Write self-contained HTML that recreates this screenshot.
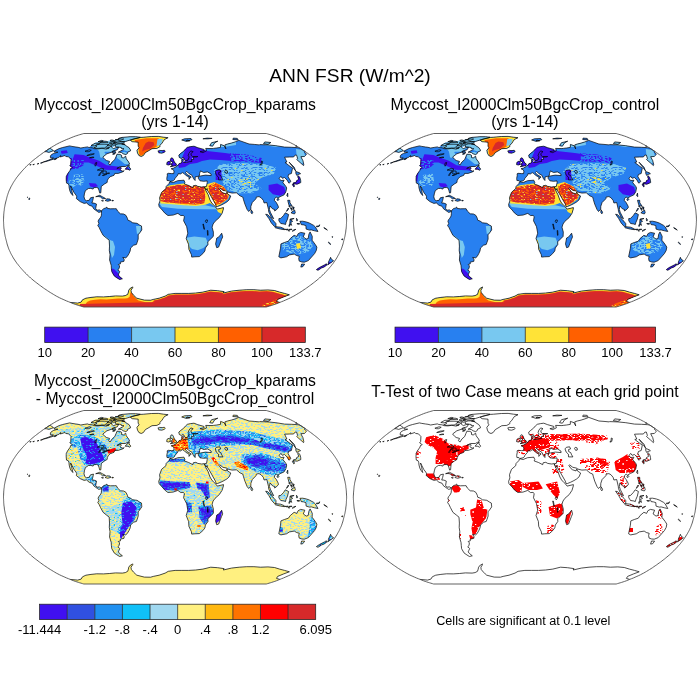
<!DOCTYPE html><html><head><meta charset="utf-8"><style>
html,body{margin:0;padding:0;background:#fff;width:700px;height:700px;overflow:hidden}
svg{position:absolute;left:0;top:0;will-change:transform}
text{font-family:"Liberation Sans",sans-serif;fill:#000}
</style></head><body>
<svg width="700" height="700" viewBox="0 0 700 700">
<defs><pattern id="mixYL" width="30" height="24" patternUnits="userSpaceOnUse">
<rect width="30" height="24" fill="#FFF080"/>
<path d="M0 0h1.25v1h-1.25zM2.5 0h1.25v1h-1.25zM6.25 0h2.5v1h-2.5zM10 0h2.5v1h-2.5zM13.75 0h1.25v1h-1.25zM16.25 0h1.25v1h-1.25zM18.75 0h1.25v1h-1.25zM26.25 0h1.25v1h-1.25zM0 1h2.5v1h-2.5zM3.75 1h1.25v1h-1.25zM10 1h1.25v1h-1.25zM12.5 1h1.25v1h-1.25zM16.25 1h3.75v1h-3.75zM21.25 1h1.25v1h-1.25zM23.75 1h1.25v1h-1.25zM26.25 1h2.5v1h-2.5zM8.75 2h1.25v1h-1.25zM16.25 2h1.25v1h-1.25zM20 2h2.5v1h-2.5zM25 2h1.25v1h-1.25zM27.5 2h2.5v1h-2.5zM0 3h1.25v1h-1.25zM3.75 3h1.25v1h-1.25zM6.25 3h1.25v1h-1.25zM8.75 3h1.25v1h-1.25zM15 3h2.5v1h-2.5zM18.75 3h3.75v1h-3.75zM23.75 3h2.5v1h-2.5zM27.5 3h1.25v1h-1.25zM1.25 4h2.5v1h-2.5zM12.5 4h1.25v1h-1.25zM15 4h2.5v1h-2.5zM21.25 4h2.5v1h-2.5zM25 4h1.25v1h-1.25zM28.75 4h1.25v1h-1.25zM1.25 5h1.25v1h-1.25zM3.75 5h1.25v1h-1.25zM7.5 5h2.5v1h-2.5zM12.5 5h2.5v1h-2.5zM16.25 5h5v1h-5zM22.5 5h2.5v1h-2.5zM26.25 5h1.25v1h-1.25zM0 6h2.5v1h-2.5zM3.75 6h3.75v1h-3.75zM8.75 6h3.75v1h-3.75zM13.75 6h1.25v1h-1.25zM16.25 6h2.5v1h-2.5zM21.25 6h3.75v1h-3.75zM26.25 6h1.25v1h-1.25zM0 7h2.5v1h-2.5zM6.25 7h3.75v1h-3.75zM11.25 7h6.25v1h-6.25zM18.75 7h2.5v1h-2.5zM25 7h1.25v1h-1.25zM28.75 7h1.25v1h-1.25zM5 8h5v1h-5zM11.25 8h1.25v1h-1.25zM13.75 8h1.25v1h-1.25zM22.5 8h1.25v1h-1.25zM25 8h2.5v1h-2.5zM0 9h1.25v1h-1.25zM3.75 9h2.5v1h-2.5zM7.5 9h1.25v1h-1.25zM10 9h2.5v1h-2.5zM15 9h1.25v1h-1.25zM21.25 9h1.25v1h-1.25zM25 9h3.75v1h-3.75zM0 10h2.5v1h-2.5zM3.75 10h6.25v1h-6.25zM12.5 10h1.25v1h-1.25zM15 10h3.75v1h-3.75zM21.25 10h5v1h-5zM28.75 10h1.25v1h-1.25zM0 11h3.75v1h-3.75zM6.25 11h1.25v1h-1.25zM10 11h2.5v1h-2.5zM15 11h1.25v1h-1.25zM17.5 11h2.5v1h-2.5zM22.5 11h3.75v1h-3.75zM28.75 11h1.25v1h-1.25zM2.5 12h3.75v1h-3.75zM15 12h1.25v1h-1.25zM17.5 12h2.5v1h-2.5zM21.25 12h3.75v1h-3.75zM26.25 12h2.5v1h-2.5zM0 13h1.25v1h-1.25zM8.75 13h1.25v1h-1.25zM13.75 13h1.25v1h-1.25zM17.5 13h2.5v1h-2.5zM22.5 13h3.75v1h-3.75zM28.75 13h1.25v1h-1.25zM0 14h6.25v1h-6.25zM8.75 14h1.25v1h-1.25zM11.25 14h1.25v1h-1.25zM21.25 14h2.5v1h-2.5zM27.5 14h1.25v1h-1.25zM0 15h3.75v1h-3.75zM5 15h2.5v1h-2.5zM10 15h1.25v1h-1.25zM12.5 15h1.25v1h-1.25zM16.25 15h10v1h-10zM27.5 15h1.25v1h-1.25zM0 16h1.25v1h-1.25zM2.5 16h1.25v1h-1.25zM11.25 16h1.25v1h-1.25zM15 16h3.75v1h-3.75zM23.75 16h5v1h-5zM2.5 17h1.25v1h-1.25zM5 17h2.5v1h-2.5zM8.75 17h2.5v1h-2.5zM12.5 17h2.5v1h-2.5zM17.5 17h3.75v1h-3.75zM22.5 17h1.25v1h-1.25zM26.25 17h1.25v1h-1.25zM28.75 17h1.25v1h-1.25zM0 18h1.25v1h-1.25zM2.5 18h1.25v1h-1.25zM6.25 18h1.25v1h-1.25zM8.75 18h1.25v1h-1.25zM12.5 18h1.25v1h-1.25zM17.5 18h1.25v1h-1.25zM23.75 18h1.25v1h-1.25zM26.25 18h1.25v1h-1.25zM1.25 19h1.25v1h-1.25zM5 19h1.25v1h-1.25zM8.75 19h1.25v1h-1.25zM11.25 19h2.5v1h-2.5zM18.75 19h5v1h-5zM28.75 19h1.25v1h-1.25zM0 20h2.5v1h-2.5zM3.75 20h1.25v1h-1.25zM6.25 20h1.25v1h-1.25zM8.75 20h3.75v1h-3.75zM15 20h1.25v1h-1.25zM17.5 20h5v1h-5zM25 20h3.75v1h-3.75zM3.75 21h3.75v1h-3.75zM10 21h2.5v1h-2.5zM13.75 21h1.25v1h-1.25zM18.75 21h1.25v1h-1.25zM26.25 21h1.25v1h-1.25zM2.5 22h1.25v1h-1.25zM8.75 22h2.5v1h-2.5zM12.5 22h1.25v1h-1.25zM16.25 22h1.25v1h-1.25zM21.25 22h1.25v1h-1.25zM25 22h5v1h-5zM2.5 23h1.25v1h-1.25zM6.25 23h1.25v1h-1.25zM13.75 23h1.25v1h-1.25zM18.75 23h1.25v1h-1.25zM22.5 23h6.25v1h-6.25z" fill="#A0D8F0"/>
</pattern><pattern id="mixY" width="30" height="24" patternUnits="userSpaceOnUse">
<rect width="30" height="24" fill="#FFF080"/>
<path d="M7.5 0h1.25v1h-1.25zM13.75 0h1.25v1h-1.25zM20 0h2.5v1h-2.5zM26.25 0h1.25v1h-1.25zM28.75 0h1.25v1h-1.25zM1.25 1h2.5v1h-2.5zM5 1h2.5v1h-2.5zM15 1h1.25v1h-1.25zM23.75 1h3.75v1h-3.75zM0 2h1.25v1h-1.25zM11.25 2h1.25v1h-1.25zM13.75 2h1.25v1h-1.25zM17.5 2h1.25v1h-1.25zM22.5 2h3.75v1h-3.75zM27.5 2h1.25v1h-1.25zM7.5 3h1.25v1h-1.25zM12.5 3h1.25v1h-1.25zM15 3h1.25v1h-1.25zM26.25 3h3.75v1h-3.75zM2.5 4h2.5v1h-2.5zM15 4h1.25v1h-1.25zM17.5 4h1.25v1h-1.25zM21.25 4h1.25v1h-1.25zM27.5 4h1.25v1h-1.25zM0 5h1.25v1h-1.25zM16.25 5h1.25v1h-1.25zM25 5h1.25v1h-1.25zM20 6h1.25v1h-1.25zM15 7h1.25v1h-1.25zM23.75 7h1.25v1h-1.25zM5 8h2.5v1h-2.5zM10 8h1.25v1h-1.25zM13.75 8h1.25v1h-1.25zM17.5 8h2.5v1h-2.5zM21.25 8h3.75v1h-3.75zM2.5 9h1.25v1h-1.25zM7.5 9h1.25v1h-1.25zM11.25 9h1.25v1h-1.25zM13.75 9h1.25v1h-1.25zM26.25 9h1.25v1h-1.25zM6.25 10h2.5v1h-2.5zM11.25 10h1.25v1h-1.25zM7.5 11h1.25v1h-1.25zM15 11h1.25v1h-1.25zM23.75 11h1.25v1h-1.25zM3.75 12h1.25v1h-1.25zM17.5 12h1.25v1h-1.25zM25 12h1.25v1h-1.25zM8.75 13h1.25v1h-1.25zM12.5 13h1.25v1h-1.25zM21.25 13h1.25v1h-1.25zM27.5 13h1.25v1h-1.25zM1.25 14h1.25v1h-1.25zM7.5 14h1.25v1h-1.25zM13.75 14h1.25v1h-1.25zM16.25 14h1.25v1h-1.25zM21.25 14h1.25v1h-1.25zM25 14h1.25v1h-1.25zM28.75 14h1.25v1h-1.25zM1.25 15h2.5v1h-2.5zM5 15h2.5v1h-2.5zM11.25 15h1.25v1h-1.25zM20 15h1.25v1h-1.25zM22.5 15h1.25v1h-1.25zM6.25 16h1.25v1h-1.25zM11.25 16h1.25v1h-1.25zM15 16h1.25v1h-1.25zM17.5 16h2.5v1h-2.5zM27.5 16h1.25v1h-1.25zM0 17h2.5v1h-2.5zM6.25 17h1.25v1h-1.25zM11.25 17h1.25v1h-1.25zM21.25 17h1.25v1h-1.25zM5 18h5v1h-5zM13.75 18h1.25v1h-1.25zM21.25 18h3.75v1h-3.75zM28.75 18h1.25v1h-1.25zM2.5 19h1.25v1h-1.25zM7.5 19h1.25v1h-1.25zM17.5 19h1.25v1h-1.25zM23.75 19h3.75v1h-3.75zM28.75 19h1.25v1h-1.25zM10 20h1.25v1h-1.25zM18.75 20h2.5v1h-2.5zM23.75 20h1.25v1h-1.25zM0 21h2.5v1h-2.5zM6.25 21h1.25v1h-1.25zM8.75 21h1.25v1h-1.25zM11.25 21h1.25v1h-1.25zM16.25 21h2.5v1h-2.5zM20 21h1.25v1h-1.25zM25 21h1.25v1h-1.25zM27.5 21h1.25v1h-1.25zM3.75 22h2.5v1h-2.5zM20 22h1.25v1h-1.25zM22.5 22h1.25v1h-1.25zM27.5 22h2.5v1h-2.5zM1.25 23h1.25v1h-1.25zM6.25 23h1.25v1h-1.25zM8.75 23h2.5v1h-2.5zM13.75 23h1.25v1h-1.25z" fill="#A0D8F0"/>
</pattern><pattern id="mixYO" width="30" height="24" patternUnits="userSpaceOnUse">
<rect width="30" height="24" fill="#FFF080"/>
<path d="M3.75 0h2.5v1h-2.5zM12.5 0h1.25v1h-1.25zM20 0h1.25v1h-1.25zM23.75 0h1.25v1h-1.25zM0 1h1.25v1h-1.25zM5 1h2.5v1h-2.5zM8.75 1h1.25v1h-1.25zM12.5 1h1.25v1h-1.25zM25 1h1.25v1h-1.25zM1.25 2h1.25v1h-1.25zM5 2h1.25v1h-1.25zM8.75 2h1.25v1h-1.25zM11.25 2h2.5v1h-2.5zM16.25 2h1.25v1h-1.25zM18.75 2h1.25v1h-1.25zM27.5 2h1.25v1h-1.25zM0 3h1.25v1h-1.25zM6.25 3h1.25v1h-1.25zM21.25 3h1.25v1h-1.25zM23.75 3h1.25v1h-1.25zM27.5 3h2.5v1h-2.5zM0 4h1.25v1h-1.25zM3.75 4h1.25v1h-1.25zM7.5 4h1.25v1h-1.25zM12.5 4h1.25v1h-1.25zM16.25 4h1.25v1h-1.25zM5 5h2.5v1h-2.5zM8.75 5h2.5v1h-2.5zM12.5 5h1.25v1h-1.25zM18.75 5h2.5v1h-2.5zM0 6h1.25v1h-1.25zM2.5 6h1.25v1h-1.25zM6.25 6h1.25v1h-1.25zM8.75 6h2.5v1h-2.5zM17.5 6h1.25v1h-1.25zM20 6h1.25v1h-1.25zM0 7h1.25v1h-1.25zM7.5 7h1.25v1h-1.25zM10 7h1.25v1h-1.25zM13.75 7h1.25v1h-1.25zM16.25 7h1.25v1h-1.25zM18.75 7h1.25v1h-1.25zM23.75 7h2.5v1h-2.5zM0 8h2.5v1h-2.5zM3.75 8h1.25v1h-1.25zM11.25 8h1.25v1h-1.25zM13.75 8h1.25v1h-1.25zM18.75 8h2.5v1h-2.5zM22.5 8h1.25v1h-1.25zM25 8h3.75v1h-3.75zM1.25 9h2.5v1h-2.5zM7.5 9h1.25v1h-1.25zM10 9h1.25v1h-1.25zM15 9h1.25v1h-1.25zM2.5 10h1.25v1h-1.25zM6.25 10h2.5v1h-2.5zM10 10h1.25v1h-1.25zM12.5 10h1.25v1h-1.25zM15 10h1.25v1h-1.25zM18.75 10h1.25v1h-1.25zM22.5 10h1.25v1h-1.25zM27.5 10h1.25v1h-1.25zM0 11h2.5v1h-2.5zM3.75 11h1.25v1h-1.25zM11.25 11h1.25v1h-1.25zM13.75 11h1.25v1h-1.25zM18.75 11h1.25v1h-1.25zM21.25 11h1.25v1h-1.25zM0 12h1.25v1h-1.25zM2.5 12h1.25v1h-1.25zM5 12h1.25v1h-1.25zM7.5 12h1.25v1h-1.25zM13.75 12h6.25v1h-6.25zM21.25 12h1.25v1h-1.25zM23.75 12h2.5v1h-2.5zM27.5 12h1.25v1h-1.25zM6.25 13h2.5v1h-2.5zM10 13h1.25v1h-1.25zM18.75 13h1.25v1h-1.25zM1.25 14h1.25v1h-1.25zM7.5 14h2.5v1h-2.5zM13.75 14h1.25v1h-1.25zM16.25 14h1.25v1h-1.25zM21.25 14h1.25v1h-1.25zM23.75 14h1.25v1h-1.25zM12.5 15h3.75v1h-3.75zM18.75 15h1.25v1h-1.25zM21.25 15h1.25v1h-1.25zM25 15h1.25v1h-1.25zM28.75 15h1.25v1h-1.25zM1.25 16h1.25v1h-1.25zM5 16h2.5v1h-2.5zM12.5 16h1.25v1h-1.25zM23.75 16h2.5v1h-2.5zM27.5 16h1.25v1h-1.25zM1.25 17h2.5v1h-2.5zM7.5 17h1.25v1h-1.25zM12.5 17h1.25v1h-1.25zM17.5 17h1.25v1h-1.25zM21.25 17h1.25v1h-1.25zM23.75 17h1.25v1h-1.25zM0 18h2.5v1h-2.5zM8.75 18h1.25v1h-1.25zM18.75 18h1.25v1h-1.25zM23.75 18h1.25v1h-1.25zM28.75 18h1.25v1h-1.25zM0 19h3.75v1h-3.75zM5 19h2.5v1h-2.5zM11.25 19h1.25v1h-1.25zM15 19h1.25v1h-1.25zM18.75 19h2.5v1h-2.5zM22.5 19h1.25v1h-1.25zM28.75 19h1.25v1h-1.25zM5 20h1.25v1h-1.25zM12.5 20h2.5v1h-2.5zM23.75 20h2.5v1h-2.5zM1.25 21h2.5v1h-2.5zM6.25 21h5v1h-5zM18.75 21h1.25v1h-1.25zM23.75 21h3.75v1h-3.75zM0 22h1.25v1h-1.25zM6.25 22h1.25v1h-1.25zM8.75 22h2.5v1h-2.5zM13.75 22h8.75v1h-8.75zM1.25 23h3.75v1h-3.75zM6.25 23h2.5v1h-2.5zM15 23h1.25v1h-1.25zM22.5 23h1.25v1h-1.25zM28.75 23h1.25v1h-1.25z" fill="#A0D8F0"/>
<path d="M10 0h1.25v1h-1.25zM15 1h1.25v1h-1.25zM26.25 1h1.25v1h-1.25zM25 2h2.5v1h-2.5zM3.75 3h1.25v1h-1.25zM2.5 4h1.25v1h-1.25zM17.5 4h1.25v1h-1.25zM26.25 4h1.25v1h-1.25zM0 5h1.25v1h-1.25zM15 5h1.25v1h-1.25zM1.25 6h1.25v1h-1.25zM2.5 8h1.25v1h-1.25zM0 9h1.25v1h-1.25zM17.5 9h1.25v1h-1.25zM20 9h1.25v1h-1.25zM28.75 9h1.25v1h-1.25zM5 10h1.25v1h-1.25zM13.75 10h1.25v1h-1.25zM3.75 12h1.25v1h-1.25zM0 13h1.25v1h-1.25zM10 14h1.25v1h-1.25zM12.5 14h1.25v1h-1.25zM22.5 14h1.25v1h-1.25zM3.75 15h1.25v1h-1.25zM5 17h1.25v1h-1.25zM10 17h1.25v1h-1.25zM23.75 19h1.25v1h-1.25zM18.75 20h1.25v1h-1.25zM12.5 21h1.25v1h-1.25zM11.25 22h1.25v1h-1.25zM20 23h1.25v1h-1.25zM26.25 23h1.25v1h-1.25z" fill="#10C0F8"/>
<path d="M28.75 0h1.25v1h-1.25zM28.75 1h1.25v1h-1.25zM7.5 2h1.25v1h-1.25zM20 2h1.25v1h-1.25zM23.75 2h1.25v1h-1.25zM18.75 4h1.25v1h-1.25zM21.25 4h1.25v1h-1.25zM28.75 4h1.25v1h-1.25zM10 8h1.25v1h-1.25zM8.75 9h1.25v1h-1.25zM16.25 9h1.25v1h-1.25zM6.25 14h1.25v1h-1.25zM15 14h1.25v1h-1.25zM0 16h1.25v1h-1.25zM11.25 18h1.25v1h-1.25zM3.75 19h1.25v1h-1.25zM17.5 19h1.25v1h-1.25zM26.25 19h1.25v1h-1.25zM16.25 20h1.25v1h-1.25zM27.5 20h1.25v1h-1.25zM11.25 21h1.25v1h-1.25zM22.5 22h1.25v1h-1.25zM28.75 22h1.25v1h-1.25zM8.75 23h1.25v1h-1.25z" fill="#FFB810"/>
</pattern><pattern id="mixL" width="30" height="24" patternUnits="userSpaceOnUse">
<rect width="30" height="24" fill="#A0D8F0"/>
<path d="M1.25 0h1.25v1h-1.25zM3.75 0h1.25v1h-1.25zM7.5 0h1.25v1h-1.25zM10 0h1.25v1h-1.25zM12.5 0h2.5v1h-2.5zM17.5 0h2.5v1h-2.5zM26.25 0h1.25v1h-1.25zM0 1h2.5v1h-2.5zM5 1h1.25v1h-1.25zM11.25 1h3.75v1h-3.75zM25 1h1.25v1h-1.25zM3.75 2h1.25v1h-1.25zM7.5 2h1.25v1h-1.25zM10 2h1.25v1h-1.25zM27.5 2h1.25v1h-1.25zM7.5 3h1.25v1h-1.25zM10 3h3.75v1h-3.75zM15 3h2.5v1h-2.5zM20 3h1.25v1h-1.25zM3.75 4h5v1h-5zM12.5 4h1.25v1h-1.25zM23.75 4h1.25v1h-1.25zM2.5 5h1.25v1h-1.25zM5 5h5v1h-5zM11.25 5h5v1h-5zM17.5 5h1.25v1h-1.25zM21.25 5h1.25v1h-1.25zM26.25 5h1.25v1h-1.25zM2.5 6h2.5v1h-2.5zM8.75 6h2.5v1h-2.5zM13.75 6h1.25v1h-1.25zM16.25 6h1.25v1h-1.25zM25 6h1.25v1h-1.25zM1.25 7h1.25v1h-1.25zM10 7h1.25v1h-1.25zM13.75 7h2.5v1h-2.5zM27.5 7h2.5v1h-2.5zM0 8h2.5v1h-2.5zM10 8h1.25v1h-1.25zM17.5 8h1.25v1h-1.25zM28.75 8h1.25v1h-1.25zM0 9h2.5v1h-2.5zM5 9h1.25v1h-1.25zM12.5 9h2.5v1h-2.5zM23.75 9h1.25v1h-1.25zM27.5 9h1.25v1h-1.25zM2.5 10h1.25v1h-1.25zM16.25 10h1.25v1h-1.25zM18.75 10h2.5v1h-2.5zM22.5 10h1.25v1h-1.25zM2.5 11h1.25v1h-1.25zM5 11h1.25v1h-1.25zM3.75 12h2.5v1h-2.5zM7.5 12h3.75v1h-3.75zM15 12h1.25v1h-1.25zM18.75 12h1.25v1h-1.25zM22.5 12h1.25v1h-1.25zM0 13h1.25v1h-1.25zM5 13h1.25v1h-1.25zM8.75 13h1.25v1h-1.25zM12.5 13h1.25v1h-1.25zM17.5 13h1.25v1h-1.25zM22.5 13h1.25v1h-1.25zM25 13h1.25v1h-1.25zM28.75 13h1.25v1h-1.25zM5 14h1.25v1h-1.25zM10 14h2.5v1h-2.5zM15 14h1.25v1h-1.25zM20 14h1.25v1h-1.25zM22.5 14h1.25v1h-1.25zM1.25 15h1.25v1h-1.25zM3.75 15h6.25v1h-6.25zM16.25 15h1.25v1h-1.25zM18.75 15h1.25v1h-1.25zM21.25 15h1.25v1h-1.25zM25 15h1.25v1h-1.25zM28.75 15h1.25v1h-1.25zM17.5 16h3.75v1h-3.75zM23.75 16h2.5v1h-2.5zM1.25 17h1.25v1h-1.25zM5 17h1.25v1h-1.25zM12.5 17h1.25v1h-1.25zM17.5 17h1.25v1h-1.25zM22.5 17h1.25v1h-1.25zM25 17h1.25v1h-1.25zM27.5 17h1.25v1h-1.25zM0 18h2.5v1h-2.5zM3.75 18h1.25v1h-1.25zM16.25 18h1.25v1h-1.25zM20 18h1.25v1h-1.25zM27.5 18h1.25v1h-1.25zM10 19h3.75v1h-3.75zM15 19h1.25v1h-1.25zM23.75 19h1.25v1h-1.25zM1.25 20h1.25v1h-1.25zM5 20h1.25v1h-1.25zM8.75 20h1.25v1h-1.25zM21.25 20h2.5v1h-2.5zM28.75 20h1.25v1h-1.25zM0 21h1.25v1h-1.25zM11.25 21h1.25v1h-1.25zM13.75 21h1.25v1h-1.25zM17.5 21h1.25v1h-1.25zM25 21h1.25v1h-1.25zM27.5 21h1.25v1h-1.25zM0 22h1.25v1h-1.25zM3.75 22h1.25v1h-1.25zM10 22h1.25v1h-1.25zM13.75 22h2.5v1h-2.5zM20 22h1.25v1h-1.25zM25 22h1.25v1h-1.25zM28.75 22h1.25v1h-1.25zM13.75 23h2.5v1h-2.5zM20 23h1.25v1h-1.25zM23.75 23h1.25v1h-1.25z" fill="#FFF080"/>
<path d="M28.75 0h1.25v1h-1.25zM21.25 1h1.25v1h-1.25zM1.25 2h1.25v1h-1.25zM3.75 3h1.25v1h-1.25zM27.5 3h1.25v1h-1.25zM11.25 4h1.25v1h-1.25zM22.5 5h1.25v1h-1.25zM6.25 6h1.25v1h-1.25zM22.5 6h1.25v1h-1.25zM16.25 7h2.5v1h-2.5zM25 9h2.5v1h-2.5zM0 10h1.25v1h-1.25zM6.25 11h1.25v1h-1.25zM28.75 11h1.25v1h-1.25zM23.75 13h1.25v1h-1.25zM27.5 13h1.25v1h-1.25zM3.75 14h1.25v1h-1.25zM0 15h1.25v1h-1.25zM13.75 15h1.25v1h-1.25zM20 15h1.25v1h-1.25zM22.5 16h1.25v1h-1.25zM0 17h1.25v1h-1.25zM2.5 17h1.25v1h-1.25zM7.5 17h1.25v1h-1.25zM26.25 17h1.25v1h-1.25zM3.75 20h1.25v1h-1.25zM6.25 20h1.25v1h-1.25zM23.75 20h1.25v1h-1.25zM1.25 21h1.25v1h-1.25zM6.25 21h1.25v1h-1.25zM23.75 21h1.25v1h-1.25zM3.75 23h1.25v1h-1.25zM12.5 23h1.25v1h-1.25zM17.5 23h1.25v1h-1.25zM21.25 23h1.25v1h-1.25z" fill="#10C0F8"/>
</pattern><pattern id="mixB" width="30" height="24" patternUnits="userSpaceOnUse">
<rect width="30" height="24" fill="#A0D8F0"/>
<path d="M0 0h1.25v1h-1.25zM2.5 0h1.25v1h-1.25zM5 0h2.5v1h-2.5zM8.75 0h1.25v1h-1.25zM15 0h1.25v1h-1.25zM17.5 0h5v1h-5zM26.25 0h2.5v1h-2.5zM0 1h1.25v1h-1.25zM5 1h1.25v1h-1.25zM12.5 1h2.5v1h-2.5zM17.5 1h1.25v1h-1.25zM23.75 1h1.25v1h-1.25zM27.5 1h1.25v1h-1.25zM0 2h1.25v1h-1.25zM7.5 2h2.5v1h-2.5zM12.5 2h1.25v1h-1.25zM17.5 2h6.25v1h-6.25zM28.75 2h1.25v1h-1.25zM1.25 3h1.25v1h-1.25zM5 3h1.25v1h-1.25zM7.5 3h2.5v1h-2.5zM11.25 3h2.5v1h-2.5zM15 3h1.25v1h-1.25zM21.25 3h5v1h-5zM3.75 4h3.75v1h-3.75zM13.75 4h1.25v1h-1.25zM16.25 4h1.25v1h-1.25zM18.75 4h1.25v1h-1.25zM25 4h1.25v1h-1.25zM28.75 4h1.25v1h-1.25zM3.75 5h2.5v1h-2.5zM8.75 5h1.25v1h-1.25zM17.5 5h2.5v1h-2.5zM21.25 5h1.25v1h-1.25zM26.25 5h1.25v1h-1.25zM0 6h1.25v1h-1.25zM6.25 6h2.5v1h-2.5zM12.5 6h1.25v1h-1.25zM20 6h2.5v1h-2.5zM3.75 7h1.25v1h-1.25zM6.25 7h1.25v1h-1.25zM11.25 7h2.5v1h-2.5zM28.75 7h1.25v1h-1.25zM0 8h1.25v1h-1.25zM2.5 8h1.25v1h-1.25zM5 8h1.25v1h-1.25zM7.5 8h2.5v1h-2.5zM12.5 8h1.25v1h-1.25zM21.25 8h1.25v1h-1.25zM7.5 9h1.25v1h-1.25zM11.25 9h1.25v1h-1.25zM17.5 9h1.25v1h-1.25zM22.5 9h2.5v1h-2.5zM5 10h2.5v1h-2.5zM8.75 10h1.25v1h-1.25zM11.25 10h1.25v1h-1.25zM13.75 10h3.75v1h-3.75zM21.25 10h5v1h-5zM27.5 10h2.5v1h-2.5zM5 11h1.25v1h-1.25zM15 11h2.5v1h-2.5zM18.75 11h1.25v1h-1.25zM21.25 11h1.25v1h-1.25zM10 12h1.25v1h-1.25zM13.75 12h1.25v1h-1.25zM21.25 12h2.5v1h-2.5zM28.75 12h1.25v1h-1.25zM1.25 13h1.25v1h-1.25zM5 13h1.25v1h-1.25zM8.75 13h1.25v1h-1.25zM11.25 13h2.5v1h-2.5zM15 13h1.25v1h-1.25zM21.25 13h1.25v1h-1.25zM23.75 13h1.25v1h-1.25zM3.75 14h2.5v1h-2.5zM7.5 14h1.25v1h-1.25zM13.75 14h2.5v1h-2.5zM18.75 14h3.75v1h-3.75zM26.25 14h1.25v1h-1.25zM3.75 15h1.25v1h-1.25zM6.25 15h1.25v1h-1.25zM13.75 15h1.25v1h-1.25zM26.25 15h2.5v1h-2.5zM0 16h1.25v1h-1.25zM3.75 16h1.25v1h-1.25zM6.25 16h1.25v1h-1.25zM8.75 16h3.75v1h-3.75zM13.75 16h2.5v1h-2.5zM22.5 16h1.25v1h-1.25zM25 16h1.25v1h-1.25zM0 17h1.25v1h-1.25zM2.5 17h1.25v1h-1.25zM12.5 17h2.5v1h-2.5zM18.75 17h1.25v1h-1.25zM22.5 17h1.25v1h-1.25zM25 17h3.75v1h-3.75zM1.25 18h1.25v1h-1.25zM5 18h1.25v1h-1.25zM10 18h1.25v1h-1.25zM13.75 18h1.25v1h-1.25zM22.5 18h1.25v1h-1.25zM25 18h2.5v1h-2.5zM8.75 19h1.25v1h-1.25zM12.5 19h3.75v1h-3.75zM18.75 19h1.25v1h-1.25zM22.5 19h1.25v1h-1.25zM26.25 19h2.5v1h-2.5zM5 20h1.25v1h-1.25zM17.5 20h1.25v1h-1.25zM28.75 20h1.25v1h-1.25zM1.25 21h1.25v1h-1.25zM3.75 21h1.25v1h-1.25zM6.25 21h2.5v1h-2.5zM10 21h1.25v1h-1.25zM12.5 21h1.25v1h-1.25zM6.25 22h2.5v1h-2.5zM20 22h2.5v1h-2.5zM0 23h1.25v1h-1.25zM8.75 23h1.25v1h-1.25zM13.75 23h6.25v1h-6.25zM26.25 23h3.75v1h-3.75z" fill="#2090F0"/>
<path d="M11.25 0h3.75v1h-3.75zM22.5 0h1.25v1h-1.25zM25 0h1.25v1h-1.25zM2.5 1h1.25v1h-1.25zM7.5 1h1.25v1h-1.25zM16.25 1h1.25v1h-1.25zM25 1h1.25v1h-1.25zM6.25 2h1.25v1h-1.25zM10 2h2.5v1h-2.5zM15 2h1.25v1h-1.25zM23.75 2h2.5v1h-2.5zM0 3h1.25v1h-1.25zM13.75 3h1.25v1h-1.25zM16.25 3h3.75v1h-3.75zM26.25 3h2.5v1h-2.5zM0 4h1.25v1h-1.25zM7.5 4h1.25v1h-1.25zM11.25 4h1.25v1h-1.25zM27.5 4h1.25v1h-1.25zM1.25 5h2.5v1h-2.5zM7.5 5h1.25v1h-1.25zM10 5h1.25v1h-1.25zM13.75 5h3.75v1h-3.75zM20 5h1.25v1h-1.25zM27.5 5h2.5v1h-2.5zM3.75 6h1.25v1h-1.25zM8.75 6h1.25v1h-1.25zM22.5 6h1.25v1h-1.25zM25 6h1.25v1h-1.25zM28.75 6h1.25v1h-1.25zM7.5 7h1.25v1h-1.25zM22.5 7h5v1h-5zM3.75 8h1.25v1h-1.25zM11.25 8h1.25v1h-1.25zM15 8h2.5v1h-2.5zM26.25 8h1.25v1h-1.25zM0 9h1.25v1h-1.25zM12.5 9h1.25v1h-1.25zM28.75 9h1.25v1h-1.25zM7.5 10h1.25v1h-1.25zM10 10h1.25v1h-1.25zM17.5 10h2.5v1h-2.5zM8.75 11h1.25v1h-1.25zM17.5 11h1.25v1h-1.25zM26.25 11h1.25v1h-1.25zM5 12h2.5v1h-2.5zM8.75 12h1.25v1h-1.25zM12.5 12h1.25v1h-1.25zM16.25 12h1.25v1h-1.25zM18.75 12h1.25v1h-1.25zM23.75 12h1.25v1h-1.25zM0 13h1.25v1h-1.25zM2.5 13h1.25v1h-1.25zM17.5 13h1.25v1h-1.25zM28.75 13h1.25v1h-1.25zM2.5 14h1.25v1h-1.25zM6.25 14h1.25v1h-1.25zM8.75 14h1.25v1h-1.25zM11.25 14h1.25v1h-1.25zM22.5 14h2.5v1h-2.5zM8.75 15h1.25v1h-1.25zM11.25 15h1.25v1h-1.25zM17.5 15h1.25v1h-1.25zM20 15h5v1h-5zM27.5 16h1.25v1h-1.25zM3.75 17h2.5v1h-2.5zM11.25 17h1.25v1h-1.25zM28.75 17h1.25v1h-1.25zM2.5 18h1.25v1h-1.25zM6.25 18h1.25v1h-1.25zM8.75 18h1.25v1h-1.25zM20 18h1.25v1h-1.25zM27.5 18h1.25v1h-1.25zM7.5 19h1.25v1h-1.25zM23.75 19h1.25v1h-1.25zM2.5 20h1.25v1h-1.25zM6.25 20h1.25v1h-1.25zM10 20h1.25v1h-1.25zM12.5 20h2.5v1h-2.5zM22.5 20h3.75v1h-3.75zM2.5 21h1.25v1h-1.25zM8.75 21h1.25v1h-1.25zM11.25 21h1.25v1h-1.25zM13.75 21h1.25v1h-1.25zM20 21h2.5v1h-2.5zM25 21h1.25v1h-1.25zM28.75 21h1.25v1h-1.25zM0 22h5v1h-5zM10 22h1.25v1h-1.25zM18.75 22h1.25v1h-1.25zM25 22h2.5v1h-2.5zM6.25 23h1.25v1h-1.25zM10 23h1.25v1h-1.25zM20 23h1.25v1h-1.25zM23.75 23h1.25v1h-1.25z" fill="#10C0F8"/>
<path d="M11.25 1h1.25v1h-1.25zM20 1h1.25v1h-1.25zM20 3h1.25v1h-1.25zM8.75 4h1.25v1h-1.25zM23.75 4h1.25v1h-1.25zM6.25 5h1.25v1h-1.25zM23.75 8h1.25v1h-1.25zM3.75 10h1.25v1h-1.25zM0 11h1.25v1h-1.25zM3.75 11h1.25v1h-1.25zM10 11h1.25v1h-1.25zM23.75 11h1.25v1h-1.25zM28.75 11h1.25v1h-1.25zM13.75 13h1.25v1h-1.25zM25 14h1.25v1h-1.25zM2.5 15h1.25v1h-1.25zM15 15h1.25v1h-1.25zM20 16h1.25v1h-1.25zM20 17h1.25v1h-1.25zM17.5 19h1.25v1h-1.25zM21.25 19h1.25v1h-1.25zM28.75 19h1.25v1h-1.25zM11.25 20h1.25v1h-1.25zM26.25 20h1.25v1h-1.25zM15 22h1.25v1h-1.25zM2.5 23h1.25v1h-1.25zM21.25 23h1.25v1h-1.25z" fill="#3050E0"/>
</pattern><pattern id="mixD" width="30" height="24" patternUnits="userSpaceOnUse">
<rect width="30" height="24" fill="#3050E0"/>
<path d="M0 0h2.5v1h-2.5zM6.25 0h1.25v1h-1.25zM13.75 0h1.25v1h-1.25zM16.25 0h1.25v1h-1.25zM22.5 0h1.25v1h-1.25zM27.5 0h1.25v1h-1.25zM5 1h1.25v1h-1.25zM17.5 1h2.5v1h-2.5zM21.25 1h1.25v1h-1.25zM3.75 2h1.25v1h-1.25zM7.5 2h1.25v1h-1.25zM10 2h2.5v1h-2.5zM6.25 3h1.25v1h-1.25zM16.25 3h2.5v1h-2.5zM25 3h1.25v1h-1.25zM27.5 3h1.25v1h-1.25zM8.75 4h1.25v1h-1.25zM13.75 4h1.25v1h-1.25zM17.5 4h2.5v1h-2.5zM21.25 4h1.25v1h-1.25zM8.75 5h1.25v1h-1.25zM12.5 5h1.25v1h-1.25zM22.5 5h1.25v1h-1.25zM26.25 5h1.25v1h-1.25zM3.75 6h1.25v1h-1.25zM7.5 6h1.25v1h-1.25zM17.5 6h1.25v1h-1.25zM20 6h1.25v1h-1.25zM22.5 6h1.25v1h-1.25zM25 6h1.25v1h-1.25zM1.25 7h3.75v1h-3.75zM8.75 7h1.25v1h-1.25zM16.25 7h2.5v1h-2.5zM22.5 7h1.25v1h-1.25zM6.25 8h1.25v1h-1.25zM13.75 8h3.75v1h-3.75zM12.5 9h1.25v1h-1.25zM15 9h3.75v1h-3.75zM22.5 9h1.25v1h-1.25zM25 9h1.25v1h-1.25zM26.25 10h1.25v1h-1.25zM0 11h1.25v1h-1.25zM3.75 11h1.25v1h-1.25zM7.5 11h1.25v1h-1.25zM10 11h1.25v1h-1.25zM13.75 11h1.25v1h-1.25zM22.5 11h1.25v1h-1.25zM0 12h1.25v1h-1.25zM5 12h1.25v1h-1.25zM10 12h1.25v1h-1.25zM15 12h1.25v1h-1.25zM28.75 12h1.25v1h-1.25zM1.25 13h1.25v1h-1.25zM5 13h1.25v1h-1.25zM8.75 13h1.25v1h-1.25zM18.75 13h1.25v1h-1.25zM27.5 13h1.25v1h-1.25zM6.25 14h1.25v1h-1.25zM17.5 14h1.25v1h-1.25zM23.75 14h1.25v1h-1.25zM0 15h1.25v1h-1.25zM3.75 15h2.5v1h-2.5zM13.75 15h1.25v1h-1.25zM20 15h1.25v1h-1.25zM22.5 15h1.25v1h-1.25zM8.75 16h1.25v1h-1.25zM11.25 16h1.25v1h-1.25zM21.25 16h1.25v1h-1.25zM28.75 16h1.25v1h-1.25zM1.25 17h1.25v1h-1.25zM3.75 17h1.25v1h-1.25zM11.25 17h1.25v1h-1.25zM21.25 17h1.25v1h-1.25zM27.5 17h1.25v1h-1.25zM6.25 18h1.25v1h-1.25zM21.25 18h1.25v1h-1.25zM2.5 19h1.25v1h-1.25zM5 19h1.25v1h-1.25zM10 19h1.25v1h-1.25zM16.25 19h1.25v1h-1.25zM20 19h1.25v1h-1.25zM0 20h1.25v1h-1.25zM3.75 20h1.25v1h-1.25zM11.25 20h1.25v1h-1.25zM13.75 20h2.5v1h-2.5zM1.25 21h1.25v1h-1.25zM7.5 21h1.25v1h-1.25zM15 21h1.25v1h-1.25zM17.5 21h1.25v1h-1.25zM25 21h1.25v1h-1.25zM28.75 21h1.25v1h-1.25zM1.25 22h1.25v1h-1.25zM6.25 22h1.25v1h-1.25zM8.75 22h1.25v1h-1.25zM13.75 22h1.25v1h-1.25zM0 23h3.75v1h-3.75zM5 23h1.25v1h-1.25zM12.5 23h1.25v1h-1.25zM26.25 23h2.5v1h-2.5z" fill="#4010F0"/>
<path d="M2.5 0h1.25v1h-1.25zM5 0h1.25v1h-1.25zM8.75 0h1.25v1h-1.25zM12.5 0h1.25v1h-1.25zM18.75 0h3.75v1h-3.75zM0 1h2.5v1h-2.5zM6.25 1h5v1h-5zM12.5 1h1.25v1h-1.25zM16.25 1h1.25v1h-1.25zM20 1h1.25v1h-1.25zM23.75 1h1.25v1h-1.25zM26.25 1h1.25v1h-1.25zM0 2h3.75v1h-3.75zM5 2h2.5v1h-2.5zM13.75 2h1.25v1h-1.25zM16.25 2h1.25v1h-1.25zM20 2h1.25v1h-1.25zM23.75 2h2.5v1h-2.5zM28.75 2h1.25v1h-1.25zM2.5 3h1.25v1h-1.25zM5 3h1.25v1h-1.25zM11.25 3h2.5v1h-2.5zM21.25 3h1.25v1h-1.25zM23.75 3h1.25v1h-1.25zM26.25 3h1.25v1h-1.25zM28.75 3h1.25v1h-1.25zM0 4h1.25v1h-1.25zM2.5 4h1.25v1h-1.25zM5 4h1.25v1h-1.25zM11.25 4h1.25v1h-1.25zM15 4h1.25v1h-1.25zM23.75 4h1.25v1h-1.25zM26.25 4h2.5v1h-2.5zM0 5h1.25v1h-1.25zM5 5h3.75v1h-3.75zM13.75 5h1.25v1h-1.25zM16.25 5h2.5v1h-2.5zM21.25 5h1.25v1h-1.25zM28.75 5h1.25v1h-1.25zM5 6h2.5v1h-2.5zM8.75 6h1.25v1h-1.25zM11.25 6h1.25v1h-1.25zM13.75 6h3.75v1h-3.75zM21.25 6h1.25v1h-1.25zM27.5 6h1.25v1h-1.25zM6.25 7h1.25v1h-1.25zM10 7h1.25v1h-1.25zM13.75 7h1.25v1h-1.25zM20 7h1.25v1h-1.25zM25 7h1.25v1h-1.25zM1.25 8h1.25v1h-1.25zM7.5 8h2.5v1h-2.5zM11.25 8h2.5v1h-2.5zM17.5 8h1.25v1h-1.25zM20 8h1.25v1h-1.25zM22.5 8h1.25v1h-1.25zM0 9h3.75v1h-3.75zM5 9h5v1h-5zM20 9h2.5v1h-2.5zM23.75 9h1.25v1h-1.25zM27.5 9h2.5v1h-2.5zM1.25 10h2.5v1h-2.5zM6.25 10h5v1h-5zM21.25 10h3.75v1h-3.75zM27.5 10h1.25v1h-1.25zM1.25 11h2.5v1h-2.5zM8.75 11h1.25v1h-1.25zM11.25 11h2.5v1h-2.5zM15 11h1.25v1h-1.25zM18.75 11h1.25v1h-1.25zM21.25 11h1.25v1h-1.25zM28.75 11h1.25v1h-1.25zM1.25 12h2.5v1h-2.5zM7.5 12h1.25v1h-1.25zM11.25 12h1.25v1h-1.25zM13.75 12h1.25v1h-1.25zM16.25 12h2.5v1h-2.5zM20 12h5v1h-5zM2.5 13h1.25v1h-1.25zM6.25 13h2.5v1h-2.5zM10 13h1.25v1h-1.25zM15 13h1.25v1h-1.25zM17.5 13h1.25v1h-1.25zM25 13h2.5v1h-2.5zM0 14h2.5v1h-2.5zM3.75 14h1.25v1h-1.25zM8.75 14h2.5v1h-2.5zM13.75 14h3.75v1h-3.75zM20 14h2.5v1h-2.5zM1.25 15h1.25v1h-1.25zM12.5 15h1.25v1h-1.25zM18.75 15h1.25v1h-1.25zM26.25 15h2.5v1h-2.5zM1.25 16h1.25v1h-1.25zM3.75 16h5v1h-5zM13.75 16h3.75v1h-3.75zM18.75 16h1.25v1h-1.25zM27.5 16h1.25v1h-1.25zM2.5 17h1.25v1h-1.25zM5 17h1.25v1h-1.25zM8.75 17h1.25v1h-1.25zM12.5 17h1.25v1h-1.25zM16.25 17h5v1h-5zM22.5 17h1.25v1h-1.25zM25 17h2.5v1h-2.5zM28.75 17h1.25v1h-1.25zM0 18h3.75v1h-3.75zM8.75 18h1.25v1h-1.25zM12.5 18h1.25v1h-1.25zM15 18h3.75v1h-3.75zM25 18h1.25v1h-1.25zM0 19h1.25v1h-1.25zM8.75 19h1.25v1h-1.25zM12.5 19h1.25v1h-1.25zM15 19h1.25v1h-1.25zM17.5 19h1.25v1h-1.25zM22.5 19h1.25v1h-1.25zM27.5 19h2.5v1h-2.5zM1.25 20h1.25v1h-1.25zM6.25 20h1.25v1h-1.25zM12.5 20h1.25v1h-1.25zM21.25 20h6.25v1h-6.25zM28.75 20h1.25v1h-1.25zM2.5 21h1.25v1h-1.25zM5 21h1.25v1h-1.25zM10 21h1.25v1h-1.25zM13.75 21h1.25v1h-1.25zM21.25 21h1.25v1h-1.25zM0 22h1.25v1h-1.25zM5 22h1.25v1h-1.25zM10 22h1.25v1h-1.25zM17.5 22h2.5v1h-2.5zM21.25 22h1.25v1h-1.25zM26.25 22h2.5v1h-2.5zM7.5 23h1.25v1h-1.25zM11.25 23h1.25v1h-1.25zM15 23h1.25v1h-1.25zM20 23h1.25v1h-1.25zM25 23h1.25v1h-1.25z" fill="#2090F0"/>
<path d="M10 0h2.5v1h-2.5zM25 0h1.25v1h-1.25zM25 1h1.25v1h-1.25zM27.5 1h1.25v1h-1.25zM15 2h1.25v1h-1.25zM17.5 2h1.25v1h-1.25zM21.25 2h2.5v1h-2.5zM3.75 3h1.25v1h-1.25zM8.75 3h1.25v1h-1.25zM15 3h1.25v1h-1.25zM20 3h1.25v1h-1.25zM1.25 4h1.25v1h-1.25zM3.75 5h1.25v1h-1.25zM10 5h1.25v1h-1.25zM15 5h1.25v1h-1.25zM18.75 5h1.25v1h-1.25zM10 6h1.25v1h-1.25zM18.75 6h1.25v1h-1.25zM21.25 7h1.25v1h-1.25zM28.75 7h1.25v1h-1.25zM2.5 8h2.5v1h-2.5zM10 8h1.25v1h-1.25zM25 8h1.25v1h-1.25zM5 10h1.25v1h-1.25zM25 10h1.25v1h-1.25zM5 11h2.5v1h-2.5zM20 11h1.25v1h-1.25zM23.75 11h1.25v1h-1.25zM3.75 12h1.25v1h-1.25zM11.25 13h1.25v1h-1.25zM13.75 13h1.25v1h-1.25zM5 14h1.25v1h-1.25zM8.75 15h1.25v1h-1.25zM0 16h1.25v1h-1.25zM17.5 16h1.25v1h-1.25zM22.5 16h1.25v1h-1.25zM13.75 17h1.25v1h-1.25zM11.25 18h1.25v1h-1.25zM22.5 18h1.25v1h-1.25zM1.25 19h1.25v1h-1.25zM27.5 20h1.25v1h-1.25zM0 21h1.25v1h-1.25zM26.25 21h1.25v1h-1.25zM7.5 22h1.25v1h-1.25zM16.25 22h1.25v1h-1.25zM22.5 23h1.25v1h-1.25z" fill="#10C0F8"/>
</pattern><pattern id="mixP" width="30" height="24" patternUnits="userSpaceOnUse">
<rect width="30" height="24" fill="#4010F0"/>
<path d="M3.75 0h1.25v1h-1.25zM8.75 0h1.25v1h-1.25zM12.5 0h1.25v1h-1.25zM16.25 0h1.25v1h-1.25zM21.25 0h1.25v1h-1.25zM27.5 0h1.25v1h-1.25zM3.75 1h3.75v1h-3.75zM16.25 1h1.25v1h-1.25zM20 1h2.5v1h-2.5zM23.75 1h1.25v1h-1.25zM1.25 2h1.25v1h-1.25zM6.25 2h1.25v1h-1.25zM8.75 2h2.5v1h-2.5zM16.25 2h2.5v1h-2.5zM20 2h2.5v1h-2.5zM23.75 2h1.25v1h-1.25zM2.5 3h1.25v1h-1.25zM7.5 3h1.25v1h-1.25zM15 3h1.25v1h-1.25zM21.25 3h1.25v1h-1.25zM1.25 4h1.25v1h-1.25zM6.25 4h2.5v1h-2.5zM10 4h3.75v1h-3.75zM0 5h2.5v1h-2.5zM17.5 5h1.25v1h-1.25zM23.75 5h1.25v1h-1.25zM26.25 5h1.25v1h-1.25zM0 6h1.25v1h-1.25zM2.5 6h5v1h-5zM18.75 6h1.25v1h-1.25zM23.75 6h1.25v1h-1.25zM0 7h1.25v1h-1.25zM2.5 7h3.75v1h-3.75zM10 7h1.25v1h-1.25zM15 7h1.25v1h-1.25zM5 8h1.25v1h-1.25zM8.75 8h1.25v1h-1.25zM15 8h5v1h-5zM22.5 8h1.25v1h-1.25zM26.25 8h1.25v1h-1.25zM2.5 9h2.5v1h-2.5zM13.75 9h1.25v1h-1.25zM16.25 9h1.25v1h-1.25zM22.5 9h2.5v1h-2.5zM28.75 9h1.25v1h-1.25zM7.5 10h1.25v1h-1.25zM15 10h1.25v1h-1.25zM22.5 10h1.25v1h-1.25zM25 10h1.25v1h-1.25zM27.5 10h1.25v1h-1.25zM6.25 11h2.5v1h-2.5zM11.25 11h2.5v1h-2.5zM16.25 11h1.25v1h-1.25zM18.75 11h1.25v1h-1.25zM23.75 11h2.5v1h-2.5zM2.5 12h1.25v1h-1.25zM11.25 12h1.25v1h-1.25zM13.75 12h2.5v1h-2.5zM18.75 12h1.25v1h-1.25zM28.75 12h1.25v1h-1.25zM0 13h1.25v1h-1.25zM3.75 13h1.25v1h-1.25zM10 13h1.25v1h-1.25zM13.75 13h1.25v1h-1.25zM17.5 13h1.25v1h-1.25zM20 13h1.25v1h-1.25zM0 14h3.75v1h-3.75zM5 14h2.5v1h-2.5zM12.5 14h5v1h-5zM20 14h1.25v1h-1.25zM22.5 14h1.25v1h-1.25zM0 15h1.25v1h-1.25zM5 15h1.25v1h-1.25zM11.25 15h3.75v1h-3.75zM16.25 15h2.5v1h-2.5zM20 15h3.75v1h-3.75zM10 16h1.25v1h-1.25zM18.75 16h2.5v1h-2.5zM22.5 16h1.25v1h-1.25zM25 16h1.25v1h-1.25zM5 17h1.25v1h-1.25zM10 17h2.5v1h-2.5zM18.75 17h1.25v1h-1.25zM23.75 17h1.25v1h-1.25zM6.25 18h1.25v1h-1.25zM16.25 18h2.5v1h-2.5zM27.5 18h1.25v1h-1.25zM0 19h2.5v1h-2.5zM17.5 19h1.25v1h-1.25zM22.5 19h5v1h-5zM28.75 19h1.25v1h-1.25zM2.5 20h1.25v1h-1.25zM6.25 20h1.25v1h-1.25zM12.5 20h1.25v1h-1.25zM17.5 20h1.25v1h-1.25zM21.25 20h1.25v1h-1.25zM25 20h1.25v1h-1.25zM27.5 20h2.5v1h-2.5zM5 21h1.25v1h-1.25zM12.5 21h1.25v1h-1.25zM18.75 21h1.25v1h-1.25zM22.5 21h1.25v1h-1.25zM1.25 22h1.25v1h-1.25zM7.5 22h1.25v1h-1.25zM10 22h1.25v1h-1.25zM12.5 22h1.25v1h-1.25zM16.25 22h2.5v1h-2.5zM22.5 22h1.25v1h-1.25zM25 22h3.75v1h-3.75zM5 23h3.75v1h-3.75zM11.25 23h1.25v1h-1.25zM23.75 23h2.5v1h-2.5z" fill="#3050E0"/>
<path d="M11.25 0h1.25v1h-1.25zM20 0h1.25v1h-1.25zM8.75 1h2.5v1h-2.5zM12.5 1h1.25v1h-1.25zM3.75 2h1.25v1h-1.25zM0 3h1.25v1h-1.25zM5 3h2.5v1h-2.5zM11.25 3h1.25v1h-1.25zM1.25 6h1.25v1h-1.25zM20 6h1.25v1h-1.25zM17.5 7h1.25v1h-1.25zM10 8h2.5v1h-2.5zM12.5 9h1.25v1h-1.25zM20 9h1.25v1h-1.25zM2.5 10h2.5v1h-2.5zM6.25 10h1.25v1h-1.25zM18.75 10h1.25v1h-1.25zM3.75 11h2.5v1h-2.5zM8.75 11h1.25v1h-1.25zM15 11h1.25v1h-1.25zM22.5 11h1.25v1h-1.25zM10 12h1.25v1h-1.25zM17.5 12h1.25v1h-1.25zM22.5 12h1.25v1h-1.25zM8.75 13h1.25v1h-1.25zM11.25 13h1.25v1h-1.25zM22.5 13h1.25v1h-1.25zM26.25 13h1.25v1h-1.25zM21.25 14h1.25v1h-1.25zM1.25 15h1.25v1h-1.25zM3.75 15h1.25v1h-1.25zM10 15h1.25v1h-1.25zM11.25 16h1.25v1h-1.25zM16.25 16h1.25v1h-1.25zM2.5 17h1.25v1h-1.25zM7.5 17h1.25v1h-1.25zM21.25 17h1.25v1h-1.25zM0 18h1.25v1h-1.25zM18.75 18h1.25v1h-1.25zM21.25 18h1.25v1h-1.25zM25 18h1.25v1h-1.25zM2.5 19h1.25v1h-1.25zM8.75 19h1.25v1h-1.25zM27.5 19h1.25v1h-1.25zM0 20h1.25v1h-1.25zM5 20h1.25v1h-1.25zM26.25 20h1.25v1h-1.25zM11.25 21h1.25v1h-1.25zM26.25 21h1.25v1h-1.25zM6.25 22h1.25v1h-1.25zM8.75 22h1.25v1h-1.25zM20 22h1.25v1h-1.25zM1.25 23h1.25v1h-1.25zM17.5 23h1.25v1h-1.25zM28.75 23h1.25v1h-1.25z" fill="#2090F0"/>
</pattern><pattern id="ttA" width="30" height="24" patternUnits="userSpaceOnUse">
<path d="M0 0h30v1h-30zM0 1h5v1h-5zM7.5 1h21.25v1h-21.25zM1.25 2h28.75v1h-28.75zM0 3h11.25v1h-11.25zM12.5 3h1.25v1h-1.25zM15 3h1.25v1h-1.25zM17.5 3h12.5v1h-12.5zM0 4h2.5v1h-2.5zM5 4h13.75v1h-13.75zM20 4h6.25v1h-6.25zM27.5 4h2.5v1h-2.5zM0 5h13.75v1h-13.75zM15 5h3.75v1h-3.75zM20 5h10v1h-10zM0 6h17.5v1h-17.5zM18.75 6h11.25v1h-11.25zM0 7h10v1h-10zM11.25 7h11.25v1h-11.25zM23.75 7h6.25v1h-6.25zM0 8h22.5v1h-22.5zM23.75 8h6.25v1h-6.25zM0 9h12.5v1h-12.5zM13.75 9h16.25v1h-16.25zM0 10h10v1h-10zM11.25 10h18.75v1h-18.75zM0 11h30v1h-30zM0 12h2.5v1h-2.5zM3.75 12h3.75v1h-3.75zM8.75 12h20v1h-20zM1.25 13h1.25v1h-1.25zM3.75 13h2.5v1h-2.5zM7.5 13h11.25v1h-11.25zM21.25 13h1.25v1h-1.25zM23.75 13h2.5v1h-2.5zM27.5 13h2.5v1h-2.5zM0 14h11.25v1h-11.25zM12.5 14h12.5v1h-12.5zM26.25 14h3.75v1h-3.75zM0 15h12.5v1h-12.5zM13.75 15h11.25v1h-11.25zM26.25 15h3.75v1h-3.75zM0 16h10v1h-10zM11.25 16h13.75v1h-13.75zM26.25 16h1.25v1h-1.25zM28.75 16h1.25v1h-1.25zM0 17h21.25v1h-21.25zM22.5 17h7.5v1h-7.5zM0 18h13.75v1h-13.75zM15 18h5v1h-5zM21.25 18h8.75v1h-8.75zM0 19h18.75v1h-18.75zM20 19h10v1h-10zM0 20h6.25v1h-6.25zM7.5 20h17.5v1h-17.5zM26.25 20h3.75v1h-3.75zM1.25 21h5v1h-5zM7.5 21h22.5v1h-22.5zM0 22h6.25v1h-6.25zM7.5 22h5v1h-5zM13.75 22h2.5v1h-2.5zM17.5 22h5v1h-5zM23.75 22h6.25v1h-6.25zM1.25 23h6.25v1h-6.25zM8.75 23h11.25v1h-11.25zM21.25 23h6.25v1h-6.25zM28.75 23h1.25v1h-1.25z" fill="#FF0000"/>
</pattern><pattern id="tL" width="30" height="24" patternUnits="userSpaceOnUse">
<rect width="30" height="24" fill="#2880F0"/>
<path d="M0 0h1.25v1h-1.25zM3.75 0h2.5v1h-2.5zM11.25 0h3.75v1h-3.75zM16.25 0h1.25v1h-1.25zM18.75 0h3.75v1h-3.75zM27.5 0h2.5v1h-2.5zM0 1h2.5v1h-2.5zM3.75 1h2.5v1h-2.5zM7.5 1h1.25v1h-1.25zM10 1h1.25v1h-1.25zM12.5 1h5v1h-5zM18.75 1h1.25v1h-1.25zM21.25 1h1.25v1h-1.25zM0 2h2.5v1h-2.5zM3.75 2h1.25v1h-1.25zM7.5 2h5v1h-5zM13.75 2h3.75v1h-3.75zM20 2h2.5v1h-2.5zM25 2h1.25v1h-1.25zM0 3h3.75v1h-3.75zM5 3h1.25v1h-1.25zM7.5 3h3.75v1h-3.75zM13.75 3h1.25v1h-1.25zM20 3h1.25v1h-1.25zM26.25 3h3.75v1h-3.75zM1.25 4h2.5v1h-2.5zM6.25 4h1.25v1h-1.25zM8.75 4h8.75v1h-8.75zM21.25 4h2.5v1h-2.5zM27.5 4h2.5v1h-2.5zM5 5h1.25v1h-1.25zM8.75 5h1.25v1h-1.25zM11.25 5h1.25v1h-1.25zM13.75 5h1.25v1h-1.25zM17.5 5h1.25v1h-1.25zM23.75 5h2.5v1h-2.5zM28.75 5h1.25v1h-1.25zM0 6h6.25v1h-6.25zM8.75 6h1.25v1h-1.25zM11.25 6h7.5v1h-7.5zM21.25 6h1.25v1h-1.25zM27.5 6h2.5v1h-2.5zM0 7h1.25v1h-1.25zM2.5 7h1.25v1h-1.25zM5 7h1.25v1h-1.25zM7.5 7h5v1h-5zM13.75 7h1.25v1h-1.25zM18.75 7h1.25v1h-1.25zM25 7h1.25v1h-1.25zM0 8h1.25v1h-1.25zM3.75 8h2.5v1h-2.5zM7.5 8h3.75v1h-3.75zM13.75 8h1.25v1h-1.25zM16.25 8h1.25v1h-1.25zM18.75 8h1.25v1h-1.25zM21.25 8h7.5v1h-7.5zM2.5 9h5v1h-5zM10 9h3.75v1h-3.75zM25 9h1.25v1h-1.25zM27.5 9h1.25v1h-1.25zM3.75 10h6.25v1h-6.25zM11.25 10h2.5v1h-2.5zM16.25 10h2.5v1h-2.5zM21.25 10h2.5v1h-2.5zM26.25 10h1.25v1h-1.25zM28.75 10h1.25v1h-1.25zM0 11h1.25v1h-1.25zM2.5 11h1.25v1h-1.25zM5 11h1.25v1h-1.25zM7.5 11h2.5v1h-2.5zM11.25 11h2.5v1h-2.5zM15 11h6.25v1h-6.25zM22.5 11h1.25v1h-1.25zM27.5 11h1.25v1h-1.25zM0 12h1.25v1h-1.25zM3.75 12h2.5v1h-2.5zM7.5 12h3.75v1h-3.75zM12.5 12h2.5v1h-2.5zM18.75 12h3.75v1h-3.75zM23.75 12h1.25v1h-1.25zM0 13h1.25v1h-1.25zM2.5 13h1.25v1h-1.25zM7.5 13h2.5v1h-2.5zM13.75 13h1.25v1h-1.25zM16.25 13h5v1h-5zM23.75 13h2.5v1h-2.5zM28.75 13h1.25v1h-1.25zM0 14h5v1h-5zM7.5 14h2.5v1h-2.5zM12.5 14h1.25v1h-1.25zM17.5 14h1.25v1h-1.25zM20 14h3.75v1h-3.75zM26.25 14h1.25v1h-1.25zM28.75 14h1.25v1h-1.25zM0 15h1.25v1h-1.25zM6.25 15h1.25v1h-1.25zM13.75 15h1.25v1h-1.25zM18.75 15h2.5v1h-2.5zM26.25 15h1.25v1h-1.25zM1.25 16h1.25v1h-1.25zM8.75 16h5v1h-5zM16.25 16h5v1h-5zM22.5 16h1.25v1h-1.25zM25 16h2.5v1h-2.5zM2.5 17h3.75v1h-3.75zM11.25 17h6.25v1h-6.25zM18.75 17h2.5v1h-2.5zM28.75 17h1.25v1h-1.25zM0 18h2.5v1h-2.5zM7.5 18h2.5v1h-2.5zM12.5 18h3.75v1h-3.75zM17.5 18h3.75v1h-3.75zM27.5 18h2.5v1h-2.5zM3.75 19h1.25v1h-1.25zM7.5 19h2.5v1h-2.5zM11.25 19h1.25v1h-1.25zM13.75 19h1.25v1h-1.25zM16.25 19h5v1h-5zM22.5 19h1.25v1h-1.25zM25 19h1.25v1h-1.25zM27.5 19h2.5v1h-2.5zM0 20h2.5v1h-2.5zM3.75 20h2.5v1h-2.5zM8.75 20h1.25v1h-1.25zM12.5 20h1.25v1h-1.25zM16.25 20h1.25v1h-1.25zM20 20h2.5v1h-2.5zM25 20h1.25v1h-1.25zM27.5 20h1.25v1h-1.25zM0 21h1.25v1h-1.25zM2.5 21h2.5v1h-2.5zM7.5 21h3.75v1h-3.75zM12.5 21h7.5v1h-7.5zM22.5 21h2.5v1h-2.5zM26.25 21h2.5v1h-2.5zM0 22h1.25v1h-1.25zM3.75 22h2.5v1h-2.5zM7.5 22h2.5v1h-2.5zM15 22h3.75v1h-3.75zM20 22h1.25v1h-1.25zM22.5 22h2.5v1h-2.5zM28.75 22h1.25v1h-1.25zM1.25 23h1.25v1h-1.25zM7.5 23h2.5v1h-2.5zM12.5 23h1.25v1h-1.25zM15 23h5v1h-5zM22.5 23h3.75v1h-3.75zM27.5 23h2.5v1h-2.5z" fill="#78C8F0"/>
</pattern><pattern id="tLL" width="30" height="24" patternUnits="userSpaceOnUse">
<rect width="30" height="24" fill="#78C8F0"/>
<path d="M1.25 0h2.5v1h-2.5zM5 0h2.5v1h-2.5zM11.25 0h1.25v1h-1.25zM21.25 0h1.25v1h-1.25zM26.25 0h1.25v1h-1.25zM7.5 1h1.25v1h-1.25zM15 1h1.25v1h-1.25zM18.75 1h2.5v1h-2.5zM22.5 1h1.25v1h-1.25zM5 2h1.25v1h-1.25zM12.5 2h1.25v1h-1.25zM23.75 2h1.25v1h-1.25zM26.25 2h1.25v1h-1.25zM2.5 3h2.5v1h-2.5zM8.75 3h1.25v1h-1.25zM11.25 3h1.25v1h-1.25zM5 4h1.25v1h-1.25zM10 4h1.25v1h-1.25zM13.75 4h2.5v1h-2.5zM18.75 4h3.75v1h-3.75zM23.75 4h3.75v1h-3.75zM28.75 4h1.25v1h-1.25zM5 5h1.25v1h-1.25zM8.75 5h2.5v1h-2.5zM17.5 5h5v1h-5zM23.75 5h1.25v1h-1.25zM27.5 5h1.25v1h-1.25zM1.25 6h1.25v1h-1.25zM3.75 6h1.25v1h-1.25zM6.25 6h1.25v1h-1.25zM11.25 6h1.25v1h-1.25zM13.75 6h1.25v1h-1.25zM18.75 6h1.25v1h-1.25zM22.5 6h1.25v1h-1.25zM1.25 7h3.75v1h-3.75zM11.25 7h1.25v1h-1.25zM18.75 7h3.75v1h-3.75zM23.75 7h1.25v1h-1.25zM27.5 7h1.25v1h-1.25zM5 8h1.25v1h-1.25zM11.25 8h3.75v1h-3.75zM2.5 9h3.75v1h-3.75zM7.5 9h2.5v1h-2.5zM11.25 9h1.25v1h-1.25zM15 9h1.25v1h-1.25zM27.5 9h1.25v1h-1.25zM1.25 10h3.75v1h-3.75zM6.25 10h2.5v1h-2.5zM11.25 10h1.25v1h-1.25zM16.25 10h1.25v1h-1.25zM25 10h1.25v1h-1.25zM1.25 11h5v1h-5zM8.75 11h1.25v1h-1.25zM13.75 11h1.25v1h-1.25zM18.75 11h1.25v1h-1.25zM26.25 11h1.25v1h-1.25zM2.5 12h1.25v1h-1.25zM6.25 12h1.25v1h-1.25zM12.5 12h1.25v1h-1.25zM21.25 12h1.25v1h-1.25zM23.75 12h1.25v1h-1.25zM26.25 12h1.25v1h-1.25zM1.25 13h1.25v1h-1.25zM5 13h2.5v1h-2.5zM10 13h2.5v1h-2.5zM15 13h1.25v1h-1.25zM18.75 13h2.5v1h-2.5zM23.75 13h2.5v1h-2.5zM27.5 13h1.25v1h-1.25zM3.75 14h2.5v1h-2.5zM7.5 14h3.75v1h-3.75zM20 14h1.25v1h-1.25zM23.75 14h1.25v1h-1.25zM27.5 14h1.25v1h-1.25zM6.25 15h1.25v1h-1.25zM12.5 15h1.25v1h-1.25zM17.5 15h1.25v1h-1.25zM21.25 15h2.5v1h-2.5zM25 15h1.25v1h-1.25zM1.25 16h5v1h-5zM15 16h1.25v1h-1.25zM17.5 16h2.5v1h-2.5zM21.25 16h1.25v1h-1.25zM23.75 16h1.25v1h-1.25zM27.5 16h1.25v1h-1.25zM5 17h2.5v1h-2.5zM11.25 17h1.25v1h-1.25zM13.75 17h2.5v1h-2.5zM18.75 17h1.25v1h-1.25zM21.25 17h1.25v1h-1.25zM28.75 17h1.25v1h-1.25zM0 18h3.75v1h-3.75zM7.5 18h2.5v1h-2.5zM13.75 18h5v1h-5zM21.25 18h2.5v1h-2.5zM26.25 18h1.25v1h-1.25zM0 19h1.25v1h-1.25zM8.75 19h1.25v1h-1.25zM11.25 19h1.25v1h-1.25zM13.75 19h3.75v1h-3.75zM18.75 19h1.25v1h-1.25zM22.5 19h2.5v1h-2.5zM1.25 20h1.25v1h-1.25zM6.25 20h1.25v1h-1.25zM10 20h2.5v1h-2.5zM16.25 20h1.25v1h-1.25zM18.75 20h2.5v1h-2.5zM26.25 20h1.25v1h-1.25zM28.75 20h1.25v1h-1.25zM0 21h1.25v1h-1.25zM3.75 21h2.5v1h-2.5zM18.75 21h1.25v1h-1.25zM21.25 21h1.25v1h-1.25zM28.75 21h1.25v1h-1.25zM27.5 22h1.25v1h-1.25zM3.75 23h1.25v1h-1.25zM6.25 23h1.25v1h-1.25zM12.5 23h5v1h-5zM18.75 23h3.75v1h-3.75zM27.5 23h1.25v1h-1.25z" fill="#2880F0"/>
<path d="M25 0h1.25v1h-1.25zM1.25 2h1.25v1h-1.25zM21.25 9h1.25v1h-1.25zM5 10h1.25v1h-1.25zM17.5 11h1.25v1h-1.25zM28.75 12h1.25v1h-1.25zM10 16h1.25v1h-1.25zM7.5 17h1.25v1h-1.25zM10 18h1.25v1h-1.25zM2.5 20h1.25v1h-1.25z" fill="#FFE337"/>
</pattern><pattern id="tLY" width="30" height="24" patternUnits="userSpaceOnUse">
<rect width="30" height="24" fill="#78C8F0"/>
<path d="M3.75 0h2.5v1h-2.5zM7.5 0h1.25v1h-1.25zM11.25 0h1.25v1h-1.25zM15 0h1.25v1h-1.25zM18.75 0h1.25v1h-1.25zM26.25 0h1.25v1h-1.25zM0 1h1.25v1h-1.25zM2.5 1h1.25v1h-1.25zM7.5 1h1.25v1h-1.25zM10 1h1.25v1h-1.25zM16.25 1h1.25v1h-1.25zM18.75 1h1.25v1h-1.25zM21.25 1h1.25v1h-1.25zM23.75 1h1.25v1h-1.25zM26.25 1h1.25v1h-1.25zM0 2h1.25v1h-1.25zM7.5 2h1.25v1h-1.25zM12.5 2h1.25v1h-1.25zM16.25 2h7.5v1h-7.5zM26.25 2h1.25v1h-1.25zM2.5 3h1.25v1h-1.25zM8.75 3h2.5v1h-2.5zM12.5 3h1.25v1h-1.25zM15 3h1.25v1h-1.25zM20 3h1.25v1h-1.25zM26.25 3h2.5v1h-2.5zM0 4h1.25v1h-1.25zM3.75 4h1.25v1h-1.25zM6.25 4h1.25v1h-1.25zM8.75 4h2.5v1h-2.5zM13.75 4h1.25v1h-1.25zM17.5 4h1.25v1h-1.25zM20 4h1.25v1h-1.25zM25 4h2.5v1h-2.5zM28.75 4h1.25v1h-1.25zM5 5h1.25v1h-1.25zM8.75 5h1.25v1h-1.25zM11.25 5h2.5v1h-2.5zM15 5h1.25v1h-1.25zM17.5 5h1.25v1h-1.25zM21.25 5h1.25v1h-1.25zM0 6h1.25v1h-1.25zM2.5 6h1.25v1h-1.25zM10 6h1.25v1h-1.25zM12.5 6h2.5v1h-2.5zM21.25 6h1.25v1h-1.25zM26.25 6h1.25v1h-1.25zM28.75 6h1.25v1h-1.25zM6.25 7h1.25v1h-1.25zM16.25 7h1.25v1h-1.25zM18.75 7h2.5v1h-2.5zM25 7h1.25v1h-1.25zM27.5 7h1.25v1h-1.25zM2.5 8h6.25v1h-6.25zM10 8h2.5v1h-2.5zM13.75 8h1.25v1h-1.25zM16.25 8h2.5v1h-2.5zM22.5 8h1.25v1h-1.25zM25 8h1.25v1h-1.25zM1.25 9h1.25v1h-1.25zM8.75 9h1.25v1h-1.25zM13.75 9h1.25v1h-1.25zM16.25 9h1.25v1h-1.25zM20 9h1.25v1h-1.25zM26.25 9h3.75v1h-3.75zM0 10h2.5v1h-2.5zM5 10h1.25v1h-1.25zM15 10h1.25v1h-1.25zM20 10h3.75v1h-3.75zM26.25 10h1.25v1h-1.25zM5 11h1.25v1h-1.25zM7.5 11h3.75v1h-3.75zM15 11h2.5v1h-2.5zM22.5 11h2.5v1h-2.5zM3.75 12h1.25v1h-1.25zM6.25 12h1.25v1h-1.25zM10 12h1.25v1h-1.25zM15 12h1.25v1h-1.25zM21.25 12h3.75v1h-3.75zM26.25 12h1.25v1h-1.25zM5 13h1.25v1h-1.25zM11.25 13h1.25v1h-1.25zM13.75 13h1.25v1h-1.25zM16.25 13h1.25v1h-1.25zM20 13h1.25v1h-1.25zM26.25 13h1.25v1h-1.25zM28.75 13h1.25v1h-1.25zM2.5 14h1.25v1h-1.25zM13.75 14h2.5v1h-2.5zM27.5 14h2.5v1h-2.5zM0 15h1.25v1h-1.25zM8.75 15h1.25v1h-1.25zM11.25 15h1.25v1h-1.25zM21.25 15h2.5v1h-2.5zM11.25 16h1.25v1h-1.25zM23.75 16h1.25v1h-1.25zM1.25 17h1.25v1h-1.25zM6.25 17h3.75v1h-3.75zM11.25 17h1.25v1h-1.25zM16.25 17h1.25v1h-1.25zM20 17h1.25v1h-1.25zM23.75 17h2.5v1h-2.5zM1.25 18h1.25v1h-1.25zM5 18h1.25v1h-1.25zM11.25 18h2.5v1h-2.5zM15 18h1.25v1h-1.25zM17.5 18h1.25v1h-1.25zM21.25 18h2.5v1h-2.5zM27.5 18h1.25v1h-1.25zM5 19h1.25v1h-1.25zM13.75 19h7.5v1h-7.5zM22.5 19h2.5v1h-2.5zM26.25 19h3.75v1h-3.75zM2.5 20h3.75v1h-3.75zM8.75 20h2.5v1h-2.5zM27.5 20h1.25v1h-1.25zM0 21h1.25v1h-1.25zM7.5 21h1.25v1h-1.25zM18.75 21h1.25v1h-1.25zM21.25 21h1.25v1h-1.25zM25 21h1.25v1h-1.25zM27.5 21h1.25v1h-1.25zM5 22h1.25v1h-1.25zM8.75 22h3.75v1h-3.75zM16.25 22h1.25v1h-1.25zM21.25 22h5v1h-5zM27.5 22h1.25v1h-1.25zM0 23h1.25v1h-1.25zM2.5 23h3.75v1h-3.75zM22.5 23h1.25v1h-1.25z" fill="#2880F0"/>
<path d="M8.75 0h1.25v1h-1.25zM13.75 0h1.25v1h-1.25zM8.75 1h1.25v1h-1.25zM28.75 1h1.25v1h-1.25zM1.25 2h1.25v1h-1.25zM3.75 2h2.5v1h-2.5zM8.75 2h1.25v1h-1.25zM15 2h1.25v1h-1.25zM27.5 2h1.25v1h-1.25zM17.5 3h2.5v1h-2.5zM1.25 4h1.25v1h-1.25zM11.25 4h1.25v1h-1.25zM18.75 4h1.25v1h-1.25zM21.25 4h1.25v1h-1.25zM23.75 4h1.25v1h-1.25zM10 5h1.25v1h-1.25zM13.75 5h1.25v1h-1.25zM7.5 6h1.25v1h-1.25zM20 6h1.25v1h-1.25zM3.75 7h1.25v1h-1.25zM15 7h1.25v1h-1.25zM8.75 8h1.25v1h-1.25zM15 8h1.25v1h-1.25zM28.75 8h1.25v1h-1.25zM22.5 9h1.25v1h-1.25zM25 9h1.25v1h-1.25zM7.5 10h1.25v1h-1.25zM11.25 10h1.25v1h-1.25zM13.75 10h1.25v1h-1.25zM16.25 10h1.25v1h-1.25zM23.75 10h2.5v1h-2.5zM27.5 10h1.25v1h-1.25zM0 11h1.25v1h-1.25zM3.75 11h1.25v1h-1.25zM6.25 11h1.25v1h-1.25zM20 11h1.25v1h-1.25zM27.5 11h2.5v1h-2.5zM13.75 12h1.25v1h-1.25zM16.25 12h1.25v1h-1.25zM0 13h2.5v1h-2.5zM23.75 13h2.5v1h-2.5zM7.5 14h3.75v1h-3.75zM22.5 14h2.5v1h-2.5zM3.75 15h2.5v1h-2.5zM13.75 15h1.25v1h-1.25zM18.75 15h1.25v1h-1.25zM25 15h1.25v1h-1.25zM2.5 16h1.25v1h-1.25zM10 16h1.25v1h-1.25zM15 16h1.25v1h-1.25zM2.5 17h1.25v1h-1.25zM15 17h1.25v1h-1.25zM17.5 17h1.25v1h-1.25zM21.25 17h1.25v1h-1.25zM27.5 17h1.25v1h-1.25zM3.75 18h1.25v1h-1.25zM25 18h1.25v1h-1.25zM12.5 20h5v1h-5zM21.25 20h1.25v1h-1.25zM26.25 20h1.25v1h-1.25zM2.5 21h1.25v1h-1.25zM8.75 21h1.25v1h-1.25zM12.5 22h1.25v1h-1.25zM17.5 22h1.25v1h-1.25zM26.25 22h1.25v1h-1.25zM17.5 23h1.25v1h-1.25zM20 23h1.25v1h-1.25zM28.75 23h1.25v1h-1.25z" fill="#FFE337"/>
</pattern><pattern id="tS" width="30" height="24" patternUnits="userSpaceOnUse">
<rect width="30" height="24" fill="#D7292A"/>
<path d="M3.75 0h1.25v1h-1.25zM8.75 0h2.5v1h-2.5zM15 0h2.5v1h-2.5zM23.75 0h1.25v1h-1.25zM8.75 1h1.25v1h-1.25zM16.25 1h2.5v1h-2.5zM21.25 1h5v1h-5zM8.75 2h1.25v1h-1.25zM20 2h1.25v1h-1.25zM22.5 2h1.25v1h-1.25zM25 2h1.25v1h-1.25zM10 3h2.5v1h-2.5zM13.75 3h1.25v1h-1.25zM17.5 3h2.5v1h-2.5zM21.25 3h1.25v1h-1.25zM20 4h1.25v1h-1.25zM28.75 4h1.25v1h-1.25zM8.75 5h1.25v1h-1.25zM12.5 5h1.25v1h-1.25zM15 5h1.25v1h-1.25zM17.5 5h1.25v1h-1.25zM21.25 5h1.25v1h-1.25zM2.5 6h1.25v1h-1.25zM27.5 6h2.5v1h-2.5zM3.75 7h1.25v1h-1.25zM6.25 7h1.25v1h-1.25zM17.5 7h1.25v1h-1.25zM22.5 7h1.25v1h-1.25zM25 7h1.25v1h-1.25zM1.25 8h1.25v1h-1.25zM5 8h1.25v1h-1.25zM8.75 8h2.5v1h-2.5zM12.5 8h1.25v1h-1.25zM25 8h2.5v1h-2.5zM28.75 8h1.25v1h-1.25zM17.5 9h1.25v1h-1.25zM22.5 9h1.25v1h-1.25zM28.75 9h1.25v1h-1.25zM1.25 10h1.25v1h-1.25zM13.75 10h1.25v1h-1.25zM28.75 10h1.25v1h-1.25zM3.75 11h2.5v1h-2.5zM13.75 11h1.25v1h-1.25zM16.25 11h1.25v1h-1.25zM21.25 11h2.5v1h-2.5zM25 11h1.25v1h-1.25zM3.75 12h1.25v1h-1.25zM16.25 12h1.25v1h-1.25zM21.25 12h1.25v1h-1.25zM26.25 12h1.25v1h-1.25zM0 13h1.25v1h-1.25zM2.5 13h2.5v1h-2.5zM17.5 13h1.25v1h-1.25zM21.25 13h1.25v1h-1.25zM23.75 13h3.75v1h-3.75zM28.75 13h1.25v1h-1.25zM1.25 14h1.25v1h-1.25zM10 14h1.25v1h-1.25zM20 14h1.25v1h-1.25zM26.25 14h1.25v1h-1.25zM0 15h2.5v1h-2.5zM25 15h1.25v1h-1.25zM28.75 15h1.25v1h-1.25zM3.75 16h1.25v1h-1.25zM10 16h1.25v1h-1.25zM13.75 16h1.25v1h-1.25zM20 16h1.25v1h-1.25zM26.25 16h1.25v1h-1.25zM5 17h1.25v1h-1.25zM15 17h1.25v1h-1.25zM18.75 17h1.25v1h-1.25zM23.75 17h1.25v1h-1.25zM3.75 18h1.25v1h-1.25zM21.25 18h2.5v1h-2.5zM26.25 18h1.25v1h-1.25zM6.25 19h1.25v1h-1.25zM15 19h1.25v1h-1.25zM26.25 19h1.25v1h-1.25zM6.25 20h1.25v1h-1.25zM11.25 20h5v1h-5zM20 20h1.25v1h-1.25zM16.25 21h1.25v1h-1.25zM27.5 21h2.5v1h-2.5zM2.5 22h1.25v1h-1.25zM11.25 22h1.25v1h-1.25zM16.25 22h2.5v1h-2.5zM20 22h1.25v1h-1.25zM25 22h1.25v1h-1.25zM2.5 23h5v1h-5zM8.75 23h1.25v1h-1.25zM11.25 23h1.25v1h-1.25zM13.75 23h1.25v1h-1.25zM17.5 23h1.25v1h-1.25zM23.75 23h1.25v1h-1.25zM28.75 23h1.25v1h-1.25z" fill="#FF6000"/>
<path d="M12.5 0h1.25v1h-1.25zM7.5 2h1.25v1h-1.25zM13.75 2h1.25v1h-1.25zM25 3h1.25v1h-1.25zM11.25 4h1.25v1h-1.25zM26.25 4h1.25v1h-1.25zM2.5 5h1.25v1h-1.25zM25 6h1.25v1h-1.25zM0 7h1.25v1h-1.25zM11.25 7h1.25v1h-1.25zM13.75 7h1.25v1h-1.25zM8.75 10h1.25v1h-1.25zM7.5 12h1.25v1h-1.25zM17.5 15h1.25v1h-1.25zM5 16h1.25v1h-1.25zM12.5 16h1.25v1h-1.25zM28.75 16h1.25v1h-1.25zM8.75 19h1.25v1h-1.25zM13.75 19h1.25v1h-1.25zM18.75 19h1.25v1h-1.25zM23.75 21h1.25v1h-1.25zM8.75 22h1.25v1h-1.25zM27.5 22h2.5v1h-2.5z" fill="#FFE337"/>
<path d="M26.25 1h1.25v1h-1.25zM2.5 2h1.25v1h-1.25zM26.25 6h1.25v1h-1.25zM20 7h1.25v1h-1.25zM12.5 11h1.25v1h-1.25zM8.75 12h1.25v1h-1.25zM11.25 13h1.25v1h-1.25zM5 19h1.25v1h-1.25zM5 21h1.25v1h-1.25zM26.25 23h1.25v1h-1.25z" fill="#78C8F0"/>
</pattern><pattern id="tO" width="30" height="24" patternUnits="userSpaceOnUse">
<rect width="30" height="24" fill="#FF6000"/>
<path d="M2.5 0h1.25v1h-1.25zM5 0h1.25v1h-1.25zM7.5 0h1.25v1h-1.25zM10 0h1.25v1h-1.25zM18.75 0h1.25v1h-1.25zM27.5 0h1.25v1h-1.25zM1.25 1h1.25v1h-1.25zM12.5 1h2.5v1h-2.5zM21.25 1h1.25v1h-1.25zM25 1h1.25v1h-1.25zM27.5 1h2.5v1h-2.5zM3.75 2h1.25v1h-1.25zM10 2h1.25v1h-1.25zM12.5 2h1.25v1h-1.25zM22.5 2h2.5v1h-2.5zM28.75 2h1.25v1h-1.25zM1.25 3h1.25v1h-1.25zM7.5 3h1.25v1h-1.25zM17.5 3h1.25v1h-1.25zM20 3h1.25v1h-1.25zM26.25 3h2.5v1h-2.5zM5 4h1.25v1h-1.25zM12.5 4h1.25v1h-1.25zM15 4h1.25v1h-1.25zM21.25 4h1.25v1h-1.25zM23.75 4h2.5v1h-2.5zM27.5 4h1.25v1h-1.25zM2.5 5h1.25v1h-1.25zM6.25 5h3.75v1h-3.75zM11.25 5h1.25v1h-1.25zM16.25 5h1.25v1h-1.25zM27.5 5h2.5v1h-2.5zM0 6h1.25v1h-1.25zM2.5 6h1.25v1h-1.25zM5 6h1.25v1h-1.25zM7.5 6h1.25v1h-1.25zM13.75 6h5v1h-5zM26.25 6h3.75v1h-3.75zM2.5 7h2.5v1h-2.5zM8.75 7h1.25v1h-1.25zM11.25 7h1.25v1h-1.25zM16.25 7h1.25v1h-1.25zM22.5 7h1.25v1h-1.25zM28.75 7h1.25v1h-1.25zM6.25 8h2.5v1h-2.5zM18.75 8h1.25v1h-1.25zM22.5 8h3.75v1h-3.75zM2.5 9h1.25v1h-1.25zM7.5 9h1.25v1h-1.25zM10 9h1.25v1h-1.25zM13.75 9h1.25v1h-1.25zM16.25 9h1.25v1h-1.25zM27.5 9h1.25v1h-1.25zM0 10h1.25v1h-1.25zM2.5 10h1.25v1h-1.25zM7.5 10h2.5v1h-2.5zM12.5 10h1.25v1h-1.25zM16.25 10h1.25v1h-1.25zM23.75 10h1.25v1h-1.25zM28.75 10h1.25v1h-1.25zM0 11h1.25v1h-1.25zM13.75 11h1.25v1h-1.25zM20 11h2.5v1h-2.5zM25 11h1.25v1h-1.25zM27.5 11h1.25v1h-1.25zM3.75 12h2.5v1h-2.5zM15 12h1.25v1h-1.25zM17.5 12h1.25v1h-1.25zM21.25 12h2.5v1h-2.5zM25 12h1.25v1h-1.25zM27.5 12h2.5v1h-2.5zM0 13h2.5v1h-2.5zM6.25 13h1.25v1h-1.25zM8.75 13h1.25v1h-1.25zM17.5 13h2.5v1h-2.5zM27.5 13h1.25v1h-1.25zM3.75 14h3.75v1h-3.75zM10 14h1.25v1h-1.25zM12.5 14h1.25v1h-1.25zM21.25 14h2.5v1h-2.5zM27.5 14h1.25v1h-1.25zM2.5 15h1.25v1h-1.25zM28.75 15h1.25v1h-1.25zM5 16h1.25v1h-1.25zM10 16h1.25v1h-1.25zM12.5 16h1.25v1h-1.25zM18.75 16h1.25v1h-1.25zM23.75 16h2.5v1h-2.5zM0 17h1.25v1h-1.25zM2.5 17h1.25v1h-1.25zM7.5 17h1.25v1h-1.25zM12.5 17h1.25v1h-1.25zM16.25 17h1.25v1h-1.25zM20 17h2.5v1h-2.5zM26.25 17h3.75v1h-3.75zM0 18h1.25v1h-1.25zM7.5 18h1.25v1h-1.25zM10 18h2.5v1h-2.5zM17.5 18h1.25v1h-1.25zM20 18h1.25v1h-1.25zM22.5 18h5v1h-5zM28.75 18h1.25v1h-1.25zM2.5 19h1.25v1h-1.25zM12.5 19h2.5v1h-2.5zM16.25 19h2.5v1h-2.5zM20 19h1.25v1h-1.25zM25 19h2.5v1h-2.5zM3.75 20h1.25v1h-1.25zM6.25 20h2.5v1h-2.5zM11.25 20h1.25v1h-1.25zM16.25 20h1.25v1h-1.25zM18.75 20h1.25v1h-1.25zM21.25 20h1.25v1h-1.25zM28.75 20h1.25v1h-1.25zM0 21h2.5v1h-2.5zM3.75 21h2.5v1h-2.5zM15 21h5v1h-5zM25 21h1.25v1h-1.25zM0 22h1.25v1h-1.25zM3.75 22h1.25v1h-1.25zM17.5 22h1.25v1h-1.25zM21.25 22h2.5v1h-2.5zM0 23h2.5v1h-2.5zM7.5 23h2.5v1h-2.5zM13.75 23h1.25v1h-1.25zM18.75 23h2.5v1h-2.5zM22.5 23h1.25v1h-1.25zM25 23h1.25v1h-1.25z" fill="#D7292A"/>
<path d="M15 0h1.25v1h-1.25zM23.75 0h2.5v1h-2.5zM2.5 1h2.5v1h-2.5zM6.25 1h1.25v1h-1.25zM10 1h1.25v1h-1.25zM16.25 2h1.25v1h-1.25zM18.75 2h1.25v1h-1.25zM26.25 2h1.25v1h-1.25zM0 3h1.25v1h-1.25zM3.75 3h2.5v1h-2.5zM15 3h2.5v1h-2.5zM18.75 3h1.25v1h-1.25zM21.25 3h1.25v1h-1.25zM1.25 4h1.25v1h-1.25zM6.25 4h1.25v1h-1.25zM8.75 4h1.25v1h-1.25zM11.25 4h1.25v1h-1.25zM22.5 4h1.25v1h-1.25zM21.25 5h1.25v1h-1.25zM26.25 5h1.25v1h-1.25zM8.75 6h1.25v1h-1.25zM22.5 6h1.25v1h-1.25zM5 7h1.25v1h-1.25zM10 7h1.25v1h-1.25zM21.25 7h1.25v1h-1.25zM27.5 7h1.25v1h-1.25zM0 8h1.25v1h-1.25zM2.5 8h2.5v1h-2.5zM12.5 8h1.25v1h-1.25zM17.5 8h1.25v1h-1.25zM5 9h1.25v1h-1.25zM26.25 9h1.25v1h-1.25zM10 10h1.25v1h-1.25zM15 10h1.25v1h-1.25zM18.75 10h1.25v1h-1.25zM15 11h1.25v1h-1.25zM23.75 11h1.25v1h-1.25zM7.5 12h1.25v1h-1.25zM7.5 13h1.25v1h-1.25zM23.75 13h1.25v1h-1.25zM1.25 14h2.5v1h-2.5zM3.75 15h1.25v1h-1.25zM11.25 15h2.5v1h-2.5zM22.5 15h1.25v1h-1.25zM26.25 15h2.5v1h-2.5zM2.5 16h1.25v1h-1.25zM1.25 17h1.25v1h-1.25zM11.25 17h1.25v1h-1.25zM15 17h1.25v1h-1.25zM18.75 17h1.25v1h-1.25zM23.75 17h1.25v1h-1.25zM2.5 18h1.25v1h-1.25zM12.5 18h2.5v1h-2.5zM16.25 18h1.25v1h-1.25zM10 19h2.5v1h-2.5zM23.75 19h1.25v1h-1.25zM27.5 19h1.25v1h-1.25zM2.5 20h1.25v1h-1.25zM26.25 20h1.25v1h-1.25zM7.5 21h2.5v1h-2.5zM11.25 21h1.25v1h-1.25zM27.5 21h1.25v1h-1.25zM2.5 22h1.25v1h-1.25zM7.5 22h1.25v1h-1.25zM11.25 22h1.25v1h-1.25zM15 22h2.5v1h-2.5zM23.75 22h1.25v1h-1.25zM5 23h1.25v1h-1.25zM11.25 23h1.25v1h-1.25zM17.5 23h1.25v1h-1.25zM21.25 23h1.25v1h-1.25z" fill="#FFE337"/>
</pattern><pattern id="tP" width="30" height="24" patternUnits="userSpaceOnUse">
<rect width="30" height="24" fill="#4010F0"/>
<path d="M3.75 0h1.25v1h-1.25zM7.5 0h1.25v1h-1.25zM10 0h1.25v1h-1.25zM15 0h1.25v1h-1.25zM23.75 0h1.25v1h-1.25zM27.5 0h1.25v1h-1.25zM1.25 1h1.25v1h-1.25zM5 1h2.5v1h-2.5zM8.75 1h1.25v1h-1.25zM12.5 1h1.25v1h-1.25zM15 1h2.5v1h-2.5zM18.75 1h1.25v1h-1.25zM27.5 1h1.25v1h-1.25zM0 2h2.5v1h-2.5zM8.75 2h1.25v1h-1.25zM12.5 2h3.75v1h-3.75zM20 2h2.5v1h-2.5zM25 2h1.25v1h-1.25zM10 3h1.25v1h-1.25zM18.75 3h2.5v1h-2.5zM22.5 3h2.5v1h-2.5zM27.5 3h1.25v1h-1.25zM0 4h1.25v1h-1.25zM2.5 4h1.25v1h-1.25zM6.25 4h1.25v1h-1.25zM11.25 4h1.25v1h-1.25zM13.75 4h2.5v1h-2.5zM18.75 4h1.25v1h-1.25zM23.75 4h2.5v1h-2.5zM28.75 4h1.25v1h-1.25zM1.25 5h1.25v1h-1.25zM5 5h1.25v1h-1.25zM7.5 5h1.25v1h-1.25zM10 5h2.5v1h-2.5zM13.75 5h1.25v1h-1.25zM17.5 5h2.5v1h-2.5zM25 5h1.25v1h-1.25zM0 6h1.25v1h-1.25zM6.25 6h5v1h-5zM13.75 6h1.25v1h-1.25zM25 6h1.25v1h-1.25zM28.75 6h1.25v1h-1.25zM2.5 7h1.25v1h-1.25zM7.5 7h1.25v1h-1.25zM10 7h2.5v1h-2.5zM15 7h1.25v1h-1.25zM18.75 7h1.25v1h-1.25zM25 7h1.25v1h-1.25zM2.5 8h1.25v1h-1.25zM5 8h1.25v1h-1.25zM10 8h2.5v1h-2.5zM13.75 8h2.5v1h-2.5zM20 8h1.25v1h-1.25zM23.75 8h2.5v1h-2.5zM27.5 8h1.25v1h-1.25zM0 9h1.25v1h-1.25zM11.25 9h1.25v1h-1.25zM16.25 9h3.75v1h-3.75zM21.25 9h1.25v1h-1.25zM23.75 9h1.25v1h-1.25zM26.25 9h1.25v1h-1.25zM0 10h1.25v1h-1.25zM2.5 10h1.25v1h-1.25zM6.25 10h1.25v1h-1.25zM8.75 10h1.25v1h-1.25zM12.5 10h3.75v1h-3.75zM17.5 10h1.25v1h-1.25zM21.25 10h1.25v1h-1.25zM2.5 11h1.25v1h-1.25zM8.75 11h1.25v1h-1.25zM16.25 11h1.25v1h-1.25zM21.25 11h2.5v1h-2.5zM26.25 11h1.25v1h-1.25zM2.5 12h2.5v1h-2.5zM7.5 12h1.25v1h-1.25zM15 12h2.5v1h-2.5zM20 12h1.25v1h-1.25zM23.75 12h1.25v1h-1.25zM2.5 13h1.25v1h-1.25zM7.5 13h1.25v1h-1.25zM23.75 13h1.25v1h-1.25zM15 14h3.75v1h-3.75zM28.75 14h1.25v1h-1.25zM1.25 15h2.5v1h-2.5zM5 15h1.25v1h-1.25zM11.25 15h1.25v1h-1.25zM21.25 15h3.75v1h-3.75zM7.5 16h1.25v1h-1.25zM10 16h2.5v1h-2.5zM13.75 16h1.25v1h-1.25zM17.5 16h1.25v1h-1.25zM21.25 16h2.5v1h-2.5zM1.25 17h3.75v1h-3.75zM7.5 17h3.75v1h-3.75zM13.75 17h1.25v1h-1.25zM17.5 17h1.25v1h-1.25zM26.25 17h2.5v1h-2.5zM3.75 18h2.5v1h-2.5zM8.75 18h1.25v1h-1.25zM23.75 18h1.25v1h-1.25zM28.75 18h1.25v1h-1.25zM2.5 19h1.25v1h-1.25zM7.5 19h2.5v1h-2.5zM12.5 19h2.5v1h-2.5zM17.5 19h1.25v1h-1.25zM20 19h1.25v1h-1.25zM23.75 19h1.25v1h-1.25zM28.75 19h1.25v1h-1.25zM1.25 20h2.5v1h-2.5zM13.75 20h1.25v1h-1.25zM17.5 20h1.25v1h-1.25zM20 20h1.25v1h-1.25zM22.5 20h1.25v1h-1.25zM26.25 20h1.25v1h-1.25zM5 21h2.5v1h-2.5zM8.75 21h1.25v1h-1.25zM12.5 21h2.5v1h-2.5zM16.25 21h1.25v1h-1.25zM18.75 21h1.25v1h-1.25zM23.75 21h1.25v1h-1.25zM27.5 21h2.5v1h-2.5zM2.5 22h1.25v1h-1.25zM5 22h1.25v1h-1.25zM8.75 22h1.25v1h-1.25zM15 22h2.5v1h-2.5zM23.75 22h2.5v1h-2.5zM28.75 22h1.25v1h-1.25zM1.25 23h2.5v1h-2.5zM5 23h1.25v1h-1.25zM18.75 23h1.25v1h-1.25zM22.5 23h2.5v1h-2.5z" fill="#2880F0"/>
</pattern><pattern id="tBP" width="30" height="24" patternUnits="userSpaceOnUse">
<rect width="30" height="24" fill="#2880F0"/>
<path d="M1.25 0h2.5v1h-2.5zM5 0h1.25v1h-1.25zM8.75 0h1.25v1h-1.25zM21.25 0h1.25v1h-1.25zM23.75 0h2.5v1h-2.5zM2.5 1h1.25v1h-1.25zM5 1h1.25v1h-1.25zM7.5 1h3.75v1h-3.75zM18.75 1h1.25v1h-1.25zM21.25 1h1.25v1h-1.25zM27.5 1h2.5v1h-2.5zM2.5 2h1.25v1h-1.25zM8.75 2h1.25v1h-1.25zM11.25 2h1.25v1h-1.25zM17.5 2h6.25v1h-6.25zM6.25 3h2.5v1h-2.5zM18.75 3h2.5v1h-2.5zM22.5 3h1.25v1h-1.25zM25 3h3.75v1h-3.75zM0 4h2.5v1h-2.5zM5 4h1.25v1h-1.25zM13.75 4h1.25v1h-1.25zM18.75 4h1.25v1h-1.25zM1.25 5h6.25v1h-6.25zM8.75 5h1.25v1h-1.25zM11.25 5h1.25v1h-1.25zM15 5h2.5v1h-2.5zM18.75 5h1.25v1h-1.25zM21.25 5h1.25v1h-1.25zM0 6h1.25v1h-1.25zM2.5 6h1.25v1h-1.25zM5 6h7.5v1h-7.5zM17.5 6h1.25v1h-1.25zM20 6h1.25v1h-1.25zM26.25 6h2.5v1h-2.5zM0 7h2.5v1h-2.5zM6.25 7h3.75v1h-3.75zM12.5 7h1.25v1h-1.25zM17.5 7h2.5v1h-2.5zM21.25 7h3.75v1h-3.75zM1.25 8h1.25v1h-1.25zM8.75 8h1.25v1h-1.25zM13.75 8h1.25v1h-1.25zM17.5 8h2.5v1h-2.5zM25 8h1.25v1h-1.25zM3.75 9h1.25v1h-1.25zM6.25 9h1.25v1h-1.25zM11.25 9h1.25v1h-1.25zM16.25 9h5v1h-5zM23.75 9h3.75v1h-3.75zM28.75 9h1.25v1h-1.25zM1.25 10h1.25v1h-1.25zM8.75 10h1.25v1h-1.25zM16.25 10h1.25v1h-1.25zM18.75 10h1.25v1h-1.25zM22.5 10h1.25v1h-1.25zM7.5 11h1.25v1h-1.25zM12.5 11h1.25v1h-1.25zM0 12h1.25v1h-1.25zM5 12h2.5v1h-2.5zM12.5 12h1.25v1h-1.25zM18.75 12h1.25v1h-1.25zM21.25 12h1.25v1h-1.25zM23.75 12h2.5v1h-2.5zM27.5 12h1.25v1h-1.25zM1.25 13h1.25v1h-1.25zM8.75 13h1.25v1h-1.25zM15 13h1.25v1h-1.25zM21.25 13h1.25v1h-1.25zM25 13h1.25v1h-1.25zM27.5 13h1.25v1h-1.25zM1.25 14h1.25v1h-1.25zM5 14h2.5v1h-2.5zM8.75 14h1.25v1h-1.25zM20 14h1.25v1h-1.25zM25 14h1.25v1h-1.25zM28.75 14h1.25v1h-1.25zM0 15h2.5v1h-2.5zM6.25 15h1.25v1h-1.25zM10 15h2.5v1h-2.5zM16.25 15h1.25v1h-1.25zM18.75 15h1.25v1h-1.25zM21.25 15h2.5v1h-2.5zM1.25 16h2.5v1h-2.5zM8.75 16h2.5v1h-2.5zM12.5 16h1.25v1h-1.25zM20 16h1.25v1h-1.25zM23.75 16h1.25v1h-1.25zM27.5 16h2.5v1h-2.5zM0 17h1.25v1h-1.25zM6.25 17h5v1h-5zM16.25 17h6.25v1h-6.25zM26.25 17h1.25v1h-1.25zM0 18h1.25v1h-1.25zM5 18h1.25v1h-1.25zM11.25 18h1.25v1h-1.25zM13.75 18h1.25v1h-1.25zM18.75 18h1.25v1h-1.25zM22.5 18h2.5v1h-2.5zM27.5 18h1.25v1h-1.25zM1.25 19h1.25v1h-1.25zM7.5 19h2.5v1h-2.5zM16.25 19h1.25v1h-1.25zM18.75 19h1.25v1h-1.25zM21.25 19h1.25v1h-1.25zM25 19h2.5v1h-2.5zM5 20h2.5v1h-2.5zM8.75 20h1.25v1h-1.25zM13.75 20h1.25v1h-1.25zM16.25 20h1.25v1h-1.25zM18.75 20h3.75v1h-3.75zM27.5 20h1.25v1h-1.25zM1.25 21h6.25v1h-6.25zM8.75 21h1.25v1h-1.25zM13.75 21h1.25v1h-1.25zM26.25 21h1.25v1h-1.25zM1.25 22h1.25v1h-1.25zM7.5 22h2.5v1h-2.5zM12.5 22h2.5v1h-2.5zM16.25 22h1.25v1h-1.25zM0 23h2.5v1h-2.5zM5 23h1.25v1h-1.25zM13.75 23h1.25v1h-1.25zM16.25 23h2.5v1h-2.5z" fill="#4010F0"/>
</pattern><pattern id="ttM" width="30" height="24" patternUnits="userSpaceOnUse">
<path d="M1.25 0h1.25v1h-1.25zM3.75 0h1.25v1h-1.25zM6.25 0h1.25v1h-1.25zM8.75 0h1.25v1h-1.25zM12.5 0h2.5v1h-2.5zM16.25 0h3.75v1h-3.75zM23.75 0h1.25v1h-1.25zM26.25 0h3.75v1h-3.75zM0 1h6.25v1h-6.25zM7.5 1h2.5v1h-2.5zM12.5 1h1.25v1h-1.25zM15 1h3.75v1h-3.75zM20 1h1.25v1h-1.25zM22.5 1h2.5v1h-2.5zM26.25 1h3.75v1h-3.75zM0 2h1.25v1h-1.25zM2.5 2h5v1h-5zM8.75 2h3.75v1h-3.75zM13.75 2h1.25v1h-1.25zM16.25 2h3.75v1h-3.75zM22.5 2h5v1h-5zM1.25 3h2.5v1h-2.5zM6.25 3h3.75v1h-3.75zM11.25 3h2.5v1h-2.5zM15 3h2.5v1h-2.5zM18.75 3h11.25v1h-11.25zM0 4h1.25v1h-1.25zM2.5 4h2.5v1h-2.5zM10 4h8.75v1h-8.75zM20 4h1.25v1h-1.25zM22.5 4h5v1h-5zM28.75 4h1.25v1h-1.25zM0 5h2.5v1h-2.5zM5 5h1.25v1h-1.25zM7.5 5h2.5v1h-2.5zM11.25 5h3.75v1h-3.75zM16.25 5h2.5v1h-2.5zM20 5h1.25v1h-1.25zM22.5 5h1.25v1h-1.25zM25 5h2.5v1h-2.5zM28.75 5h1.25v1h-1.25zM0 6h2.5v1h-2.5zM3.75 6h10v1h-10zM16.25 6h1.25v1h-1.25zM20 6h6.25v1h-6.25zM27.5 6h1.25v1h-1.25zM0 7h1.25v1h-1.25zM2.5 7h5v1h-5zM10 7h1.25v1h-1.25zM12.5 7h2.5v1h-2.5zM16.25 7h3.75v1h-3.75zM21.25 7h8.75v1h-8.75zM0 8h2.5v1h-2.5zM5 8h1.25v1h-1.25zM7.5 8h2.5v1h-2.5zM11.25 8h2.5v1h-2.5zM15 8h6.25v1h-6.25zM22.5 8h1.25v1h-1.25zM25 8h2.5v1h-2.5zM28.75 8h1.25v1h-1.25zM1.25 9h2.5v1h-2.5zM5 9h5v1h-5zM11.25 9h6.25v1h-6.25zM18.75 9h2.5v1h-2.5zM23.75 9h1.25v1h-1.25zM26.25 9h3.75v1h-3.75zM1.25 10h5v1h-5zM8.75 10h1.25v1h-1.25zM11.25 10h3.75v1h-3.75zM17.5 10h3.75v1h-3.75zM25 10h2.5v1h-2.5zM28.75 10h1.25v1h-1.25zM0 11h11.25v1h-11.25zM12.5 11h7.5v1h-7.5zM22.5 11h3.75v1h-3.75zM27.5 11h2.5v1h-2.5zM3.75 12h1.25v1h-1.25zM6.25 12h1.25v1h-1.25zM8.75 12h11.25v1h-11.25zM21.25 12h2.5v1h-2.5zM27.5 12h2.5v1h-2.5zM0 13h1.25v1h-1.25zM2.5 13h7.5v1h-7.5zM11.25 13h3.75v1h-3.75zM16.25 13h3.75v1h-3.75zM23.75 13h5v1h-5zM0 14h7.5v1h-7.5zM13.75 14h3.75v1h-3.75zM18.75 14h1.25v1h-1.25zM22.5 14h1.25v1h-1.25zM27.5 14h2.5v1h-2.5zM0 15h1.25v1h-1.25zM2.5 15h2.5v1h-2.5zM6.25 15h5v1h-5zM12.5 15h1.25v1h-1.25zM16.25 15h2.5v1h-2.5zM21.25 15h8.75v1h-8.75zM0 16h6.25v1h-6.25zM10 16h5v1h-5zM16.25 16h2.5v1h-2.5zM20 16h1.25v1h-1.25zM22.5 16h7.5v1h-7.5zM0 17h1.25v1h-1.25zM2.5 17h1.25v1h-1.25zM5 17h3.75v1h-3.75zM10 17h3.75v1h-3.75zM15 17h5v1h-5zM21.25 17h2.5v1h-2.5zM25 17h1.25v1h-1.25zM27.5 17h1.25v1h-1.25zM0 18h1.25v1h-1.25zM3.75 18h3.75v1h-3.75zM8.75 18h2.5v1h-2.5zM13.75 18h1.25v1h-1.25zM17.5 18h6.25v1h-6.25zM25 18h5v1h-5zM0 19h7.5v1h-7.5zM8.75 19h3.75v1h-3.75zM13.75 19h5v1h-5zM20 19h1.25v1h-1.25zM22.5 19h3.75v1h-3.75zM28.75 19h1.25v1h-1.25zM0 20h1.25v1h-1.25zM5 20h3.75v1h-3.75zM13.75 20h1.25v1h-1.25zM16.25 20h1.25v1h-1.25zM18.75 20h2.5v1h-2.5zM23.75 20h1.25v1h-1.25zM26.25 20h3.75v1h-3.75zM2.5 21h1.25v1h-1.25zM5 21h2.5v1h-2.5zM12.5 21h1.25v1h-1.25zM15 21h3.75v1h-3.75zM20 21h1.25v1h-1.25zM22.5 21h3.75v1h-3.75zM27.5 21h1.25v1h-1.25zM0 22h2.5v1h-2.5zM3.75 22h6.25v1h-6.25zM11.25 22h2.5v1h-2.5zM15 22h1.25v1h-1.25zM17.5 22h1.25v1h-1.25zM20 22h1.25v1h-1.25zM22.5 22h6.25v1h-6.25zM0 23h8.75v1h-8.75zM11.25 23h1.25v1h-1.25zM13.75 23h16.25v1h-16.25z" fill="#FF0000"/>
</pattern><pattern id="ttB" width="30" height="24" patternUnits="userSpaceOnUse">
<path d="M0 0h1.25v1h-1.25zM5 0h5v1h-5zM11.25 0h1.25v1h-1.25zM13.75 0h2.5v1h-2.5zM20 0h3.75v1h-3.75zM2.5 1h1.25v1h-1.25zM10 1h1.25v1h-1.25zM12.5 1h2.5v1h-2.5zM22.5 1h1.25v1h-1.25zM26.25 1h2.5v1h-2.5zM0 2h1.25v1h-1.25zM3.75 2h2.5v1h-2.5zM7.5 2h6.25v1h-6.25zM16.25 2h1.25v1h-1.25zM20 2h2.5v1h-2.5zM26.25 2h1.25v1h-1.25zM2.5 3h1.25v1h-1.25zM5 3h1.25v1h-1.25zM7.5 3h1.25v1h-1.25zM12.5 3h1.25v1h-1.25zM17.5 3h1.25v1h-1.25zM20 3h3.75v1h-3.75zM25 3h3.75v1h-3.75zM2.5 4h1.25v1h-1.25zM5 4h3.75v1h-3.75zM10 4h3.75v1h-3.75zM15 4h1.25v1h-1.25zM17.5 4h1.25v1h-1.25zM20 4h2.5v1h-2.5zM28.75 4h1.25v1h-1.25zM0 5h1.25v1h-1.25zM5 5h1.25v1h-1.25zM8.75 5h1.25v1h-1.25zM11.25 5h10v1h-10zM23.75 5h1.25v1h-1.25zM26.25 5h1.25v1h-1.25zM0 6h2.5v1h-2.5zM3.75 6h1.25v1h-1.25zM6.25 6h1.25v1h-1.25zM8.75 6h7.5v1h-7.5zM20 6h1.25v1h-1.25zM22.5 6h1.25v1h-1.25zM25 6h1.25v1h-1.25zM28.75 6h1.25v1h-1.25zM0 7h2.5v1h-2.5zM3.75 7h1.25v1h-1.25zM6.25 7h2.5v1h-2.5zM10 7h1.25v1h-1.25zM23.75 7h2.5v1h-2.5zM0 8h1.25v1h-1.25zM2.5 8h5v1h-5zM8.75 8h1.25v1h-1.25zM20 8h1.25v1h-1.25zM22.5 8h2.5v1h-2.5zM27.5 8h1.25v1h-1.25zM1.25 9h5v1h-5zM7.5 9h1.25v1h-1.25zM16.25 9h1.25v1h-1.25zM21.25 9h2.5v1h-2.5zM25 9h1.25v1h-1.25zM27.5 9h1.25v1h-1.25zM0 10h2.5v1h-2.5zM3.75 10h1.25v1h-1.25zM10 10h1.25v1h-1.25zM16.25 10h1.25v1h-1.25zM18.75 10h1.25v1h-1.25zM21.25 10h2.5v1h-2.5zM26.25 10h1.25v1h-1.25zM0 11h1.25v1h-1.25zM2.5 11h1.25v1h-1.25zM6.25 11h3.75v1h-3.75zM15 11h1.25v1h-1.25zM26.25 11h2.5v1h-2.5zM1.25 12h1.25v1h-1.25zM8.75 12h1.25v1h-1.25zM18.75 12h1.25v1h-1.25zM23.75 12h2.5v1h-2.5zM7.5 13h6.25v1h-6.25zM15 13h1.25v1h-1.25zM17.5 13h2.5v1h-2.5zM21.25 13h8.75v1h-8.75zM0 14h1.25v1h-1.25zM2.5 14h2.5v1h-2.5zM13.75 14h2.5v1h-2.5zM21.25 14h1.25v1h-1.25zM26.25 14h2.5v1h-2.5zM2.5 15h1.25v1h-1.25zM5 15h1.25v1h-1.25zM7.5 15h1.25v1h-1.25zM11.25 15h1.25v1h-1.25zM13.75 15h3.75v1h-3.75zM18.75 15h1.25v1h-1.25zM25 15h5v1h-5zM1.25 16h2.5v1h-2.5zM8.75 16h2.5v1h-2.5zM12.5 16h2.5v1h-2.5zM16.25 16h2.5v1h-2.5zM21.25 16h1.25v1h-1.25zM6.25 17h2.5v1h-2.5zM10 17h1.25v1h-1.25zM12.5 17h1.25v1h-1.25zM1.25 18h2.5v1h-2.5zM7.5 18h2.5v1h-2.5zM13.75 18h1.25v1h-1.25zM18.75 18h1.25v1h-1.25zM26.25 18h1.25v1h-1.25zM5 19h1.25v1h-1.25zM7.5 19h1.25v1h-1.25zM16.25 19h1.25v1h-1.25zM20 19h2.5v1h-2.5zM27.5 19h1.25v1h-1.25zM0 20h1.25v1h-1.25zM5 20h1.25v1h-1.25zM8.75 20h1.25v1h-1.25zM11.25 20h1.25v1h-1.25zM18.75 20h1.25v1h-1.25zM21.25 20h1.25v1h-1.25zM23.75 20h1.25v1h-1.25zM26.25 20h1.25v1h-1.25zM28.75 20h1.25v1h-1.25zM0 21h1.25v1h-1.25zM7.5 21h1.25v1h-1.25zM11.25 21h3.75v1h-3.75zM20 21h1.25v1h-1.25zM23.75 21h1.25v1h-1.25zM26.25 21h2.5v1h-2.5zM1.25 22h1.25v1h-1.25zM3.75 22h1.25v1h-1.25zM7.5 22h1.25v1h-1.25zM11.25 22h2.5v1h-2.5zM17.5 22h1.25v1h-1.25zM22.5 22h1.25v1h-1.25zM26.25 22h2.5v1h-2.5zM1.25 23h1.25v1h-1.25zM3.75 23h2.5v1h-2.5zM10 23h1.25v1h-1.25zM20 23h1.25v1h-1.25zM22.5 23h1.25v1h-1.25z" fill="#FF0000"/>
</pattern><pattern id="mixP2" width="30" height="24" patternUnits="userSpaceOnUse">
<rect width="30" height="24" fill="#4010F0"/>
<path d="M2.5 1h1.25v1h-1.25zM18.75 1h1.25v1h-1.25zM1.25 2h1.25v1h-1.25zM8.75 2h1.25v1h-1.25zM18.75 2h1.25v1h-1.25zM25 2h1.25v1h-1.25zM15 6h1.25v1h-1.25zM20 6h1.25v1h-1.25zM28.75 6h1.25v1h-1.25zM15 8h1.25v1h-1.25zM10 9h1.25v1h-1.25zM2.5 11h1.25v1h-1.25zM12.5 12h1.25v1h-1.25zM0 13h1.25v1h-1.25zM2.5 13h1.25v1h-1.25zM12.5 13h1.25v1h-1.25zM0 14h1.25v1h-1.25zM10 19h1.25v1h-1.25zM0 20h1.25v1h-1.25zM23.75 21h2.5v1h-2.5zM6.25 23h1.25v1h-1.25z" fill="#10C0F8"/>
<path d="M3.75 2h1.25v1h-1.25zM0 3h1.25v1h-1.25zM17.5 3h1.25v1h-1.25zM27.5 3h1.25v1h-1.25zM7.5 6h1.25v1h-1.25zM6.25 7h1.25v1h-1.25zM18.75 7h1.25v1h-1.25zM2.5 8h1.25v1h-1.25zM26.25 8h1.25v1h-1.25zM13.75 9h1.25v1h-1.25zM0 11h1.25v1h-1.25zM22.5 11h1.25v1h-1.25zM26.25 13h1.25v1h-1.25zM28.75 13h1.25v1h-1.25zM12.5 15h1.25v1h-1.25zM26.25 15h1.25v1h-1.25zM5 16h1.25v1h-1.25zM21.25 16h1.25v1h-1.25zM1.25 17h1.25v1h-1.25zM7.5 18h1.25v1h-1.25zM20 18h1.25v1h-1.25zM28.75 18h1.25v1h-1.25zM2.5 19h1.25v1h-1.25zM12.5 19h1.25v1h-1.25zM23.75 19h1.25v1h-1.25zM26.25 19h1.25v1h-1.25zM28.75 19h1.25v1h-1.25zM3.75 20h1.25v1h-1.25zM8.75 20h1.25v1h-1.25zM1.25 21h1.25v1h-1.25zM15 21h1.25v1h-1.25zM21.25 21h2.5v1h-2.5z" fill="#2090F0"/>
</pattern><pattern id="mixRO" width="30" height="24" patternUnits="userSpaceOnUse">
<rect width="30" height="24" fill="#FF7300"/>
<path d="M0 0h1.25v1h-1.25zM3.75 0h2.5v1h-2.5zM8.75 0h1.25v1h-1.25zM13.75 0h1.25v1h-1.25zM27.5 0h1.25v1h-1.25zM3.75 1h2.5v1h-2.5zM7.5 1h1.25v1h-1.25zM10 1h1.25v1h-1.25zM12.5 1h1.25v1h-1.25zM20 1h1.25v1h-1.25zM26.25 1h1.25v1h-1.25zM28.75 1h1.25v1h-1.25zM6.25 2h1.25v1h-1.25zM8.75 2h1.25v1h-1.25zM16.25 2h1.25v1h-1.25zM28.75 2h1.25v1h-1.25zM6.25 3h1.25v1h-1.25zM12.5 3h1.25v1h-1.25zM16.25 3h1.25v1h-1.25zM26.25 3h1.25v1h-1.25zM5 4h2.5v1h-2.5zM8.75 4h1.25v1h-1.25zM27.5 4h1.25v1h-1.25zM25 5h1.25v1h-1.25zM28.75 5h1.25v1h-1.25zM2.5 6h1.25v1h-1.25zM20 6h1.25v1h-1.25zM22.5 6h1.25v1h-1.25zM26.25 6h1.25v1h-1.25zM5 7h1.25v1h-1.25zM10 7h1.25v1h-1.25zM16.25 7h1.25v1h-1.25zM26.25 7h1.25v1h-1.25zM0 8h1.25v1h-1.25zM7.5 8h1.25v1h-1.25zM11.25 8h1.25v1h-1.25zM17.5 8h1.25v1h-1.25zM25 8h1.25v1h-1.25zM27.5 8h1.25v1h-1.25zM1.25 9h1.25v1h-1.25zM6.25 9h1.25v1h-1.25zM8.75 9h1.25v1h-1.25zM11.25 9h1.25v1h-1.25zM20 9h1.25v1h-1.25zM23.75 9h1.25v1h-1.25zM26.25 9h2.5v1h-2.5zM1.25 10h1.25v1h-1.25zM10 10h1.25v1h-1.25zM15 10h1.25v1h-1.25zM23.75 10h1.25v1h-1.25zM2.5 11h1.25v1h-1.25zM6.25 11h1.25v1h-1.25zM11.25 11h1.25v1h-1.25zM13.75 11h1.25v1h-1.25zM17.5 11h1.25v1h-1.25zM26.25 11h1.25v1h-1.25zM0 12h1.25v1h-1.25zM6.25 12h1.25v1h-1.25zM20 12h1.25v1h-1.25zM22.5 12h1.25v1h-1.25zM26.25 12h1.25v1h-1.25zM28.75 12h1.25v1h-1.25zM2.5 13h1.25v1h-1.25zM10 13h1.25v1h-1.25zM15 13h1.25v1h-1.25zM21.25 13h1.25v1h-1.25zM26.25 13h1.25v1h-1.25zM1.25 14h1.25v1h-1.25zM5 14h2.5v1h-2.5zM13.75 14h1.25v1h-1.25zM17.5 14h2.5v1h-2.5zM23.75 14h2.5v1h-2.5zM28.75 14h1.25v1h-1.25zM2.5 15h2.5v1h-2.5zM8.75 15h1.25v1h-1.25zM11.25 15h1.25v1h-1.25zM15 15h2.5v1h-2.5zM28.75 15h1.25v1h-1.25zM0 16h1.25v1h-1.25zM6.25 16h1.25v1h-1.25zM10 16h6.25v1h-6.25zM21.25 16h1.25v1h-1.25zM1.25 17h2.5v1h-2.5zM16.25 17h1.25v1h-1.25zM20 17h1.25v1h-1.25zM0 18h1.25v1h-1.25zM2.5 18h1.25v1h-1.25zM11.25 18h1.25v1h-1.25zM25 18h1.25v1h-1.25zM27.5 18h2.5v1h-2.5zM0 19h2.5v1h-2.5zM8.75 19h1.25v1h-1.25zM11.25 19h1.25v1h-1.25zM15 19h1.25v1h-1.25zM23.75 19h1.25v1h-1.25zM26.25 19h1.25v1h-1.25zM6.25 20h1.25v1h-1.25zM13.75 20h1.25v1h-1.25zM17.5 20h2.5v1h-2.5zM21.25 20h1.25v1h-1.25zM28.75 20h1.25v1h-1.25zM2.5 21h2.5v1h-2.5zM16.25 21h1.25v1h-1.25zM20 21h1.25v1h-1.25zM26.25 21h1.25v1h-1.25zM11.25 22h1.25v1h-1.25zM13.75 22h1.25v1h-1.25zM18.75 22h2.5v1h-2.5zM22.5 22h1.25v1h-1.25zM7.5 23h1.25v1h-1.25zM17.5 23h2.5v1h-2.5zM22.5 23h1.25v1h-1.25zM26.25 23h1.25v1h-1.25z" fill="#FFB810"/>
<path d="M1.25 0h1.25v1h-1.25zM6.25 0h1.25v1h-1.25zM10 0h1.25v1h-1.25zM23.75 0h1.25v1h-1.25zM8.75 1h1.25v1h-1.25zM11.25 2h1.25v1h-1.25zM27.5 2h1.25v1h-1.25zM3.75 3h1.25v1h-1.25zM18.75 3h1.25v1h-1.25zM1.25 4h1.25v1h-1.25zM3.75 4h1.25v1h-1.25zM10 4h1.25v1h-1.25zM26.25 4h1.25v1h-1.25zM7.5 5h1.25v1h-1.25zM15 5h1.25v1h-1.25zM17.5 5h1.25v1h-1.25zM0 6h1.25v1h-1.25zM8.75 6h1.25v1h-1.25zM18.75 6h1.25v1h-1.25zM13.75 7h2.5v1h-2.5zM17.5 7h2.5v1h-2.5zM21.25 7h1.25v1h-1.25zM28.75 7h1.25v1h-1.25zM6.25 8h1.25v1h-1.25zM12.5 8h1.25v1h-1.25zM7.5 9h1.25v1h-1.25zM25 9h1.25v1h-1.25zM8.75 10h1.25v1h-1.25zM22.5 10h1.25v1h-1.25zM25 10h1.25v1h-1.25zM15 11h1.25v1h-1.25zM27.5 11h1.25v1h-1.25zM1.25 12h1.25v1h-1.25zM12.5 12h1.25v1h-1.25zM0 13h1.25v1h-1.25zM0 14h1.25v1h-1.25zM3.75 14h1.25v1h-1.25zM15 14h1.25v1h-1.25zM20 14h1.25v1h-1.25zM27.5 14h1.25v1h-1.25zM18.75 15h1.25v1h-1.25zM1.25 16h1.25v1h-1.25zM18.75 16h2.5v1h-2.5zM23.75 16h1.25v1h-1.25zM10 18h1.25v1h-1.25zM12.5 18h1.25v1h-1.25zM2.5 19h1.25v1h-1.25zM22.5 19h1.25v1h-1.25zM25 19h1.25v1h-1.25zM22.5 20h2.5v1h-2.5zM1.25 21h1.25v1h-1.25zM6.25 21h1.25v1h-1.25zM12.5 21h1.25v1h-1.25zM25 21h1.25v1h-1.25zM28.75 21h1.25v1h-1.25zM1.25 22h1.25v1h-1.25zM5 22h1.25v1h-1.25zM15 22h1.25v1h-1.25zM21.25 22h1.25v1h-1.25zM26.25 22h1.25v1h-1.25z" fill="#FFF080"/>
<path d="M7.5 0h1.25v1h-1.25zM12.5 0h1.25v1h-1.25zM15 0h1.25v1h-1.25zM18.75 0h1.25v1h-1.25zM25 0h2.5v1h-2.5zM28.75 0h1.25v1h-1.25zM0 1h3.75v1h-3.75zM13.75 1h1.25v1h-1.25zM21.25 1h3.75v1h-3.75zM2.5 2h2.5v1h-2.5zM10 2h1.25v1h-1.25zM13.75 2h2.5v1h-2.5zM20 2h5v1h-5zM26.25 2h1.25v1h-1.25zM0 3h1.25v1h-1.25zM2.5 3h1.25v1h-1.25zM5 3h1.25v1h-1.25zM7.5 3h2.5v1h-2.5zM15 3h1.25v1h-1.25zM20 3h1.25v1h-1.25zM22.5 3h2.5v1h-2.5zM27.5 3h2.5v1h-2.5zM0 4h1.25v1h-1.25zM2.5 4h1.25v1h-1.25zM12.5 4h2.5v1h-2.5zM17.5 4h2.5v1h-2.5zM22.5 4h1.25v1h-1.25zM28.75 4h1.25v1h-1.25zM0 5h1.25v1h-1.25zM2.5 5h1.25v1h-1.25zM5 5h1.25v1h-1.25zM8.75 5h2.5v1h-2.5zM12.5 5h2.5v1h-2.5zM18.75 5h1.25v1h-1.25zM21.25 5h3.75v1h-3.75zM26.25 5h2.5v1h-2.5zM1.25 6h1.25v1h-1.25zM10 6h3.75v1h-3.75zM17.5 6h1.25v1h-1.25zM25 6h1.25v1h-1.25zM20 7h1.25v1h-1.25zM2.5 8h1.25v1h-1.25zM5 8h1.25v1h-1.25zM8.75 8h1.25v1h-1.25zM15 8h2.5v1h-2.5zM20 8h2.5v1h-2.5zM0 9h1.25v1h-1.25zM10 9h1.25v1h-1.25zM17.5 9h2.5v1h-2.5zM21.25 9h2.5v1h-2.5zM2.5 10h2.5v1h-2.5zM6.25 10h1.25v1h-1.25zM12.5 10h2.5v1h-2.5zM16.25 10h1.25v1h-1.25zM18.75 10h3.75v1h-3.75zM1.25 11h1.25v1h-1.25zM3.75 11h2.5v1h-2.5zM8.75 11h2.5v1h-2.5zM21.25 11h1.25v1h-1.25zM25 11h1.25v1h-1.25zM8.75 12h1.25v1h-1.25zM15 12h1.25v1h-1.25zM27.5 12h1.25v1h-1.25zM3.75 13h1.25v1h-1.25zM6.25 13h1.25v1h-1.25zM8.75 13h1.25v1h-1.25zM12.5 13h2.5v1h-2.5zM23.75 13h2.5v1h-2.5zM27.5 13h1.25v1h-1.25zM10 14h1.25v1h-1.25zM16.25 14h1.25v1h-1.25zM21.25 14h1.25v1h-1.25zM1.25 15h1.25v1h-1.25zM7.5 15h1.25v1h-1.25zM10 15h1.25v1h-1.25zM17.5 15h1.25v1h-1.25zM21.25 15h1.25v1h-1.25zM23.75 15h3.75v1h-3.75zM2.5 16h1.25v1h-1.25zM5 16h1.25v1h-1.25zM7.5 16h2.5v1h-2.5zM16.25 16h2.5v1h-2.5zM26.25 16h1.25v1h-1.25zM5 17h1.25v1h-1.25zM8.75 17h2.5v1h-2.5zM12.5 17h2.5v1h-2.5zM18.75 17h1.25v1h-1.25zM22.5 17h2.5v1h-2.5zM28.75 17h1.25v1h-1.25zM5 18h5v1h-5zM13.75 18h3.75v1h-3.75zM21.25 18h2.5v1h-2.5zM3.75 19h1.25v1h-1.25zM7.5 19h1.25v1h-1.25zM12.5 19h2.5v1h-2.5zM16.25 19h1.25v1h-1.25zM0 20h1.25v1h-1.25zM16.25 20h1.25v1h-1.25zM20 20h1.25v1h-1.25zM25 20h1.25v1h-1.25zM11.25 21h1.25v1h-1.25zM15 21h1.25v1h-1.25zM17.5 21h2.5v1h-2.5zM21.25 21h2.5v1h-2.5zM3.75 22h1.25v1h-1.25zM7.5 22h1.25v1h-1.25zM10 22h1.25v1h-1.25zM12.5 22h1.25v1h-1.25zM16.25 22h1.25v1h-1.25zM23.75 22h1.25v1h-1.25zM27.5 22h1.25v1h-1.25zM0 23h6.25v1h-6.25zM11.25 23h1.25v1h-1.25zM15 23h1.25v1h-1.25zM21.25 23h1.25v1h-1.25z" fill="#FF0000"/>
</pattern></defs>
<text x="350.00" y="82.00" font-size="19.2" text-anchor="middle">ANN FSR (W/m^2)</text>
<text x="175.00" y="110.00" font-size="15.75" text-anchor="middle">Myccost_I2000Clm50BgcCrop_kparams</text>
<text x="175.00" y="126.60" font-size="15.75" text-anchor="middle">(yrs 1-14)</text>
<text x="524.90" y="110.00" font-size="15.75" text-anchor="middle">Myccost_I2000Clm50BgcCrop_control</text>
<text x="524.90" y="126.60" font-size="15.75" text-anchor="middle">(yrs 1-14)</text>
<text x="175.00" y="386.30" font-size="15.75" text-anchor="middle">Myccost_I2000Clm50BgcCrop_kparams</text>
<text x="175.00" y="403.80" font-size="15.75" text-anchor="middle">- Myccost_I2000Clm50BgcCrop_control</text>
<text x="524.90" y="396.90" font-size="15.75" text-anchor="middle">T-Test of two Case means at each grid point</text>
<text x="523.30" y="624.70" font-size="12.65" text-anchor="middle">Cells are significant at 0.1 level</text>
<clipPath id="land0"><path d="M54.2,151.1 59.1,148.6 62.7,147.5 69.6,145.9 72.0,146.4 75.9,147.0 78.1,147.3 80.8,148.0 84.2,147.4 87.6,146.9 88.9,147.5 92.1,147.8 94.6,148.7 97.9,148.9 102.0,148.3 106.2,149.1 108.1,148.4 111.7,145.5 111.4,147.1 112.7,148.0 113.6,148.6 116.5,147.5 118.7,147.3 117.3,149.8 114.2,150.8 111.7,152.2 106.9,153.8 102.8,157.0 103.4,157.8 104.8,159.3 106.4,160.5 109.6,161.4 108.7,163.7 110.0,165.1 112.1,162.0 114.8,159.5 116.1,156.5 117.0,154.2 119.9,154.4 121.6,155.3 121.7,157.5 123.3,158.0 125.7,156.2 126.2,158.5 127.1,160.0 128.7,162.0 129.6,164.1 128.0,165.2 125.5,166.5 120.5,166.5 116.9,168.4 121.0,167.5 121.4,168.1 120.3,169.6 120.8,170.5 123.1,171.3 124.2,170.7 122.5,171.9 118.2,173.4 114.8,173.4 114.0,175.3 112.2,176.0 110.2,176.7 108.2,178.8 107.3,180.7 107.2,182.4 104.6,183.9 101.3,186.4 101.0,190.1 100.8,192.8 99.8,193.1 98.9,190.1 98.2,188.0 96.5,187.5 93.7,187.7 93.1,189.1 90.8,188.4 88.5,188.5 85.4,190.6 84.4,193.9 84.0,196.8 84.8,199.6 86.3,200.7 89.2,200.3 90.5,197.8 93.5,197.1 92.8,200.3 91.9,203.0 94.0,203.1 96.5,204.1 95.7,208.4 96.9,210.2 99.6,209.9 101.5,211.0 100.5,211.9 98.8,212.4 97.4,211.5 95.3,210.0 93.7,208.8 92.3,206.3 89.1,205.2 86.5,202.9 84.1,203.4 80.1,201.6 76.3,198.5 76.8,196.8 76.0,195.1 74.0,192.5 72.1,188.7 70.6,186.0 71.3,188.5 71.8,190.7 72.6,194.2 73.1,195.5 71.1,193.7 69.9,191.0 69.2,188.0 68.9,185.2 68.2,183.7 66.5,183.1 66.2,179.9 66.2,177.5 66.2,176.7 67.5,174.0 70.1,170.3 70.8,168.3 72.4,167.8 71.3,166.7 69.8,165.8 70.7,164.6 70.9,162.0 71.0,159.5 69.9,158.2 68.6,156.8 65.8,156.5 65.0,155.5 60.3,157.0 60.8,155.5 58.9,157.3 55.7,158.5 50.9,160.0 46.1,161.5 43.4,162.0 48.2,160.3 53.5,158.0 51.8,157.8 50.4,157.7 50.4,156.0 51.5,154.6 53.7,153.4 57.9,152.2 56.2,152.1 54.1,152.0 54.2,151.1ZM130.4,140.3 132.3,139.5 134.9,138.6 137.8,138.1 140.7,137.4 143.7,137.2 151.5,136.5 158.3,136.4 163.6,137.2 168.1,137.7 164.5,139.5 163.1,141.5 162.1,143.1 160.0,145.3 160.1,146.6 156.9,148.4 152.0,148.7 148.1,151.1 145.4,152.6 143.4,155.5 141.2,156.5 138.9,155.5 137.5,153.1 136.9,150.3 139.1,147.8 138.2,146.2 138.1,144.4 138.2,142.2 132.2,141.7 130.4,140.3ZM157.8,151.2 159.4,150.4 162.2,150.6 164.4,150.3 165.3,151.4 164.1,152.4 161.8,153.2 158.6,152.8 159.0,152.2 157.8,151.2ZM122.8,143.8 125.1,145.0 127.1,146.5 128.9,147.5 130.4,149.8 130.6,150.8 127.7,152.2 127.4,153.6 125.8,154.6 123.2,153.8 121.6,152.6 119.7,152.3 118.3,152.2 122.5,150.0 124.0,148.7 121.3,148.6 121.3,147.5 119.2,147.2 116.3,146.9 115.2,146.2 116.0,144.4 118.8,143.9 122.8,143.8ZM97.4,144.3 104.1,144.2 108.4,144.4 106.6,146.6 104.4,148.0 101.5,148.1 96.3,148.4 93.8,147.8 96.8,146.6 95.7,145.7 97.4,144.3ZM91.0,145.5 95.0,143.3 99.6,143.3 99.4,144.0 94.2,145.9 91.0,145.5ZM125.5,141.5 121.6,141.7 119.5,140.7 117.9,139.5 118.7,138.4 122.4,137.4 130.1,136.7 135.6,136.7 140.3,137.2 136.9,138.4 131.7,139.5 125.5,141.5ZM123.4,143.1 116.9,143.1 115.9,142.2 121.2,141.4 124.6,141.7 123.4,143.1ZM108.2,142.3 99.7,142.7 102.9,141.1 106.3,141.3 108.2,142.3ZM114.3,143.1 109.4,142.9 110.6,141.9 115.3,141.1 114.3,143.1ZM114.6,145.3 112.0,144.9 113.2,143.6 115.8,143.6 114.6,145.3ZM110.2,145.7 107.4,145.5 108.9,144.0 111.9,143.6 110.2,145.7ZM115.9,153.1 112.1,152.6 112.4,151.2 114.9,150.8 115.9,153.1ZM125.2,169.2 126.9,167.2 129.3,165.0 129.0,167.1 130.3,168.2 130.7,169.3 129.8,170.2 127.9,169.3 125.2,169.2ZM29.2,197.9 30.0,198.7 29.2,199.8 28.8,199.3ZM27.3,197.0 27.9,197.3 27.4,197.4ZM40.5,163.1 41.9,162.5 43.4,162.2 41.1,163.3ZM37.2,163.9 39.0,163.4 37.8,164.1ZM32.8,164.6 34.4,164.3 33.5,164.7ZM29.7,164.8 31.2,164.6 30.3,165.0ZM54.5,159.2 56.8,158.5 55.8,159.2 54.4,159.7ZM284.3,229.1 285.2,229.2 284.7,229.7 283.9,229.5ZM285.3,229.2 285.9,229.2 285.7,229.8ZM286.2,229.3 288.1,229.1 288.1,229.7 286.1,229.9ZM288.8,229.4 291.9,229.1 291.9,229.5 289.0,229.8ZM288.0,230.5 289.7,230.9 288.4,230.9ZM292.2,231.2 293.7,229.9 295.9,229.3 293.7,230.7ZM297.0,223.5 299.6,223.5 299.3,224.3 297.1,224.0ZM296.5,218.3 297.5,219.7 297.0,221.1 296.5,219.7ZM292.6,206.8 294.2,207.3 294.0,208.4 293.0,208.1ZM290.6,207.6 291.6,207.9 291.2,209.0 290.6,208.6ZM291.5,208.5 292.2,209.0 291.8,210.5 291.3,209.6ZM292.8,207.9 293.5,208.2 293.8,209.4 293.1,209.3ZM288.8,205.7 290.0,206.2 289.8,207.1 289.1,206.8ZM286.4,211.2 288.3,208.0 288.6,209.0 286.7,211.4ZM323.9,227.5 326.1,228.9 327.4,230.1 324.3,228.3ZM316.3,226.2 318.3,226.0 319.8,224.8 319.2,226.3 316.8,226.9ZM341.7,239.1 342.9,238.9 342.5,239.8 341.7,239.6ZM328.5,242.0 330.8,244.2 330.2,244.5 328.5,242.6ZM332.1,236.4 332.8,236.9 332.4,237.5ZM120.8,140.0 118.0,139.9 118.7,138.4 122.3,137.8 123.7,139.1ZM112.2,141.1 110.0,140.4 111.9,139.9 114.6,140.7ZM115.0,139.9 117.5,139.3 117.8,140.0ZM102.9,141.5 98.0,141.7 101.4,140.4 103.2,140.8ZM115.2,142.9 113.4,142.8 114.8,142.1 116.2,142.2ZM124.8,144.6 121.8,144.3 122.8,143.7 124.7,143.9ZM108.8,148.4 106.3,148.2 107.4,147.3 109.1,147.3ZM115.0,153.9 112.8,154.4 112.8,153.8 114.6,153.3ZM202.9,138.8 207.1,138.1 212.1,138.4 207.7,138.9ZM187.3,140.1 189.9,140.8 188.7,141.1 186.2,140.7ZM95.7,196.7 99.7,195.3 102.7,196.9 105.6,198.5 102.5,198.8 100.4,196.9 98.1,196.5 95.7,196.7ZM105.1,200.5 106.9,198.8 110.0,199.1 111.0,200.3 107.8,201.3 105.1,200.5ZM101.5,200.6 103.5,200.8 102.7,201.1 101.5,200.6ZM112.0,200.3 113.5,200.5 113.2,200.9 111.9,200.9ZM101.4,211.0 103.5,208.7 105.9,207.9 106.9,207.0 107.3,208.4 110.6,208.8 114.4,208.7 116.3,208.7 117.6,211.1 120.4,213.8 123.7,214.0 126.0,215.4 127.4,218.3 127.9,220.2 130.3,221.1 132.7,222.8 137.0,223.3 139.8,225.2 141.5,226.0 141.8,229.9 139.5,233.2 138.2,234.8 138.2,239.1 137.2,242.3 136.4,244.5 133.6,245.2 130.6,248.0 130.2,250.9 129.0,253.6 127.2,256.6 125.6,257.9 122.8,257.4 124.2,259.5 124.0,261.3 120.3,262.2 120.5,263.8 118.3,264.5 119.6,265.9 119.1,268.6 117.8,269.8 119.8,271.5 119.0,273.3 118.4,274.9 119.4,276.4 122.4,278.8 119.6,279.5 116.2,277.4 114.2,275.9 111.8,271.7 111.4,268.6 111.2,265.4 109.6,260.0 110.0,254.7 109.3,250.4 109.5,246.1 109.2,240.2 106.8,238.3 103.1,235.3 100.5,230.5 99.2,227.6 97.8,225.6 98.9,223.5 98.1,221.3 98.8,219.4 100.0,218.3 101.3,215.9 101.5,213.3 101.4,211.0ZM167.0,180.5 166.8,178.3 167.4,175.1 167.1,173.9 168.2,173.3 171.6,173.6 173.8,173.6 174.0,171.1 173.2,169.6 171.1,168.8 173.8,168.0 176.3,166.7 177.1,165.6 178.3,165.1 179.1,163.6 181.5,163.0 181.9,161.0 181.5,159.7 183.2,158.8 183.3,160.5 182.9,161.7 183.9,162.5 186.3,162.5 189.4,161.7 191.8,161.5 191.5,159.5 193.8,159.3 193.1,157.2 196.5,157.0 197.9,156.5 192.6,156.5 191.3,155.5 190.9,153.6 193.2,151.7 190.8,150.9 189.0,153.1 188.2,155.5 189.2,157.0 188.0,160.0 185.4,161.0 184.9,160.0 183.5,157.7 182.7,157.5 181.3,158.5 179.3,157.5 178.8,155.1 180.9,153.3 183.7,151.2 185.6,148.9 187.4,147.3 190.7,146.6 194.0,146.2 196.3,147.1 197.8,147.7 203.9,149.4 204.1,150.8 200.0,151.7 202.9,152.6 206.6,150.8 205.7,148.4 212.1,148.6 213.4,148.4 216.6,148.0 220.5,147.4 220.6,144.4 224.1,145.7 225.9,148.9 224.8,144.9 227.5,144.0 231.3,143.1 235.1,141.9 238.9,140.4 249.1,144.0 254.2,144.4 259.4,144.9 259.7,144.6 268.0,144.9 275.9,145.7 284.6,147.1 291.8,147.3 298.0,147.7 299.9,148.1 305.4,151.7 304.6,152.2 306.5,154.1 305.5,155.5 304.4,156.5 300.9,156.7 302.0,159.0 302.9,160.5 303.8,164.6 303.6,165.6 300.7,163.1 296.7,159.5 297.6,158.5 296.6,155.1 295.1,155.1 293.6,157.0 289.8,157.0 284.6,157.2 286.9,162.0 285.0,162.5 292.5,168.2 291.4,173.5 288.5,174.5 288.1,176.7 290.9,181.5 289.3,183.0 288.8,183.1 287.0,179.9 284.5,177.5 282.3,178.3 280.9,176.4 279.2,178.3 279.2,178.8 281.1,180.5 284.1,180.2 282.9,182.6 285.9,186.4 286.7,188.0 285.9,191.7 283.9,195.0 280.9,196.3 278.3,197.7 278.0,198.4 276.3,197.0 274.7,198.7 274.3,200.3 276.3,202.5 278.3,206.3 278.3,207.9 276.1,210.0 274.6,211.0 274.7,209.5 272.7,209.0 270.1,205.9 269.4,209.5 270.6,212.7 273.7,218.7 271.3,217.6 268.6,211.6 268.5,209.5 266.8,202.5 264.1,203.0 263.3,200.3 261.0,197.7 259.0,196.6 256.3,197.1 256.0,198.7 252.3,202.5 250.9,206.3 250.8,209.2 248.7,211.5 247.1,209.5 244.9,204.1 243.5,199.8 242.8,197.1 240.3,196.0 238.8,195.0 236.6,192.8 232.1,193.1 227.7,192.0 227.0,191.2 222.9,190.3 219.7,187.8 219.0,188.5 221.3,191.7 222.8,192.8 226.1,193.9 227.1,192.0 227.5,193.9 230.8,196.0 229.2,199.8 226.8,202.0 224.1,203.6 220.9,205.2 217.6,206.5 216.2,206.6 215.4,204.1 211.5,197.1 209.4,193.4 207.3,190.1 207.1,188.5 206.5,190.1 204.9,188.1 204.5,186.7 206.5,186.4 207.2,182.6 207.2,180.9 203.7,181.3 200.0,180.8 198.3,178.3 198.3,176.7 200.4,176.0 205.5,175.1 211.2,175.6 211.1,174.0 207.5,171.9 203.7,172.5 200.5,170.9 199.6,173.5 199.5,175.6 197.8,176.4 195.2,176.9 195.1,180.5 193.6,178.8 192.0,175.3 188.8,173.5 186.7,171.3 185.6,172.5 187.0,174.6 189.0,175.6 191.3,177.1 189.6,178.3 189.0,179.4 189.1,177.2 187.3,176.2 185.5,175.1 184.1,173.5 182.3,172.6 180.7,173.9 178.1,173.7 177.8,175.1 175.1,178.3 174.4,179.8 173.3,180.8 170.0,181.5 169.3,180.7 167.0,180.5ZM50.2,148.1 51.7,149.4 53.5,150.6 51.6,151.4 48.9,152.4 46.2,151.7 44.7,151.7ZM169.8,181.7 173.3,182.5 177.7,180.7 184.0,180.2 184.9,182.6 184.3,183.9 188.7,185.5 192.9,187.7 193.2,185.8 195.9,185.3 197.8,186.4 201.5,187.0 204.2,186.7 204.9,188.1 205.9,190.7 208.1,194.6 210.0,200.0 211.8,203.0 214.3,205.7 216.1,207.4 217.3,209.1 223.5,207.6 223.4,209.0 222.1,213.3 219.3,217.6 215.1,221.3 213.1,224.0 212.1,227.2 213.4,232.1 213.3,236.4 207.8,241.8 208.0,244.5 205.4,248.0 204.9,250.9 202.9,253.6 199.4,256.6 194.9,256.8 191.7,257.1 191.4,254.7 188.9,249.3 188.6,244.5 186.2,238.5 187.8,233.2 186.7,226.7 183.6,220.8 184.4,216.5 183.1,215.4 180.8,215.6 177.9,213.4 173.1,215.1 167.9,215.5 164.6,212.9 162.2,210.0 159.2,206.8 158.7,204.4 160.0,200.9 159.6,197.7 161.6,192.3 165.9,188.7 166.2,186.4 168.9,183.7 169.8,181.7ZM221.7,233.2 222.7,236.9 221.5,239.6 218.6,247.1 216.7,247.7 215.6,243.9 216.8,238.0 218.9,236.9 221.7,233.2ZM170.3,166.7 172.6,165.2 170.8,164.8 171.2,163.8 172.6,163.2 172.7,162.0 170.7,161.1 170.4,159.5 171.2,157.9 172.4,157.9 173.5,159.5 173.9,161.0 175.1,163.1 176.4,163.9 176.3,165.6 170.3,166.7ZM170.2,164.4 168.5,165.0 166.7,164.6 167.0,162.3 169.1,161.2 170.4,161.5 170.2,162.5 170.2,164.4ZM181.7,140.0 184.5,138.8 191.0,138.5 192.0,139.7 186.3,141.4 181.7,140.0ZM209.7,145.7 211.6,142.7 217.8,141.2 214.8,142.7 212.6,146.2 209.7,145.7ZM232.8,139.5 233.3,138.1 237.3,138.4 238.2,139.9 232.8,139.5ZM263.5,143.6 264.8,141.9 270.9,142.5 268.0,144.4 263.5,143.6ZM295.5,146.0 296.1,145.7 297.0,146.3ZM280.9,243.9 284.4,242.5 288.4,241.2 290.3,238.5 294.1,235.3 296.8,236.4 298.1,233.7 300.6,232.4 304.8,233.2 303.3,236.9 306.2,239.1 308.2,238.5 308.9,234.2 310.1,231.9 312.3,236.4 312.1,240.2 315.3,244.5 316.9,247.1 316.3,250.4 314.6,253.6 308.4,260.6 304.4,262.2 301.8,262.0 299.2,261.1 298.7,258.5 299.3,256.3 296.5,255.5 294.3,254.1 289.5,254.9 286.5,256.8 280.9,257.9 278.8,256.8 280.5,248.2 280.9,243.9ZM301.6,264.0 304.7,264.2 302.8,266.7 300.8,267.1 301.6,264.0ZM330.6,257.3 331.2,259.0 333.6,260.8 330.9,262.7 327.6,264.9 328.8,262.7 328.3,262.4 330.6,257.3ZM326.4,263.8 326.8,265.1 324.1,267.0 321.5,268.0 318.0,270.3 316.4,269.6 319.4,267.5 324.5,264.9 326.4,263.8ZM293.1,183.7 293.0,183.1 296.5,182.0 296.7,180.5 298.8,179.4 297.7,176.7 298.3,175.7 300.0,177.8 300.7,180.5 300.8,182.6 297.1,184.2 293.1,183.7ZM297.1,175.6 296.0,174.0 295.7,171.4 299.5,172.8 300.6,173.7 297.7,174.6 297.1,175.6ZM292.3,184.4 293.9,184.2 294.4,186.5 293.7,186.8 292.3,184.4ZM295.6,170.9 291.7,165.6 289.1,162.2 294.2,167.2 295.6,170.9ZM286.8,195.5 287.7,193.1 287.9,196.6 287.6,196.6 286.8,195.5ZM276.8,199.6 278.5,198.6 279.0,199.3 277.9,200.7 276.8,199.6ZM287.7,200.3 289.8,200.3 290.0,202.8 292.3,206.3 289.4,205.6 288.8,204.7 287.7,200.3ZM291.0,212.7 294.6,210.0 295.3,212.7 294.4,214.0 291.0,212.8ZM265.7,214.2 267.8,214.7 270.8,218.1 274.1,221.3 276.0,223.7 275.9,226.5 274.5,226.6 271.3,222.9 268.9,218.6 265.7,214.2ZM275.1,227.6 275.9,226.7 280.6,227.2 283.9,228.5 283.8,229.6 280.5,229.1 275.4,227.8 275.1,227.6ZM278.9,218.6 280.8,218.4 283.6,215.4 285.3,212.8 288.6,214.5 287.5,219.2 286.0,222.4 285.5,224.6 284.1,224.0 280.8,223.5 279.8,222.2 278.9,220.8 278.9,218.6ZM288.8,226.2 289.8,223.3 290.1,219.0 294.1,218.5 290.4,219.7 292.7,221.3 290.8,222.4 291.6,225.4 290.3,224.0 289.7,226.2 288.8,226.2ZM299.9,221.3 302.7,221.2 306.5,222.0 309.3,223.0 313.7,225.4 315.3,226.9 318.0,231.5 314.5,230.8 311.3,229.9 309.4,230.1 306.1,229.1 305.9,225.6 303.6,224.9 301.2,224.6 300.8,223.3 299.9,221.3ZM250.9,212.7 251.1,209.7 252.8,212.2 252.1,213.8 250.9,212.7ZM83.8,307.0 70.2,302.4 77.7,303.1 81.1,302.1 82.5,299.8 85.9,298.2 91.0,297.4 96.7,296.8 103.5,296.9 109.5,296.5 115.5,295.9 122.3,296.1 125.3,295.6 127.7,294.3 128.4,292.1 128.7,290.2 130.5,288.0 132.6,287.1 133.2,287.5 131.9,288.6 131.0,290.5 131.4,292.5 133.6,295.2 135.4,296.9 136.8,298.2 144.3,300.1 150.6,300.2 153.3,299.4 159.1,298.2 165.2,296.1 168.3,294.3 175.1,293.4 181.9,293.4 188.7,293.4 195.7,293.0 202.9,292.1 210.7,290.2 217.6,290.7 224.1,291.6 223.3,293.0 231.4,291.1 239.2,290.2 246.7,289.7 253.9,289.7 260.6,290.2 268.0,289.9 274.5,290.5 279.6,292.1 284.6,293.4 289.4,294.8 283.7,296.9 277.7,299.4 276.5,301.4 279.9,302.4 266.3,307.0ZM89.4,147.1 95.5,142.7 101.7,141.5 107.9,141.1 113.8,140.3 119.3,138.4 126.8,137.0 139.8,137.0 132.9,139.5 126.5,141.1 123.4,143.1 118.7,144.0 115.2,145.7 111.0,147.5 105.0,148.9 96.5,148.9 89.4,147.1ZM183.1,162.5 185.0,161.0 188.0,160.0 189.2,157.0 188.2,155.5 190.5,150.9 193.4,150.9 197.9,156.5 193.1,157.2 191.5,159.5 191.8,161.5 186.2,162.0 183.1,162.5ZM215.2,171.9 216.5,170.3 219.8,169.8 220.7,171.9 218.7,172.5 218.8,174.6 220.8,175.6 221.7,177.8 223.0,179.9 218.6,179.9 218.5,177.2 216.3,175.1 215.2,171.9ZM200.7,150.3 203.9,149.4 206.6,150.8 202.9,152.6 200.0,151.7Z"/></clipPath>
<path d="M54.2,151.1 59.1,148.6 62.7,147.5 69.6,145.9 72.0,146.4 75.9,147.0 78.1,147.3 80.8,148.0 84.2,147.4 87.6,146.9 88.9,147.5 92.1,147.8 94.6,148.7 97.9,148.9 102.0,148.3 106.2,149.1 108.1,148.4 111.7,145.5 111.4,147.1 112.7,148.0 113.6,148.6 116.5,147.5 118.7,147.3 117.3,149.8 114.2,150.8 111.7,152.2 106.9,153.8 102.8,157.0 103.4,157.8 104.8,159.3 106.4,160.5 109.6,161.4 108.7,163.7 110.0,165.1 112.1,162.0 114.8,159.5 116.1,156.5 117.0,154.2 119.9,154.4 121.6,155.3 121.7,157.5 123.3,158.0 125.7,156.2 126.2,158.5 127.1,160.0 128.7,162.0 129.6,164.1 128.0,165.2 125.5,166.5 120.5,166.5 116.9,168.4 121.0,167.5 121.4,168.1 120.3,169.6 120.8,170.5 123.1,171.3 124.2,170.7 122.5,171.9 118.2,173.4 114.8,173.4 114.0,175.3 112.2,176.0 110.2,176.7 108.2,178.8 107.3,180.7 107.2,182.4 104.6,183.9 101.3,186.4 101.0,190.1 100.8,192.8 99.8,193.1 98.9,190.1 98.2,188.0 96.5,187.5 93.7,187.7 93.1,189.1 90.8,188.4 88.5,188.5 85.4,190.6 84.4,193.9 84.0,196.8 84.8,199.6 86.3,200.7 89.2,200.3 90.5,197.8 93.5,197.1 92.8,200.3 91.9,203.0 94.0,203.1 96.5,204.1 95.7,208.4 96.9,210.2 99.6,209.9 101.5,211.0 100.5,211.9 98.8,212.4 97.4,211.5 95.3,210.0 93.7,208.8 92.3,206.3 89.1,205.2 86.5,202.9 84.1,203.4 80.1,201.6 76.3,198.5 76.8,196.8 76.0,195.1 74.0,192.5 72.1,188.7 70.6,186.0 71.3,188.5 71.8,190.7 72.6,194.2 73.1,195.5 71.1,193.7 69.9,191.0 69.2,188.0 68.9,185.2 68.2,183.7 66.5,183.1 66.2,179.9 66.2,177.5 66.2,176.7 67.5,174.0 70.1,170.3 70.8,168.3 72.4,167.8 71.3,166.7 69.8,165.8 70.7,164.6 70.9,162.0 71.0,159.5 69.9,158.2 68.6,156.8 65.8,156.5 65.0,155.5 60.3,157.0 60.8,155.5 58.9,157.3 55.7,158.5 50.9,160.0 46.1,161.5 43.4,162.0 48.2,160.3 53.5,158.0 51.8,157.8 50.4,157.7 50.4,156.0 51.5,154.6 53.7,153.4 57.9,152.2 56.2,152.1 54.1,152.0 54.2,151.1ZM130.4,140.3 132.3,139.5 134.9,138.6 137.8,138.1 140.7,137.4 143.7,137.2 151.5,136.5 158.3,136.4 163.6,137.2 168.1,137.7 164.5,139.5 163.1,141.5 162.1,143.1 160.0,145.3 160.1,146.6 156.9,148.4 152.0,148.7 148.1,151.1 145.4,152.6 143.4,155.5 141.2,156.5 138.9,155.5 137.5,153.1 136.9,150.3 139.1,147.8 138.2,146.2 138.1,144.4 138.2,142.2 132.2,141.7 130.4,140.3ZM157.8,151.2 159.4,150.4 162.2,150.6 164.4,150.3 165.3,151.4 164.1,152.4 161.8,153.2 158.6,152.8 159.0,152.2 157.8,151.2ZM122.8,143.8 125.1,145.0 127.1,146.5 128.9,147.5 130.4,149.8 130.6,150.8 127.7,152.2 127.4,153.6 125.8,154.6 123.2,153.8 121.6,152.6 119.7,152.3 118.3,152.2 122.5,150.0 124.0,148.7 121.3,148.6 121.3,147.5 119.2,147.2 116.3,146.9 115.2,146.2 116.0,144.4 118.8,143.9 122.8,143.8ZM97.4,144.3 104.1,144.2 108.4,144.4 106.6,146.6 104.4,148.0 101.5,148.1 96.3,148.4 93.8,147.8 96.8,146.6 95.7,145.7 97.4,144.3ZM91.0,145.5 95.0,143.3 99.6,143.3 99.4,144.0 94.2,145.9 91.0,145.5ZM125.5,141.5 121.6,141.7 119.5,140.7 117.9,139.5 118.7,138.4 122.4,137.4 130.1,136.7 135.6,136.7 140.3,137.2 136.9,138.4 131.7,139.5 125.5,141.5ZM123.4,143.1 116.9,143.1 115.9,142.2 121.2,141.4 124.6,141.7 123.4,143.1ZM108.2,142.3 99.7,142.7 102.9,141.1 106.3,141.3 108.2,142.3ZM114.3,143.1 109.4,142.9 110.6,141.9 115.3,141.1 114.3,143.1ZM114.6,145.3 112.0,144.9 113.2,143.6 115.8,143.6 114.6,145.3ZM110.2,145.7 107.4,145.5 108.9,144.0 111.9,143.6 110.2,145.7ZM115.9,153.1 112.1,152.6 112.4,151.2 114.9,150.8 115.9,153.1ZM125.2,169.2 126.9,167.2 129.3,165.0 129.0,167.1 130.3,168.2 130.7,169.3 129.8,170.2 127.9,169.3 125.2,169.2ZM29.2,197.9 30.0,198.7 29.2,199.8 28.8,199.3ZM27.3,197.0 27.9,197.3 27.4,197.4ZM40.5,163.1 41.9,162.5 43.4,162.2 41.1,163.3ZM37.2,163.9 39.0,163.4 37.8,164.1ZM32.8,164.6 34.4,164.3 33.5,164.7ZM29.7,164.8 31.2,164.6 30.3,165.0ZM54.5,159.2 56.8,158.5 55.8,159.2 54.4,159.7ZM284.3,229.1 285.2,229.2 284.7,229.7 283.9,229.5ZM285.3,229.2 285.9,229.2 285.7,229.8ZM286.2,229.3 288.1,229.1 288.1,229.7 286.1,229.9ZM288.8,229.4 291.9,229.1 291.9,229.5 289.0,229.8ZM288.0,230.5 289.7,230.9 288.4,230.9ZM292.2,231.2 293.7,229.9 295.9,229.3 293.7,230.7ZM297.0,223.5 299.6,223.5 299.3,224.3 297.1,224.0ZM296.5,218.3 297.5,219.7 297.0,221.1 296.5,219.7ZM292.6,206.8 294.2,207.3 294.0,208.4 293.0,208.1ZM290.6,207.6 291.6,207.9 291.2,209.0 290.6,208.6ZM291.5,208.5 292.2,209.0 291.8,210.5 291.3,209.6ZM292.8,207.9 293.5,208.2 293.8,209.4 293.1,209.3ZM288.8,205.7 290.0,206.2 289.8,207.1 289.1,206.8ZM286.4,211.2 288.3,208.0 288.6,209.0 286.7,211.4ZM323.9,227.5 326.1,228.9 327.4,230.1 324.3,228.3ZM316.3,226.2 318.3,226.0 319.8,224.8 319.2,226.3 316.8,226.9ZM341.7,239.1 342.9,238.9 342.5,239.8 341.7,239.6ZM328.5,242.0 330.8,244.2 330.2,244.5 328.5,242.6ZM332.1,236.4 332.8,236.9 332.4,237.5ZM120.8,140.0 118.0,139.9 118.7,138.4 122.3,137.8 123.7,139.1ZM112.2,141.1 110.0,140.4 111.9,139.9 114.6,140.7ZM115.0,139.9 117.5,139.3 117.8,140.0ZM102.9,141.5 98.0,141.7 101.4,140.4 103.2,140.8ZM115.2,142.9 113.4,142.8 114.8,142.1 116.2,142.2ZM124.8,144.6 121.8,144.3 122.8,143.7 124.7,143.9ZM108.8,148.4 106.3,148.2 107.4,147.3 109.1,147.3ZM115.0,153.9 112.8,154.4 112.8,153.8 114.6,153.3ZM202.9,138.8 207.1,138.1 212.1,138.4 207.7,138.9ZM187.3,140.1 189.9,140.8 188.7,141.1 186.2,140.7ZM95.7,196.7 99.7,195.3 102.7,196.9 105.6,198.5 102.5,198.8 100.4,196.9 98.1,196.5 95.7,196.7ZM105.1,200.5 106.9,198.8 110.0,199.1 111.0,200.3 107.8,201.3 105.1,200.5ZM101.5,200.6 103.5,200.8 102.7,201.1 101.5,200.6ZM112.0,200.3 113.5,200.5 113.2,200.9 111.9,200.9ZM101.4,211.0 103.5,208.7 105.9,207.9 106.9,207.0 107.3,208.4 110.6,208.8 114.4,208.7 116.3,208.7 117.6,211.1 120.4,213.8 123.7,214.0 126.0,215.4 127.4,218.3 127.9,220.2 130.3,221.1 132.7,222.8 137.0,223.3 139.8,225.2 141.5,226.0 141.8,229.9 139.5,233.2 138.2,234.8 138.2,239.1 137.2,242.3 136.4,244.5 133.6,245.2 130.6,248.0 130.2,250.9 129.0,253.6 127.2,256.6 125.6,257.9 122.8,257.4 124.2,259.5 124.0,261.3 120.3,262.2 120.5,263.8 118.3,264.5 119.6,265.9 119.1,268.6 117.8,269.8 119.8,271.5 119.0,273.3 118.4,274.9 119.4,276.4 122.4,278.8 119.6,279.5 116.2,277.4 114.2,275.9 111.8,271.7 111.4,268.6 111.2,265.4 109.6,260.0 110.0,254.7 109.3,250.4 109.5,246.1 109.2,240.2 106.8,238.3 103.1,235.3 100.5,230.5 99.2,227.6 97.8,225.6 98.9,223.5 98.1,221.3 98.8,219.4 100.0,218.3 101.3,215.9 101.5,213.3 101.4,211.0ZM167.0,180.5 166.8,178.3 167.4,175.1 167.1,173.9 168.2,173.3 171.6,173.6 173.8,173.6 174.0,171.1 173.2,169.6 171.1,168.8 173.8,168.0 176.3,166.7 177.1,165.6 178.3,165.1 179.1,163.6 181.5,163.0 181.9,161.0 181.5,159.7 183.2,158.8 183.3,160.5 182.9,161.7 183.9,162.5 186.3,162.5 189.4,161.7 191.8,161.5 191.5,159.5 193.8,159.3 193.1,157.2 196.5,157.0 197.9,156.5 192.6,156.5 191.3,155.5 190.9,153.6 193.2,151.7 190.8,150.9 189.0,153.1 188.2,155.5 189.2,157.0 188.0,160.0 185.4,161.0 184.9,160.0 183.5,157.7 182.7,157.5 181.3,158.5 179.3,157.5 178.8,155.1 180.9,153.3 183.7,151.2 185.6,148.9 187.4,147.3 190.7,146.6 194.0,146.2 196.3,147.1 197.8,147.7 203.9,149.4 204.1,150.8 200.0,151.7 202.9,152.6 206.6,150.8 205.7,148.4 212.1,148.6 213.4,148.4 216.6,148.0 220.5,147.4 220.6,144.4 224.1,145.7 225.9,148.9 224.8,144.9 227.5,144.0 231.3,143.1 235.1,141.9 238.9,140.4 249.1,144.0 254.2,144.4 259.4,144.9 259.7,144.6 268.0,144.9 275.9,145.7 284.6,147.1 291.8,147.3 298.0,147.7 299.9,148.1 305.4,151.7 304.6,152.2 306.5,154.1 305.5,155.5 304.4,156.5 300.9,156.7 302.0,159.0 302.9,160.5 303.8,164.6 303.6,165.6 300.7,163.1 296.7,159.5 297.6,158.5 296.6,155.1 295.1,155.1 293.6,157.0 289.8,157.0 284.6,157.2 286.9,162.0 285.0,162.5 292.5,168.2 291.4,173.5 288.5,174.5 288.1,176.7 290.9,181.5 289.3,183.0 288.8,183.1 287.0,179.9 284.5,177.5 282.3,178.3 280.9,176.4 279.2,178.3 279.2,178.8 281.1,180.5 284.1,180.2 282.9,182.6 285.9,186.4 286.7,188.0 285.9,191.7 283.9,195.0 280.9,196.3 278.3,197.7 278.0,198.4 276.3,197.0 274.7,198.7 274.3,200.3 276.3,202.5 278.3,206.3 278.3,207.9 276.1,210.0 274.6,211.0 274.7,209.5 272.7,209.0 270.1,205.9 269.4,209.5 270.6,212.7 273.7,218.7 271.3,217.6 268.6,211.6 268.5,209.5 266.8,202.5 264.1,203.0 263.3,200.3 261.0,197.7 259.0,196.6 256.3,197.1 256.0,198.7 252.3,202.5 250.9,206.3 250.8,209.2 248.7,211.5 247.1,209.5 244.9,204.1 243.5,199.8 242.8,197.1 240.3,196.0 238.8,195.0 236.6,192.8 232.1,193.1 227.7,192.0 227.0,191.2 222.9,190.3 219.7,187.8 219.0,188.5 221.3,191.7 222.8,192.8 226.1,193.9 227.1,192.0 227.5,193.9 230.8,196.0 229.2,199.8 226.8,202.0 224.1,203.6 220.9,205.2 217.6,206.5 216.2,206.6 215.4,204.1 211.5,197.1 209.4,193.4 207.3,190.1 207.1,188.5 206.5,190.1 204.9,188.1 204.5,186.7 206.5,186.4 207.2,182.6 207.2,180.9 203.7,181.3 200.0,180.8 198.3,178.3 198.3,176.7 200.4,176.0 205.5,175.1 211.2,175.6 211.1,174.0 207.5,171.9 203.7,172.5 200.5,170.9 199.6,173.5 199.5,175.6 197.8,176.4 195.2,176.9 195.1,180.5 193.6,178.8 192.0,175.3 188.8,173.5 186.7,171.3 185.6,172.5 187.0,174.6 189.0,175.6 191.3,177.1 189.6,178.3 189.0,179.4 189.1,177.2 187.3,176.2 185.5,175.1 184.1,173.5 182.3,172.6 180.7,173.9 178.1,173.7 177.8,175.1 175.1,178.3 174.4,179.8 173.3,180.8 170.0,181.5 169.3,180.7 167.0,180.5ZM50.2,148.1 51.7,149.4 53.5,150.6 51.6,151.4 48.9,152.4 46.2,151.7 44.7,151.7ZM169.8,181.7 173.3,182.5 177.7,180.7 184.0,180.2 184.9,182.6 184.3,183.9 188.7,185.5 192.9,187.7 193.2,185.8 195.9,185.3 197.8,186.4 201.5,187.0 204.2,186.7 204.9,188.1 205.9,190.7 208.1,194.6 210.0,200.0 211.8,203.0 214.3,205.7 216.1,207.4 217.3,209.1 223.5,207.6 223.4,209.0 222.1,213.3 219.3,217.6 215.1,221.3 213.1,224.0 212.1,227.2 213.4,232.1 213.3,236.4 207.8,241.8 208.0,244.5 205.4,248.0 204.9,250.9 202.9,253.6 199.4,256.6 194.9,256.8 191.7,257.1 191.4,254.7 188.9,249.3 188.6,244.5 186.2,238.5 187.8,233.2 186.7,226.7 183.6,220.8 184.4,216.5 183.1,215.4 180.8,215.6 177.9,213.4 173.1,215.1 167.9,215.5 164.6,212.9 162.2,210.0 159.2,206.8 158.7,204.4 160.0,200.9 159.6,197.7 161.6,192.3 165.9,188.7 166.2,186.4 168.9,183.7 169.8,181.7ZM221.7,233.2 222.7,236.9 221.5,239.6 218.6,247.1 216.7,247.7 215.6,243.9 216.8,238.0 218.9,236.9 221.7,233.2ZM170.3,166.7 172.6,165.2 170.8,164.8 171.2,163.8 172.6,163.2 172.7,162.0 170.7,161.1 170.4,159.5 171.2,157.9 172.4,157.9 173.5,159.5 173.9,161.0 175.1,163.1 176.4,163.9 176.3,165.6 170.3,166.7ZM170.2,164.4 168.5,165.0 166.7,164.6 167.0,162.3 169.1,161.2 170.4,161.5 170.2,162.5 170.2,164.4ZM181.7,140.0 184.5,138.8 191.0,138.5 192.0,139.7 186.3,141.4 181.7,140.0ZM209.7,145.7 211.6,142.7 217.8,141.2 214.8,142.7 212.6,146.2 209.7,145.7ZM232.8,139.5 233.3,138.1 237.3,138.4 238.2,139.9 232.8,139.5ZM263.5,143.6 264.8,141.9 270.9,142.5 268.0,144.4 263.5,143.6ZM295.5,146.0 296.1,145.7 297.0,146.3ZM280.9,243.9 284.4,242.5 288.4,241.2 290.3,238.5 294.1,235.3 296.8,236.4 298.1,233.7 300.6,232.4 304.8,233.2 303.3,236.9 306.2,239.1 308.2,238.5 308.9,234.2 310.1,231.9 312.3,236.4 312.1,240.2 315.3,244.5 316.9,247.1 316.3,250.4 314.6,253.6 308.4,260.6 304.4,262.2 301.8,262.0 299.2,261.1 298.7,258.5 299.3,256.3 296.5,255.5 294.3,254.1 289.5,254.9 286.5,256.8 280.9,257.9 278.8,256.8 280.5,248.2 280.9,243.9ZM301.6,264.0 304.7,264.2 302.8,266.7 300.8,267.1 301.6,264.0ZM330.6,257.3 331.2,259.0 333.6,260.8 330.9,262.7 327.6,264.9 328.8,262.7 328.3,262.4 330.6,257.3ZM326.4,263.8 326.8,265.1 324.1,267.0 321.5,268.0 318.0,270.3 316.4,269.6 319.4,267.5 324.5,264.9 326.4,263.8ZM293.1,183.7 293.0,183.1 296.5,182.0 296.7,180.5 298.8,179.4 297.7,176.7 298.3,175.7 300.0,177.8 300.7,180.5 300.8,182.6 297.1,184.2 293.1,183.7ZM297.1,175.6 296.0,174.0 295.7,171.4 299.5,172.8 300.6,173.7 297.7,174.6 297.1,175.6ZM292.3,184.4 293.9,184.2 294.4,186.5 293.7,186.8 292.3,184.4ZM295.6,170.9 291.7,165.6 289.1,162.2 294.2,167.2 295.6,170.9ZM286.8,195.5 287.7,193.1 287.9,196.6 287.6,196.6 286.8,195.5ZM276.8,199.6 278.5,198.6 279.0,199.3 277.9,200.7 276.8,199.6ZM287.7,200.3 289.8,200.3 290.0,202.8 292.3,206.3 289.4,205.6 288.8,204.7 287.7,200.3ZM291.0,212.7 294.6,210.0 295.3,212.7 294.4,214.0 291.0,212.8ZM265.7,214.2 267.8,214.7 270.8,218.1 274.1,221.3 276.0,223.7 275.9,226.5 274.5,226.6 271.3,222.9 268.9,218.6 265.7,214.2ZM275.1,227.6 275.9,226.7 280.6,227.2 283.9,228.5 283.8,229.6 280.5,229.1 275.4,227.8 275.1,227.6ZM278.9,218.6 280.8,218.4 283.6,215.4 285.3,212.8 288.6,214.5 287.5,219.2 286.0,222.4 285.5,224.6 284.1,224.0 280.8,223.5 279.8,222.2 278.9,220.8 278.9,218.6ZM288.8,226.2 289.8,223.3 290.1,219.0 294.1,218.5 290.4,219.7 292.7,221.3 290.8,222.4 291.6,225.4 290.3,224.0 289.7,226.2 288.8,226.2ZM299.9,221.3 302.7,221.2 306.5,222.0 309.3,223.0 313.7,225.4 315.3,226.9 318.0,231.5 314.5,230.8 311.3,229.9 309.4,230.1 306.1,229.1 305.9,225.6 303.6,224.9 301.2,224.6 300.8,223.3 299.9,221.3ZM250.9,212.7 251.1,209.7 252.8,212.2 252.1,213.8 250.9,212.7ZM83.8,307.0 70.2,302.4 77.7,303.1 81.1,302.1 82.5,299.8 85.9,298.2 91.0,297.4 96.7,296.8 103.5,296.9 109.5,296.5 115.5,295.9 122.3,296.1 125.3,295.6 127.7,294.3 128.4,292.1 128.7,290.2 130.5,288.0 132.6,287.1 133.2,287.5 131.9,288.6 131.0,290.5 131.4,292.5 133.6,295.2 135.4,296.9 136.8,298.2 144.3,300.1 150.6,300.2 153.3,299.4 159.1,298.2 165.2,296.1 168.3,294.3 175.1,293.4 181.9,293.4 188.7,293.4 195.7,293.0 202.9,292.1 210.7,290.2 217.6,290.7 224.1,291.6 223.3,293.0 231.4,291.1 239.2,290.2 246.7,289.7 253.9,289.7 260.6,290.2 268.0,289.9 274.5,290.5 279.6,292.1 284.6,293.4 289.4,294.8 283.7,296.9 277.7,299.4 276.5,301.4 279.9,302.4 266.3,307.0ZM89.4,147.1 95.5,142.7 101.7,141.5 107.9,141.1 113.8,140.3 119.3,138.4 126.8,137.0 139.8,137.0 132.9,139.5 126.5,141.1 123.4,143.1 118.7,144.0 115.2,145.7 111.0,147.5 105.0,148.9 96.5,148.9 89.4,147.1ZM183.1,162.5 185.0,161.0 188.0,160.0 189.2,157.0 188.2,155.5 190.5,150.9 193.4,150.9 197.9,156.5 193.1,157.2 191.5,159.5 191.8,161.5 186.2,162.0 183.1,162.5ZM215.2,171.9 216.5,170.3 219.8,169.8 220.7,171.9 218.7,172.5 218.8,174.6 220.8,175.6 221.7,177.8 223.0,179.9 218.6,179.9 218.5,177.2 216.3,175.1 215.2,171.9ZM200.7,150.3 203.9,149.4 206.6,150.8 202.9,152.6 200.0,151.7Z" fill="#2880F0"/>
<g clip-path="url(#land0)">
<path d="M91.3,142.7 102.8,139.5 117.0,138.9 127.3,138.2 133.7,140.1 133.7,149.1 128.5,151.7 124.7,150.4 117.0,147.9 111.8,151.7 105.4,151.7 100.3,153.0 97.7,149.8 92.6,147.2Z" fill="#78C8F0"/>
<path d="M112.0,134.0 140.0,134.0 140.0,141.0 126.0,145.0 112.0,143.0Z" fill="#78C8F0"/>
<path d="M117.0,153.6 124.7,151.7 129.8,154.3 130.5,164.6 124.7,163.9 120.8,160.7 117.0,158.1Z" fill="#78C8F0"/>
<path d="M99.0,150.4 104.1,151.7 106.7,155.6 103.5,158.1 100.3,157.5Z" fill="#78C8F0"/>
<path d="M46.9,149.1 52.7,148.5 54.0,151.0 50.1,152.4 47.6,151.7Z" fill="#78C8F0"/>
<path d="M72.9,174.9 83.1,173.7 84.3,180.6 82.0,186.3 77.4,184.0 72.9,187.4 69.4,186.3 69.4,180.6 74.0,179.4Z" fill="url(#tL)"/>
<path d="M213.1,171.4 220.4,164.1 242.3,162.9 264.1,164.1 276.3,167.8 273.8,173.9 261.7,177.5 254.4,183.6 261.7,188.4 252.0,193.3 237.4,193.3 227.7,188.4 222.9,181.1Z" fill="url(#tLL)"/>
<path d="M210.0,142.0 222.0,140.0 236.0,141.0 236.0,145.0 224.0,147.0 212.0,147.0Z" fill="#78C8F0"/>
<path d="M296.0,149.0 303.0,150.0 306.0,158.0 302.0,164.0 297.0,160.0Z" fill="#78C8F0"/>
<path d="M262.0,141.0 275.0,142.0 285.0,145.0 276.0,147.0 264.0,145.0Z" fill="#78C8F0"/>
<path d="M159.0,203.0 177.9,204.1 205.3,205.3 215.6,207.6 216.7,209.3 203.0,209.3 177.9,208.7 161.9,207.0Z" fill="#78C8F0"/>
<path d="M186.3,237.7 194.3,236.6 205.7,237.7 208.0,243.4 203.4,248.0 197.7,250.3 192.0,249.1 188.6,245.7Z" fill="#78C8F0"/>
<path d="M281.0,240.0 290.0,236.0 300.0,236.0 310.0,240.0 313.0,246.0 308.0,252.0 300.0,254.0 290.0,253.0 283.0,250.0Z" fill="url(#tL)"/>
<path d="M109.0,240.0 113.0,241.0 115.0,247.0 114.0,255.0 112.0,258.0 110.0,250.0Z" fill="#78C8F0"/>
<path d="M222.0,180.0 232.0,179.0 240.0,186.0 236.0,192.0 228.0,190.0 224.0,186.0Z" fill="url(#tLL)"/>
<path d="M74.6,154.3 83.6,154.9 90.0,157.5 99.0,160.7 106.7,165.2 117.0,166.5 127.3,167.1 129.8,169.7 129.8,172.3 117.0,170.3 105.4,169.7 96.4,165.8 88.7,162.6 81.0,162.6 74.6,162.0 72.6,159.4Z" fill="#4010F0"/>
<path d="M68.8,158.1 72.0,158.1 71.3,169.7 69.0,170.0 67.5,182.0 65.5,180.0 66.5,167.0 68.8,169.7Z" fill="#4010F0"/>
<path d="M61.0,151.0 66.9,150.4 67.5,153.0 61.7,153.6Z" fill="#4010F0"/>
<path d="M68.0,160.0 84.0,160.0 84.0,165.0 78.0,168.5 70.0,169.5 67.0,166.0Z" fill="url(#tP)"/>
<path d="M61.0,151.0 66.9,150.4 67.5,153.0 61.7,153.6Z" fill="#4010F0"/>
<path d="M88.9,182.9 95.7,183.4 98.0,186.3 93.4,187.4 90.0,186.3Z" fill="#4010F0"/>
<path d="M180.0,153.0 188.0,146.0 195.0,146.5 202.0,149.0 207.0,151.0 216.0,152.0 225.0,153.0 232.0,154.0 232.0,161.0 220.0,160.0 210.0,159.5 202.0,161.0 197.0,163.0 190.0,164.0 185.0,167.0 179.0,168.0 178.0,165.0 183.0,161.0 180.0,158.0Z" fill="#4010F0"/>
<path d="M179.0,153.0 183.0,149.0 186.0,147.0 184.0,153.0 181.0,160.0 179.0,158.0Z" fill="#2880F0"/>
<path d="M230.1,153.2 247.1,154.4 261.7,158.1 261.7,162.9 247.1,161.7 230.1,161.2Z" fill="url(#tP)"/>
<path d="M166.0,158.0 172.0,156.0 177.0,160.0 176.0,167.0 168.0,167.0Z" fill="#4010F0"/>
<path d="M230.9,156.4 241.2,154.7 251.5,155.6 260.0,157.3 258.3,160.7 248.0,160.7 237.7,159.9 230.9,159.0Z" fill="url(#tBP)"/>
<path d="M268.6,185.0 277.1,183.6 284.3,187.1 285.7,192.9 280.0,195.7 272.9,194.3 268.6,190.0Z" fill="#4010F0"/>
<path d="M292.0,176.0 300.0,176.0 300.0,187.0 292.0,187.0Z" fill="#4010F0"/>
<path d="M215.7,170.0 221.4,170.0 221.4,180.0 215.7,180.0Z" fill="#4010F0"/>
<path d="M110.0,268.0 114.0,269.0 120.0,275.0 123.0,279.5 119.0,280.0 113.0,275.0Z" fill="#4010F0"/>
<path d="M101.0,234.0 105.0,236.0 110.0,240.0 112.0,242.0 110.0,243.0 106.0,240.0 102.0,237.0Z" fill="#78C8F0"/>
<path d="M136.0,226.0 141.0,226.0 140.0,233.0 137.0,234.0Z" fill="#78C8F0"/>
<path d="M316.0,262.0 340.0,262.0 340.0,272.0 316.0,272.0Z" fill="#4010F0"/>
<path d="M130.4,140.3 132.2,141.7 138.2,142.2 138.1,144.4 138.2,146.2 139.1,147.8 136.9,150.3 137.5,153.1 138.9,155.5 141.2,156.5 143.4,155.5 145.4,152.6 148.1,151.1 152.0,148.7 156.9,148.4 160.1,146.6 160.0,145.3 162.1,143.1 163.1,141.5 164.5,139.5 168.1,137.7 163.6,137.2 158.3,136.4 151.5,136.5 143.7,137.2 140.7,137.4 137.8,138.1 134.9,138.6 132.3,139.5 130.4,140.3Z" fill="#FFE337"/>
<path d="M134.0,146.0 137.5,146.0 138.5,156.0 136.0,157.0Z" fill="#78C8F0"/>
<path d="M134.5,140.0 146.4,138.3 158.5,138.3 160.0,141.0 157.0,146.5 152.0,149.0 146.0,152.5 142.0,155.5 139.5,155.5 138.5,149.0 136.5,144.0Z" fill="#FF6000"/>
<path d="M157.5,139.0 163.0,139.0 161.0,145.0 156.5,146.0Z" fill="#78C8F0"/>
<path d="M157.8,151.2 159.4,150.4 162.2,150.6 164.4,150.3 165.3,151.4 164.1,152.4 161.8,153.2 158.6,152.8 159.0,152.2 157.8,151.2Z" fill="url(#tP)"/>
<path d="M145.7,143.0 148.6,141.6 153.6,142.3 154.3,145.1 150.0,148.7 145.0,150.1 142.1,151.6 142.9,148.0Z" fill="#D7292A"/>
<path d="M159.6,193.3 161.9,188.7 169.9,185.3 183.6,183.6 192.7,185.3 203.0,185.9 207.6,184.1 214.4,181.9 223.6,186.4 229.3,194.4 228.1,199.0 220.1,204.7 215.6,207.0 209.9,203.0 205.3,204.7 196.1,205.9 183.6,205.3 168.7,204.1 160.7,203.6 159.0,199.0Z" fill="#FFE337"/>
<path d="M160.7,194.4 165.3,187.6 177.9,184.7 189.3,185.3 204.1,187.6 205.3,197.9 204.1,203.6 195.0,204.7 183.6,204.1 167.6,202.4 160.7,201.3Z" fill="url(#tO)"/>
<path d="M208.5,186.0 215.0,182.5 223.6,186.8 229.0,194.5 227.5,199.0 220.0,204.0 216.0,205.5 212.0,199.0 209.0,192.0Z" fill="url(#tO)"/>
<path d="M240.0,175.7 251.4,176.5 252.0,185.7 241.0,185.0Z" fill="url(#tLY)"/>
<path d="M160.5,195.0 164.0,189.5 172.0,187.0 180.1,185.8 188.1,185.6 196.1,186.6 204.0,187.0 205.3,195.6 204.1,202.4 193.9,203.4 184.7,203.0 175.0,202.6 165.3,202.2 160.7,200.5Z" fill="url(#tS)"/>
<path d="M211.0,189.0 217.0,186.0 223.0,189.0 227.5,196.0 223.6,201.3 219.0,203.6 215.6,200.1 212.0,194.0Z" fill="url(#tS)"/>
<path d="M216.0,208.0 224.0,207.0 222.0,214.0 218.0,212.0Z" fill="#FFE337"/>
<path d="M296.0,244.0 300.0,243.0 301.0,248.0 297.0,249.0Z" fill="#FFE337"/>
<path d="M185.0,240.0 188.0,240.0 190.0,250.0 187.0,250.0Z" fill="#FFE337"/>
<path d="M83.8,307.0 70.2,302.4 77.7,303.1 81.1,302.1 82.5,299.8 85.9,298.2 91.0,297.4 96.7,296.8 103.5,296.9 109.5,296.5 115.5,295.9 122.3,296.1 125.3,295.6 127.7,294.3 128.4,292.1 128.7,290.2 130.5,288.0 132.6,287.1 133.2,287.5 131.9,288.6 131.0,290.5 131.4,292.5 133.6,295.2 135.4,296.9 136.8,298.2 144.3,300.1 150.6,300.2 153.3,299.4 159.1,298.2 165.2,296.1 168.3,294.3 175.1,293.4 181.9,293.4 188.7,293.4 195.7,293.0 202.9,292.1 210.7,290.2 217.6,290.7 224.1,291.6 223.3,293.0 231.4,291.1 239.2,290.2 246.7,289.7 253.9,289.7 260.6,290.2 268.0,289.9 274.5,290.5 279.6,292.1 284.6,293.4 289.4,294.8 283.7,296.9 277.7,299.4 276.5,301.4 279.9,302.4 266.3,307.0Z" fill="#FFE337"/>
<path d="M83.8,307.0 75.3,304.4 82.3,304.9 85.7,304.1 87.0,302.1 90.1,300.6 94.8,299.8 100.2,299.3 106.6,299.4 112.3,299.0 118.0,298.4 124.5,298.6 127.3,298.2 129.5,296.9 130.0,294.8 130.3,293.0 131.9,290.9 133.9,289.9 134.5,290.3 133.3,291.4 132.5,293.2 133.0,295.2 135.3,297.8 137.1,299.4 138.6,300.6 145.8,302.3 151.8,302.4 153.7,300.5 159.4,299.3 165.3,297.2 168.4,295.5 175.1,294.6 181.8,294.6 188.5,294.6 195.4,294.1 202.5,293.2 210.2,291.4 217.0,291.9 223.4,292.8 222.5,294.1 230.6,292.3 238.3,291.4 245.7,291.0 252.8,291.0 259.3,291.4 266.7,291.1 273.1,291.7 278.0,293.2 282.9,294.6 287.5,295.9 281.7,298.0 275.5,300.5 274.4,302.3 277.6,303.3 266.3,307.0Z" fill="#FF6000"/>
<path d="M154.3,301.7 153.8,300.7 159.5,299.5 165.4,297.4 168.4,295.7 175.1,294.8 181.8,294.8 188.5,294.8 195.3,294.4 202.4,293.5 210.1,291.7 216.8,292.2 223.2,293.1 222.4,294.4 230.4,292.6 238.1,291.7 245.5,291.2 252.5,291.2 259.1,291.7 266.4,291.4 272.7,292.0 277.7,293.5 282.5,294.8 287.0,296.2 281.3,298.3 275.0,300.7 273.9,302.5 277.1,303.5 266.3,307.0 157.3,307.0Z" fill="#D7292A"/>
<path d="M80.0,304.0 120.0,303.0 160.0,302.0 160.0,310.0 80.0,310.0Z" fill="#D7292A"/>
<path d="M262.0,305.0 272.0,301.0 290.0,294.5 292.0,296.0 278.0,306.0 262.0,307.0Z" fill="url(#tO)"/>
</g>
<path d="M54.2,151.1 59.1,148.6 62.7,147.5 69.6,145.9 72.0,146.4 75.9,147.0 78.1,147.3 80.8,148.0 84.2,147.4 87.6,146.9 88.9,147.5 92.1,147.8 94.6,148.7 97.9,148.9 102.0,148.3 106.2,149.1 108.1,148.4 111.7,145.5 111.4,147.1 112.7,148.0 113.6,148.6 116.5,147.5 118.7,147.3 117.3,149.8 114.2,150.8 111.7,152.2 106.9,153.8 102.8,157.0 103.4,157.8 104.8,159.3 106.4,160.5 109.6,161.4 108.7,163.7 110.0,165.1 112.1,162.0 114.8,159.5 116.1,156.5 117.0,154.2 119.9,154.4 121.6,155.3 121.7,157.5 123.3,158.0 125.7,156.2 126.2,158.5 127.1,160.0 128.7,162.0 129.6,164.1 128.0,165.2 125.5,166.5 120.5,166.5 116.9,168.4 121.0,167.5 121.4,168.1 120.3,169.6 120.8,170.5 123.1,171.3 124.2,170.7 122.5,171.9 118.2,173.4 114.8,173.4 114.0,175.3 112.2,176.0 110.2,176.7 108.2,178.8 107.3,180.7 107.2,182.4 104.6,183.9 101.3,186.4 101.0,190.1 100.8,192.8 99.8,193.1 98.9,190.1 98.2,188.0 96.5,187.5 93.7,187.7 93.1,189.1 90.8,188.4 88.5,188.5 85.4,190.6 84.4,193.9 84.0,196.8 84.8,199.6 86.3,200.7 89.2,200.3 90.5,197.8 93.5,197.1 92.8,200.3 91.9,203.0 94.0,203.1 96.5,204.1 95.7,208.4 96.9,210.2 99.6,209.9 101.5,211.0 100.5,211.9 98.8,212.4 97.4,211.5 95.3,210.0 93.7,208.8 92.3,206.3 89.1,205.2 86.5,202.9 84.1,203.4 80.1,201.6 76.3,198.5 76.8,196.8 76.0,195.1 74.0,192.5 72.1,188.7 70.6,186.0 71.3,188.5 71.8,190.7 72.6,194.2 73.1,195.5 71.1,193.7 69.9,191.0 69.2,188.0 68.9,185.2 68.2,183.7 66.5,183.1 66.2,179.9 66.2,177.5 66.2,176.7 67.5,174.0 70.1,170.3 70.8,168.3 72.4,167.8 71.3,166.7 69.8,165.8 70.7,164.6 70.9,162.0 71.0,159.5 69.9,158.2 68.6,156.8 65.8,156.5 65.0,155.5 60.3,157.0 60.8,155.5 58.9,157.3 55.7,158.5 50.9,160.0 46.1,161.5 43.4,162.0 48.2,160.3 53.5,158.0 51.8,157.8 50.4,157.7 50.4,156.0 51.5,154.6 53.7,153.4 57.9,152.2 56.2,152.1 54.1,152.0 54.2,151.1ZM130.4,140.3 132.2,141.7 138.2,142.2 138.1,144.4 138.2,146.2 139.1,147.8 136.9,150.3 137.5,153.1 138.9,155.5 141.2,156.5 143.4,155.5 145.4,152.6 148.1,151.1 152.0,148.7 156.9,148.4 160.1,146.6 160.0,145.3 162.1,143.1 163.1,141.5 164.5,139.5 168.1,137.7 163.6,137.2 158.3,136.4 151.5,136.5 143.7,137.2 140.7,137.4 137.8,138.1 134.9,138.6 132.3,139.5 130.4,140.3ZM157.8,151.2 159.4,150.4 162.2,150.6 164.4,150.3 165.3,151.4 164.1,152.4 161.8,153.2 158.6,152.8 159.0,152.2 157.8,151.2ZM122.8,143.8 125.1,145.0 127.1,146.5 128.9,147.5 130.4,149.8 130.6,150.8 127.7,152.2 127.4,153.6 125.8,154.6 123.2,153.8 121.6,152.6 119.7,152.3 118.3,152.2 122.5,150.0 124.0,148.7 121.3,148.6 121.3,147.5 119.2,147.2 116.3,146.9 115.2,146.2 116.0,144.4 118.8,143.9 122.8,143.8ZM97.4,144.3 104.1,144.2 108.4,144.4 106.6,146.6 104.4,148.0 101.5,148.1 96.3,148.4 93.8,147.8 96.8,146.6 95.7,145.7 97.4,144.3ZM91.0,145.5 95.0,143.3 99.6,143.3 99.4,144.0 94.2,145.9 91.0,145.5ZM125.5,141.5 131.7,139.5 136.9,138.4 140.3,137.2 135.6,136.7 130.1,136.7 122.4,137.4 118.7,138.4 117.9,139.5 119.5,140.7 121.6,141.7 125.5,141.5ZM123.4,143.1 116.9,143.1 115.9,142.2 121.2,141.4 124.6,141.7 123.4,143.1ZM108.2,142.3 99.7,142.7 102.9,141.1 106.3,141.3 108.2,142.3ZM114.3,143.1 109.4,142.9 110.6,141.9 115.3,141.1 114.3,143.1ZM114.6,145.3 112.0,144.9 113.2,143.6 115.8,143.6 114.6,145.3ZM110.2,145.7 107.4,145.5 108.9,144.0 111.9,143.6 110.2,145.7ZM115.9,153.1 112.1,152.6 112.4,151.2 114.9,150.8 115.9,153.1ZM125.2,169.2 126.9,167.2 129.3,165.0 129.0,167.1 130.3,168.2 130.7,169.3 129.8,170.2 127.9,169.3 125.2,169.2ZM29.2,197.9 30.0,198.7 29.2,199.8 28.8,199.3ZM27.3,197.0 27.9,197.3 27.4,197.4ZM40.5,163.1 41.9,162.5 43.4,162.2 41.1,163.3ZM37.2,163.9 39.0,163.4 37.8,164.1ZM32.8,164.6 34.4,164.3 33.5,164.7ZM29.7,164.8 31.2,164.6 30.3,165.0ZM54.5,159.2 56.8,158.5 55.8,159.2 54.4,159.7ZM284.3,229.1 285.2,229.2 284.7,229.7 283.9,229.5ZM285.3,229.2 285.9,229.2 285.7,229.8ZM286.2,229.3 288.1,229.1 288.1,229.7 286.1,229.9ZM288.8,229.4 291.9,229.1 291.9,229.5 289.0,229.8ZM288.0,230.5 289.7,230.9 288.4,230.9ZM292.2,231.2 293.7,229.9 295.9,229.3 293.7,230.7ZM297.0,223.5 299.6,223.5 299.3,224.3 297.1,224.0ZM296.5,218.3 297.5,219.7 297.0,221.1 296.5,219.7ZM292.6,206.8 294.2,207.3 294.0,208.4 293.0,208.1ZM290.6,207.6 291.6,207.9 291.2,209.0 290.6,208.6ZM291.5,208.5 292.2,209.0 291.8,210.5 291.3,209.6ZM292.8,207.9 293.5,208.2 293.8,209.4 293.1,209.3ZM288.8,205.7 290.0,206.2 289.8,207.1 289.1,206.8ZM286.4,211.2 288.3,208.0 288.6,209.0 286.7,211.4ZM323.9,227.5 326.1,228.9 327.4,230.1 324.3,228.3ZM316.3,226.2 318.3,226.0 319.8,224.8 319.2,226.3 316.8,226.9ZM341.7,239.1 342.9,238.9 342.5,239.8 341.7,239.6ZM328.5,242.0 330.8,244.2 330.2,244.5 328.5,242.6ZM332.1,236.4 332.8,236.9 332.4,237.5ZM123.7,139.1 122.3,137.8 118.7,138.4 118.0,139.9 120.8,140.0ZM114.6,140.7 111.9,139.9 110.0,140.4 112.2,141.1ZM115.0,139.9 117.5,139.3 117.8,140.0ZM102.9,141.5 98.0,141.7 101.4,140.4 103.2,140.8ZM115.2,142.9 113.4,142.8 114.8,142.1 116.2,142.2ZM124.8,144.6 121.8,144.3 122.8,143.7 124.7,143.9ZM108.8,148.4 106.3,148.2 107.4,147.3 109.1,147.3ZM115.0,153.9 112.8,154.4 112.8,153.8 114.6,153.3ZM202.9,138.8 207.1,138.1 212.1,138.4 207.7,138.9ZM187.3,140.1 189.9,140.8 188.7,141.1 186.2,140.7ZM95.7,196.7 99.7,195.3 102.7,196.9 105.6,198.5 102.5,198.8 100.4,196.9 98.1,196.5 95.7,196.7ZM105.1,200.5 106.9,198.8 110.0,199.1 111.0,200.3 107.8,201.3 105.1,200.5ZM101.5,200.6 103.5,200.8 102.7,201.1 101.5,200.6ZM112.0,200.3 113.5,200.5 113.2,200.9 111.9,200.9ZM101.4,211.0 103.5,208.7 105.9,207.9 106.9,207.0 107.3,208.4 110.6,208.8 114.4,208.7 116.3,208.7 117.6,211.1 120.4,213.8 123.7,214.0 126.0,215.4 127.4,218.3 127.9,220.2 130.3,221.1 132.7,222.8 137.0,223.3 139.8,225.2 141.5,226.0 141.8,229.9 139.5,233.2 138.2,234.8 138.2,239.1 137.2,242.3 136.4,244.5 133.6,245.2 130.6,248.0 130.2,250.9 129.0,253.6 127.2,256.6 125.6,257.9 122.8,257.4 124.2,259.5 124.0,261.3 120.3,262.2 120.5,263.8 118.3,264.5 119.6,265.9 119.1,268.6 117.8,269.8 119.8,271.5 119.0,273.3 118.4,274.9 119.4,276.4 122.4,278.8 119.6,279.5 116.2,277.4 114.2,275.9 111.8,271.7 111.4,268.6 111.2,265.4 109.6,260.0 110.0,254.7 109.3,250.4 109.5,246.1 109.2,240.2 106.8,238.3 103.1,235.3 100.5,230.5 99.2,227.6 97.8,225.6 98.9,223.5 98.1,221.3 98.8,219.4 100.0,218.3 101.3,215.9 101.5,213.3 101.4,211.0ZM167.0,180.5 166.8,178.3 167.4,175.1 167.1,173.9 168.2,173.3 171.6,173.6 173.8,173.6 174.0,171.1 173.2,169.6 171.1,168.8 173.8,168.0 176.3,166.7 177.1,165.6 178.3,165.1 179.1,163.6 181.5,163.0 181.9,161.0 181.5,159.7 183.2,158.8 183.3,160.5 182.9,161.7 183.9,162.5 186.3,162.5 189.4,161.7 191.8,161.5 191.5,159.5 193.8,159.3 193.1,157.2 196.5,157.0 197.9,156.5 192.6,156.5 191.3,155.5 190.9,153.6 193.2,151.7 190.8,150.9 189.0,153.1 188.2,155.5 189.2,157.0 188.0,160.0 185.4,161.0 184.9,160.0 183.5,157.7 182.7,157.5 181.3,158.5 179.3,157.5 178.8,155.1 180.9,153.3 183.7,151.2 185.6,148.9 187.4,147.3 190.7,146.6 194.0,146.2 196.3,147.1 197.8,147.7 203.9,149.4 204.1,150.8 200.0,151.7 202.9,152.6 206.6,150.8 205.7,148.4 212.1,148.6 213.4,148.4 216.6,148.0 220.5,147.4 220.6,144.4 224.1,145.7 225.9,148.9 224.8,144.9 227.5,144.0 231.3,143.1 235.1,141.9 238.9,140.4 249.1,144.0 254.2,144.4 259.4,144.9 259.7,144.6 268.0,144.9 275.9,145.7 284.6,147.1 291.8,147.3 298.0,147.7 299.9,148.1 305.4,151.7 304.6,152.2 306.5,154.1 305.5,155.5 304.4,156.5 300.9,156.7 302.0,159.0 302.9,160.5 303.8,164.6 303.6,165.6 300.7,163.1 296.7,159.5 297.6,158.5 296.6,155.1 295.1,155.1 293.6,157.0 289.8,157.0 284.6,157.2 286.9,162.0 285.0,162.5 292.5,168.2 291.4,173.5 288.5,174.5 288.1,176.7 290.9,181.5 289.3,183.0 288.8,183.1 287.0,179.9 284.5,177.5 282.3,178.3 280.9,176.4 279.2,178.3 279.2,178.8 281.1,180.5 284.1,180.2 282.9,182.6 285.9,186.4 286.7,188.0 285.9,191.7 283.9,195.0 280.9,196.3 278.3,197.7 278.0,198.4 276.3,197.0 274.7,198.7 274.3,200.3 276.3,202.5 278.3,206.3 278.3,207.9 276.1,210.0 274.6,211.0 274.7,209.5 272.7,209.0 270.1,205.9 269.4,209.5 270.6,212.7 273.7,218.7 271.3,217.6 268.6,211.6 268.5,209.5 266.8,202.5 264.1,203.0 263.3,200.3 261.0,197.7 259.0,196.6 256.3,197.1 256.0,198.7 252.3,202.5 250.9,206.3 250.8,209.2 248.7,211.5 247.1,209.5 244.9,204.1 243.5,199.8 242.8,197.1 240.3,196.0 238.8,195.0 236.6,192.8 232.1,193.1 227.7,192.0 227.0,191.2 222.9,190.3 219.7,187.8 219.0,188.5 221.3,191.7 222.8,192.8 226.1,193.9 227.1,192.0 227.5,193.9 230.8,196.0 229.2,199.8 226.8,202.0 224.1,203.6 220.9,205.2 217.6,206.5 216.2,206.6 215.4,204.1 211.5,197.1 209.4,193.4 207.3,190.1 207.1,188.5 206.5,190.1 204.9,188.1 204.5,186.7 206.5,186.4 207.2,182.6 207.2,180.9 203.7,181.3 200.0,180.8 198.3,178.3 198.3,176.7 200.4,176.0 205.5,175.1 211.2,175.6 211.1,174.0 207.5,171.9 203.7,172.5 200.5,170.9 199.6,173.5 199.5,175.6 197.8,176.4 195.2,176.9 195.1,180.5 193.6,178.8 192.0,175.3 188.8,173.5 186.7,171.3 185.6,172.5 187.0,174.6 189.0,175.6 191.3,177.1 189.6,178.3 189.0,179.4 189.1,177.2 187.3,176.2 185.5,175.1 184.1,173.5 182.3,172.6 180.7,173.9 178.1,173.7 177.8,175.1 175.1,178.3 174.4,179.8 173.3,180.8 170.0,181.5 169.3,180.7 167.0,180.5ZM50.2,148.1 51.7,149.4 53.5,150.6 51.6,151.4 48.9,152.4 46.2,151.7 44.7,151.7ZM169.8,181.7 173.3,182.5 177.7,180.7 184.0,180.2 184.9,182.6 184.3,183.9 188.7,185.5 192.9,187.7 193.2,185.8 195.9,185.3 197.8,186.4 201.5,187.0 204.2,186.7 204.9,188.1 205.9,190.7 208.1,194.6 210.0,200.0 211.8,203.0 214.3,205.7 216.1,207.4 217.3,209.1 223.5,207.6 223.4,209.0 222.1,213.3 219.3,217.6 215.1,221.3 213.1,224.0 212.1,227.2 213.4,232.1 213.3,236.4 207.8,241.8 208.0,244.5 205.4,248.0 204.9,250.9 202.9,253.6 199.4,256.6 194.9,256.8 191.7,257.1 191.4,254.7 188.9,249.3 188.6,244.5 186.2,238.5 187.8,233.2 186.7,226.7 183.6,220.8 184.4,216.5 183.1,215.4 180.8,215.6 177.9,213.4 173.1,215.1 167.9,215.5 164.6,212.9 162.2,210.0 159.2,206.8 158.7,204.4 160.0,200.9 159.6,197.7 161.6,192.3 165.9,188.7 166.2,186.4 168.9,183.7 169.8,181.7ZM221.7,233.2 222.7,236.9 221.5,239.6 218.6,247.1 216.7,247.7 215.6,243.9 216.8,238.0 218.9,236.9 221.7,233.2ZM170.3,166.7 176.3,165.6 176.4,163.9 175.1,163.1 173.9,161.0 173.5,159.5 172.4,157.9 171.2,157.9 170.4,159.5 170.7,161.1 172.7,162.0 172.6,163.2 171.2,163.8 170.8,164.8 172.6,165.2 170.3,166.7ZM170.2,164.4 170.2,162.5 170.4,161.5 169.1,161.2 167.0,162.3 166.7,164.6 168.5,165.0 170.2,164.4ZM181.7,140.0 184.5,138.8 191.0,138.5 192.0,139.7 186.3,141.4 181.7,140.0ZM209.7,145.7 211.6,142.7 217.8,141.2 214.8,142.7 212.6,146.2 209.7,145.7ZM232.8,139.5 233.3,138.1 237.3,138.4 238.2,139.9 232.8,139.5ZM263.5,143.6 264.8,141.9 270.9,142.5 268.0,144.4 263.5,143.6ZM295.5,146.0 296.1,145.7 297.0,146.3ZM280.9,243.9 280.5,248.2 278.8,256.8 280.9,257.9 286.5,256.8 289.5,254.9 294.3,254.1 296.5,255.5 299.3,256.3 298.7,258.5 299.2,261.1 301.8,262.0 304.4,262.2 308.4,260.6 314.6,253.6 316.3,250.4 316.9,247.1 315.3,244.5 312.1,240.2 312.3,236.4 310.1,231.9 308.9,234.2 308.2,238.5 306.2,239.1 303.3,236.9 304.8,233.2 300.6,232.4 298.1,233.7 296.8,236.4 294.1,235.3 290.3,238.5 288.4,241.2 284.4,242.5 280.9,243.9ZM301.6,264.0 304.7,264.2 302.8,266.7 300.8,267.1 301.6,264.0ZM330.6,257.3 331.2,259.0 333.6,260.8 330.9,262.7 327.6,264.9 328.8,262.7 328.3,262.4 330.6,257.3ZM326.4,263.8 326.8,265.1 324.1,267.0 321.5,268.0 318.0,270.3 316.4,269.6 319.4,267.5 324.5,264.9 326.4,263.8ZM293.1,183.7 297.1,184.2 300.8,182.6 300.7,180.5 300.0,177.8 298.3,175.7 297.7,176.7 298.8,179.4 296.7,180.5 296.5,182.0 293.0,183.1 293.1,183.7ZM297.1,175.6 297.7,174.6 300.6,173.7 299.5,172.8 295.7,171.4 296.0,174.0 297.1,175.6ZM292.3,184.4 293.9,184.2 294.4,186.5 293.7,186.8 292.3,184.4ZM295.6,170.9 294.2,167.2 289.1,162.2 291.7,165.6 295.6,170.9ZM286.8,195.5 287.7,193.1 287.9,196.6 287.6,196.6 286.8,195.5ZM276.8,199.6 278.5,198.6 279.0,199.3 277.9,200.7 276.8,199.6ZM287.7,200.3 289.8,200.3 290.0,202.8 292.3,206.3 289.4,205.6 288.8,204.7 287.7,200.3ZM291.0,212.7 294.6,210.0 295.3,212.7 294.4,214.0 291.0,212.8ZM265.7,214.2 267.8,214.7 270.8,218.1 274.1,221.3 276.0,223.7 275.9,226.5 274.5,226.6 271.3,222.9 268.9,218.6 265.7,214.2ZM275.1,227.6 275.9,226.7 280.6,227.2 283.9,228.5 283.8,229.6 280.5,229.1 275.4,227.8 275.1,227.6ZM278.9,218.6 280.8,218.4 283.6,215.4 285.3,212.8 288.6,214.5 287.5,219.2 286.0,222.4 285.5,224.6 284.1,224.0 280.8,223.5 279.8,222.2 278.9,220.8 278.9,218.6ZM288.8,226.2 289.8,223.3 290.1,219.0 294.1,218.5 290.4,219.7 292.7,221.3 290.8,222.4 291.6,225.4 290.3,224.0 289.7,226.2 288.8,226.2ZM299.9,221.3 302.7,221.2 306.5,222.0 309.3,223.0 313.7,225.4 315.3,226.9 318.0,231.5 314.5,230.8 311.3,229.9 309.4,230.1 306.1,229.1 305.9,225.6 303.6,224.9 301.2,224.6 300.8,223.3 299.9,221.3ZM250.9,212.7 251.1,209.7 252.8,212.2 252.1,213.8 250.9,212.7ZM70.2,302.4 77.7,303.1 81.1,302.1 82.5,299.8 85.9,298.2 91.0,297.4 96.7,296.8 103.5,296.9 109.5,296.5 115.5,295.9 122.3,296.1 125.3,295.6 127.7,294.3 128.4,292.1 128.7,290.2 130.5,288.0 132.6,287.1 133.2,287.5 131.9,288.6 131.0,290.5 131.4,292.5 133.6,295.2 135.4,296.9 136.8,298.2 144.3,300.1 150.6,300.2 153.3,299.4 159.1,298.2 165.2,296.1 168.3,294.3 175.1,293.4 181.9,293.4 188.7,293.4 195.7,293.0 202.9,292.1 210.7,290.2 217.6,290.7 224.1,291.6 223.3,293.0 231.4,291.1 239.2,290.2 246.7,289.7 253.9,289.7 260.6,290.2 268.0,289.9 274.5,290.5 279.6,292.1 284.6,293.4 289.4,294.8 283.7,296.9 277.7,299.4 276.5,301.4 279.9,302.4M215.2,171.9 216.5,170.3 219.8,169.8 220.7,171.9 218.7,172.5 218.8,174.6 220.8,175.6 221.7,177.8 223.0,179.9 218.6,179.9 218.5,177.2 216.3,175.1 215.2,171.9ZM224.7,171.4 225.4,170.3 227.3,170.9 227.5,173.0 225.9,173.4 224.7,171.4ZM97.3,170.1 101.4,168.4 103.8,168.8 103.5,170.3 100.6,170.3 97.3,170.1ZM98.6,175.4 100.1,173.0 102.0,171.0 102.7,171.4 100.3,174.0 99.8,175.4 98.6,175.4ZM102.7,173.5 103.3,170.9 106.2,171.1 106.5,172.5 104.2,174.0 102.7,173.5ZM102.4,175.4 105.4,174.3 106.7,174.3 103.1,175.7 102.4,175.4ZM106.2,173.7 109.4,173.5 109.4,172.8 107.1,173.2 106.2,173.7ZM259.9,164.8 261.1,164.1 261.4,161.0 262.6,161.5 261.9,164.6 260.1,165.1ZM205.3,221.3 206.0,219.9 207.5,220.0 207.4,221.3 206.5,222.9 205.3,221.3ZM202.9,224.0 204.0,229.4 204.5,229.2 203.4,224.0 202.9,224.0ZM207.3,230.5 207.6,235.3 208.1,235.3 207.9,230.5 207.3,230.5ZM95.5,162.8 96.8,162.5 96.4,164.6 95.3,166.2 95.0,165.6 95.1,164.1ZM86.8,155.5 90.4,154.1 94.3,153.8 92.2,154.6 89.3,155.3ZM85.0,151.2 89.3,149.8 91.3,150.3 88.9,151.7 86.7,151.7ZM89.5,157.8 92.5,157.0 94.1,157.3 91.9,157.7Z" fill="none" stroke="#000" stroke-width="0.7"/>
<path d="M266.3,133.5 267.7,133.9 269.0,134.3 270.4,134.7 271.7,135.1 273.2,135.6 274.8,136.1 276.4,136.7 278.2,137.4 279.9,138.1 281.6,138.8 283.4,139.5 285.2,140.3 287.0,141.1 288.8,141.9 290.5,142.7 292.2,143.6 293.8,144.4 295.3,145.3 296.8,146.2 298.3,147.1 299.8,148.0 301.2,148.9 302.6,149.8 304.0,150.8 305.4,151.7 306.7,152.6 308.1,153.6 309.4,154.6 310.7,155.5 312.0,156.5 313.3,157.5 314.6,158.5 315.9,159.5 317.1,160.5 318.3,161.5 319.5,162.5 320.6,163.6 321.8,164.6 322.9,165.6 323.9,166.7 325.0,167.7 326.0,168.8 326.9,169.8 327.9,170.9 328.8,171.9 329.7,173.0 330.6,174.0 331.5,175.1 332.3,176.2 333.2,177.2 333.9,178.3 334.7,179.4 335.4,180.5 336.1,181.5 336.8,182.6 337.4,183.7 338.0,184.8 338.6,185.8 339.2,186.9 339.7,188.0 340.2,189.1 340.7,190.1 341.2,191.2 341.6,192.3 342.0,193.4 342.3,194.4 342.7,195.5 343.0,196.6 343.3,197.7 343.5,198.7 343.8,199.8 344.1,200.9 344.4,202.0 344.6,203.0 344.9,204.1 345.1,205.2 345.3,206.3 345.5,207.3 345.7,208.4 345.8,209.5 345.9,210.6 346.1,211.6 346.2,212.7 346.3,213.8 346.4,214.9 346.4,215.9 346.5,217.0 346.5,218.1 346.6,219.2 346.6,220.2 346.6,221.3 346.5,222.4 346.5,223.5 346.4,224.6 346.4,225.6 346.3,226.7 346.2,227.8 346.1,228.9 345.9,229.9 345.8,231.0 345.7,232.1 345.5,233.2 345.3,234.2 345.1,235.3 344.9,236.4 344.6,237.5 344.4,238.5 344.1,239.6 343.8,240.7 343.5,241.8 343.3,242.8 343.0,243.9 342.7,245.0 342.3,246.1 342.0,247.1 341.6,248.2 341.2,249.3 340.7,250.4 340.2,251.4 339.7,252.5 339.2,253.6 338.6,254.7 338.0,255.7 337.4,256.8 336.8,257.9 336.1,259.0 335.4,260.0 334.7,261.1 333.9,262.2 333.2,263.3 332.3,264.3 331.5,265.4 330.6,266.5 329.7,267.5 328.8,268.6 327.9,269.6 326.9,270.7 326.0,271.7 325.0,272.8 323.9,273.8 322.9,274.9 321.8,275.9 320.6,276.9 319.5,278.0 318.3,279.0 317.1,280.0 315.9,281.0 314.6,282.0 313.3,283.0 312.0,284.0 310.7,285.0 309.4,285.9 308.1,286.9 306.7,287.9 305.4,288.8 304.0,289.7 302.6,290.7 301.2,291.6 299.8,292.5 298.3,293.4 296.8,294.3 295.3,295.2 293.8,296.1 292.2,296.9 290.5,297.8 288.8,298.6 287.0,299.4 285.2,300.2 283.4,301.0 281.6,301.7 279.9,302.4 278.2,303.1 276.4,303.8 274.8,304.4 273.2,304.9 271.7,305.4 270.4,305.8 269.0,306.2 267.7,306.6 266.3,307.0 83.8,307.0 82.4,306.6 81.1,306.2 79.7,305.8 78.4,305.4 76.9,304.9 75.3,304.4 73.7,303.8 71.9,303.1 70.2,302.4 68.5,301.7 66.7,301.0 64.9,300.2 63.1,299.4 61.3,298.6 59.6,297.8 57.9,296.9 56.3,296.1 54.8,295.2 53.3,294.3 51.8,293.4 50.3,292.5 48.9,291.6 47.5,290.7 46.1,289.7 44.7,288.8 43.4,287.9 42.0,286.9 40.7,285.9 39.4,285.0 38.1,284.0 36.8,283.0 35.5,282.0 34.2,281.0 33.0,280.0 31.8,279.0 30.6,278.0 29.5,276.9 28.3,275.9 27.2,274.9 26.2,273.8 25.1,272.8 24.1,271.7 23.2,270.7 22.2,269.6 21.3,268.6 20.4,267.5 19.5,266.5 18.6,265.4 17.8,264.3 16.9,263.3 16.2,262.2 15.4,261.1 14.7,260.0 14.0,259.0 13.3,257.9 12.7,256.8 12.1,255.7 11.5,254.7 10.9,253.6 10.4,252.5 9.9,251.4 9.4,250.4 8.9,249.3 8.5,248.2 8.1,247.1 7.8,246.1 7.4,245.0 7.1,243.9 6.8,242.8 6.6,241.8 6.3,240.7 6.0,239.6 5.7,238.5 5.5,237.5 5.2,236.4 5.0,235.3 4.8,234.2 4.6,233.2 4.4,232.1 4.3,231.0 4.2,229.9 4.0,228.9 3.9,227.8 3.8,226.7 3.7,225.6 3.7,224.6 3.6,223.5 3.6,222.4 3.5,221.3 3.5,220.2 3.5,219.2 3.6,218.1 3.6,217.0 3.7,215.9 3.7,214.9 3.8,213.8 3.9,212.7 4.0,211.6 4.2,210.6 4.3,209.5 4.4,208.4 4.6,207.3 4.8,206.3 5.0,205.2 5.2,204.1 5.5,203.0 5.7,202.0 6.0,200.9 6.3,199.8 6.6,198.7 6.8,197.7 7.1,196.6 7.4,195.5 7.8,194.4 8.1,193.4 8.5,192.3 8.9,191.2 9.4,190.1 9.9,189.1 10.4,188.0 10.9,186.9 11.5,185.8 12.1,184.8 12.7,183.7 13.3,182.6 14.0,181.5 14.7,180.5 15.4,179.4 16.2,178.3 16.9,177.2 17.8,176.2 18.6,175.1 19.5,174.0 20.4,173.0 21.3,171.9 22.2,170.9 23.2,169.8 24.1,168.8 25.1,167.7 26.2,166.7 27.2,165.6 28.3,164.6 29.5,163.6 30.6,162.5 31.8,161.5 33.0,160.5 34.2,159.5 35.5,158.5 36.8,157.5 38.1,156.5 39.4,155.5 40.7,154.6 42.0,153.6 43.4,152.6 44.7,151.7 46.1,150.8 47.5,149.8 48.9,148.9 50.3,148.0 51.8,147.1 53.3,146.2 54.8,145.3 56.3,144.4 57.9,143.6 59.6,142.7 61.3,141.9 63.1,141.1 64.9,140.3 66.7,139.5 68.5,138.8 70.2,138.1 71.9,137.4 73.7,136.7 75.3,136.1 76.9,135.6 78.4,135.1 79.7,134.7 81.1,134.3 82.4,133.9 83.8,133.5Z" fill="none" stroke="#444" stroke-width="0.85"/>
<clipPath id="land1"><path d="M404.0,151.1 408.9,148.6 412.6,147.5 419.4,145.9 421.8,146.4 425.7,147.0 428.0,147.3 430.7,148.0 434.1,147.4 437.4,146.9 438.8,147.5 441.9,147.8 444.5,148.7 447.8,148.9 451.8,148.3 456.1,149.1 458.0,148.4 461.6,145.5 461.2,147.1 462.5,148.0 463.4,148.6 466.3,147.5 468.5,147.3 467.1,149.8 464.0,150.8 461.6,152.2 456.8,153.8 452.6,157.0 453.3,157.8 454.6,159.3 456.2,160.5 459.5,161.4 458.5,163.7 459.9,165.1 461.9,162.0 464.7,159.5 465.9,156.5 466.9,154.2 469.8,154.4 471.5,155.3 471.5,157.5 473.2,158.0 475.6,156.2 476.1,158.5 477.0,160.0 478.6,162.0 479.4,164.1 477.8,165.2 475.3,166.5 470.4,166.5 466.7,168.4 470.8,167.5 471.2,168.1 470.1,169.6 470.7,170.5 473.0,171.3 474.0,170.7 472.4,171.9 468.1,173.4 464.6,173.4 463.8,175.3 462.1,176.0 460.1,176.7 458.1,178.8 457.1,180.7 457.0,182.4 454.5,183.9 451.2,186.4 450.8,190.1 450.6,192.8 449.6,193.1 448.8,190.1 448.0,188.0 446.3,187.5 443.5,187.7 442.9,189.1 440.6,188.4 438.3,188.5 435.3,190.6 434.3,193.9 433.8,196.8 434.6,199.6 436.2,200.7 439.0,200.3 440.3,197.8 443.4,197.1 442.7,200.3 441.7,203.0 443.9,203.1 446.3,204.1 445.6,208.4 446.8,210.2 449.5,209.9 451.4,211.0 450.3,211.9 448.7,212.4 447.3,211.5 445.2,210.0 443.5,208.8 442.1,206.3 438.9,205.2 436.3,202.9 433.9,203.4 429.9,201.6 426.2,198.5 426.6,196.8 425.8,195.1 423.8,192.5 421.9,188.7 420.5,186.0 421.2,188.5 421.7,190.7 422.4,194.2 422.9,195.5 421.0,193.7 419.8,191.0 419.0,188.0 418.7,185.2 418.0,183.7 416.3,183.1 416.0,179.9 416.1,177.5 416.0,176.7 417.3,174.0 419.9,170.3 420.6,168.3 422.2,167.8 421.2,166.7 419.6,165.8 420.6,164.6 420.8,162.0 420.9,159.5 419.7,158.2 418.4,156.8 415.7,156.5 414.8,155.5 410.2,157.0 410.7,155.5 408.7,157.3 405.5,158.5 400.8,160.0 396.0,161.5 393.3,162.0 398.1,160.3 403.3,158.0 401.6,157.8 400.2,157.7 400.3,156.0 401.3,154.6 403.6,153.4 407.7,152.2 406.0,152.1 404.0,152.0 404.0,151.1ZM480.2,140.3 482.2,139.5 484.8,138.6 487.6,138.1 490.5,137.4 493.6,137.2 501.4,136.5 508.1,136.4 513.5,137.2 518.0,137.7 514.4,139.5 513.0,141.5 512.0,143.1 509.9,145.3 509.9,146.6 506.8,148.4 501.8,148.7 497.9,151.1 495.3,152.6 493.2,155.5 491.0,156.5 488.7,155.5 487.4,153.1 486.8,150.3 488.9,147.8 488.0,146.2 488.0,144.4 488.0,142.2 482.1,141.7 480.2,140.3ZM507.6,151.2 509.2,150.4 512.0,150.6 514.2,150.3 515.2,151.4 514.0,152.4 511.6,153.2 508.4,152.8 508.9,152.2 507.6,151.2ZM472.6,143.8 475.0,145.0 477.0,146.5 478.7,147.5 480.3,149.8 480.5,150.8 477.6,152.2 477.2,153.6 475.6,154.6 473.1,153.8 471.5,152.6 469.5,152.3 468.1,152.2 472.3,150.0 473.8,148.7 471.1,148.6 471.2,147.5 469.0,147.2 466.1,146.9 465.0,146.2 465.9,144.4 468.6,143.9 472.6,143.8ZM447.3,144.3 454.0,144.2 458.3,144.4 456.5,146.6 454.2,148.0 451.4,148.1 446.1,148.4 443.7,147.8 446.6,146.6 445.6,145.7 447.3,144.3ZM440.8,145.5 444.9,143.3 449.4,143.3 449.2,144.0 444.0,145.9 440.8,145.5ZM475.4,141.5 471.4,141.7 469.4,140.7 467.7,139.5 468.5,138.4 472.2,137.4 479.9,136.7 485.5,136.7 490.1,137.2 486.7,138.4 481.6,139.5 475.4,141.5ZM473.3,143.1 466.7,143.1 465.8,142.2 471.1,141.4 474.5,141.7 473.3,143.1ZM458.0,142.3 449.5,142.7 452.7,141.1 456.1,141.3 458.0,142.3ZM464.2,143.1 459.3,142.9 460.4,141.9 465.2,141.1 464.2,143.1ZM464.4,145.3 461.8,144.9 463.1,143.6 465.7,143.6 464.4,145.3ZM460.0,145.7 457.2,145.5 458.7,144.0 461.8,143.6 460.0,145.7ZM465.7,153.1 462.0,152.6 462.2,151.2 464.7,150.8 465.7,153.1ZM475.1,169.2 476.8,167.2 479.1,165.0 478.9,167.1 480.2,168.2 480.6,169.3 479.6,170.2 477.8,169.3 475.1,169.2ZM379.1,197.9 379.8,198.7 379.1,199.8 378.7,199.3ZM377.1,197.0 377.7,197.3 377.2,197.4ZM390.4,163.1 391.7,162.5 393.2,162.2 391.0,163.3ZM387.1,163.9 388.8,163.4 387.7,164.1ZM382.7,164.6 384.2,164.3 383.4,164.7ZM379.6,164.8 381.0,164.6 380.2,165.0ZM404.4,159.2 406.7,158.5 405.7,159.2 404.2,159.7ZM634.1,229.1 635.1,229.2 634.6,229.7 633.7,229.5ZM635.2,229.2 635.8,229.2 635.5,229.8ZM636.0,229.3 637.9,229.1 637.9,229.7 636.0,229.9ZM638.7,229.4 641.7,229.1 641.7,229.5 638.8,229.8ZM637.8,230.5 639.5,230.9 638.3,230.9ZM642.0,231.2 643.6,229.9 645.7,229.3 643.5,230.7ZM646.8,223.5 649.5,223.5 649.2,224.3 647.0,224.0ZM646.4,218.3 647.4,219.7 646.9,221.1 646.4,219.7ZM642.4,206.8 644.0,207.3 643.9,208.4 642.9,208.1ZM640.4,207.6 641.4,207.9 641.1,209.0 640.5,208.6ZM641.3,208.5 642.0,209.0 641.7,210.5 641.1,209.6ZM642.7,207.9 643.4,208.2 643.7,209.4 643.0,209.3ZM638.6,205.7 639.8,206.2 639.6,207.1 638.9,206.8ZM636.2,211.2 638.1,208.0 638.4,209.0 636.5,211.4ZM673.7,227.5 676.0,228.9 677.3,230.1 674.1,228.3ZM666.2,226.2 668.1,226.0 669.6,224.8 669.0,226.3 666.6,226.9ZM691.6,239.1 692.7,238.9 692.3,239.8 691.5,239.6ZM678.4,242.0 680.6,244.2 680.1,244.5 678.4,242.6ZM682.0,236.4 682.6,236.9 682.2,237.5ZM470.7,140.0 467.8,139.9 468.5,138.4 472.2,137.8 473.6,139.1ZM462.1,141.1 459.8,140.4 461.8,139.9 464.4,140.7ZM464.8,139.9 467.4,139.3 467.7,140.0ZM452.8,141.5 447.8,141.7 451.2,140.4 453.1,140.8ZM465.1,142.9 463.2,142.8 464.7,142.1 466.1,142.2ZM474.6,144.6 471.6,144.3 472.7,143.7 474.5,143.9ZM458.7,148.4 456.1,148.2 457.3,147.3 459.0,147.3ZM464.8,153.9 462.7,154.4 462.7,153.8 464.5,153.3ZM552.7,138.8 556.9,138.1 561.9,138.4 557.6,138.9ZM537.1,140.1 539.8,140.8 538.6,141.1 536.0,140.7ZM445.6,196.7 449.5,195.3 452.6,196.9 455.5,198.5 452.3,198.8 450.2,196.9 448.0,196.5 445.6,196.7ZM455.0,200.5 456.7,198.8 459.8,199.1 460.8,200.3 457.7,201.3 455.0,200.5ZM451.4,200.6 453.3,200.8 452.6,201.1 451.4,200.6ZM461.8,200.3 463.3,200.5 463.1,200.9 461.8,200.9ZM451.3,211.0 453.3,208.7 455.7,207.9 456.7,207.0 457.1,208.4 460.4,208.8 464.2,208.7 466.1,208.7 467.4,211.1 470.2,213.8 473.5,214.0 475.9,215.4 477.3,218.3 477.7,220.2 480.1,221.1 482.5,222.8 486.8,223.3 489.7,225.2 491.3,226.0 491.7,229.9 489.4,233.2 488.0,234.8 488.1,239.1 487.0,242.3 486.2,244.5 483.5,245.2 480.5,248.0 480.0,250.9 478.8,253.6 477.1,256.6 475.5,257.9 472.7,257.4 474.0,259.5 473.9,261.3 470.2,262.2 470.3,263.8 468.2,264.5 469.4,265.9 469.0,268.6 467.7,269.8 469.7,271.5 468.9,273.3 468.2,274.9 469.3,276.4 472.3,278.8 469.4,279.5 466.1,277.4 464.0,275.9 461.6,271.7 461.3,268.6 461.0,265.4 459.4,260.0 459.8,254.7 459.2,250.4 459.4,246.1 459.0,240.2 456.7,238.3 452.9,235.3 450.4,230.5 449.0,227.6 447.6,225.6 448.7,223.5 447.9,221.3 448.7,219.4 449.8,218.3 451.1,215.9 451.4,213.3 451.3,211.0ZM516.9,180.5 516.7,178.3 517.3,175.1 517.0,173.9 518.0,173.3 521.5,173.6 523.6,173.6 523.9,171.1 523.0,169.6 521.0,168.8 523.6,168.0 526.1,166.7 527.0,165.6 528.2,165.1 528.9,163.6 531.3,163.0 531.7,161.0 531.3,159.7 533.1,158.8 533.2,160.5 532.7,161.7 533.7,162.5 536.1,162.5 539.2,161.7 541.6,161.5 541.3,159.5 543.6,159.3 542.9,157.2 546.3,157.0 547.7,156.5 542.4,156.5 541.1,155.5 540.8,153.6 543.0,151.7 540.7,150.9 538.9,153.1 538.1,155.5 539.0,157.0 537.9,160.0 535.2,161.0 534.7,160.0 533.4,157.7 532.6,157.5 531.1,158.5 529.1,157.5 528.7,155.1 530.8,153.3 533.5,151.2 535.4,148.9 537.3,147.3 540.6,146.6 543.8,146.2 546.1,147.1 547.7,147.7 553.8,149.4 553.9,150.8 549.9,151.7 552.7,152.6 556.4,150.8 555.6,148.4 561.9,148.6 563.2,148.4 566.5,148.0 570.3,147.4 570.4,144.4 574.0,145.7 575.7,148.9 574.7,144.9 577.3,144.0 581.1,143.1 584.9,141.9 588.8,140.4 598.9,144.0 604.0,144.4 609.2,144.9 609.5,144.6 617.8,144.9 625.8,145.7 634.5,147.1 641.6,147.3 647.8,147.7 649.8,148.1 655.2,151.7 654.5,152.2 656.4,154.1 655.3,155.5 654.3,156.5 650.7,156.7 651.8,159.0 652.7,160.5 653.7,164.6 653.4,165.6 650.6,163.1 646.5,159.5 647.4,158.5 646.4,155.1 644.9,155.1 643.4,157.0 639.6,157.0 634.5,157.2 636.8,162.0 634.8,162.5 642.3,168.2 641.2,173.5 638.4,174.5 637.9,176.7 640.8,181.5 639.2,183.0 638.6,183.1 636.9,179.9 634.4,177.5 632.1,178.3 630.7,176.4 629.1,178.3 629.0,178.8 630.9,180.5 633.9,180.2 632.7,182.6 635.8,186.4 636.5,188.0 635.8,191.7 633.7,195.0 630.7,196.3 628.2,197.7 627.8,198.4 626.2,197.0 624.6,198.7 624.2,200.3 626.1,202.5 628.2,206.3 628.2,207.9 626.0,210.0 624.4,211.0 624.5,209.5 622.6,209.0 619.9,205.9 619.3,209.5 620.4,212.7 623.5,218.7 621.1,217.6 618.5,211.6 618.3,209.5 616.7,202.5 613.9,203.0 613.1,200.3 610.9,197.7 608.9,196.6 606.1,197.1 605.9,198.7 602.1,202.5 600.8,206.3 600.7,209.2 598.5,211.5 597.0,209.5 594.7,204.1 593.4,199.8 592.7,197.1 590.1,196.0 588.6,195.0 586.5,192.8 581.9,193.1 577.6,192.0 576.9,191.2 572.8,190.3 569.5,187.8 568.9,188.5 571.1,191.7 572.6,192.8 576.0,193.9 576.9,192.0 577.4,193.9 580.6,196.0 579.1,199.8 576.6,202.0 573.9,203.6 570.7,205.2 567.5,206.5 566.1,206.6 565.3,204.1 561.3,197.1 559.2,193.4 557.1,190.1 557.0,188.5 556.4,190.1 554.7,188.1 554.3,186.7 556.3,186.4 557.1,182.6 557.0,180.9 553.5,181.3 549.9,180.8 548.1,178.3 548.1,176.7 550.2,176.0 555.3,175.1 561.1,175.6 560.9,174.0 557.4,171.9 553.6,172.5 550.4,170.9 549.5,173.5 549.3,175.6 547.6,176.4 545.1,176.9 544.9,180.5 543.5,178.8 541.9,175.3 538.7,173.5 536.6,171.3 535.4,172.5 536.9,174.6 538.8,175.6 541.1,177.1 539.5,178.3 538.8,179.4 539.0,177.2 537.1,176.2 535.3,175.1 533.9,173.5 532.2,172.6 530.5,173.9 527.9,173.7 527.7,175.1 524.9,178.3 524.3,179.8 523.1,180.8 519.9,181.5 519.1,180.7 516.9,180.5ZM400.0,148.1 401.6,149.4 403.4,150.6 401.5,151.4 398.7,152.4 396.0,151.7 394.6,151.7ZM519.6,181.7 523.1,182.5 527.6,180.7 533.8,180.2 534.8,182.6 534.1,183.9 538.5,185.5 542.7,187.7 543.1,185.8 545.8,185.3 547.7,186.4 551.4,187.0 554.1,186.7 554.7,188.1 555.8,190.7 557.9,194.6 559.9,200.0 561.6,203.0 564.1,205.7 565.9,207.4 567.1,209.1 573.4,207.6 573.3,209.0 572.0,213.3 569.2,217.6 564.9,221.3 563.0,224.0 562.0,227.2 563.3,232.1 563.1,236.4 557.7,241.8 557.8,244.5 555.3,248.0 554.8,250.9 552.7,253.6 549.3,256.6 544.7,256.8 541.6,257.1 541.3,254.7 538.7,249.3 538.4,244.5 536.0,238.5 537.7,233.2 536.5,226.7 533.5,220.8 534.2,216.5 533.0,215.4 530.6,215.6 527.8,213.4 523.0,215.1 517.8,215.5 514.4,212.9 512.1,210.0 509.0,206.8 508.6,204.4 509.9,200.9 509.5,197.7 511.5,192.3 515.7,188.7 516.1,186.4 518.8,183.7 519.6,181.7ZM571.6,233.2 572.5,236.9 571.4,239.6 568.5,247.1 566.6,247.7 565.5,243.9 566.6,238.0 568.7,236.9 571.6,233.2ZM520.2,166.7 522.4,165.2 520.7,164.8 521.1,163.8 522.5,163.2 522.5,162.0 520.5,161.1 520.2,159.5 521.0,157.9 522.2,157.9 523.3,159.5 523.7,161.0 524.9,163.1 526.3,163.9 526.1,165.6 520.2,166.7ZM520.0,164.4 518.4,165.0 516.5,164.6 516.9,162.3 518.9,161.2 520.3,161.5 520.1,162.5 520.0,164.4ZM531.6,140.0 534.4,138.8 540.8,138.5 541.8,139.7 536.2,141.4 531.6,140.0ZM559.5,145.7 561.5,142.7 567.7,141.2 564.7,142.7 562.4,146.2 559.5,145.7ZM582.7,139.5 583.1,138.1 587.2,138.4 588.0,139.9 582.7,139.5ZM613.4,143.6 614.7,141.9 620.7,142.5 617.9,144.4 613.4,143.6ZM645.4,146.0 645.9,145.7 646.8,146.3ZM630.8,243.9 634.3,242.5 638.3,241.2 640.1,238.5 643.9,235.3 646.6,236.4 647.9,233.7 650.4,232.4 654.6,233.2 653.1,236.9 656.0,239.1 658.0,238.5 658.7,234.2 660.0,231.9 662.2,236.4 661.9,240.2 665.2,244.5 666.8,247.1 666.2,250.4 664.4,253.6 658.2,260.6 654.2,262.2 651.7,262.0 649.1,261.1 648.6,258.5 649.2,256.3 646.3,255.5 644.2,254.1 639.3,254.9 636.3,256.8 630.7,257.9 628.6,256.8 630.4,248.2 630.8,243.9ZM651.5,264.0 654.6,264.2 652.7,266.7 650.6,267.1 651.5,264.0ZM680.4,257.3 681.0,259.0 683.4,260.8 680.8,262.7 677.4,264.9 678.6,262.7 678.2,262.4 680.4,257.3ZM676.2,263.8 676.6,265.1 674.0,267.0 671.4,268.0 667.8,270.3 666.3,269.6 669.2,267.5 674.4,264.9 676.2,263.8ZM643.0,183.7 642.8,183.1 646.3,182.0 646.5,180.5 648.6,179.4 647.6,176.7 648.2,175.7 649.8,177.8 650.5,180.5 650.7,182.6 646.9,184.2 643.0,183.7ZM646.9,175.6 645.9,174.0 645.6,171.4 649.3,172.8 650.4,173.7 647.5,174.6 646.9,175.6ZM642.1,184.4 643.7,184.2 644.2,186.5 643.6,186.8 642.1,184.4ZM645.5,170.9 641.5,165.6 639.0,162.2 644.0,167.2 645.5,170.9ZM636.6,195.5 637.5,193.1 637.8,196.6 637.5,196.6 636.6,195.5ZM626.7,199.6 628.3,198.6 628.9,199.3 627.7,200.7 626.7,199.6ZM637.5,200.3 639.7,200.3 639.8,202.8 642.2,206.3 639.3,205.6 638.7,204.7 637.5,200.3ZM640.9,212.7 644.5,210.0 645.2,212.7 644.3,214.0 640.9,212.8ZM615.6,214.2 617.7,214.7 620.6,218.1 624.0,221.3 625.8,223.7 625.7,226.5 624.3,226.6 621.1,222.9 618.7,218.6 615.6,214.2ZM624.9,227.6 625.7,226.7 630.5,227.2 633.7,228.5 633.6,229.6 630.3,229.1 625.2,227.8 624.9,227.6ZM628.7,218.6 630.6,218.4 633.4,215.4 635.2,212.8 638.4,214.5 637.3,219.2 635.9,222.4 635.3,224.6 633.9,224.0 630.6,223.5 629.7,222.2 628.8,220.8 628.7,218.6ZM638.6,226.2 639.7,223.3 640.0,219.0 644.0,218.5 640.2,219.7 642.6,221.3 640.6,222.4 641.5,225.4 640.1,224.0 639.6,226.2 638.6,226.2ZM649.7,221.3 652.6,221.2 656.4,222.0 659.2,223.0 663.6,225.4 665.2,226.9 667.8,231.5 664.4,230.8 661.1,229.9 659.2,230.1 656.0,229.1 655.8,225.6 653.4,224.9 651.1,224.6 650.6,223.3 649.7,221.3ZM600.8,212.7 601.0,209.7 602.6,212.2 602.0,213.8 600.8,212.7ZM433.6,307.0 420.1,302.4 427.5,303.1 430.9,302.1 432.3,299.8 435.7,298.2 440.9,297.4 446.6,296.8 453.3,296.9 459.4,296.5 465.4,295.9 472.1,296.1 475.1,295.6 477.5,294.3 478.2,292.1 478.6,290.2 480.4,288.0 482.5,287.1 483.0,287.5 481.7,288.6 480.9,290.5 481.2,292.5 483.5,295.2 485.2,296.9 486.7,298.2 494.2,300.1 500.4,300.2 503.1,299.4 509.0,298.2 515.0,296.1 518.1,294.3 524.9,293.4 531.7,293.4 538.6,293.4 545.6,293.0 552.8,292.1 560.5,290.2 567.4,290.7 574.0,291.6 573.1,293.0 581.3,291.1 589.0,290.2 596.5,289.7 603.7,289.7 610.4,290.2 617.8,289.9 624.3,290.5 629.4,292.1 634.5,293.4 639.2,294.8 633.6,296.9 627.6,299.4 626.4,301.4 629.7,302.4 616.2,307.0ZM439.3,147.1 445.3,142.7 451.5,141.5 457.7,141.1 463.7,140.3 469.1,138.4 476.6,137.0 489.7,137.0 482.8,139.5 476.4,141.1 473.2,143.1 468.6,144.0 465.1,145.7 460.8,147.5 454.8,148.9 446.4,148.9 439.3,147.1ZM532.9,162.5 534.8,161.0 537.9,160.0 539.0,157.0 538.1,155.5 540.3,150.9 543.2,150.9 547.7,156.5 542.9,157.2 541.3,159.5 541.6,161.5 536.1,162.0 532.9,162.5ZM565.0,171.9 566.4,170.3 569.6,169.8 570.6,171.9 568.6,172.5 568.7,174.6 570.7,175.6 571.6,177.8 572.9,179.9 568.5,179.9 568.4,177.2 566.2,175.1 565.0,171.9ZM550.6,150.3 553.8,149.4 556.4,150.8 552.7,152.6 549.9,151.7Z"/></clipPath>
<path d="M404.0,151.1 408.9,148.6 412.6,147.5 419.4,145.9 421.8,146.4 425.7,147.0 428.0,147.3 430.7,148.0 434.1,147.4 437.4,146.9 438.8,147.5 441.9,147.8 444.5,148.7 447.8,148.9 451.8,148.3 456.1,149.1 458.0,148.4 461.6,145.5 461.2,147.1 462.5,148.0 463.4,148.6 466.3,147.5 468.5,147.3 467.1,149.8 464.0,150.8 461.6,152.2 456.8,153.8 452.6,157.0 453.3,157.8 454.6,159.3 456.2,160.5 459.5,161.4 458.5,163.7 459.9,165.1 461.9,162.0 464.7,159.5 465.9,156.5 466.9,154.2 469.8,154.4 471.5,155.3 471.5,157.5 473.2,158.0 475.6,156.2 476.1,158.5 477.0,160.0 478.6,162.0 479.4,164.1 477.8,165.2 475.3,166.5 470.4,166.5 466.7,168.4 470.8,167.5 471.2,168.1 470.1,169.6 470.7,170.5 473.0,171.3 474.0,170.7 472.4,171.9 468.1,173.4 464.6,173.4 463.8,175.3 462.1,176.0 460.1,176.7 458.1,178.8 457.1,180.7 457.0,182.4 454.5,183.9 451.2,186.4 450.8,190.1 450.6,192.8 449.6,193.1 448.8,190.1 448.0,188.0 446.3,187.5 443.5,187.7 442.9,189.1 440.6,188.4 438.3,188.5 435.3,190.6 434.3,193.9 433.8,196.8 434.6,199.6 436.2,200.7 439.0,200.3 440.3,197.8 443.4,197.1 442.7,200.3 441.7,203.0 443.9,203.1 446.3,204.1 445.6,208.4 446.8,210.2 449.5,209.9 451.4,211.0 450.3,211.9 448.7,212.4 447.3,211.5 445.2,210.0 443.5,208.8 442.1,206.3 438.9,205.2 436.3,202.9 433.9,203.4 429.9,201.6 426.2,198.5 426.6,196.8 425.8,195.1 423.8,192.5 421.9,188.7 420.5,186.0 421.2,188.5 421.7,190.7 422.4,194.2 422.9,195.5 421.0,193.7 419.8,191.0 419.0,188.0 418.7,185.2 418.0,183.7 416.3,183.1 416.0,179.9 416.1,177.5 416.0,176.7 417.3,174.0 419.9,170.3 420.6,168.3 422.2,167.8 421.2,166.7 419.6,165.8 420.6,164.6 420.8,162.0 420.9,159.5 419.7,158.2 418.4,156.8 415.7,156.5 414.8,155.5 410.2,157.0 410.7,155.5 408.7,157.3 405.5,158.5 400.8,160.0 396.0,161.5 393.3,162.0 398.1,160.3 403.3,158.0 401.6,157.8 400.2,157.7 400.3,156.0 401.3,154.6 403.6,153.4 407.7,152.2 406.0,152.1 404.0,152.0 404.0,151.1ZM480.2,140.3 482.2,139.5 484.8,138.6 487.6,138.1 490.5,137.4 493.6,137.2 501.4,136.5 508.1,136.4 513.5,137.2 518.0,137.7 514.4,139.5 513.0,141.5 512.0,143.1 509.9,145.3 509.9,146.6 506.8,148.4 501.8,148.7 497.9,151.1 495.3,152.6 493.2,155.5 491.0,156.5 488.7,155.5 487.4,153.1 486.8,150.3 488.9,147.8 488.0,146.2 488.0,144.4 488.0,142.2 482.1,141.7 480.2,140.3ZM507.6,151.2 509.2,150.4 512.0,150.6 514.2,150.3 515.2,151.4 514.0,152.4 511.6,153.2 508.4,152.8 508.9,152.2 507.6,151.2ZM472.6,143.8 475.0,145.0 477.0,146.5 478.7,147.5 480.3,149.8 480.5,150.8 477.6,152.2 477.2,153.6 475.6,154.6 473.1,153.8 471.5,152.6 469.5,152.3 468.1,152.2 472.3,150.0 473.8,148.7 471.1,148.6 471.2,147.5 469.0,147.2 466.1,146.9 465.0,146.2 465.9,144.4 468.6,143.9 472.6,143.8ZM447.3,144.3 454.0,144.2 458.3,144.4 456.5,146.6 454.2,148.0 451.4,148.1 446.1,148.4 443.7,147.8 446.6,146.6 445.6,145.7 447.3,144.3ZM440.8,145.5 444.9,143.3 449.4,143.3 449.2,144.0 444.0,145.9 440.8,145.5ZM475.4,141.5 471.4,141.7 469.4,140.7 467.7,139.5 468.5,138.4 472.2,137.4 479.9,136.7 485.5,136.7 490.1,137.2 486.7,138.4 481.6,139.5 475.4,141.5ZM473.3,143.1 466.7,143.1 465.8,142.2 471.1,141.4 474.5,141.7 473.3,143.1ZM458.0,142.3 449.5,142.7 452.7,141.1 456.1,141.3 458.0,142.3ZM464.2,143.1 459.3,142.9 460.4,141.9 465.2,141.1 464.2,143.1ZM464.4,145.3 461.8,144.9 463.1,143.6 465.7,143.6 464.4,145.3ZM460.0,145.7 457.2,145.5 458.7,144.0 461.8,143.6 460.0,145.7ZM465.7,153.1 462.0,152.6 462.2,151.2 464.7,150.8 465.7,153.1ZM475.1,169.2 476.8,167.2 479.1,165.0 478.9,167.1 480.2,168.2 480.6,169.3 479.6,170.2 477.8,169.3 475.1,169.2ZM379.1,197.9 379.8,198.7 379.1,199.8 378.7,199.3ZM377.1,197.0 377.7,197.3 377.2,197.4ZM390.4,163.1 391.7,162.5 393.2,162.2 391.0,163.3ZM387.1,163.9 388.8,163.4 387.7,164.1ZM382.7,164.6 384.2,164.3 383.4,164.7ZM379.6,164.8 381.0,164.6 380.2,165.0ZM404.4,159.2 406.7,158.5 405.7,159.2 404.2,159.7ZM634.1,229.1 635.1,229.2 634.6,229.7 633.7,229.5ZM635.2,229.2 635.8,229.2 635.5,229.8ZM636.0,229.3 637.9,229.1 637.9,229.7 636.0,229.9ZM638.7,229.4 641.7,229.1 641.7,229.5 638.8,229.8ZM637.8,230.5 639.5,230.9 638.3,230.9ZM642.0,231.2 643.6,229.9 645.7,229.3 643.5,230.7ZM646.8,223.5 649.5,223.5 649.2,224.3 647.0,224.0ZM646.4,218.3 647.4,219.7 646.9,221.1 646.4,219.7ZM642.4,206.8 644.0,207.3 643.9,208.4 642.9,208.1ZM640.4,207.6 641.4,207.9 641.1,209.0 640.5,208.6ZM641.3,208.5 642.0,209.0 641.7,210.5 641.1,209.6ZM642.7,207.9 643.4,208.2 643.7,209.4 643.0,209.3ZM638.6,205.7 639.8,206.2 639.6,207.1 638.9,206.8ZM636.2,211.2 638.1,208.0 638.4,209.0 636.5,211.4ZM673.7,227.5 676.0,228.9 677.3,230.1 674.1,228.3ZM666.2,226.2 668.1,226.0 669.6,224.8 669.0,226.3 666.6,226.9ZM691.6,239.1 692.7,238.9 692.3,239.8 691.5,239.6ZM678.4,242.0 680.6,244.2 680.1,244.5 678.4,242.6ZM682.0,236.4 682.6,236.9 682.2,237.5ZM470.7,140.0 467.8,139.9 468.5,138.4 472.2,137.8 473.6,139.1ZM462.1,141.1 459.8,140.4 461.8,139.9 464.4,140.7ZM464.8,139.9 467.4,139.3 467.7,140.0ZM452.8,141.5 447.8,141.7 451.2,140.4 453.1,140.8ZM465.1,142.9 463.2,142.8 464.7,142.1 466.1,142.2ZM474.6,144.6 471.6,144.3 472.7,143.7 474.5,143.9ZM458.7,148.4 456.1,148.2 457.3,147.3 459.0,147.3ZM464.8,153.9 462.7,154.4 462.7,153.8 464.5,153.3ZM552.7,138.8 556.9,138.1 561.9,138.4 557.6,138.9ZM537.1,140.1 539.8,140.8 538.6,141.1 536.0,140.7ZM445.6,196.7 449.5,195.3 452.6,196.9 455.5,198.5 452.3,198.8 450.2,196.9 448.0,196.5 445.6,196.7ZM455.0,200.5 456.7,198.8 459.8,199.1 460.8,200.3 457.7,201.3 455.0,200.5ZM451.4,200.6 453.3,200.8 452.6,201.1 451.4,200.6ZM461.8,200.3 463.3,200.5 463.1,200.9 461.8,200.9ZM451.3,211.0 453.3,208.7 455.7,207.9 456.7,207.0 457.1,208.4 460.4,208.8 464.2,208.7 466.1,208.7 467.4,211.1 470.2,213.8 473.5,214.0 475.9,215.4 477.3,218.3 477.7,220.2 480.1,221.1 482.5,222.8 486.8,223.3 489.7,225.2 491.3,226.0 491.7,229.9 489.4,233.2 488.0,234.8 488.1,239.1 487.0,242.3 486.2,244.5 483.5,245.2 480.5,248.0 480.0,250.9 478.8,253.6 477.1,256.6 475.5,257.9 472.7,257.4 474.0,259.5 473.9,261.3 470.2,262.2 470.3,263.8 468.2,264.5 469.4,265.9 469.0,268.6 467.7,269.8 469.7,271.5 468.9,273.3 468.2,274.9 469.3,276.4 472.3,278.8 469.4,279.5 466.1,277.4 464.0,275.9 461.6,271.7 461.3,268.6 461.0,265.4 459.4,260.0 459.8,254.7 459.2,250.4 459.4,246.1 459.0,240.2 456.7,238.3 452.9,235.3 450.4,230.5 449.0,227.6 447.6,225.6 448.7,223.5 447.9,221.3 448.7,219.4 449.8,218.3 451.1,215.9 451.4,213.3 451.3,211.0ZM516.9,180.5 516.7,178.3 517.3,175.1 517.0,173.9 518.0,173.3 521.5,173.6 523.6,173.6 523.9,171.1 523.0,169.6 521.0,168.8 523.6,168.0 526.1,166.7 527.0,165.6 528.2,165.1 528.9,163.6 531.3,163.0 531.7,161.0 531.3,159.7 533.1,158.8 533.2,160.5 532.7,161.7 533.7,162.5 536.1,162.5 539.2,161.7 541.6,161.5 541.3,159.5 543.6,159.3 542.9,157.2 546.3,157.0 547.7,156.5 542.4,156.5 541.1,155.5 540.8,153.6 543.0,151.7 540.7,150.9 538.9,153.1 538.1,155.5 539.0,157.0 537.9,160.0 535.2,161.0 534.7,160.0 533.4,157.7 532.6,157.5 531.1,158.5 529.1,157.5 528.7,155.1 530.8,153.3 533.5,151.2 535.4,148.9 537.3,147.3 540.6,146.6 543.8,146.2 546.1,147.1 547.7,147.7 553.8,149.4 553.9,150.8 549.9,151.7 552.7,152.6 556.4,150.8 555.6,148.4 561.9,148.6 563.2,148.4 566.5,148.0 570.3,147.4 570.4,144.4 574.0,145.7 575.7,148.9 574.7,144.9 577.3,144.0 581.1,143.1 584.9,141.9 588.8,140.4 598.9,144.0 604.0,144.4 609.2,144.9 609.5,144.6 617.8,144.9 625.8,145.7 634.5,147.1 641.6,147.3 647.8,147.7 649.8,148.1 655.2,151.7 654.5,152.2 656.4,154.1 655.3,155.5 654.3,156.5 650.7,156.7 651.8,159.0 652.7,160.5 653.7,164.6 653.4,165.6 650.6,163.1 646.5,159.5 647.4,158.5 646.4,155.1 644.9,155.1 643.4,157.0 639.6,157.0 634.5,157.2 636.8,162.0 634.8,162.5 642.3,168.2 641.2,173.5 638.4,174.5 637.9,176.7 640.8,181.5 639.2,183.0 638.6,183.1 636.9,179.9 634.4,177.5 632.1,178.3 630.7,176.4 629.1,178.3 629.0,178.8 630.9,180.5 633.9,180.2 632.7,182.6 635.8,186.4 636.5,188.0 635.8,191.7 633.7,195.0 630.7,196.3 628.2,197.7 627.8,198.4 626.2,197.0 624.6,198.7 624.2,200.3 626.1,202.5 628.2,206.3 628.2,207.9 626.0,210.0 624.4,211.0 624.5,209.5 622.6,209.0 619.9,205.9 619.3,209.5 620.4,212.7 623.5,218.7 621.1,217.6 618.5,211.6 618.3,209.5 616.7,202.5 613.9,203.0 613.1,200.3 610.9,197.7 608.9,196.6 606.1,197.1 605.9,198.7 602.1,202.5 600.8,206.3 600.7,209.2 598.5,211.5 597.0,209.5 594.7,204.1 593.4,199.8 592.7,197.1 590.1,196.0 588.6,195.0 586.5,192.8 581.9,193.1 577.6,192.0 576.9,191.2 572.8,190.3 569.5,187.8 568.9,188.5 571.1,191.7 572.6,192.8 576.0,193.9 576.9,192.0 577.4,193.9 580.6,196.0 579.1,199.8 576.6,202.0 573.9,203.6 570.7,205.2 567.5,206.5 566.1,206.6 565.3,204.1 561.3,197.1 559.2,193.4 557.1,190.1 557.0,188.5 556.4,190.1 554.7,188.1 554.3,186.7 556.3,186.4 557.1,182.6 557.0,180.9 553.5,181.3 549.9,180.8 548.1,178.3 548.1,176.7 550.2,176.0 555.3,175.1 561.1,175.6 560.9,174.0 557.4,171.9 553.6,172.5 550.4,170.9 549.5,173.5 549.3,175.6 547.6,176.4 545.1,176.9 544.9,180.5 543.5,178.8 541.9,175.3 538.7,173.5 536.6,171.3 535.4,172.5 536.9,174.6 538.8,175.6 541.1,177.1 539.5,178.3 538.8,179.4 539.0,177.2 537.1,176.2 535.3,175.1 533.9,173.5 532.2,172.6 530.5,173.9 527.9,173.7 527.7,175.1 524.9,178.3 524.3,179.8 523.1,180.8 519.9,181.5 519.1,180.7 516.9,180.5ZM400.0,148.1 401.6,149.4 403.4,150.6 401.5,151.4 398.7,152.4 396.0,151.7 394.6,151.7ZM519.6,181.7 523.1,182.5 527.6,180.7 533.8,180.2 534.8,182.6 534.1,183.9 538.5,185.5 542.7,187.7 543.1,185.8 545.8,185.3 547.7,186.4 551.4,187.0 554.1,186.7 554.7,188.1 555.8,190.7 557.9,194.6 559.9,200.0 561.6,203.0 564.1,205.7 565.9,207.4 567.1,209.1 573.4,207.6 573.3,209.0 572.0,213.3 569.2,217.6 564.9,221.3 563.0,224.0 562.0,227.2 563.3,232.1 563.1,236.4 557.7,241.8 557.8,244.5 555.3,248.0 554.8,250.9 552.7,253.6 549.3,256.6 544.7,256.8 541.6,257.1 541.3,254.7 538.7,249.3 538.4,244.5 536.0,238.5 537.7,233.2 536.5,226.7 533.5,220.8 534.2,216.5 533.0,215.4 530.6,215.6 527.8,213.4 523.0,215.1 517.8,215.5 514.4,212.9 512.1,210.0 509.0,206.8 508.6,204.4 509.9,200.9 509.5,197.7 511.5,192.3 515.7,188.7 516.1,186.4 518.8,183.7 519.6,181.7ZM571.6,233.2 572.5,236.9 571.4,239.6 568.5,247.1 566.6,247.7 565.5,243.9 566.6,238.0 568.7,236.9 571.6,233.2ZM520.2,166.7 522.4,165.2 520.7,164.8 521.1,163.8 522.5,163.2 522.5,162.0 520.5,161.1 520.2,159.5 521.0,157.9 522.2,157.9 523.3,159.5 523.7,161.0 524.9,163.1 526.3,163.9 526.1,165.6 520.2,166.7ZM520.0,164.4 518.4,165.0 516.5,164.6 516.9,162.3 518.9,161.2 520.3,161.5 520.1,162.5 520.0,164.4ZM531.6,140.0 534.4,138.8 540.8,138.5 541.8,139.7 536.2,141.4 531.6,140.0ZM559.5,145.7 561.5,142.7 567.7,141.2 564.7,142.7 562.4,146.2 559.5,145.7ZM582.7,139.5 583.1,138.1 587.2,138.4 588.0,139.9 582.7,139.5ZM613.4,143.6 614.7,141.9 620.7,142.5 617.9,144.4 613.4,143.6ZM645.4,146.0 645.9,145.7 646.8,146.3ZM630.8,243.9 634.3,242.5 638.3,241.2 640.1,238.5 643.9,235.3 646.6,236.4 647.9,233.7 650.4,232.4 654.6,233.2 653.1,236.9 656.0,239.1 658.0,238.5 658.7,234.2 660.0,231.9 662.2,236.4 661.9,240.2 665.2,244.5 666.8,247.1 666.2,250.4 664.4,253.6 658.2,260.6 654.2,262.2 651.7,262.0 649.1,261.1 648.6,258.5 649.2,256.3 646.3,255.5 644.2,254.1 639.3,254.9 636.3,256.8 630.7,257.9 628.6,256.8 630.4,248.2 630.8,243.9ZM651.5,264.0 654.6,264.2 652.7,266.7 650.6,267.1 651.5,264.0ZM680.4,257.3 681.0,259.0 683.4,260.8 680.8,262.7 677.4,264.9 678.6,262.7 678.2,262.4 680.4,257.3ZM676.2,263.8 676.6,265.1 674.0,267.0 671.4,268.0 667.8,270.3 666.3,269.6 669.2,267.5 674.4,264.9 676.2,263.8ZM643.0,183.7 642.8,183.1 646.3,182.0 646.5,180.5 648.6,179.4 647.6,176.7 648.2,175.7 649.8,177.8 650.5,180.5 650.7,182.6 646.9,184.2 643.0,183.7ZM646.9,175.6 645.9,174.0 645.6,171.4 649.3,172.8 650.4,173.7 647.5,174.6 646.9,175.6ZM642.1,184.4 643.7,184.2 644.2,186.5 643.6,186.8 642.1,184.4ZM645.5,170.9 641.5,165.6 639.0,162.2 644.0,167.2 645.5,170.9ZM636.6,195.5 637.5,193.1 637.8,196.6 637.5,196.6 636.6,195.5ZM626.7,199.6 628.3,198.6 628.9,199.3 627.7,200.7 626.7,199.6ZM637.5,200.3 639.7,200.3 639.8,202.8 642.2,206.3 639.3,205.6 638.7,204.7 637.5,200.3ZM640.9,212.7 644.5,210.0 645.2,212.7 644.3,214.0 640.9,212.8ZM615.6,214.2 617.7,214.7 620.6,218.1 624.0,221.3 625.8,223.7 625.7,226.5 624.3,226.6 621.1,222.9 618.7,218.6 615.6,214.2ZM624.9,227.6 625.7,226.7 630.5,227.2 633.7,228.5 633.6,229.6 630.3,229.1 625.2,227.8 624.9,227.6ZM628.7,218.6 630.6,218.4 633.4,215.4 635.2,212.8 638.4,214.5 637.3,219.2 635.9,222.4 635.3,224.6 633.9,224.0 630.6,223.5 629.7,222.2 628.8,220.8 628.7,218.6ZM638.6,226.2 639.7,223.3 640.0,219.0 644.0,218.5 640.2,219.7 642.6,221.3 640.6,222.4 641.5,225.4 640.1,224.0 639.6,226.2 638.6,226.2ZM649.7,221.3 652.6,221.2 656.4,222.0 659.2,223.0 663.6,225.4 665.2,226.9 667.8,231.5 664.4,230.8 661.1,229.9 659.2,230.1 656.0,229.1 655.8,225.6 653.4,224.9 651.1,224.6 650.6,223.3 649.7,221.3ZM600.8,212.7 601.0,209.7 602.6,212.2 602.0,213.8 600.8,212.7ZM433.6,307.0 420.1,302.4 427.5,303.1 430.9,302.1 432.3,299.8 435.7,298.2 440.9,297.4 446.6,296.8 453.3,296.9 459.4,296.5 465.4,295.9 472.1,296.1 475.1,295.6 477.5,294.3 478.2,292.1 478.6,290.2 480.4,288.0 482.5,287.1 483.0,287.5 481.7,288.6 480.9,290.5 481.2,292.5 483.5,295.2 485.2,296.9 486.7,298.2 494.2,300.1 500.4,300.2 503.1,299.4 509.0,298.2 515.0,296.1 518.1,294.3 524.9,293.4 531.7,293.4 538.6,293.4 545.6,293.0 552.8,292.1 560.5,290.2 567.4,290.7 574.0,291.6 573.1,293.0 581.3,291.1 589.0,290.2 596.5,289.7 603.7,289.7 610.4,290.2 617.8,289.9 624.3,290.5 629.4,292.1 634.5,293.4 639.2,294.8 633.6,296.9 627.6,299.4 626.4,301.4 629.7,302.4 616.2,307.0ZM439.3,147.1 445.3,142.7 451.5,141.5 457.7,141.1 463.7,140.3 469.1,138.4 476.6,137.0 489.7,137.0 482.8,139.5 476.4,141.1 473.2,143.1 468.6,144.0 465.1,145.7 460.8,147.5 454.8,148.9 446.4,148.9 439.3,147.1ZM532.9,162.5 534.8,161.0 537.9,160.0 539.0,157.0 538.1,155.5 540.3,150.9 543.2,150.9 547.7,156.5 542.9,157.2 541.3,159.5 541.6,161.5 536.1,162.0 532.9,162.5ZM565.0,171.9 566.4,170.3 569.6,169.8 570.6,171.9 568.6,172.5 568.7,174.6 570.7,175.6 571.6,177.8 572.9,179.9 568.5,179.9 568.4,177.2 566.2,175.1 565.0,171.9ZM550.6,150.3 553.8,149.4 556.4,150.8 552.7,152.6 549.9,151.7Z" fill="#2880F0"/>
<g clip-path="url(#land1)">
<path d="M441.1,142.7 452.6,139.5 466.8,138.9 477.1,138.2 483.5,140.1 483.5,149.1 478.3,151.7 474.6,150.4 466.8,147.9 461.6,151.7 455.2,151.7 450.1,153.0 447.6,149.8 442.4,147.2Z" fill="#78C8F0"/>
<path d="M461.8,134.0 489.8,134.0 489.8,141.0 475.8,145.0 461.8,143.0Z" fill="#78C8F0"/>
<path d="M466.8,153.6 474.6,151.7 479.7,154.3 480.3,164.6 474.6,163.9 470.6,160.7 466.8,158.1Z" fill="#78C8F0"/>
<path d="M448.8,150.4 453.9,151.7 456.6,155.6 453.3,158.1 450.1,157.5Z" fill="#78C8F0"/>
<path d="M396.7,149.1 402.6,148.5 403.8,151.0 399.9,152.4 397.4,151.7Z" fill="#78C8F0"/>
<path d="M422.7,174.9 432.9,173.7 434.1,180.6 431.8,186.3 427.2,184.0 422.7,187.4 419.2,186.3 419.2,180.6 423.8,179.4Z" fill="url(#tL)"/>
<path d="M563.0,171.4 570.2,164.1 592.2,162.9 614.0,164.1 626.2,167.8 623.7,173.9 611.5,177.5 604.2,183.6 611.5,188.4 601.8,193.3 587.2,193.3 577.5,188.4 572.8,181.1Z" fill="url(#tLL)"/>
<path d="M559.8,142.0 571.8,140.0 585.8,141.0 585.8,145.0 573.8,147.0 561.8,147.0Z" fill="#78C8F0"/>
<path d="M645.8,149.0 652.8,150.0 655.8,158.0 651.8,164.0 646.8,160.0Z" fill="#78C8F0"/>
<path d="M611.8,141.0 624.8,142.0 634.8,145.0 625.8,147.0 613.8,145.0Z" fill="#78C8F0"/>
<path d="M508.8,203.0 527.8,204.1 555.2,205.3 565.5,207.6 566.5,209.3 552.8,209.3 527.8,208.7 511.7,207.0Z" fill="#78C8F0"/>
<path d="M536.2,237.7 544.2,236.6 555.5,237.7 557.8,243.4 553.2,248.0 547.5,250.3 541.8,249.1 538.5,245.7Z" fill="#78C8F0"/>
<path d="M630.8,240.0 639.8,236.0 649.8,236.0 659.8,240.0 662.8,246.0 657.8,252.0 649.8,254.0 639.8,253.0 632.8,250.0Z" fill="url(#tL)"/>
<path d="M458.8,240.0 462.8,241.0 464.8,247.0 463.8,255.0 461.8,258.0 459.8,250.0Z" fill="#78C8F0"/>
<path d="M571.8,180.0 581.8,179.0 589.8,186.0 585.8,192.0 577.8,190.0 573.8,186.0Z" fill="url(#tLL)"/>
<path d="M424.4,154.3 433.4,154.9 439.8,157.5 448.8,160.7 456.6,165.2 466.8,166.5 477.1,167.1 479.7,169.7 479.7,172.3 466.8,170.3 455.2,169.7 446.2,165.8 438.6,162.6 430.8,162.6 424.4,162.0 422.4,159.4Z" fill="#4010F0"/>
<path d="M418.6,158.1 421.8,158.1 421.1,169.7 418.8,170.0 417.3,182.0 415.3,180.0 416.3,167.0 418.6,169.7Z" fill="#4010F0"/>
<path d="M410.8,151.0 416.7,150.4 417.3,153.0 411.6,153.6Z" fill="#4010F0"/>
<path d="M417.8,160.0 433.8,160.0 433.8,165.0 427.8,168.5 419.8,169.5 416.8,166.0Z" fill="url(#tP)"/>
<path d="M410.8,151.0 416.7,150.4 417.3,153.0 411.6,153.6Z" fill="#4010F0"/>
<path d="M438.7,182.9 445.6,183.4 447.8,186.3 443.2,187.4 439.8,186.3Z" fill="#4010F0"/>
<path d="M529.8,153.0 537.8,146.0 544.8,146.5 551.8,149.0 556.8,151.0 565.8,152.0 574.8,153.0 581.8,154.0 581.8,161.0 569.8,160.0 559.8,159.5 551.8,161.0 546.8,163.0 539.8,164.0 534.8,167.0 528.8,168.0 527.8,165.0 532.8,161.0 529.8,158.0Z" fill="#4010F0"/>
<path d="M528.8,153.0 532.8,149.0 535.8,147.0 533.8,153.0 530.8,160.0 528.8,158.0Z" fill="#2880F0"/>
<path d="M580.0,153.2 597.0,154.4 611.5,158.1 611.5,162.9 597.0,161.7 580.0,161.2Z" fill="url(#tP)"/>
<path d="M515.8,158.0 521.8,156.0 526.8,160.0 525.8,167.0 517.8,167.0Z" fill="#4010F0"/>
<path d="M580.8,156.4 591.0,154.7 601.3,155.6 609.8,157.3 608.2,160.7 597.8,160.7 587.5,159.9 580.8,159.0Z" fill="url(#tBP)"/>
<path d="M618.5,185.0 627.0,183.6 634.2,187.1 635.5,192.9 629.8,195.7 622.8,194.3 618.5,190.0Z" fill="#4010F0"/>
<path d="M641.8,176.0 649.8,176.0 649.8,187.0 641.8,187.0Z" fill="#4010F0"/>
<path d="M565.5,170.0 571.2,170.0 571.2,180.0 565.5,180.0Z" fill="#4010F0"/>
<path d="M459.8,268.0 463.8,269.0 469.8,275.0 472.8,279.5 468.8,280.0 462.8,275.0Z" fill="#4010F0"/>
<path d="M450.8,234.0 454.8,236.0 459.8,240.0 461.8,242.0 459.8,243.0 455.8,240.0 451.8,237.0Z" fill="#78C8F0"/>
<path d="M485.8,226.0 490.8,226.0 489.8,233.0 486.8,234.0Z" fill="#78C8F0"/>
<path d="M665.8,262.0 689.8,262.0 689.8,272.0 665.8,272.0Z" fill="#4010F0"/>
<path d="M480.2,140.3 482.1,141.7 488.0,142.2 488.0,144.4 488.0,146.2 488.9,147.8 486.8,150.3 487.4,153.1 488.7,155.5 491.0,156.5 493.2,155.5 495.3,152.6 497.9,151.1 501.8,148.7 506.8,148.4 509.9,146.6 509.9,145.3 512.0,143.1 513.0,141.5 514.4,139.5 518.0,137.7 513.5,137.2 508.1,136.4 501.4,136.5 493.6,137.2 490.5,137.4 487.6,138.1 484.8,138.6 482.2,139.5 480.2,140.3Z" fill="#FFE337"/>
<path d="M483.8,146.0 487.3,146.0 488.3,156.0 485.8,157.0Z" fill="#78C8F0"/>
<path d="M484.3,140.0 496.2,138.3 508.3,138.3 509.8,141.0 506.8,146.5 501.8,149.0 495.8,152.5 491.8,155.5 489.3,155.5 488.3,149.0 486.3,144.0Z" fill="#FF6000"/>
<path d="M507.3,139.0 512.8,139.0 510.8,145.0 506.3,146.0Z" fill="#78C8F0"/>
<path d="M507.6,151.2 509.2,150.4 512.0,150.6 514.2,150.3 515.2,151.4 514.0,152.4 511.6,153.2 508.4,152.8 508.9,152.2 507.6,151.2Z" fill="url(#tP)"/>
<path d="M495.5,143.0 498.4,141.6 503.4,142.3 504.2,145.1 499.8,148.7 494.8,150.1 491.9,151.6 492.7,148.0Z" fill="#D7292A"/>
<path d="M509.4,193.3 511.7,188.7 519.8,185.3 533.5,183.6 542.5,185.3 552.8,185.9 557.5,184.1 564.2,181.9 573.5,186.4 579.2,194.4 578.0,199.0 570.0,204.7 565.5,207.0 559.8,203.0 555.2,204.7 546.0,205.9 533.5,205.3 518.5,204.1 510.5,203.6 508.8,199.0Z" fill="#FFE337"/>
<path d="M510.5,194.4 515.2,187.6 527.8,184.7 539.2,185.3 554.0,187.6 555.2,197.9 554.0,203.6 544.8,204.7 533.5,204.1 517.5,202.4 510.5,201.3Z" fill="url(#tO)"/>
<path d="M558.3,186.0 564.8,182.5 573.5,186.8 578.8,194.5 577.3,199.0 569.8,204.0 565.8,205.5 561.8,199.0 558.8,192.0Z" fill="url(#tO)"/>
<path d="M589.8,175.7 601.2,176.5 601.8,185.7 590.8,185.0Z" fill="url(#tLY)"/>
<path d="M510.3,195.0 513.8,189.5 521.8,187.0 530.0,185.8 538.0,185.6 546.0,186.6 553.8,187.0 555.2,195.6 554.0,202.4 543.8,203.4 534.5,203.0 524.8,202.6 515.2,202.2 510.5,200.5Z" fill="url(#tS)"/>
<path d="M560.8,189.0 566.8,186.0 572.8,189.0 577.3,196.0 573.5,201.3 568.8,203.6 565.5,200.1 561.8,194.0Z" fill="url(#tS)"/>
<path d="M565.8,208.0 573.8,207.0 571.8,214.0 567.8,212.0Z" fill="#FFE337"/>
<path d="M645.8,244.0 649.8,243.0 650.8,248.0 646.8,249.0Z" fill="#FFE337"/>
<path d="M534.8,240.0 537.8,240.0 539.8,250.0 536.8,250.0Z" fill="#FFE337"/>
<path d="M433.6,307.0 420.1,302.4 427.5,303.1 430.9,302.1 432.3,299.8 435.7,298.2 440.9,297.4 446.6,296.8 453.3,296.9 459.4,296.5 465.4,295.9 472.1,296.1 475.1,295.6 477.5,294.3 478.2,292.1 478.6,290.2 480.4,288.0 482.5,287.1 483.0,287.5 481.7,288.6 480.9,290.5 481.2,292.5 483.5,295.2 485.2,296.9 486.7,298.2 494.2,300.1 500.4,300.2 503.1,299.4 509.0,298.2 515.0,296.1 518.1,294.3 524.9,293.4 531.7,293.4 538.6,293.4 545.6,293.0 552.8,292.1 560.5,290.2 567.4,290.7 574.0,291.6 573.1,293.0 581.3,291.1 589.0,290.2 596.5,289.7 603.7,289.7 610.4,290.2 617.8,289.9 624.3,290.5 629.4,292.1 634.5,293.4 639.2,294.8 633.6,296.9 627.6,299.4 626.4,301.4 629.7,302.4 616.2,307.0Z" fill="#FFE337"/>
<path d="M433.6,307.0 425.2,304.4 432.2,304.9 435.5,304.1 436.8,302.1 439.9,300.6 444.7,299.8 450.0,299.3 456.5,299.4 462.2,299.0 467.8,298.4 474.3,298.6 477.1,298.2 479.4,296.9 479.9,294.8 480.1,293.0 481.8,290.9 483.8,289.9 484.3,290.3 483.1,291.4 482.3,293.2 482.8,295.2 485.1,297.8 487.0,299.4 488.5,300.6 495.7,302.3 501.6,302.4 503.6,300.5 509.3,299.3 515.2,297.2 518.2,295.5 524.9,294.6 531.6,294.6 538.4,294.6 545.2,294.1 552.4,293.2 560.0,291.4 566.8,291.9 573.2,292.8 572.4,294.1 580.5,292.3 588.1,291.4 595.5,291.0 602.6,291.0 609.2,291.4 616.5,291.1 622.9,291.7 627.9,293.2 632.8,294.6 637.3,295.9 631.6,298.0 625.4,300.5 624.2,302.3 627.5,303.3 616.2,307.0Z" fill="#FF6000"/>
<path d="M504.2,301.7 503.7,300.7 509.4,299.5 515.2,297.4 518.3,295.7 524.9,294.8 531.6,294.8 538.3,294.8 545.2,294.4 552.3,293.5 559.9,291.7 566.7,292.2 573.1,293.1 572.2,294.4 580.3,292.6 587.9,291.7 595.3,291.2 602.3,291.2 608.9,291.7 616.2,291.4 622.6,292.0 627.5,293.5 632.3,294.8 636.9,296.2 631.1,298.3 624.9,300.7 623.8,302.5 627.0,303.5 616.2,307.0 507.1,307.0Z" fill="#D7292A"/>
<path d="M429.8,304.0 469.8,303.0 509.8,302.0 509.8,310.0 429.8,310.0Z" fill="#D7292A"/>
<path d="M611.8,305.0 621.8,301.0 639.8,294.5 641.8,296.0 627.8,306.0 611.8,307.0Z" fill="url(#tO)"/>
</g>
<path d="M404.0,151.1 408.9,148.6 412.6,147.5 419.4,145.9 421.8,146.4 425.7,147.0 428.0,147.3 430.7,148.0 434.1,147.4 437.4,146.9 438.8,147.5 441.9,147.8 444.5,148.7 447.8,148.9 451.8,148.3 456.1,149.1 458.0,148.4 461.6,145.5 461.2,147.1 462.5,148.0 463.4,148.6 466.3,147.5 468.5,147.3 467.1,149.8 464.0,150.8 461.6,152.2 456.8,153.8 452.6,157.0 453.3,157.8 454.6,159.3 456.2,160.5 459.5,161.4 458.5,163.7 459.9,165.1 461.9,162.0 464.7,159.5 465.9,156.5 466.9,154.2 469.8,154.4 471.5,155.3 471.5,157.5 473.2,158.0 475.6,156.2 476.1,158.5 477.0,160.0 478.6,162.0 479.4,164.1 477.8,165.2 475.3,166.5 470.4,166.5 466.7,168.4 470.8,167.5 471.2,168.1 470.1,169.6 470.7,170.5 473.0,171.3 474.0,170.7 472.4,171.9 468.1,173.4 464.6,173.4 463.8,175.3 462.1,176.0 460.1,176.7 458.1,178.8 457.1,180.7 457.0,182.4 454.5,183.9 451.2,186.4 450.8,190.1 450.6,192.8 449.6,193.1 448.8,190.1 448.0,188.0 446.3,187.5 443.5,187.7 442.9,189.1 440.6,188.4 438.3,188.5 435.3,190.6 434.3,193.9 433.8,196.8 434.6,199.6 436.2,200.7 439.0,200.3 440.3,197.8 443.4,197.1 442.7,200.3 441.7,203.0 443.9,203.1 446.3,204.1 445.6,208.4 446.8,210.2 449.5,209.9 451.4,211.0 450.3,211.9 448.7,212.4 447.3,211.5 445.2,210.0 443.5,208.8 442.1,206.3 438.9,205.2 436.3,202.9 433.9,203.4 429.9,201.6 426.2,198.5 426.6,196.8 425.8,195.1 423.8,192.5 421.9,188.7 420.5,186.0 421.2,188.5 421.7,190.7 422.4,194.2 422.9,195.5 421.0,193.7 419.8,191.0 419.0,188.0 418.7,185.2 418.0,183.7 416.3,183.1 416.0,179.9 416.1,177.5 416.0,176.7 417.3,174.0 419.9,170.3 420.6,168.3 422.2,167.8 421.2,166.7 419.6,165.8 420.6,164.6 420.8,162.0 420.9,159.5 419.7,158.2 418.4,156.8 415.7,156.5 414.8,155.5 410.2,157.0 410.7,155.5 408.7,157.3 405.5,158.5 400.8,160.0 396.0,161.5 393.3,162.0 398.1,160.3 403.3,158.0 401.6,157.8 400.2,157.7 400.3,156.0 401.3,154.6 403.6,153.4 407.7,152.2 406.0,152.1 404.0,152.0 404.0,151.1ZM480.2,140.3 482.1,141.7 488.0,142.2 488.0,144.4 488.0,146.2 488.9,147.8 486.8,150.3 487.4,153.1 488.7,155.5 491.0,156.5 493.2,155.5 495.3,152.6 497.9,151.1 501.8,148.7 506.8,148.4 509.9,146.6 509.9,145.3 512.0,143.1 513.0,141.5 514.4,139.5 518.0,137.7 513.5,137.2 508.1,136.4 501.4,136.5 493.6,137.2 490.5,137.4 487.6,138.1 484.8,138.6 482.2,139.5 480.2,140.3ZM507.6,151.2 509.2,150.4 512.0,150.6 514.2,150.3 515.2,151.4 514.0,152.4 511.6,153.2 508.4,152.8 508.9,152.2 507.6,151.2ZM472.6,143.8 475.0,145.0 477.0,146.5 478.7,147.5 480.3,149.8 480.5,150.8 477.6,152.2 477.2,153.6 475.6,154.6 473.1,153.8 471.5,152.6 469.5,152.3 468.1,152.2 472.3,150.0 473.8,148.7 471.1,148.6 471.2,147.5 469.0,147.2 466.1,146.9 465.0,146.2 465.9,144.4 468.6,143.9 472.6,143.8ZM447.3,144.3 454.0,144.2 458.3,144.4 456.5,146.6 454.2,148.0 451.4,148.1 446.1,148.4 443.7,147.8 446.6,146.6 445.6,145.7 447.3,144.3ZM440.8,145.5 444.9,143.3 449.4,143.3 449.2,144.0 444.0,145.9 440.8,145.5ZM475.4,141.5 481.6,139.5 486.7,138.4 490.1,137.2 485.5,136.7 479.9,136.7 472.2,137.4 468.5,138.4 467.7,139.5 469.4,140.7 471.4,141.7 475.4,141.5ZM473.3,143.1 466.7,143.1 465.8,142.2 471.1,141.4 474.5,141.7 473.3,143.1ZM458.0,142.3 449.5,142.7 452.7,141.1 456.1,141.3 458.0,142.3ZM464.2,143.1 459.3,142.9 460.4,141.9 465.2,141.1 464.2,143.1ZM464.4,145.3 461.8,144.9 463.1,143.6 465.7,143.6 464.4,145.3ZM460.0,145.7 457.2,145.5 458.7,144.0 461.8,143.6 460.0,145.7ZM465.7,153.1 462.0,152.6 462.2,151.2 464.7,150.8 465.7,153.1ZM475.1,169.2 476.8,167.2 479.1,165.0 478.9,167.1 480.2,168.2 480.6,169.3 479.6,170.2 477.8,169.3 475.1,169.2ZM379.1,197.9 379.8,198.7 379.1,199.8 378.7,199.3ZM377.1,197.0 377.7,197.3 377.2,197.4ZM390.4,163.1 391.7,162.5 393.2,162.2 391.0,163.3ZM387.1,163.9 388.8,163.4 387.7,164.1ZM382.7,164.6 384.2,164.3 383.4,164.7ZM379.6,164.8 381.0,164.6 380.2,165.0ZM404.4,159.2 406.7,158.5 405.7,159.2 404.2,159.7ZM634.1,229.1 635.1,229.2 634.6,229.7 633.7,229.5ZM635.2,229.2 635.8,229.2 635.5,229.8ZM636.0,229.3 637.9,229.1 637.9,229.7 636.0,229.9ZM638.7,229.4 641.7,229.1 641.7,229.5 638.8,229.8ZM637.8,230.5 639.5,230.9 638.3,230.9ZM642.0,231.2 643.6,229.9 645.7,229.3 643.5,230.7ZM646.8,223.5 649.5,223.5 649.2,224.3 647.0,224.0ZM646.4,218.3 647.4,219.7 646.9,221.1 646.4,219.7ZM642.4,206.8 644.0,207.3 643.9,208.4 642.9,208.1ZM640.4,207.6 641.4,207.9 641.1,209.0 640.5,208.6ZM641.3,208.5 642.0,209.0 641.7,210.5 641.1,209.6ZM642.7,207.9 643.4,208.2 643.7,209.4 643.0,209.3ZM638.6,205.7 639.8,206.2 639.6,207.1 638.9,206.8ZM636.2,211.2 638.1,208.0 638.4,209.0 636.5,211.4ZM673.7,227.5 676.0,228.9 677.3,230.1 674.1,228.3ZM666.2,226.2 668.1,226.0 669.6,224.8 669.0,226.3 666.6,226.9ZM691.6,239.1 692.7,238.9 692.3,239.8 691.5,239.6ZM678.4,242.0 680.6,244.2 680.1,244.5 678.4,242.6ZM682.0,236.4 682.6,236.9 682.2,237.5ZM473.6,139.1 472.2,137.8 468.5,138.4 467.8,139.9 470.7,140.0ZM464.4,140.7 461.8,139.9 459.8,140.4 462.1,141.1ZM464.8,139.9 467.4,139.3 467.7,140.0ZM452.8,141.5 447.8,141.7 451.2,140.4 453.1,140.8ZM465.1,142.9 463.2,142.8 464.7,142.1 466.1,142.2ZM474.6,144.6 471.6,144.3 472.7,143.7 474.5,143.9ZM458.7,148.4 456.1,148.2 457.3,147.3 459.0,147.3ZM464.8,153.9 462.7,154.4 462.7,153.8 464.5,153.3ZM552.7,138.8 556.9,138.1 561.9,138.4 557.6,138.9ZM537.1,140.1 539.8,140.8 538.6,141.1 536.0,140.7ZM445.6,196.7 449.5,195.3 452.6,196.9 455.5,198.5 452.3,198.8 450.2,196.9 448.0,196.5 445.6,196.7ZM455.0,200.5 456.7,198.8 459.8,199.1 460.8,200.3 457.7,201.3 455.0,200.5ZM451.4,200.6 453.3,200.8 452.6,201.1 451.4,200.6ZM461.8,200.3 463.3,200.5 463.1,200.9 461.8,200.9ZM451.3,211.0 453.3,208.7 455.7,207.9 456.7,207.0 457.1,208.4 460.4,208.8 464.2,208.7 466.1,208.7 467.4,211.1 470.2,213.8 473.5,214.0 475.9,215.4 477.3,218.3 477.7,220.2 480.1,221.1 482.5,222.8 486.8,223.3 489.7,225.2 491.3,226.0 491.7,229.9 489.4,233.2 488.0,234.8 488.1,239.1 487.0,242.3 486.2,244.5 483.5,245.2 480.5,248.0 480.0,250.9 478.8,253.6 477.1,256.6 475.5,257.9 472.7,257.4 474.0,259.5 473.9,261.3 470.2,262.2 470.3,263.8 468.2,264.5 469.4,265.9 469.0,268.6 467.7,269.8 469.7,271.5 468.9,273.3 468.2,274.9 469.3,276.4 472.3,278.8 469.4,279.5 466.1,277.4 464.0,275.9 461.6,271.7 461.3,268.6 461.0,265.4 459.4,260.0 459.8,254.7 459.2,250.4 459.4,246.1 459.0,240.2 456.7,238.3 452.9,235.3 450.4,230.5 449.0,227.6 447.6,225.6 448.7,223.5 447.9,221.3 448.7,219.4 449.8,218.3 451.1,215.9 451.4,213.3 451.3,211.0ZM516.9,180.5 516.7,178.3 517.3,175.1 517.0,173.9 518.0,173.3 521.5,173.6 523.6,173.6 523.9,171.1 523.0,169.6 521.0,168.8 523.6,168.0 526.1,166.7 527.0,165.6 528.2,165.1 528.9,163.6 531.3,163.0 531.7,161.0 531.3,159.7 533.1,158.8 533.2,160.5 532.7,161.7 533.7,162.5 536.1,162.5 539.2,161.7 541.6,161.5 541.3,159.5 543.6,159.3 542.9,157.2 546.3,157.0 547.7,156.5 542.4,156.5 541.1,155.5 540.8,153.6 543.0,151.7 540.7,150.9 538.9,153.1 538.1,155.5 539.0,157.0 537.9,160.0 535.2,161.0 534.7,160.0 533.4,157.7 532.6,157.5 531.1,158.5 529.1,157.5 528.7,155.1 530.8,153.3 533.5,151.2 535.4,148.9 537.3,147.3 540.6,146.6 543.8,146.2 546.1,147.1 547.7,147.7 553.8,149.4 553.9,150.8 549.9,151.7 552.7,152.6 556.4,150.8 555.6,148.4 561.9,148.6 563.2,148.4 566.5,148.0 570.3,147.4 570.4,144.4 574.0,145.7 575.7,148.9 574.7,144.9 577.3,144.0 581.1,143.1 584.9,141.9 588.8,140.4 598.9,144.0 604.0,144.4 609.2,144.9 609.5,144.6 617.8,144.9 625.8,145.7 634.5,147.1 641.6,147.3 647.8,147.7 649.8,148.1 655.2,151.7 654.5,152.2 656.4,154.1 655.3,155.5 654.3,156.5 650.7,156.7 651.8,159.0 652.7,160.5 653.7,164.6 653.4,165.6 650.6,163.1 646.5,159.5 647.4,158.5 646.4,155.1 644.9,155.1 643.4,157.0 639.6,157.0 634.5,157.2 636.8,162.0 634.8,162.5 642.3,168.2 641.2,173.5 638.4,174.5 637.9,176.7 640.8,181.5 639.2,183.0 638.6,183.1 636.9,179.9 634.4,177.5 632.1,178.3 630.7,176.4 629.1,178.3 629.0,178.8 630.9,180.5 633.9,180.2 632.7,182.6 635.8,186.4 636.5,188.0 635.8,191.7 633.7,195.0 630.7,196.3 628.2,197.7 627.8,198.4 626.2,197.0 624.6,198.7 624.2,200.3 626.1,202.5 628.2,206.3 628.2,207.9 626.0,210.0 624.4,211.0 624.5,209.5 622.6,209.0 619.9,205.9 619.3,209.5 620.4,212.7 623.5,218.7 621.1,217.6 618.5,211.6 618.3,209.5 616.7,202.5 613.9,203.0 613.1,200.3 610.9,197.7 608.9,196.6 606.1,197.1 605.9,198.7 602.1,202.5 600.8,206.3 600.7,209.2 598.5,211.5 597.0,209.5 594.7,204.1 593.4,199.8 592.7,197.1 590.1,196.0 588.6,195.0 586.5,192.8 581.9,193.1 577.6,192.0 576.9,191.2 572.8,190.3 569.5,187.8 568.9,188.5 571.1,191.7 572.6,192.8 576.0,193.9 576.9,192.0 577.4,193.9 580.6,196.0 579.1,199.8 576.6,202.0 573.9,203.6 570.7,205.2 567.5,206.5 566.1,206.6 565.3,204.1 561.3,197.1 559.2,193.4 557.1,190.1 557.0,188.5 556.4,190.1 554.7,188.1 554.3,186.7 556.3,186.4 557.1,182.6 557.0,180.9 553.5,181.3 549.9,180.8 548.1,178.3 548.1,176.7 550.2,176.0 555.3,175.1 561.1,175.6 560.9,174.0 557.4,171.9 553.6,172.5 550.4,170.9 549.5,173.5 549.3,175.6 547.6,176.4 545.1,176.9 544.9,180.5 543.5,178.8 541.9,175.3 538.7,173.5 536.6,171.3 535.4,172.5 536.9,174.6 538.8,175.6 541.1,177.1 539.5,178.3 538.8,179.4 539.0,177.2 537.1,176.2 535.3,175.1 533.9,173.5 532.2,172.6 530.5,173.9 527.9,173.7 527.7,175.1 524.9,178.3 524.3,179.8 523.1,180.8 519.9,181.5 519.1,180.7 516.9,180.5ZM400.0,148.1 401.6,149.4 403.4,150.6 401.5,151.4 398.7,152.4 396.0,151.7 394.6,151.7ZM519.6,181.7 523.1,182.5 527.6,180.7 533.8,180.2 534.8,182.6 534.1,183.9 538.5,185.5 542.7,187.7 543.1,185.8 545.8,185.3 547.7,186.4 551.4,187.0 554.1,186.7 554.7,188.1 555.8,190.7 557.9,194.6 559.9,200.0 561.6,203.0 564.1,205.7 565.9,207.4 567.1,209.1 573.4,207.6 573.3,209.0 572.0,213.3 569.2,217.6 564.9,221.3 563.0,224.0 562.0,227.2 563.3,232.1 563.1,236.4 557.7,241.8 557.8,244.5 555.3,248.0 554.8,250.9 552.7,253.6 549.3,256.6 544.7,256.8 541.6,257.1 541.3,254.7 538.7,249.3 538.4,244.5 536.0,238.5 537.7,233.2 536.5,226.7 533.5,220.8 534.2,216.5 533.0,215.4 530.6,215.6 527.8,213.4 523.0,215.1 517.8,215.5 514.4,212.9 512.1,210.0 509.0,206.8 508.6,204.4 509.9,200.9 509.5,197.7 511.5,192.3 515.7,188.7 516.1,186.4 518.8,183.7 519.6,181.7ZM571.6,233.2 572.5,236.9 571.4,239.6 568.5,247.1 566.6,247.7 565.5,243.9 566.6,238.0 568.7,236.9 571.6,233.2ZM520.2,166.7 526.1,165.6 526.3,163.9 524.9,163.1 523.7,161.0 523.3,159.5 522.2,157.9 521.0,157.9 520.2,159.5 520.5,161.1 522.5,162.0 522.5,163.2 521.1,163.8 520.7,164.8 522.4,165.2 520.2,166.7ZM520.0,164.4 520.1,162.5 520.3,161.5 518.9,161.2 516.9,162.3 516.5,164.6 518.4,165.0 520.0,164.4ZM531.6,140.0 534.4,138.8 540.8,138.5 541.8,139.7 536.2,141.4 531.6,140.0ZM559.5,145.7 561.5,142.7 567.7,141.2 564.7,142.7 562.4,146.2 559.5,145.7ZM582.7,139.5 583.1,138.1 587.2,138.4 588.0,139.9 582.7,139.5ZM613.4,143.6 614.7,141.9 620.7,142.5 617.9,144.4 613.4,143.6ZM645.4,146.0 645.9,145.7 646.8,146.3ZM630.8,243.9 630.4,248.2 628.6,256.8 630.7,257.9 636.3,256.8 639.3,254.9 644.2,254.1 646.3,255.5 649.2,256.3 648.6,258.5 649.1,261.1 651.7,262.0 654.2,262.2 658.2,260.6 664.4,253.6 666.2,250.4 666.8,247.1 665.2,244.5 661.9,240.2 662.2,236.4 660.0,231.9 658.7,234.2 658.0,238.5 656.0,239.1 653.1,236.9 654.6,233.2 650.4,232.4 647.9,233.7 646.6,236.4 643.9,235.3 640.1,238.5 638.3,241.2 634.3,242.5 630.8,243.9ZM651.5,264.0 654.6,264.2 652.7,266.7 650.6,267.1 651.5,264.0ZM680.4,257.3 681.0,259.0 683.4,260.8 680.8,262.7 677.4,264.9 678.6,262.7 678.2,262.4 680.4,257.3ZM676.2,263.8 676.6,265.1 674.0,267.0 671.4,268.0 667.8,270.3 666.3,269.6 669.2,267.5 674.4,264.9 676.2,263.8ZM643.0,183.7 646.9,184.2 650.7,182.6 650.5,180.5 649.8,177.8 648.2,175.7 647.6,176.7 648.6,179.4 646.5,180.5 646.3,182.0 642.8,183.1 643.0,183.7ZM646.9,175.6 647.5,174.6 650.4,173.7 649.3,172.8 645.6,171.4 645.9,174.0 646.9,175.6ZM642.1,184.4 643.7,184.2 644.2,186.5 643.6,186.8 642.1,184.4ZM645.5,170.9 644.0,167.2 639.0,162.2 641.5,165.6 645.5,170.9ZM636.6,195.5 637.5,193.1 637.8,196.6 637.5,196.6 636.6,195.5ZM626.7,199.6 628.3,198.6 628.9,199.3 627.7,200.7 626.7,199.6ZM637.5,200.3 639.7,200.3 639.8,202.8 642.2,206.3 639.3,205.6 638.7,204.7 637.5,200.3ZM640.9,212.7 644.5,210.0 645.2,212.7 644.3,214.0 640.9,212.8ZM615.6,214.2 617.7,214.7 620.6,218.1 624.0,221.3 625.8,223.7 625.7,226.5 624.3,226.6 621.1,222.9 618.7,218.6 615.6,214.2ZM624.9,227.6 625.7,226.7 630.5,227.2 633.7,228.5 633.6,229.6 630.3,229.1 625.2,227.8 624.9,227.6ZM628.7,218.6 630.6,218.4 633.4,215.4 635.2,212.8 638.4,214.5 637.3,219.2 635.9,222.4 635.3,224.6 633.9,224.0 630.6,223.5 629.7,222.2 628.8,220.8 628.7,218.6ZM638.6,226.2 639.7,223.3 640.0,219.0 644.0,218.5 640.2,219.7 642.6,221.3 640.6,222.4 641.5,225.4 640.1,224.0 639.6,226.2 638.6,226.2ZM649.7,221.3 652.6,221.2 656.4,222.0 659.2,223.0 663.6,225.4 665.2,226.9 667.8,231.5 664.4,230.8 661.1,229.9 659.2,230.1 656.0,229.1 655.8,225.6 653.4,224.9 651.1,224.6 650.6,223.3 649.7,221.3ZM600.8,212.7 601.0,209.7 602.6,212.2 602.0,213.8 600.8,212.7ZM420.1,302.4 427.5,303.1 430.9,302.1 432.3,299.8 435.7,298.2 440.9,297.4 446.6,296.8 453.3,296.9 459.4,296.5 465.4,295.9 472.1,296.1 475.1,295.6 477.5,294.3 478.2,292.1 478.6,290.2 480.4,288.0 482.5,287.1 483.0,287.5 481.7,288.6 480.9,290.5 481.2,292.5 483.5,295.2 485.2,296.9 486.7,298.2 494.2,300.1 500.4,300.2 503.1,299.4 509.0,298.2 515.0,296.1 518.1,294.3 524.9,293.4 531.7,293.4 538.6,293.4 545.6,293.0 552.8,292.1 560.5,290.2 567.4,290.7 574.0,291.6 573.1,293.0 581.3,291.1 589.0,290.2 596.5,289.7 603.7,289.7 610.4,290.2 617.8,289.9 624.3,290.5 629.4,292.1 634.5,293.4 639.2,294.8 633.6,296.9 627.6,299.4 626.4,301.4 629.7,302.4M565.0,171.9 566.4,170.3 569.6,169.8 570.6,171.9 568.6,172.5 568.7,174.6 570.7,175.6 571.6,177.8 572.9,179.9 568.5,179.9 568.4,177.2 566.2,175.1 565.0,171.9ZM574.5,171.4 575.3,170.3 577.1,170.9 577.3,173.0 575.7,173.4 574.5,171.4ZM447.1,170.1 451.3,168.4 453.6,168.8 453.4,170.3 450.4,170.3 447.1,170.1ZM448.5,175.4 450.0,173.0 451.8,171.0 452.5,171.4 450.1,174.0 449.6,175.4 448.5,175.4ZM452.5,173.5 453.2,170.9 456.0,171.1 456.4,172.5 454.0,174.0 452.5,173.5ZM452.2,175.4 455.3,174.3 456.5,174.3 453.0,175.7 452.2,175.4ZM456.1,173.7 459.2,173.5 459.2,172.8 456.9,173.2 456.1,173.7ZM609.8,164.8 611.0,164.1 611.3,161.0 612.4,161.5 611.7,164.6 610.0,165.1ZM555.2,221.3 555.9,219.9 557.3,220.0 557.3,221.3 556.3,222.9 555.2,221.3ZM552.7,224.0 553.9,229.4 554.3,229.2 553.3,224.0 552.7,224.0ZM557.2,230.5 557.5,235.3 558.0,235.3 557.7,230.5 557.2,230.5ZM445.3,162.8 446.7,162.5 446.2,164.6 445.1,166.2 444.8,165.6 444.9,164.1ZM436.7,155.5 440.2,154.1 444.2,153.8 442.0,154.6 439.1,155.3ZM434.9,151.2 439.1,149.8 441.2,150.3 438.7,151.7 436.6,151.7ZM439.4,157.8 442.3,157.0 444.0,157.3 441.8,157.7Z" fill="none" stroke="#000" stroke-width="0.7"/>
<path d="M616.2,133.5 617.5,133.9 618.9,134.3 620.2,134.7 621.6,135.1 623.1,135.6 624.6,136.1 626.3,136.7 628.0,137.4 629.7,138.1 631.5,138.8 633.3,139.5 635.1,140.3 636.9,141.1 638.7,141.9 640.4,142.7 642.0,143.6 643.6,144.4 645.2,145.3 646.7,146.2 648.2,147.1 649.6,148.0 651.1,148.9 652.5,149.8 653.9,150.8 655.2,151.7 656.6,152.6 657.9,153.6 659.3,154.6 660.6,155.5 661.9,156.5 663.2,157.5 664.5,158.5 665.7,159.5 666.9,160.5 668.1,161.5 669.3,162.5 670.5,163.6 671.6,164.6 672.7,165.6 673.8,166.7 674.8,167.7 675.8,168.8 676.8,169.8 677.7,170.9 678.6,171.9 679.6,173.0 680.5,174.0 681.3,175.1 682.2,176.2 683.0,177.2 683.8,178.3 684.5,179.4 685.3,180.5 685.9,181.5 686.6,182.6 687.3,183.7 687.9,184.8 688.5,185.8 689.1,186.9 689.6,188.0 690.1,189.1 690.6,190.1 691.0,191.2 691.4,192.3 691.8,193.4 692.2,194.4 692.5,195.5 692.8,196.6 693.1,197.7 693.4,198.7 693.7,199.8 694.0,200.9 694.2,202.0 694.5,203.0 694.7,204.1 695.0,205.2 695.2,206.3 695.3,207.3 695.5,208.4 695.7,209.5 695.8,210.6 695.9,211.6 696.0,212.7 696.1,213.8 696.2,214.9 696.3,215.9 696.3,217.0 696.4,218.1 696.4,219.2 696.5,220.2 696.4,221.3 696.4,222.4 696.3,223.5 696.3,224.6 696.2,225.6 696.1,226.7 696.0,227.8 695.9,228.9 695.8,229.9 695.7,231.0 695.5,232.1 695.3,233.2 695.2,234.2 695.0,235.3 694.7,236.4 694.5,237.5 694.2,238.5 694.0,239.6 693.7,240.7 693.4,241.8 693.1,242.8 692.8,243.9 692.5,245.0 692.2,246.1 691.8,247.1 691.4,248.2 691.0,249.3 690.6,250.4 690.1,251.4 689.6,252.5 689.1,253.6 688.5,254.7 687.9,255.7 687.3,256.8 686.6,257.9 685.9,259.0 685.3,260.0 684.5,261.1 683.8,262.2 683.0,263.3 682.2,264.3 681.3,265.4 680.5,266.5 679.6,267.5 678.6,268.6 677.7,269.6 676.8,270.7 675.8,271.7 674.8,272.8 673.8,273.8 672.7,274.9 671.6,275.9 670.5,276.9 669.3,278.0 668.1,279.0 666.9,280.0 665.7,281.0 664.5,282.0 663.2,283.0 661.9,284.0 660.6,285.0 659.3,285.9 657.9,286.9 656.6,287.9 655.2,288.8 653.9,289.7 652.5,290.7 651.1,291.6 649.6,292.5 648.2,293.4 646.7,294.3 645.2,295.2 643.6,296.1 642.0,296.9 640.4,297.8 638.7,298.6 636.9,299.4 635.1,300.2 633.3,301.0 631.5,301.7 629.7,302.4 628.0,303.1 626.3,303.8 624.6,304.4 623.1,304.9 621.6,305.4 620.2,305.8 618.9,306.2 617.5,306.6 616.2,307.0 433.6,307.0 432.3,306.6 430.9,306.2 429.6,305.8 428.2,305.4 426.7,304.9 425.2,304.4 423.5,303.8 421.8,303.1 420.1,302.4 418.3,301.7 416.5,301.0 414.7,300.2 412.9,299.4 411.1,298.6 409.4,297.8 407.8,296.9 406.2,296.1 404.6,295.2 403.1,294.3 401.6,293.4 400.2,292.5 398.7,291.6 397.3,290.7 395.9,289.7 394.6,288.8 393.2,287.9 391.9,286.9 390.5,285.9 389.2,285.0 387.9,284.0 386.6,283.0 385.3,282.0 384.1,281.0 382.9,280.0 381.7,279.0 380.5,278.0 379.3,276.9 378.2,275.9 377.1,274.9 376.0,273.8 375.0,272.8 374.0,271.7 373.0,270.7 372.1,269.6 371.2,268.6 370.2,267.5 369.3,266.5 368.5,265.4 367.6,264.3 366.8,263.3 366.0,262.2 365.3,261.1 364.5,260.0 363.9,259.0 363.2,257.9 362.5,256.8 361.9,255.7 361.3,254.7 360.7,253.6 360.2,252.5 359.7,251.4 359.2,250.4 358.8,249.3 358.4,248.2 358.0,247.1 357.6,246.1 357.3,245.0 357.0,243.9 356.7,242.8 356.4,241.8 356.1,240.7 355.8,239.6 355.6,238.5 355.3,237.5 355.1,236.4 354.8,235.3 354.6,234.2 354.5,233.2 354.3,232.1 354.1,231.0 354.0,229.9 353.9,228.9 353.8,227.8 353.7,226.7 353.6,225.6 353.5,224.6 353.5,223.5 353.4,222.4 353.4,221.3 353.3,220.2 353.4,219.2 353.4,218.1 353.5,217.0 353.5,215.9 353.6,214.9 353.7,213.8 353.8,212.7 353.9,211.6 354.0,210.6 354.1,209.5 354.3,208.4 354.5,207.3 354.6,206.3 354.8,205.2 355.1,204.1 355.3,203.0 355.6,202.0 355.8,200.9 356.1,199.8 356.4,198.7 356.7,197.7 357.0,196.6 357.3,195.5 357.6,194.4 358.0,193.4 358.4,192.3 358.8,191.2 359.2,190.1 359.7,189.1 360.2,188.0 360.7,186.9 361.3,185.8 361.9,184.8 362.5,183.7 363.2,182.6 363.9,181.5 364.5,180.5 365.3,179.4 366.0,178.3 366.8,177.2 367.6,176.2 368.5,175.1 369.3,174.0 370.2,173.0 371.2,171.9 372.1,170.9 373.0,169.8 374.0,168.8 375.0,167.7 376.0,166.7 377.1,165.6 378.2,164.6 379.3,163.6 380.5,162.5 381.7,161.5 382.9,160.5 384.1,159.5 385.3,158.5 386.6,157.5 387.9,156.5 389.2,155.5 390.5,154.6 391.9,153.6 393.2,152.6 394.6,151.7 395.9,150.8 397.3,149.8 398.7,148.9 400.2,148.0 401.6,147.1 403.1,146.2 404.6,145.3 406.2,144.4 407.8,143.6 409.4,142.7 411.1,141.9 412.9,141.1 414.7,140.3 416.5,139.5 418.3,138.8 420.1,138.1 421.8,137.4 423.5,136.7 425.2,136.1 426.7,135.6 428.2,135.1 429.6,134.7 430.9,134.3 432.3,133.9 433.6,133.5Z" fill="none" stroke="#444" stroke-width="0.85"/>
<clipPath id="land2"><path d="M54.2,428.1 59.1,425.6 62.7,424.5 69.6,422.9 72.0,423.4 75.9,424.0 78.1,424.3 80.8,425.0 84.2,424.4 87.6,423.9 88.9,424.5 92.1,424.8 94.6,425.7 97.9,425.9 102.0,425.3 106.2,426.1 108.1,425.4 111.7,422.5 111.4,424.1 112.7,425.0 113.6,425.6 116.5,424.5 118.7,424.3 117.3,426.8 114.2,427.8 111.7,429.2 106.9,430.8 102.8,434.0 103.4,434.8 104.8,436.3 106.4,437.5 109.6,438.4 108.7,440.7 110.0,442.1 112.1,439.0 114.8,436.5 116.1,433.5 117.0,431.2 119.9,431.4 121.6,432.3 121.7,434.5 123.3,435.0 125.7,433.2 126.2,435.5 127.1,437.0 128.7,439.0 129.6,441.1 128.0,442.2 125.5,443.5 120.5,443.5 116.9,445.4 121.0,444.5 121.4,445.1 120.3,446.6 120.8,447.5 123.1,448.3 124.2,447.7 122.5,448.9 118.2,450.4 114.8,450.4 114.0,452.3 112.2,453.0 110.2,453.7 108.2,455.8 107.3,457.7 107.2,459.4 104.6,460.9 101.3,463.4 101.0,467.1 100.8,469.8 99.8,470.1 98.9,467.1 98.2,465.0 96.5,464.5 93.7,464.7 93.1,466.1 90.8,465.4 88.5,465.5 85.4,467.6 84.4,470.9 84.0,473.8 84.8,476.6 86.3,477.7 89.2,477.3 90.5,474.8 93.5,474.1 92.8,477.3 91.9,480.0 94.0,480.1 96.5,481.1 95.7,485.4 96.9,487.2 99.6,486.9 101.5,488.0 100.5,488.9 98.8,489.4 97.4,488.5 95.3,487.0 93.7,485.8 92.3,483.3 89.1,482.2 86.5,479.9 84.1,480.4 80.1,478.6 76.3,475.5 76.8,473.8 76.0,472.1 74.0,469.5 72.1,465.7 70.6,463.0 71.3,465.5 71.8,467.7 72.6,471.2 73.1,472.5 71.1,470.7 69.9,468.0 69.2,465.0 68.9,462.2 68.2,460.7 66.5,460.1 66.2,456.9 66.2,454.5 66.2,453.7 67.5,451.0 70.1,447.3 70.8,445.3 72.4,444.8 71.3,443.7 69.8,442.8 70.7,441.6 70.9,439.0 71.0,436.5 69.9,435.2 68.6,433.8 65.8,433.5 65.0,432.5 60.3,434.0 60.8,432.5 58.9,434.3 55.7,435.5 50.9,437.0 46.1,438.5 43.4,439.0 48.2,437.3 53.5,435.0 51.8,434.8 50.4,434.7 50.4,433.0 51.5,431.6 53.7,430.4 57.9,429.2 56.2,429.1 54.1,429.0 54.2,428.1ZM130.4,417.3 132.3,416.5 134.9,415.6 137.8,415.1 140.7,414.4 143.7,414.2 151.5,413.5 158.3,413.4 163.6,414.2 168.1,414.7 164.5,416.5 163.1,418.5 162.1,420.1 160.0,422.3 160.1,423.6 156.9,425.4 152.0,425.7 148.1,428.1 145.4,429.6 143.4,432.5 141.2,433.5 138.9,432.5 137.5,430.1 136.9,427.3 139.1,424.8 138.2,423.2 138.1,421.4 138.2,419.2 132.2,418.7 130.4,417.3ZM157.8,428.2 159.4,427.4 162.2,427.6 164.4,427.3 165.3,428.4 164.1,429.4 161.8,430.2 158.6,429.8 159.0,429.2 157.8,428.2ZM122.8,420.8 125.1,422.0 127.1,423.5 128.9,424.5 130.4,426.8 130.6,427.8 127.7,429.2 127.4,430.6 125.8,431.6 123.2,430.8 121.6,429.6 119.7,429.3 118.3,429.2 122.5,427.0 124.0,425.7 121.3,425.6 121.3,424.5 119.2,424.2 116.3,423.9 115.2,423.2 116.0,421.4 118.8,420.9 122.8,420.8ZM97.4,421.3 104.1,421.2 108.4,421.4 106.6,423.6 104.4,425.0 101.5,425.1 96.3,425.4 93.8,424.8 96.8,423.6 95.7,422.7 97.4,421.3ZM91.0,422.5 95.0,420.3 99.6,420.3 99.4,421.0 94.2,422.9 91.0,422.5ZM125.5,418.5 121.6,418.7 119.5,417.7 117.9,416.5 118.7,415.4 122.4,414.4 130.1,413.7 135.6,413.7 140.3,414.2 136.9,415.4 131.7,416.5 125.5,418.5ZM123.4,420.1 116.9,420.1 115.9,419.2 121.2,418.4 124.6,418.7 123.4,420.1ZM108.2,419.3 99.7,419.7 102.9,418.1 106.3,418.3 108.2,419.3ZM114.3,420.1 109.4,419.9 110.6,418.9 115.3,418.1 114.3,420.1ZM114.6,422.3 112.0,421.9 113.2,420.6 115.8,420.6 114.6,422.3ZM110.2,422.7 107.4,422.5 108.9,421.0 111.9,420.6 110.2,422.7ZM115.9,430.1 112.1,429.6 112.4,428.2 114.9,427.8 115.9,430.1ZM125.2,446.2 126.9,444.2 129.3,442.0 129.0,444.1 130.3,445.2 130.7,446.3 129.8,447.2 127.9,446.3 125.2,446.2ZM29.2,474.9 30.0,475.7 29.2,476.8 28.8,476.3ZM27.3,474.0 27.9,474.3 27.4,474.4ZM40.5,440.1 41.9,439.5 43.4,439.2 41.1,440.3ZM37.2,440.9 39.0,440.4 37.8,441.1ZM32.8,441.6 34.4,441.3 33.5,441.7ZM29.7,441.8 31.2,441.6 30.3,442.0ZM54.5,436.2 56.8,435.5 55.8,436.2 54.4,436.7ZM284.3,506.1 285.2,506.2 284.7,506.7 283.9,506.5ZM285.3,506.2 285.9,506.2 285.7,506.8ZM286.2,506.3 288.1,506.1 288.1,506.7 286.1,506.9ZM288.8,506.4 291.9,506.1 291.9,506.5 289.0,506.8ZM288.0,507.5 289.7,507.9 288.4,507.9ZM292.2,508.2 293.7,506.9 295.9,506.3 293.7,507.7ZM297.0,500.5 299.6,500.5 299.3,501.3 297.1,501.0ZM296.5,495.3 297.5,496.7 297.0,498.1 296.5,496.7ZM292.6,483.8 294.2,484.3 294.0,485.4 293.0,485.1ZM290.6,484.6 291.6,484.9 291.2,486.0 290.6,485.6ZM291.5,485.5 292.2,486.0 291.8,487.5 291.3,486.6ZM292.8,484.9 293.5,485.2 293.8,486.4 293.1,486.3ZM288.8,482.7 290.0,483.2 289.8,484.1 289.1,483.8ZM286.4,488.2 288.3,485.0 288.6,486.0 286.7,488.4ZM323.9,504.5 326.1,505.9 327.4,507.1 324.3,505.3ZM316.3,503.2 318.3,503.0 319.8,501.8 319.2,503.3 316.8,503.9ZM341.7,516.1 342.9,515.9 342.5,516.8 341.7,516.6ZM328.5,519.0 330.8,521.2 330.2,521.5 328.5,519.6ZM332.1,513.4 332.8,513.9 332.4,514.5ZM120.8,417.0 118.0,416.9 118.7,415.4 122.3,414.8 123.7,416.1ZM112.2,418.1 110.0,417.4 111.9,416.9 114.6,417.7ZM115.0,416.9 117.5,416.3 117.8,417.0ZM102.9,418.5 98.0,418.7 101.4,417.4 103.2,417.8ZM115.2,419.9 113.4,419.8 114.8,419.1 116.2,419.2ZM124.8,421.6 121.8,421.3 122.8,420.7 124.7,420.9ZM108.8,425.4 106.3,425.2 107.4,424.3 109.1,424.3ZM115.0,430.9 112.8,431.4 112.8,430.8 114.6,430.3ZM202.9,415.8 207.1,415.1 212.1,415.4 207.7,415.9ZM187.3,417.1 189.9,417.8 188.7,418.1 186.2,417.7ZM95.7,473.7 99.7,472.3 102.7,473.9 105.6,475.5 102.5,475.8 100.4,473.9 98.1,473.5 95.7,473.7ZM105.1,477.5 106.9,475.8 110.0,476.1 111.0,477.3 107.8,478.3 105.1,477.5ZM101.5,477.6 103.5,477.8 102.7,478.1 101.5,477.6ZM112.0,477.3 113.5,477.5 113.2,477.9 111.9,477.9ZM101.4,488.0 103.5,485.7 105.9,484.9 106.9,484.0 107.3,485.4 110.6,485.8 114.4,485.7 116.3,485.7 117.6,488.1 120.4,490.8 123.7,491.0 126.0,492.4 127.4,495.3 127.9,497.2 130.3,498.1 132.7,499.8 137.0,500.3 139.8,502.2 141.5,503.0 141.8,506.9 139.5,510.2 138.2,511.8 138.2,516.1 137.2,519.3 136.4,521.5 133.6,522.2 130.6,525.0 130.2,527.9 129.0,530.6 127.2,533.6 125.6,534.9 122.8,534.4 124.2,536.5 124.0,538.3 120.3,539.2 120.5,540.8 118.3,541.5 119.6,542.9 119.1,545.6 117.8,546.8 119.8,548.5 119.0,550.3 118.4,551.9 119.4,553.4 122.4,555.8 119.6,556.5 116.2,554.4 114.2,552.9 111.8,548.7 111.4,545.6 111.2,542.4 109.6,537.0 110.0,531.7 109.3,527.4 109.5,523.1 109.2,517.2 106.8,515.3 103.1,512.3 100.5,507.5 99.2,504.6 97.8,502.6 98.9,500.5 98.1,498.3 98.8,496.4 100.0,495.3 101.3,492.9 101.5,490.3 101.4,488.0ZM167.0,457.5 166.8,455.3 167.4,452.1 167.1,450.9 168.2,450.3 171.6,450.6 173.8,450.6 174.0,448.1 173.2,446.6 171.1,445.8 173.8,445.0 176.3,443.7 177.1,442.6 178.3,442.1 179.1,440.6 181.5,440.0 181.9,438.0 181.5,436.7 183.2,435.8 183.3,437.5 182.9,438.7 183.9,439.5 186.3,439.5 189.4,438.7 191.8,438.5 191.5,436.5 193.8,436.3 193.1,434.2 196.5,434.0 197.9,433.5 192.6,433.5 191.3,432.5 190.9,430.6 193.2,428.7 190.8,427.9 189.0,430.1 188.2,432.5 189.2,434.0 188.0,437.0 185.4,438.0 184.9,437.0 183.5,434.7 182.7,434.5 181.3,435.5 179.3,434.5 178.8,432.1 180.9,430.3 183.7,428.2 185.6,425.9 187.4,424.3 190.7,423.6 194.0,423.2 196.3,424.1 197.8,424.7 203.9,426.4 204.1,427.8 200.0,428.7 202.9,429.6 206.6,427.8 205.7,425.4 212.1,425.6 213.4,425.4 216.6,425.0 220.5,424.4 220.6,421.4 224.1,422.7 225.9,425.9 224.8,421.9 227.5,421.0 231.3,420.1 235.1,418.9 238.9,417.4 249.1,421.0 254.2,421.4 259.4,421.9 259.7,421.6 268.0,421.9 275.9,422.7 284.6,424.1 291.8,424.3 298.0,424.7 299.9,425.1 305.4,428.7 304.6,429.2 306.5,431.1 305.5,432.5 304.4,433.5 300.9,433.7 302.0,436.0 302.9,437.5 303.8,441.6 303.6,442.6 300.7,440.1 296.7,436.5 297.6,435.5 296.6,432.1 295.1,432.1 293.6,434.0 289.8,434.0 284.6,434.2 286.9,439.0 285.0,439.5 292.5,445.2 291.4,450.5 288.5,451.5 288.1,453.7 290.9,458.5 289.3,460.0 288.8,460.1 287.0,456.9 284.5,454.5 282.3,455.3 280.9,453.4 279.2,455.3 279.2,455.8 281.1,457.5 284.1,457.2 282.9,459.6 285.9,463.4 286.7,465.0 285.9,468.7 283.9,472.0 280.9,473.3 278.3,474.7 278.0,475.4 276.3,474.0 274.7,475.7 274.3,477.3 276.3,479.5 278.3,483.3 278.3,484.9 276.1,487.0 274.6,488.0 274.7,486.5 272.7,486.0 270.1,482.9 269.4,486.5 270.6,489.7 273.7,495.7 271.3,494.6 268.6,488.6 268.5,486.5 266.8,479.5 264.1,480.0 263.3,477.3 261.0,474.7 259.0,473.6 256.3,474.1 256.0,475.7 252.3,479.5 250.9,483.3 250.8,486.2 248.7,488.5 247.1,486.5 244.9,481.1 243.5,476.8 242.8,474.1 240.3,473.0 238.8,472.0 236.6,469.8 232.1,470.1 227.7,469.0 227.0,468.2 222.9,467.3 219.7,464.8 219.0,465.5 221.3,468.7 222.8,469.8 226.1,470.9 227.1,469.0 227.5,470.9 230.8,473.0 229.2,476.8 226.8,479.0 224.1,480.6 220.9,482.2 217.6,483.5 216.2,483.6 215.4,481.1 211.5,474.1 209.4,470.4 207.3,467.1 207.1,465.5 206.5,467.1 204.9,465.1 204.5,463.7 206.5,463.4 207.2,459.6 207.2,457.9 203.7,458.3 200.0,457.8 198.3,455.3 198.3,453.7 200.4,453.0 205.5,452.1 211.2,452.6 211.1,451.0 207.5,448.9 203.7,449.5 200.5,447.9 199.6,450.5 199.5,452.6 197.8,453.4 195.2,453.9 195.1,457.5 193.6,455.8 192.0,452.3 188.8,450.5 186.7,448.3 185.6,449.5 187.0,451.6 189.0,452.6 191.3,454.1 189.6,455.3 189.0,456.4 189.1,454.2 187.3,453.2 185.5,452.1 184.1,450.5 182.3,449.6 180.7,450.9 178.1,450.7 177.8,452.1 175.1,455.3 174.4,456.8 173.3,457.8 170.0,458.5 169.3,457.7 167.0,457.5ZM50.2,425.1 51.7,426.4 53.5,427.6 51.6,428.4 48.9,429.4 46.2,428.7 44.7,428.7ZM169.8,458.7 173.3,459.5 177.7,457.7 184.0,457.2 184.9,459.6 184.3,460.9 188.7,462.5 192.9,464.7 193.2,462.8 195.9,462.3 197.8,463.4 201.5,464.0 204.2,463.7 204.9,465.1 205.9,467.7 208.1,471.6 210.0,477.0 211.8,480.0 214.3,482.7 216.1,484.4 217.3,486.1 223.5,484.6 223.4,486.0 222.1,490.3 219.3,494.6 215.1,498.3 213.1,501.0 212.1,504.2 213.4,509.1 213.3,513.4 207.8,518.8 208.0,521.5 205.4,525.0 204.9,527.9 202.9,530.6 199.4,533.6 194.9,533.8 191.7,534.1 191.4,531.7 188.9,526.3 188.6,521.5 186.2,515.5 187.8,510.2 186.7,503.7 183.6,497.8 184.4,493.5 183.1,492.4 180.8,492.6 177.9,490.4 173.1,492.1 167.9,492.5 164.6,489.9 162.2,487.0 159.2,483.8 158.7,481.4 160.0,477.9 159.6,474.7 161.6,469.3 165.9,465.7 166.2,463.4 168.9,460.7 169.8,458.7ZM221.7,510.2 222.7,513.9 221.5,516.6 218.6,524.1 216.7,524.7 215.6,520.9 216.8,515.0 218.9,513.9 221.7,510.2ZM170.3,443.7 172.6,442.2 170.8,441.8 171.2,440.8 172.6,440.2 172.7,439.0 170.7,438.1 170.4,436.5 171.2,434.9 172.4,434.9 173.5,436.5 173.9,438.0 175.1,440.1 176.4,440.9 176.3,442.6 170.3,443.7ZM170.2,441.4 168.5,442.0 166.7,441.6 167.0,439.3 169.1,438.2 170.4,438.5 170.2,439.5 170.2,441.4ZM181.7,417.0 184.5,415.8 191.0,415.5 192.0,416.7 186.3,418.4 181.7,417.0ZM209.7,422.7 211.6,419.7 217.8,418.2 214.8,419.7 212.6,423.2 209.7,422.7ZM232.8,416.5 233.3,415.1 237.3,415.4 238.2,416.9 232.8,416.5ZM263.5,420.6 264.8,418.9 270.9,419.5 268.0,421.4 263.5,420.6ZM295.5,423.0 296.1,422.7 297.0,423.3ZM280.9,520.9 284.4,519.5 288.4,518.2 290.3,515.5 294.1,512.3 296.8,513.4 298.1,510.7 300.6,509.4 304.8,510.2 303.3,513.9 306.2,516.1 308.2,515.5 308.9,511.2 310.1,508.9 312.3,513.4 312.1,517.2 315.3,521.5 316.9,524.1 316.3,527.4 314.6,530.6 308.4,537.6 304.4,539.2 301.8,539.0 299.2,538.1 298.7,535.5 299.3,533.3 296.5,532.5 294.3,531.1 289.5,531.9 286.5,533.8 280.9,534.9 278.8,533.8 280.5,525.2 280.9,520.9ZM301.6,541.0 304.7,541.2 302.8,543.7 300.8,544.1 301.6,541.0ZM330.6,534.3 331.2,536.0 333.6,537.8 330.9,539.7 327.6,541.9 328.8,539.7 328.3,539.4 330.6,534.3ZM326.4,540.8 326.8,542.1 324.1,544.0 321.5,545.0 318.0,547.3 316.4,546.6 319.4,544.5 324.5,541.9 326.4,540.8ZM293.1,460.7 293.0,460.1 296.5,459.0 296.7,457.5 298.8,456.4 297.7,453.7 298.3,452.7 300.0,454.8 300.7,457.5 300.8,459.6 297.1,461.2 293.1,460.7ZM297.1,452.6 296.0,451.0 295.7,448.4 299.5,449.8 300.6,450.7 297.7,451.6 297.1,452.6ZM292.3,461.4 293.9,461.2 294.4,463.5 293.7,463.8 292.3,461.4ZM295.6,447.9 291.7,442.6 289.1,439.2 294.2,444.2 295.6,447.9ZM286.8,472.5 287.7,470.1 287.9,473.6 287.6,473.6 286.8,472.5ZM276.8,476.6 278.5,475.6 279.0,476.3 277.9,477.7 276.8,476.6ZM287.7,477.3 289.8,477.3 290.0,479.8 292.3,483.3 289.4,482.6 288.8,481.7 287.7,477.3ZM291.0,489.7 294.6,487.0 295.3,489.7 294.4,491.0 291.0,489.8ZM265.7,491.2 267.8,491.7 270.8,495.1 274.1,498.3 276.0,500.7 275.9,503.5 274.5,503.6 271.3,499.9 268.9,495.6 265.7,491.2ZM275.1,504.6 275.9,503.7 280.6,504.2 283.9,505.5 283.8,506.6 280.5,506.1 275.4,504.8 275.1,504.6ZM278.9,495.6 280.8,495.4 283.6,492.4 285.3,489.8 288.6,491.5 287.5,496.2 286.0,499.4 285.5,501.6 284.1,501.0 280.8,500.5 279.8,499.2 278.9,497.8 278.9,495.6ZM288.8,503.2 289.8,500.3 290.1,496.0 294.1,495.5 290.4,496.7 292.7,498.3 290.8,499.4 291.6,502.4 290.3,501.0 289.7,503.2 288.8,503.2ZM299.9,498.3 302.7,498.2 306.5,499.0 309.3,500.0 313.7,502.4 315.3,503.9 318.0,508.5 314.5,507.8 311.3,506.9 309.4,507.1 306.1,506.1 305.9,502.6 303.6,501.9 301.2,501.6 300.8,500.3 299.9,498.3ZM250.9,489.7 251.1,486.7 252.8,489.2 252.1,490.8 250.9,489.7ZM83.8,584.0 70.2,579.4 77.7,580.1 81.1,579.1 82.5,576.8 85.9,575.2 91.0,574.4 96.7,573.8 103.5,573.9 109.5,573.5 115.5,572.9 122.3,573.1 125.3,572.6 127.7,571.3 128.4,569.1 128.7,567.2 130.5,565.0 132.6,564.1 133.2,564.5 131.9,565.6 131.0,567.5 131.4,569.5 133.6,572.2 135.4,573.9 136.8,575.2 144.3,577.1 150.6,577.2 153.3,576.4 159.1,575.2 165.2,573.1 168.3,571.3 175.1,570.4 181.9,570.4 188.7,570.4 195.7,570.0 202.9,569.1 210.7,567.2 217.6,567.7 224.1,568.6 223.3,570.0 231.4,568.1 239.2,567.2 246.7,566.7 253.9,566.7 260.6,567.2 268.0,566.9 274.5,567.5 279.6,569.1 284.6,570.4 289.4,571.8 283.7,573.9 277.7,576.4 276.5,578.4 279.9,579.4 266.3,584.0ZM89.4,424.1 95.5,419.7 101.7,418.5 107.9,418.1 113.8,417.3 119.3,415.4 126.8,414.0 139.8,414.0 132.9,416.5 126.5,418.1 123.4,420.1 118.7,421.0 115.2,422.7 111.0,424.5 105.0,425.9 96.5,425.9 89.4,424.1ZM183.1,439.5 185.0,438.0 188.0,437.0 189.2,434.0 188.2,432.5 190.5,427.9 193.4,427.9 197.9,433.5 193.1,434.2 191.5,436.5 191.8,438.5 186.2,439.0 183.1,439.5ZM215.2,448.9 216.5,447.3 219.8,446.8 220.7,448.9 218.7,449.5 218.8,451.6 220.8,452.6 221.7,454.8 223.0,456.9 218.6,456.9 218.5,454.2 216.3,452.1 215.2,448.9ZM200.7,427.3 203.9,426.4 206.6,427.8 202.9,429.6 200.0,428.7Z"/></clipPath>
<path d="M54.2,428.1 59.1,425.6 62.7,424.5 69.6,422.9 72.0,423.4 75.9,424.0 78.1,424.3 80.8,425.0 84.2,424.4 87.6,423.9 88.9,424.5 92.1,424.8 94.6,425.7 97.9,425.9 102.0,425.3 106.2,426.1 108.1,425.4 111.7,422.5 111.4,424.1 112.7,425.0 113.6,425.6 116.5,424.5 118.7,424.3 117.3,426.8 114.2,427.8 111.7,429.2 106.9,430.8 102.8,434.0 103.4,434.8 104.8,436.3 106.4,437.5 109.6,438.4 108.7,440.7 110.0,442.1 112.1,439.0 114.8,436.5 116.1,433.5 117.0,431.2 119.9,431.4 121.6,432.3 121.7,434.5 123.3,435.0 125.7,433.2 126.2,435.5 127.1,437.0 128.7,439.0 129.6,441.1 128.0,442.2 125.5,443.5 120.5,443.5 116.9,445.4 121.0,444.5 121.4,445.1 120.3,446.6 120.8,447.5 123.1,448.3 124.2,447.7 122.5,448.9 118.2,450.4 114.8,450.4 114.0,452.3 112.2,453.0 110.2,453.7 108.2,455.8 107.3,457.7 107.2,459.4 104.6,460.9 101.3,463.4 101.0,467.1 100.8,469.8 99.8,470.1 98.9,467.1 98.2,465.0 96.5,464.5 93.7,464.7 93.1,466.1 90.8,465.4 88.5,465.5 85.4,467.6 84.4,470.9 84.0,473.8 84.8,476.6 86.3,477.7 89.2,477.3 90.5,474.8 93.5,474.1 92.8,477.3 91.9,480.0 94.0,480.1 96.5,481.1 95.7,485.4 96.9,487.2 99.6,486.9 101.5,488.0 100.5,488.9 98.8,489.4 97.4,488.5 95.3,487.0 93.7,485.8 92.3,483.3 89.1,482.2 86.5,479.9 84.1,480.4 80.1,478.6 76.3,475.5 76.8,473.8 76.0,472.1 74.0,469.5 72.1,465.7 70.6,463.0 71.3,465.5 71.8,467.7 72.6,471.2 73.1,472.5 71.1,470.7 69.9,468.0 69.2,465.0 68.9,462.2 68.2,460.7 66.5,460.1 66.2,456.9 66.2,454.5 66.2,453.7 67.5,451.0 70.1,447.3 70.8,445.3 72.4,444.8 71.3,443.7 69.8,442.8 70.7,441.6 70.9,439.0 71.0,436.5 69.9,435.2 68.6,433.8 65.8,433.5 65.0,432.5 60.3,434.0 60.8,432.5 58.9,434.3 55.7,435.5 50.9,437.0 46.1,438.5 43.4,439.0 48.2,437.3 53.5,435.0 51.8,434.8 50.4,434.7 50.4,433.0 51.5,431.6 53.7,430.4 57.9,429.2 56.2,429.1 54.1,429.0 54.2,428.1ZM130.4,417.3 132.3,416.5 134.9,415.6 137.8,415.1 140.7,414.4 143.7,414.2 151.5,413.5 158.3,413.4 163.6,414.2 168.1,414.7 164.5,416.5 163.1,418.5 162.1,420.1 160.0,422.3 160.1,423.6 156.9,425.4 152.0,425.7 148.1,428.1 145.4,429.6 143.4,432.5 141.2,433.5 138.9,432.5 137.5,430.1 136.9,427.3 139.1,424.8 138.2,423.2 138.1,421.4 138.2,419.2 132.2,418.7 130.4,417.3ZM157.8,428.2 159.4,427.4 162.2,427.6 164.4,427.3 165.3,428.4 164.1,429.4 161.8,430.2 158.6,429.8 159.0,429.2 157.8,428.2ZM122.8,420.8 125.1,422.0 127.1,423.5 128.9,424.5 130.4,426.8 130.6,427.8 127.7,429.2 127.4,430.6 125.8,431.6 123.2,430.8 121.6,429.6 119.7,429.3 118.3,429.2 122.5,427.0 124.0,425.7 121.3,425.6 121.3,424.5 119.2,424.2 116.3,423.9 115.2,423.2 116.0,421.4 118.8,420.9 122.8,420.8ZM97.4,421.3 104.1,421.2 108.4,421.4 106.6,423.6 104.4,425.0 101.5,425.1 96.3,425.4 93.8,424.8 96.8,423.6 95.7,422.7 97.4,421.3ZM91.0,422.5 95.0,420.3 99.6,420.3 99.4,421.0 94.2,422.9 91.0,422.5ZM125.5,418.5 121.6,418.7 119.5,417.7 117.9,416.5 118.7,415.4 122.4,414.4 130.1,413.7 135.6,413.7 140.3,414.2 136.9,415.4 131.7,416.5 125.5,418.5ZM123.4,420.1 116.9,420.1 115.9,419.2 121.2,418.4 124.6,418.7 123.4,420.1ZM108.2,419.3 99.7,419.7 102.9,418.1 106.3,418.3 108.2,419.3ZM114.3,420.1 109.4,419.9 110.6,418.9 115.3,418.1 114.3,420.1ZM114.6,422.3 112.0,421.9 113.2,420.6 115.8,420.6 114.6,422.3ZM110.2,422.7 107.4,422.5 108.9,421.0 111.9,420.6 110.2,422.7ZM115.9,430.1 112.1,429.6 112.4,428.2 114.9,427.8 115.9,430.1ZM125.2,446.2 126.9,444.2 129.3,442.0 129.0,444.1 130.3,445.2 130.7,446.3 129.8,447.2 127.9,446.3 125.2,446.2ZM29.2,474.9 30.0,475.7 29.2,476.8 28.8,476.3ZM27.3,474.0 27.9,474.3 27.4,474.4ZM40.5,440.1 41.9,439.5 43.4,439.2 41.1,440.3ZM37.2,440.9 39.0,440.4 37.8,441.1ZM32.8,441.6 34.4,441.3 33.5,441.7ZM29.7,441.8 31.2,441.6 30.3,442.0ZM54.5,436.2 56.8,435.5 55.8,436.2 54.4,436.7ZM284.3,506.1 285.2,506.2 284.7,506.7 283.9,506.5ZM285.3,506.2 285.9,506.2 285.7,506.8ZM286.2,506.3 288.1,506.1 288.1,506.7 286.1,506.9ZM288.8,506.4 291.9,506.1 291.9,506.5 289.0,506.8ZM288.0,507.5 289.7,507.9 288.4,507.9ZM292.2,508.2 293.7,506.9 295.9,506.3 293.7,507.7ZM297.0,500.5 299.6,500.5 299.3,501.3 297.1,501.0ZM296.5,495.3 297.5,496.7 297.0,498.1 296.5,496.7ZM292.6,483.8 294.2,484.3 294.0,485.4 293.0,485.1ZM290.6,484.6 291.6,484.9 291.2,486.0 290.6,485.6ZM291.5,485.5 292.2,486.0 291.8,487.5 291.3,486.6ZM292.8,484.9 293.5,485.2 293.8,486.4 293.1,486.3ZM288.8,482.7 290.0,483.2 289.8,484.1 289.1,483.8ZM286.4,488.2 288.3,485.0 288.6,486.0 286.7,488.4ZM323.9,504.5 326.1,505.9 327.4,507.1 324.3,505.3ZM316.3,503.2 318.3,503.0 319.8,501.8 319.2,503.3 316.8,503.9ZM341.7,516.1 342.9,515.9 342.5,516.8 341.7,516.6ZM328.5,519.0 330.8,521.2 330.2,521.5 328.5,519.6ZM332.1,513.4 332.8,513.9 332.4,514.5ZM120.8,417.0 118.0,416.9 118.7,415.4 122.3,414.8 123.7,416.1ZM112.2,418.1 110.0,417.4 111.9,416.9 114.6,417.7ZM115.0,416.9 117.5,416.3 117.8,417.0ZM102.9,418.5 98.0,418.7 101.4,417.4 103.2,417.8ZM115.2,419.9 113.4,419.8 114.8,419.1 116.2,419.2ZM124.8,421.6 121.8,421.3 122.8,420.7 124.7,420.9ZM108.8,425.4 106.3,425.2 107.4,424.3 109.1,424.3ZM115.0,430.9 112.8,431.4 112.8,430.8 114.6,430.3ZM202.9,415.8 207.1,415.1 212.1,415.4 207.7,415.9ZM187.3,417.1 189.9,417.8 188.7,418.1 186.2,417.7ZM95.7,473.7 99.7,472.3 102.7,473.9 105.6,475.5 102.5,475.8 100.4,473.9 98.1,473.5 95.7,473.7ZM105.1,477.5 106.9,475.8 110.0,476.1 111.0,477.3 107.8,478.3 105.1,477.5ZM101.5,477.6 103.5,477.8 102.7,478.1 101.5,477.6ZM112.0,477.3 113.5,477.5 113.2,477.9 111.9,477.9ZM101.4,488.0 103.5,485.7 105.9,484.9 106.9,484.0 107.3,485.4 110.6,485.8 114.4,485.7 116.3,485.7 117.6,488.1 120.4,490.8 123.7,491.0 126.0,492.4 127.4,495.3 127.9,497.2 130.3,498.1 132.7,499.8 137.0,500.3 139.8,502.2 141.5,503.0 141.8,506.9 139.5,510.2 138.2,511.8 138.2,516.1 137.2,519.3 136.4,521.5 133.6,522.2 130.6,525.0 130.2,527.9 129.0,530.6 127.2,533.6 125.6,534.9 122.8,534.4 124.2,536.5 124.0,538.3 120.3,539.2 120.5,540.8 118.3,541.5 119.6,542.9 119.1,545.6 117.8,546.8 119.8,548.5 119.0,550.3 118.4,551.9 119.4,553.4 122.4,555.8 119.6,556.5 116.2,554.4 114.2,552.9 111.8,548.7 111.4,545.6 111.2,542.4 109.6,537.0 110.0,531.7 109.3,527.4 109.5,523.1 109.2,517.2 106.8,515.3 103.1,512.3 100.5,507.5 99.2,504.6 97.8,502.6 98.9,500.5 98.1,498.3 98.8,496.4 100.0,495.3 101.3,492.9 101.5,490.3 101.4,488.0ZM167.0,457.5 166.8,455.3 167.4,452.1 167.1,450.9 168.2,450.3 171.6,450.6 173.8,450.6 174.0,448.1 173.2,446.6 171.1,445.8 173.8,445.0 176.3,443.7 177.1,442.6 178.3,442.1 179.1,440.6 181.5,440.0 181.9,438.0 181.5,436.7 183.2,435.8 183.3,437.5 182.9,438.7 183.9,439.5 186.3,439.5 189.4,438.7 191.8,438.5 191.5,436.5 193.8,436.3 193.1,434.2 196.5,434.0 197.9,433.5 192.6,433.5 191.3,432.5 190.9,430.6 193.2,428.7 190.8,427.9 189.0,430.1 188.2,432.5 189.2,434.0 188.0,437.0 185.4,438.0 184.9,437.0 183.5,434.7 182.7,434.5 181.3,435.5 179.3,434.5 178.8,432.1 180.9,430.3 183.7,428.2 185.6,425.9 187.4,424.3 190.7,423.6 194.0,423.2 196.3,424.1 197.8,424.7 203.9,426.4 204.1,427.8 200.0,428.7 202.9,429.6 206.6,427.8 205.7,425.4 212.1,425.6 213.4,425.4 216.6,425.0 220.5,424.4 220.6,421.4 224.1,422.7 225.9,425.9 224.8,421.9 227.5,421.0 231.3,420.1 235.1,418.9 238.9,417.4 249.1,421.0 254.2,421.4 259.4,421.9 259.7,421.6 268.0,421.9 275.9,422.7 284.6,424.1 291.8,424.3 298.0,424.7 299.9,425.1 305.4,428.7 304.6,429.2 306.5,431.1 305.5,432.5 304.4,433.5 300.9,433.7 302.0,436.0 302.9,437.5 303.8,441.6 303.6,442.6 300.7,440.1 296.7,436.5 297.6,435.5 296.6,432.1 295.1,432.1 293.6,434.0 289.8,434.0 284.6,434.2 286.9,439.0 285.0,439.5 292.5,445.2 291.4,450.5 288.5,451.5 288.1,453.7 290.9,458.5 289.3,460.0 288.8,460.1 287.0,456.9 284.5,454.5 282.3,455.3 280.9,453.4 279.2,455.3 279.2,455.8 281.1,457.5 284.1,457.2 282.9,459.6 285.9,463.4 286.7,465.0 285.9,468.7 283.9,472.0 280.9,473.3 278.3,474.7 278.0,475.4 276.3,474.0 274.7,475.7 274.3,477.3 276.3,479.5 278.3,483.3 278.3,484.9 276.1,487.0 274.6,488.0 274.7,486.5 272.7,486.0 270.1,482.9 269.4,486.5 270.6,489.7 273.7,495.7 271.3,494.6 268.6,488.6 268.5,486.5 266.8,479.5 264.1,480.0 263.3,477.3 261.0,474.7 259.0,473.6 256.3,474.1 256.0,475.7 252.3,479.5 250.9,483.3 250.8,486.2 248.7,488.5 247.1,486.5 244.9,481.1 243.5,476.8 242.8,474.1 240.3,473.0 238.8,472.0 236.6,469.8 232.1,470.1 227.7,469.0 227.0,468.2 222.9,467.3 219.7,464.8 219.0,465.5 221.3,468.7 222.8,469.8 226.1,470.9 227.1,469.0 227.5,470.9 230.8,473.0 229.2,476.8 226.8,479.0 224.1,480.6 220.9,482.2 217.6,483.5 216.2,483.6 215.4,481.1 211.5,474.1 209.4,470.4 207.3,467.1 207.1,465.5 206.5,467.1 204.9,465.1 204.5,463.7 206.5,463.4 207.2,459.6 207.2,457.9 203.7,458.3 200.0,457.8 198.3,455.3 198.3,453.7 200.4,453.0 205.5,452.1 211.2,452.6 211.1,451.0 207.5,448.9 203.7,449.5 200.5,447.9 199.6,450.5 199.5,452.6 197.8,453.4 195.2,453.9 195.1,457.5 193.6,455.8 192.0,452.3 188.8,450.5 186.7,448.3 185.6,449.5 187.0,451.6 189.0,452.6 191.3,454.1 189.6,455.3 189.0,456.4 189.1,454.2 187.3,453.2 185.5,452.1 184.1,450.5 182.3,449.6 180.7,450.9 178.1,450.7 177.8,452.1 175.1,455.3 174.4,456.8 173.3,457.8 170.0,458.5 169.3,457.7 167.0,457.5ZM50.2,425.1 51.7,426.4 53.5,427.6 51.6,428.4 48.9,429.4 46.2,428.7 44.7,428.7ZM169.8,458.7 173.3,459.5 177.7,457.7 184.0,457.2 184.9,459.6 184.3,460.9 188.7,462.5 192.9,464.7 193.2,462.8 195.9,462.3 197.8,463.4 201.5,464.0 204.2,463.7 204.9,465.1 205.9,467.7 208.1,471.6 210.0,477.0 211.8,480.0 214.3,482.7 216.1,484.4 217.3,486.1 223.5,484.6 223.4,486.0 222.1,490.3 219.3,494.6 215.1,498.3 213.1,501.0 212.1,504.2 213.4,509.1 213.3,513.4 207.8,518.8 208.0,521.5 205.4,525.0 204.9,527.9 202.9,530.6 199.4,533.6 194.9,533.8 191.7,534.1 191.4,531.7 188.9,526.3 188.6,521.5 186.2,515.5 187.8,510.2 186.7,503.7 183.6,497.8 184.4,493.5 183.1,492.4 180.8,492.6 177.9,490.4 173.1,492.1 167.9,492.5 164.6,489.9 162.2,487.0 159.2,483.8 158.7,481.4 160.0,477.9 159.6,474.7 161.6,469.3 165.9,465.7 166.2,463.4 168.9,460.7 169.8,458.7ZM221.7,510.2 222.7,513.9 221.5,516.6 218.6,524.1 216.7,524.7 215.6,520.9 216.8,515.0 218.9,513.9 221.7,510.2ZM170.3,443.7 172.6,442.2 170.8,441.8 171.2,440.8 172.6,440.2 172.7,439.0 170.7,438.1 170.4,436.5 171.2,434.9 172.4,434.9 173.5,436.5 173.9,438.0 175.1,440.1 176.4,440.9 176.3,442.6 170.3,443.7ZM170.2,441.4 168.5,442.0 166.7,441.6 167.0,439.3 169.1,438.2 170.4,438.5 170.2,439.5 170.2,441.4ZM181.7,417.0 184.5,415.8 191.0,415.5 192.0,416.7 186.3,418.4 181.7,417.0ZM209.7,422.7 211.6,419.7 217.8,418.2 214.8,419.7 212.6,423.2 209.7,422.7ZM232.8,416.5 233.3,415.1 237.3,415.4 238.2,416.9 232.8,416.5ZM263.5,420.6 264.8,418.9 270.9,419.5 268.0,421.4 263.5,420.6ZM295.5,423.0 296.1,422.7 297.0,423.3ZM280.9,520.9 284.4,519.5 288.4,518.2 290.3,515.5 294.1,512.3 296.8,513.4 298.1,510.7 300.6,509.4 304.8,510.2 303.3,513.9 306.2,516.1 308.2,515.5 308.9,511.2 310.1,508.9 312.3,513.4 312.1,517.2 315.3,521.5 316.9,524.1 316.3,527.4 314.6,530.6 308.4,537.6 304.4,539.2 301.8,539.0 299.2,538.1 298.7,535.5 299.3,533.3 296.5,532.5 294.3,531.1 289.5,531.9 286.5,533.8 280.9,534.9 278.8,533.8 280.5,525.2 280.9,520.9ZM301.6,541.0 304.7,541.2 302.8,543.7 300.8,544.1 301.6,541.0ZM330.6,534.3 331.2,536.0 333.6,537.8 330.9,539.7 327.6,541.9 328.8,539.7 328.3,539.4 330.6,534.3ZM326.4,540.8 326.8,542.1 324.1,544.0 321.5,545.0 318.0,547.3 316.4,546.6 319.4,544.5 324.5,541.9 326.4,540.8ZM293.1,460.7 293.0,460.1 296.5,459.0 296.7,457.5 298.8,456.4 297.7,453.7 298.3,452.7 300.0,454.8 300.7,457.5 300.8,459.6 297.1,461.2 293.1,460.7ZM297.1,452.6 296.0,451.0 295.7,448.4 299.5,449.8 300.6,450.7 297.7,451.6 297.1,452.6ZM292.3,461.4 293.9,461.2 294.4,463.5 293.7,463.8 292.3,461.4ZM295.6,447.9 291.7,442.6 289.1,439.2 294.2,444.2 295.6,447.9ZM286.8,472.5 287.7,470.1 287.9,473.6 287.6,473.6 286.8,472.5ZM276.8,476.6 278.5,475.6 279.0,476.3 277.9,477.7 276.8,476.6ZM287.7,477.3 289.8,477.3 290.0,479.8 292.3,483.3 289.4,482.6 288.8,481.7 287.7,477.3ZM291.0,489.7 294.6,487.0 295.3,489.7 294.4,491.0 291.0,489.8ZM265.7,491.2 267.8,491.7 270.8,495.1 274.1,498.3 276.0,500.7 275.9,503.5 274.5,503.6 271.3,499.9 268.9,495.6 265.7,491.2ZM275.1,504.6 275.9,503.7 280.6,504.2 283.9,505.5 283.8,506.6 280.5,506.1 275.4,504.8 275.1,504.6ZM278.9,495.6 280.8,495.4 283.6,492.4 285.3,489.8 288.6,491.5 287.5,496.2 286.0,499.4 285.5,501.6 284.1,501.0 280.8,500.5 279.8,499.2 278.9,497.8 278.9,495.6ZM288.8,503.2 289.8,500.3 290.1,496.0 294.1,495.5 290.4,496.7 292.7,498.3 290.8,499.4 291.6,502.4 290.3,501.0 289.7,503.2 288.8,503.2ZM299.9,498.3 302.7,498.2 306.5,499.0 309.3,500.0 313.7,502.4 315.3,503.9 318.0,508.5 314.5,507.8 311.3,506.9 309.4,507.1 306.1,506.1 305.9,502.6 303.6,501.9 301.2,501.6 300.8,500.3 299.9,498.3ZM250.9,489.7 251.1,486.7 252.8,489.2 252.1,490.8 250.9,489.7ZM83.8,584.0 70.2,579.4 77.7,580.1 81.1,579.1 82.5,576.8 85.9,575.2 91.0,574.4 96.7,573.8 103.5,573.9 109.5,573.5 115.5,572.9 122.3,573.1 125.3,572.6 127.7,571.3 128.4,569.1 128.7,567.2 130.5,565.0 132.6,564.1 133.2,564.5 131.9,565.6 131.0,567.5 131.4,569.5 133.6,572.2 135.4,573.9 136.8,575.2 144.3,577.1 150.6,577.2 153.3,576.4 159.1,575.2 165.2,573.1 168.3,571.3 175.1,570.4 181.9,570.4 188.7,570.4 195.7,570.0 202.9,569.1 210.7,567.2 217.6,567.7 224.1,568.6 223.3,570.0 231.4,568.1 239.2,567.2 246.7,566.7 253.9,566.7 260.6,567.2 268.0,566.9 274.5,567.5 279.6,569.1 284.6,570.4 289.4,571.8 283.7,573.9 277.7,576.4 276.5,578.4 279.9,579.4 266.3,584.0ZM89.4,424.1 95.5,419.7 101.7,418.5 107.9,418.1 113.8,417.3 119.3,415.4 126.8,414.0 139.8,414.0 132.9,416.5 126.5,418.1 123.4,420.1 118.7,421.0 115.2,422.7 111.0,424.5 105.0,425.9 96.5,425.9 89.4,424.1ZM183.1,439.5 185.0,438.0 188.0,437.0 189.2,434.0 188.2,432.5 190.5,427.9 193.4,427.9 197.9,433.5 193.1,434.2 191.5,436.5 191.8,438.5 186.2,439.0 183.1,439.5ZM215.2,448.9 216.5,447.3 219.8,446.8 220.7,448.9 218.7,449.5 218.8,451.6 220.8,452.6 221.7,454.8 223.0,456.9 218.6,456.9 218.5,454.2 216.3,452.1 215.2,448.9ZM200.7,427.3 203.9,426.4 206.6,427.8 202.9,429.6 200.0,428.7Z" fill="url(#mixYL)"/>
<g clip-path="url(#land2)">
<path d="M130.4,417.3 132.2,418.7 138.2,419.2 138.1,421.4 138.2,423.2 139.1,424.8 136.9,427.3 137.5,430.1 138.9,432.5 141.2,433.5 143.4,432.5 145.4,429.6 148.1,428.1 152.0,425.7 156.9,425.4 160.1,423.6 160.0,422.3 162.1,420.1 163.1,418.5 164.5,416.5 168.1,414.7 163.6,414.2 158.3,413.4 151.5,413.5 143.7,414.2 140.7,414.4 137.8,415.1 134.9,415.6 132.3,416.5 130.4,417.3Z" fill="#FFF080"/>
<path d="M83.8,584.0 70.2,579.4 77.7,580.1 81.1,579.1 82.5,576.8 85.9,575.2 91.0,574.4 96.7,573.8 103.5,573.9 109.5,573.5 115.5,572.9 122.3,573.1 125.3,572.6 127.7,571.3 128.4,569.1 128.7,567.2 130.5,565.0 132.6,564.1 133.2,564.5 131.9,565.6 131.0,567.5 131.4,569.5 133.6,572.2 135.4,573.9 136.8,575.2 144.3,577.1 150.6,577.2 153.3,576.4 159.1,575.2 165.2,573.1 168.3,571.3 175.1,570.4 181.9,570.4 188.7,570.4 195.7,570.0 202.9,569.1 210.7,567.2 217.6,567.7 224.1,568.6 223.3,570.0 231.4,568.1 239.2,567.2 246.7,566.7 253.9,566.7 260.6,567.2 268.0,566.9 274.5,567.5 279.6,569.1 284.6,570.4 289.4,571.8 283.7,573.9 277.7,576.4 276.5,578.4 279.9,579.4 266.3,584.0Z" fill="#FFF080"/>
<path d="M48.6,427.1 74.3,423.7 96.6,418.6 129.1,416.9 136.0,423.7 120.0,428.0 104.0,431.0 96.0,438.0 82.9,434.0 65.7,434.0 50.3,432.3Z" fill="url(#mixY)"/>
<path d="M60.0,430.0 80.0,428.0 105.0,425.0 122.0,432.0 130.0,440.0 130.0,447.5 112.5,455.0 95.0,450.0 75.0,452.0 62.0,445.0Z" fill="url(#mixL)"/>
<path d="M69.7,439.4 79.1,434.7 92.5,435.5 100.4,440.2 109.0,447.3 107.4,453.6 104.3,463.0 98.0,466.1 85.4,466.1 80.7,459.8 76.8,450.4 71.3,445.7Z" fill="url(#mixB)"/>
<path d="M79.9,437.9 85.4,437.1 91.7,438.6 95.6,441.0 98.0,445.7 100.4,450.4 102.7,455.1 104.3,459.8 98.8,463.0 94.1,463.8 88.6,464.6 85.4,463.0 87.0,455.9 83.9,450.4 81.5,444.1Z" fill="url(#mixP2)"/>
<path d="M106.9,450.3 115.4,447.7 116.3,451.1 108.6,453.7Z" fill="#FF0000"/>
<path d="M67.4,447.7 77.0,447.0 80.9,461.4 74.3,468.3 67.4,463.1Z" fill="url(#mixYO)"/>
<path d="M85.0,470.0 95.0,478.0 102.0,486.0 98.0,488.0 88.0,480.0Z" fill="url(#mixB)"/>
<path d="M100.0,488.6 124.3,485.7 134.3,497.1 131.4,514.3 121.4,525.7 114.3,540.0 110.0,537.1 108.6,520.0 102.9,510.0 98.6,500.0Z" fill="url(#mixL)"/>
<path d="M102.9,492.9 117.1,490.0 124.3,495.7 121.4,502.9 114.3,507.1 105.7,505.7 101.4,500.0Z" fill="url(#mixY)"/>
<path d="M127.1,497.1 141.4,501.4 140.0,510.0 134.3,520.0 127.1,528.6 120.0,538.6 117.1,531.4 122.9,517.1 121.4,505.7Z" fill="url(#mixB)"/>
<path d="M122.9,504.3 131.4,502.9 137.1,508.6 134.3,520.0 128.6,527.1 122.9,535.7 120.0,531.4 122.9,521.4 121.4,511.4Z" fill="url(#mixD)"/>
<path d="M122.9,502.9 131.4,501.4 136.4,507.1 134.3,517.1 130.0,524.3 125.7,531.4 121.4,538.6 118.6,535.7 122.9,525.7 121.4,514.3Z" fill="url(#mixP2)"/>
<path d="M101.4,484.3 108.6,485.7 108.6,491.4 102.9,491.4Z" fill="url(#mixD)"/>
<path d="M108.6,528.6 120.0,534.3 120.0,548.6 114.3,554.3 110.0,545.7Z" fill="url(#mixY)"/>
<path d="M207.9,421.1 254.3,419.3 291.4,428.6 298.8,434.1 272.9,436.0 235.7,430.4 207.9,430.4Z" fill="url(#mixY)"/>
<path d="M176.0,418.0 196.0,418.0 198.0,432.0 186.0,436.0 178.0,434.0Z" fill="url(#mixY)"/>
<path d="M187.4,432.3 217.1,429.5 250.6,431.4 267.3,436.0 287.7,440.6 295.1,447.1 293.3,453.6 284.0,452.7 267.3,448.1 250.6,444.4 235.7,445.3 217.1,446.2 198.6,449.9 187.4,449.0Z" fill="url(#mixB)"/>
<path d="M191.1,437.9 202.3,436.0 217.1,435.1 235.7,436.0 250.6,437.9 261.7,442.5 276.6,444.4 287.7,446.2 291.4,450.9 284.0,451.8 269.1,449.0 254.3,445.3 239.4,443.4 220.9,442.5 204.1,445.3 193.0,445.3Z" fill="url(#mixD)"/>
<path d="M194.9,439.7 217.1,436.9 241.3,437.9 250.6,439.7 246.9,442.5 226.4,440.6 207.9,442.5 196.7,443.4Z" fill="url(#mixP)"/>
<path d="M261.7,443.4 278.4,445.3 289.6,448.1 285.8,450.9 272.9,448.1 263.6,446.2Z" fill="url(#mixP)"/>
<path d="M241.3,454.6 261.7,452.7 276.6,457.4 289.6,462.0 291.4,473.1 276.6,476.9 254.3,471.3 241.3,463.9Z" fill="url(#mixB)"/>
<path d="M245.0,456.4 259.9,454.6 274.7,460.1 285.8,463.9 284.0,471.3 267.3,471.3 250.6,465.7 243.1,462.0Z" fill="url(#mixD)"/>
<path d="M248.7,458.3 259.9,457.4 269.1,461.1 265.4,465.7 254.3,464.8 246.9,462.0Z" fill="url(#mixP)"/>
<path d="M191.1,447.1 207.9,449.0 207.9,458.3 194.9,458.3Z" fill="url(#mixB)"/>
<path d="M165.0,449.0 177.0,448.0 178.0,457.0 166.0,458.0Z" fill="url(#mixB)"/>
<path d="M211.0,458.0 214.0,457.1 221.4,467.9 219.0,469.3Z" fill="url(#mixRO)"/>
<path d="M166.0,459.0 198.6,458.4 198.6,461.5 166.0,462.0Z" fill="url(#mixD)"/>
<path d="M234.0,462.5 238.5,461.5 248.5,467.0 247.5,470.5 236.0,466.5Z" fill="url(#mixRO)"/>
<path d="M173.0,438.0 187.4,436.9 188.4,449.0 176.0,451.0 172.0,446.0Z" fill="url(#mixRO)"/>
<path d="M286.8,456.4 290.5,456.4 290.5,460.1 286.8,460.1Z" fill="#FF7300"/>
<path d="M159.6,466.0 228.1,466.0 223.6,480.3 206.4,481.4 189.3,481.4 172.1,480.3 159.6,480.3Z" fill="url(#mixY)"/>
<path d="M159.6,480.3 172.1,481.4 189.3,482.0 191.6,487.1 183.6,489.4 172.1,490.6 161.9,489.4 159.6,484.9Z" fill="url(#mixD)"/>
<path d="M161.9,482.6 171.0,482.6 187.0,483.1 188.1,486.0 177.9,487.1 168.7,488.3 163.0,487.1Z" fill="url(#mixP)"/>
<path d="M196.1,482.6 208.7,483.7 209.9,497.4 205.3,500.9 200.7,492.9 197.3,488.3Z" fill="url(#mixD)"/>
<path d="M198.4,484.9 206.4,485.4 207.6,495.1 204.1,496.3 200.7,489.4Z" fill="url(#mixP)"/>
<path d="M183.6,489.4 200.7,489.4 208.7,502.0 204.1,507.7 189.3,507.7 184.7,498.6Z" fill="url(#mixL)"/>
<path d="M198.4,506.6 211.0,505.4 214.4,513.4 208.7,520.3 204.1,524.9 199.6,518.0Z" fill="url(#mixD)"/>
<path d="M200.7,508.9 209.9,508.9 211.0,514.6 206.4,519.1 201.9,515.7Z" fill="url(#mixP)"/>
<path d="M185.9,502.0 191.6,503.1 192.1,512.3 187.6,512.3Z" fill="url(#mixD)"/>
<path d="M215.6,510.0 222.4,510.0 220.1,520.3 215.6,523.7Z" fill="#4010F0"/>
<path d="M197.3,524.9 200.7,524.9 200.7,527.1 197.3,527.1Z" fill="#FF7300"/>
<path d="M174.4,488.3 176.7,488.3 176.7,490.6 174.4,490.6Z" fill="#FF0000"/>
<path d="M206.0,481.5 208.5,481.5 208.5,483.5 206.0,483.5Z" fill="#FF0000"/>
<path d="M264.6,490.0 317.1,496.9 319.4,506.0 294.3,507.1 271.4,502.6Z" fill="url(#mixL)"/>
<path d="M282.9,519.7 294.3,512.9 305.7,514.0 309.1,522.0 308.0,530.0 300.0,532.3 288.6,530.0 281.7,527.7Z" fill="url(#mixY)"/>
<path d="M310.0,516.3 315.0,519.7 316.5,527.7 312.0,535.7 307.5,537.5 309.5,527.7Z" fill="url(#mixB)"/>
<path d="M279.4,526.6 282.9,527.7 282.9,532.3 280.0,532.3Z" fill="url(#mixD)"/>
<path d="M314.9,533.4 340.0,530.0 340.0,547.1 314.9,547.1Z" fill="url(#mixB)"/>
</g>
<path d="M54.2,428.1 59.1,425.6 62.7,424.5 69.6,422.9 72.0,423.4 75.9,424.0 78.1,424.3 80.8,425.0 84.2,424.4 87.6,423.9 88.9,424.5 92.1,424.8 94.6,425.7 97.9,425.9 102.0,425.3 106.2,426.1 108.1,425.4 111.7,422.5 111.4,424.1 112.7,425.0 113.6,425.6 116.5,424.5 118.7,424.3 117.3,426.8 114.2,427.8 111.7,429.2 106.9,430.8 102.8,434.0 103.4,434.8 104.8,436.3 106.4,437.5 109.6,438.4 108.7,440.7 110.0,442.1 112.1,439.0 114.8,436.5 116.1,433.5 117.0,431.2 119.9,431.4 121.6,432.3 121.7,434.5 123.3,435.0 125.7,433.2 126.2,435.5 127.1,437.0 128.7,439.0 129.6,441.1 128.0,442.2 125.5,443.5 120.5,443.5 116.9,445.4 121.0,444.5 121.4,445.1 120.3,446.6 120.8,447.5 123.1,448.3 124.2,447.7 122.5,448.9 118.2,450.4 114.8,450.4 114.0,452.3 112.2,453.0 110.2,453.7 108.2,455.8 107.3,457.7 107.2,459.4 104.6,460.9 101.3,463.4 101.0,467.1 100.8,469.8 99.8,470.1 98.9,467.1 98.2,465.0 96.5,464.5 93.7,464.7 93.1,466.1 90.8,465.4 88.5,465.5 85.4,467.6 84.4,470.9 84.0,473.8 84.8,476.6 86.3,477.7 89.2,477.3 90.5,474.8 93.5,474.1 92.8,477.3 91.9,480.0 94.0,480.1 96.5,481.1 95.7,485.4 96.9,487.2 99.6,486.9 101.5,488.0 100.5,488.9 98.8,489.4 97.4,488.5 95.3,487.0 93.7,485.8 92.3,483.3 89.1,482.2 86.5,479.9 84.1,480.4 80.1,478.6 76.3,475.5 76.8,473.8 76.0,472.1 74.0,469.5 72.1,465.7 70.6,463.0 71.3,465.5 71.8,467.7 72.6,471.2 73.1,472.5 71.1,470.7 69.9,468.0 69.2,465.0 68.9,462.2 68.2,460.7 66.5,460.1 66.2,456.9 66.2,454.5 66.2,453.7 67.5,451.0 70.1,447.3 70.8,445.3 72.4,444.8 71.3,443.7 69.8,442.8 70.7,441.6 70.9,439.0 71.0,436.5 69.9,435.2 68.6,433.8 65.8,433.5 65.0,432.5 60.3,434.0 60.8,432.5 58.9,434.3 55.7,435.5 50.9,437.0 46.1,438.5 43.4,439.0 48.2,437.3 53.5,435.0 51.8,434.8 50.4,434.7 50.4,433.0 51.5,431.6 53.7,430.4 57.9,429.2 56.2,429.1 54.1,429.0 54.2,428.1ZM130.4,417.3 132.2,418.7 138.2,419.2 138.1,421.4 138.2,423.2 139.1,424.8 136.9,427.3 137.5,430.1 138.9,432.5 141.2,433.5 143.4,432.5 145.4,429.6 148.1,428.1 152.0,425.7 156.9,425.4 160.1,423.6 160.0,422.3 162.1,420.1 163.1,418.5 164.5,416.5 168.1,414.7 163.6,414.2 158.3,413.4 151.5,413.5 143.7,414.2 140.7,414.4 137.8,415.1 134.9,415.6 132.3,416.5 130.4,417.3ZM157.8,428.2 159.4,427.4 162.2,427.6 164.4,427.3 165.3,428.4 164.1,429.4 161.8,430.2 158.6,429.8 159.0,429.2 157.8,428.2ZM122.8,420.8 125.1,422.0 127.1,423.5 128.9,424.5 130.4,426.8 130.6,427.8 127.7,429.2 127.4,430.6 125.8,431.6 123.2,430.8 121.6,429.6 119.7,429.3 118.3,429.2 122.5,427.0 124.0,425.7 121.3,425.6 121.3,424.5 119.2,424.2 116.3,423.9 115.2,423.2 116.0,421.4 118.8,420.9 122.8,420.8ZM97.4,421.3 104.1,421.2 108.4,421.4 106.6,423.6 104.4,425.0 101.5,425.1 96.3,425.4 93.8,424.8 96.8,423.6 95.7,422.7 97.4,421.3ZM91.0,422.5 95.0,420.3 99.6,420.3 99.4,421.0 94.2,422.9 91.0,422.5ZM125.5,418.5 131.7,416.5 136.9,415.4 140.3,414.2 135.6,413.7 130.1,413.7 122.4,414.4 118.7,415.4 117.9,416.5 119.5,417.7 121.6,418.7 125.5,418.5ZM123.4,420.1 116.9,420.1 115.9,419.2 121.2,418.4 124.6,418.7 123.4,420.1ZM108.2,419.3 99.7,419.7 102.9,418.1 106.3,418.3 108.2,419.3ZM114.3,420.1 109.4,419.9 110.6,418.9 115.3,418.1 114.3,420.1ZM114.6,422.3 112.0,421.9 113.2,420.6 115.8,420.6 114.6,422.3ZM110.2,422.7 107.4,422.5 108.9,421.0 111.9,420.6 110.2,422.7ZM115.9,430.1 112.1,429.6 112.4,428.2 114.9,427.8 115.9,430.1ZM125.2,446.2 126.9,444.2 129.3,442.0 129.0,444.1 130.3,445.2 130.7,446.3 129.8,447.2 127.9,446.3 125.2,446.2ZM29.2,474.9 30.0,475.7 29.2,476.8 28.8,476.3ZM27.3,474.0 27.9,474.3 27.4,474.4ZM40.5,440.1 41.9,439.5 43.4,439.2 41.1,440.3ZM37.2,440.9 39.0,440.4 37.8,441.1ZM32.8,441.6 34.4,441.3 33.5,441.7ZM29.7,441.8 31.2,441.6 30.3,442.0ZM54.5,436.2 56.8,435.5 55.8,436.2 54.4,436.7ZM284.3,506.1 285.2,506.2 284.7,506.7 283.9,506.5ZM285.3,506.2 285.9,506.2 285.7,506.8ZM286.2,506.3 288.1,506.1 288.1,506.7 286.1,506.9ZM288.8,506.4 291.9,506.1 291.9,506.5 289.0,506.8ZM288.0,507.5 289.7,507.9 288.4,507.9ZM292.2,508.2 293.7,506.9 295.9,506.3 293.7,507.7ZM297.0,500.5 299.6,500.5 299.3,501.3 297.1,501.0ZM296.5,495.3 297.5,496.7 297.0,498.1 296.5,496.7ZM292.6,483.8 294.2,484.3 294.0,485.4 293.0,485.1ZM290.6,484.6 291.6,484.9 291.2,486.0 290.6,485.6ZM291.5,485.5 292.2,486.0 291.8,487.5 291.3,486.6ZM292.8,484.9 293.5,485.2 293.8,486.4 293.1,486.3ZM288.8,482.7 290.0,483.2 289.8,484.1 289.1,483.8ZM286.4,488.2 288.3,485.0 288.6,486.0 286.7,488.4ZM323.9,504.5 326.1,505.9 327.4,507.1 324.3,505.3ZM316.3,503.2 318.3,503.0 319.8,501.8 319.2,503.3 316.8,503.9ZM341.7,516.1 342.9,515.9 342.5,516.8 341.7,516.6ZM328.5,519.0 330.8,521.2 330.2,521.5 328.5,519.6ZM332.1,513.4 332.8,513.9 332.4,514.5ZM123.7,416.1 122.3,414.8 118.7,415.4 118.0,416.9 120.8,417.0ZM114.6,417.7 111.9,416.9 110.0,417.4 112.2,418.1ZM115.0,416.9 117.5,416.3 117.8,417.0ZM102.9,418.5 98.0,418.7 101.4,417.4 103.2,417.8ZM115.2,419.9 113.4,419.8 114.8,419.1 116.2,419.2ZM124.8,421.6 121.8,421.3 122.8,420.7 124.7,420.9ZM108.8,425.4 106.3,425.2 107.4,424.3 109.1,424.3ZM115.0,430.9 112.8,431.4 112.8,430.8 114.6,430.3ZM202.9,415.8 207.1,415.1 212.1,415.4 207.7,415.9ZM187.3,417.1 189.9,417.8 188.7,418.1 186.2,417.7ZM95.7,473.7 99.7,472.3 102.7,473.9 105.6,475.5 102.5,475.8 100.4,473.9 98.1,473.5 95.7,473.7ZM105.1,477.5 106.9,475.8 110.0,476.1 111.0,477.3 107.8,478.3 105.1,477.5ZM101.5,477.6 103.5,477.8 102.7,478.1 101.5,477.6ZM112.0,477.3 113.5,477.5 113.2,477.9 111.9,477.9ZM101.4,488.0 103.5,485.7 105.9,484.9 106.9,484.0 107.3,485.4 110.6,485.8 114.4,485.7 116.3,485.7 117.6,488.1 120.4,490.8 123.7,491.0 126.0,492.4 127.4,495.3 127.9,497.2 130.3,498.1 132.7,499.8 137.0,500.3 139.8,502.2 141.5,503.0 141.8,506.9 139.5,510.2 138.2,511.8 138.2,516.1 137.2,519.3 136.4,521.5 133.6,522.2 130.6,525.0 130.2,527.9 129.0,530.6 127.2,533.6 125.6,534.9 122.8,534.4 124.2,536.5 124.0,538.3 120.3,539.2 120.5,540.8 118.3,541.5 119.6,542.9 119.1,545.6 117.8,546.8 119.8,548.5 119.0,550.3 118.4,551.9 119.4,553.4 122.4,555.8 119.6,556.5 116.2,554.4 114.2,552.9 111.8,548.7 111.4,545.6 111.2,542.4 109.6,537.0 110.0,531.7 109.3,527.4 109.5,523.1 109.2,517.2 106.8,515.3 103.1,512.3 100.5,507.5 99.2,504.6 97.8,502.6 98.9,500.5 98.1,498.3 98.8,496.4 100.0,495.3 101.3,492.9 101.5,490.3 101.4,488.0ZM167.0,457.5 166.8,455.3 167.4,452.1 167.1,450.9 168.2,450.3 171.6,450.6 173.8,450.6 174.0,448.1 173.2,446.6 171.1,445.8 173.8,445.0 176.3,443.7 177.1,442.6 178.3,442.1 179.1,440.6 181.5,440.0 181.9,438.0 181.5,436.7 183.2,435.8 183.3,437.5 182.9,438.7 183.9,439.5 186.3,439.5 189.4,438.7 191.8,438.5 191.5,436.5 193.8,436.3 193.1,434.2 196.5,434.0 197.9,433.5 192.6,433.5 191.3,432.5 190.9,430.6 193.2,428.7 190.8,427.9 189.0,430.1 188.2,432.5 189.2,434.0 188.0,437.0 185.4,438.0 184.9,437.0 183.5,434.7 182.7,434.5 181.3,435.5 179.3,434.5 178.8,432.1 180.9,430.3 183.7,428.2 185.6,425.9 187.4,424.3 190.7,423.6 194.0,423.2 196.3,424.1 197.8,424.7 203.9,426.4 204.1,427.8 200.0,428.7 202.9,429.6 206.6,427.8 205.7,425.4 212.1,425.6 213.4,425.4 216.6,425.0 220.5,424.4 220.6,421.4 224.1,422.7 225.9,425.9 224.8,421.9 227.5,421.0 231.3,420.1 235.1,418.9 238.9,417.4 249.1,421.0 254.2,421.4 259.4,421.9 259.7,421.6 268.0,421.9 275.9,422.7 284.6,424.1 291.8,424.3 298.0,424.7 299.9,425.1 305.4,428.7 304.6,429.2 306.5,431.1 305.5,432.5 304.4,433.5 300.9,433.7 302.0,436.0 302.9,437.5 303.8,441.6 303.6,442.6 300.7,440.1 296.7,436.5 297.6,435.5 296.6,432.1 295.1,432.1 293.6,434.0 289.8,434.0 284.6,434.2 286.9,439.0 285.0,439.5 292.5,445.2 291.4,450.5 288.5,451.5 288.1,453.7 290.9,458.5 289.3,460.0 288.8,460.1 287.0,456.9 284.5,454.5 282.3,455.3 280.9,453.4 279.2,455.3 279.2,455.8 281.1,457.5 284.1,457.2 282.9,459.6 285.9,463.4 286.7,465.0 285.9,468.7 283.9,472.0 280.9,473.3 278.3,474.7 278.0,475.4 276.3,474.0 274.7,475.7 274.3,477.3 276.3,479.5 278.3,483.3 278.3,484.9 276.1,487.0 274.6,488.0 274.7,486.5 272.7,486.0 270.1,482.9 269.4,486.5 270.6,489.7 273.7,495.7 271.3,494.6 268.6,488.6 268.5,486.5 266.8,479.5 264.1,480.0 263.3,477.3 261.0,474.7 259.0,473.6 256.3,474.1 256.0,475.7 252.3,479.5 250.9,483.3 250.8,486.2 248.7,488.5 247.1,486.5 244.9,481.1 243.5,476.8 242.8,474.1 240.3,473.0 238.8,472.0 236.6,469.8 232.1,470.1 227.7,469.0 227.0,468.2 222.9,467.3 219.7,464.8 219.0,465.5 221.3,468.7 222.8,469.8 226.1,470.9 227.1,469.0 227.5,470.9 230.8,473.0 229.2,476.8 226.8,479.0 224.1,480.6 220.9,482.2 217.6,483.5 216.2,483.6 215.4,481.1 211.5,474.1 209.4,470.4 207.3,467.1 207.1,465.5 206.5,467.1 204.9,465.1 204.5,463.7 206.5,463.4 207.2,459.6 207.2,457.9 203.7,458.3 200.0,457.8 198.3,455.3 198.3,453.7 200.4,453.0 205.5,452.1 211.2,452.6 211.1,451.0 207.5,448.9 203.7,449.5 200.5,447.9 199.6,450.5 199.5,452.6 197.8,453.4 195.2,453.9 195.1,457.5 193.6,455.8 192.0,452.3 188.8,450.5 186.7,448.3 185.6,449.5 187.0,451.6 189.0,452.6 191.3,454.1 189.6,455.3 189.0,456.4 189.1,454.2 187.3,453.2 185.5,452.1 184.1,450.5 182.3,449.6 180.7,450.9 178.1,450.7 177.8,452.1 175.1,455.3 174.4,456.8 173.3,457.8 170.0,458.5 169.3,457.7 167.0,457.5ZM50.2,425.1 51.7,426.4 53.5,427.6 51.6,428.4 48.9,429.4 46.2,428.7 44.7,428.7ZM169.8,458.7 173.3,459.5 177.7,457.7 184.0,457.2 184.9,459.6 184.3,460.9 188.7,462.5 192.9,464.7 193.2,462.8 195.9,462.3 197.8,463.4 201.5,464.0 204.2,463.7 204.9,465.1 205.9,467.7 208.1,471.6 210.0,477.0 211.8,480.0 214.3,482.7 216.1,484.4 217.3,486.1 223.5,484.6 223.4,486.0 222.1,490.3 219.3,494.6 215.1,498.3 213.1,501.0 212.1,504.2 213.4,509.1 213.3,513.4 207.8,518.8 208.0,521.5 205.4,525.0 204.9,527.9 202.9,530.6 199.4,533.6 194.9,533.8 191.7,534.1 191.4,531.7 188.9,526.3 188.6,521.5 186.2,515.5 187.8,510.2 186.7,503.7 183.6,497.8 184.4,493.5 183.1,492.4 180.8,492.6 177.9,490.4 173.1,492.1 167.9,492.5 164.6,489.9 162.2,487.0 159.2,483.8 158.7,481.4 160.0,477.9 159.6,474.7 161.6,469.3 165.9,465.7 166.2,463.4 168.9,460.7 169.8,458.7ZM221.7,510.2 222.7,513.9 221.5,516.6 218.6,524.1 216.7,524.7 215.6,520.9 216.8,515.0 218.9,513.9 221.7,510.2ZM170.3,443.7 176.3,442.6 176.4,440.9 175.1,440.1 173.9,438.0 173.5,436.5 172.4,434.9 171.2,434.9 170.4,436.5 170.7,438.1 172.7,439.0 172.6,440.2 171.2,440.8 170.8,441.8 172.6,442.2 170.3,443.7ZM170.2,441.4 170.2,439.5 170.4,438.5 169.1,438.2 167.0,439.3 166.7,441.6 168.5,442.0 170.2,441.4ZM181.7,417.0 184.5,415.8 191.0,415.5 192.0,416.7 186.3,418.4 181.7,417.0ZM209.7,422.7 211.6,419.7 217.8,418.2 214.8,419.7 212.6,423.2 209.7,422.7ZM232.8,416.5 233.3,415.1 237.3,415.4 238.2,416.9 232.8,416.5ZM263.5,420.6 264.8,418.9 270.9,419.5 268.0,421.4 263.5,420.6ZM295.5,423.0 296.1,422.7 297.0,423.3ZM280.9,520.9 280.5,525.2 278.8,533.8 280.9,534.9 286.5,533.8 289.5,531.9 294.3,531.1 296.5,532.5 299.3,533.3 298.7,535.5 299.2,538.1 301.8,539.0 304.4,539.2 308.4,537.6 314.6,530.6 316.3,527.4 316.9,524.1 315.3,521.5 312.1,517.2 312.3,513.4 310.1,508.9 308.9,511.2 308.2,515.5 306.2,516.1 303.3,513.9 304.8,510.2 300.6,509.4 298.1,510.7 296.8,513.4 294.1,512.3 290.3,515.5 288.4,518.2 284.4,519.5 280.9,520.9ZM301.6,541.0 304.7,541.2 302.8,543.7 300.8,544.1 301.6,541.0ZM330.6,534.3 331.2,536.0 333.6,537.8 330.9,539.7 327.6,541.9 328.8,539.7 328.3,539.4 330.6,534.3ZM326.4,540.8 326.8,542.1 324.1,544.0 321.5,545.0 318.0,547.3 316.4,546.6 319.4,544.5 324.5,541.9 326.4,540.8ZM293.1,460.7 297.1,461.2 300.8,459.6 300.7,457.5 300.0,454.8 298.3,452.7 297.7,453.7 298.8,456.4 296.7,457.5 296.5,459.0 293.0,460.1 293.1,460.7ZM297.1,452.6 297.7,451.6 300.6,450.7 299.5,449.8 295.7,448.4 296.0,451.0 297.1,452.6ZM292.3,461.4 293.9,461.2 294.4,463.5 293.7,463.8 292.3,461.4ZM295.6,447.9 294.2,444.2 289.1,439.2 291.7,442.6 295.6,447.9ZM286.8,472.5 287.7,470.1 287.9,473.6 287.6,473.6 286.8,472.5ZM276.8,476.6 278.5,475.6 279.0,476.3 277.9,477.7 276.8,476.6ZM287.7,477.3 289.8,477.3 290.0,479.8 292.3,483.3 289.4,482.6 288.8,481.7 287.7,477.3ZM291.0,489.7 294.6,487.0 295.3,489.7 294.4,491.0 291.0,489.8ZM265.7,491.2 267.8,491.7 270.8,495.1 274.1,498.3 276.0,500.7 275.9,503.5 274.5,503.6 271.3,499.9 268.9,495.6 265.7,491.2ZM275.1,504.6 275.9,503.7 280.6,504.2 283.9,505.5 283.8,506.6 280.5,506.1 275.4,504.8 275.1,504.6ZM278.9,495.6 280.8,495.4 283.6,492.4 285.3,489.8 288.6,491.5 287.5,496.2 286.0,499.4 285.5,501.6 284.1,501.0 280.8,500.5 279.8,499.2 278.9,497.8 278.9,495.6ZM288.8,503.2 289.8,500.3 290.1,496.0 294.1,495.5 290.4,496.7 292.7,498.3 290.8,499.4 291.6,502.4 290.3,501.0 289.7,503.2 288.8,503.2ZM299.9,498.3 302.7,498.2 306.5,499.0 309.3,500.0 313.7,502.4 315.3,503.9 318.0,508.5 314.5,507.8 311.3,506.9 309.4,507.1 306.1,506.1 305.9,502.6 303.6,501.9 301.2,501.6 300.8,500.3 299.9,498.3ZM250.9,489.7 251.1,486.7 252.8,489.2 252.1,490.8 250.9,489.7ZM70.2,579.4 77.7,580.1 81.1,579.1 82.5,576.8 85.9,575.2 91.0,574.4 96.7,573.8 103.5,573.9 109.5,573.5 115.5,572.9 122.3,573.1 125.3,572.6 127.7,571.3 128.4,569.1 128.7,567.2 130.5,565.0 132.6,564.1 133.2,564.5 131.9,565.6 131.0,567.5 131.4,569.5 133.6,572.2 135.4,573.9 136.8,575.2 144.3,577.1 150.6,577.2 153.3,576.4 159.1,575.2 165.2,573.1 168.3,571.3 175.1,570.4 181.9,570.4 188.7,570.4 195.7,570.0 202.9,569.1 210.7,567.2 217.6,567.7 224.1,568.6 223.3,570.0 231.4,568.1 239.2,567.2 246.7,566.7 253.9,566.7 260.6,567.2 268.0,566.9 274.5,567.5 279.6,569.1 284.6,570.4 289.4,571.8 283.7,573.9 277.7,576.4 276.5,578.4 279.9,579.4M215.2,448.9 216.5,447.3 219.8,446.8 220.7,448.9 218.7,449.5 218.8,451.6 220.8,452.6 221.7,454.8 223.0,456.9 218.6,456.9 218.5,454.2 216.3,452.1 215.2,448.9ZM224.7,448.4 225.4,447.3 227.3,447.9 227.5,450.0 225.9,450.4 224.7,448.4ZM97.3,447.1 101.4,445.4 103.8,445.8 103.5,447.3 100.6,447.3 97.3,447.1ZM98.6,452.4 100.1,450.0 102.0,448.0 102.7,448.4 100.3,451.0 99.8,452.4 98.6,452.4ZM102.7,450.5 103.3,447.9 106.2,448.1 106.5,449.5 104.2,451.0 102.7,450.5ZM102.4,452.4 105.4,451.3 106.7,451.3 103.1,452.7 102.4,452.4ZM106.2,450.7 109.4,450.5 109.4,449.8 107.1,450.2 106.2,450.7ZM259.9,441.8 261.1,441.1 261.4,438.0 262.6,438.5 261.9,441.6 260.1,442.1ZM205.3,498.3 206.0,496.9 207.5,497.0 207.4,498.3 206.5,499.9 205.3,498.3ZM202.9,501.0 204.0,506.4 204.5,506.2 203.4,501.0 202.9,501.0ZM207.3,507.5 207.6,512.3 208.1,512.3 207.9,507.5 207.3,507.5ZM95.5,439.8 96.8,439.5 96.4,441.6 95.3,443.2 95.0,442.6 95.1,441.1ZM86.8,432.5 90.4,431.1 94.3,430.8 92.2,431.6 89.3,432.3ZM85.0,428.2 89.3,426.8 91.3,427.3 88.9,428.7 86.7,428.7ZM89.5,434.8 92.5,434.0 94.1,434.3 91.9,434.7Z" fill="none" stroke="#000" stroke-width="0.7"/>
<path d="M266.3,410.5 267.7,410.9 269.0,411.3 270.4,411.7 271.7,412.1 273.2,412.6 274.8,413.1 276.4,413.7 278.2,414.4 279.9,415.1 281.6,415.8 283.4,416.5 285.2,417.3 287.0,418.1 288.8,418.9 290.5,419.7 292.2,420.6 293.8,421.4 295.3,422.3 296.8,423.2 298.3,424.1 299.8,425.0 301.2,425.9 302.6,426.8 304.0,427.8 305.4,428.7 306.7,429.6 308.1,430.6 309.4,431.6 310.7,432.5 312.0,433.5 313.3,434.5 314.6,435.5 315.9,436.5 317.1,437.5 318.3,438.5 319.5,439.5 320.6,440.6 321.8,441.6 322.9,442.6 323.9,443.7 325.0,444.7 326.0,445.8 326.9,446.8 327.9,447.9 328.8,448.9 329.7,450.0 330.6,451.0 331.5,452.1 332.3,453.2 333.2,454.2 333.9,455.3 334.7,456.4 335.4,457.5 336.1,458.5 336.8,459.6 337.4,460.7 338.0,461.8 338.6,462.8 339.2,463.9 339.7,465.0 340.2,466.1 340.7,467.1 341.2,468.2 341.6,469.3 342.0,470.4 342.3,471.4 342.7,472.5 343.0,473.6 343.3,474.7 343.5,475.7 343.8,476.8 344.1,477.9 344.4,479.0 344.6,480.0 344.9,481.1 345.1,482.2 345.3,483.3 345.5,484.3 345.7,485.4 345.8,486.5 345.9,487.6 346.1,488.6 346.2,489.7 346.3,490.8 346.4,491.9 346.4,492.9 346.5,494.0 346.5,495.1 346.6,496.2 346.6,497.2 346.6,498.3 346.5,499.4 346.5,500.5 346.4,501.6 346.4,502.6 346.3,503.7 346.2,504.8 346.1,505.9 345.9,506.9 345.8,508.0 345.7,509.1 345.5,510.2 345.3,511.2 345.1,512.3 344.9,513.4 344.6,514.5 344.4,515.5 344.1,516.6 343.8,517.7 343.5,518.8 343.3,519.8 343.0,520.9 342.7,522.0 342.3,523.1 342.0,524.1 341.6,525.2 341.2,526.3 340.7,527.4 340.2,528.4 339.7,529.5 339.2,530.6 338.6,531.7 338.0,532.7 337.4,533.8 336.8,534.9 336.1,536.0 335.4,537.0 334.7,538.1 333.9,539.2 333.2,540.3 332.3,541.3 331.5,542.4 330.6,543.5 329.7,544.5 328.8,545.6 327.9,546.6 326.9,547.7 326.0,548.7 325.0,549.8 323.9,550.8 322.9,551.9 321.8,552.9 320.6,553.9 319.5,555.0 318.3,556.0 317.1,557.0 315.9,558.0 314.6,559.0 313.3,560.0 312.0,561.0 310.7,562.0 309.4,562.9 308.1,563.9 306.7,564.9 305.4,565.8 304.0,566.7 302.6,567.7 301.2,568.6 299.8,569.5 298.3,570.4 296.8,571.3 295.3,572.2 293.8,573.1 292.2,573.9 290.5,574.8 288.8,575.6 287.0,576.4 285.2,577.2 283.4,578.0 281.6,578.7 279.9,579.4 278.2,580.1 276.4,580.8 274.8,581.4 273.2,581.9 271.7,582.4 270.4,582.8 269.0,583.2 267.7,583.6 266.3,584.0 83.8,584.0 82.4,583.6 81.1,583.2 79.7,582.8 78.4,582.4 76.9,581.9 75.3,581.4 73.7,580.8 71.9,580.1 70.2,579.4 68.5,578.7 66.7,578.0 64.9,577.2 63.1,576.4 61.3,575.6 59.6,574.8 57.9,573.9 56.3,573.1 54.8,572.2 53.3,571.3 51.8,570.4 50.3,569.5 48.9,568.6 47.5,567.7 46.1,566.7 44.7,565.8 43.4,564.9 42.0,563.9 40.7,562.9 39.4,562.0 38.1,561.0 36.8,560.0 35.5,559.0 34.2,558.0 33.0,557.0 31.8,556.0 30.6,555.0 29.5,553.9 28.3,552.9 27.2,551.9 26.2,550.8 25.1,549.8 24.1,548.7 23.2,547.7 22.2,546.6 21.3,545.6 20.4,544.5 19.5,543.5 18.6,542.4 17.8,541.3 16.9,540.3 16.2,539.2 15.4,538.1 14.7,537.0 14.0,536.0 13.3,534.9 12.7,533.8 12.1,532.7 11.5,531.7 10.9,530.6 10.4,529.5 9.9,528.4 9.4,527.4 8.9,526.3 8.5,525.2 8.1,524.1 7.8,523.1 7.4,522.0 7.1,520.9 6.8,519.8 6.6,518.8 6.3,517.7 6.0,516.6 5.7,515.5 5.5,514.5 5.2,513.4 5.0,512.3 4.8,511.2 4.6,510.2 4.4,509.1 4.3,508.0 4.2,506.9 4.0,505.9 3.9,504.8 3.8,503.7 3.7,502.6 3.7,501.6 3.6,500.5 3.6,499.4 3.5,498.3 3.5,497.2 3.5,496.2 3.6,495.1 3.6,494.0 3.7,492.9 3.7,491.9 3.8,490.8 3.9,489.7 4.0,488.6 4.2,487.6 4.3,486.5 4.4,485.4 4.6,484.3 4.8,483.3 5.0,482.2 5.2,481.1 5.5,480.0 5.7,479.0 6.0,477.9 6.3,476.8 6.6,475.7 6.8,474.7 7.1,473.6 7.4,472.5 7.8,471.4 8.1,470.4 8.5,469.3 8.9,468.2 9.4,467.1 9.9,466.1 10.4,465.0 10.9,463.9 11.5,462.8 12.1,461.8 12.7,460.7 13.3,459.6 14.0,458.5 14.7,457.5 15.4,456.4 16.2,455.3 16.9,454.2 17.8,453.2 18.6,452.1 19.5,451.0 20.4,450.0 21.3,448.9 22.2,447.9 23.2,446.8 24.1,445.8 25.1,444.7 26.2,443.7 27.2,442.6 28.3,441.6 29.5,440.6 30.6,439.5 31.8,438.5 33.0,437.5 34.2,436.5 35.5,435.5 36.8,434.5 38.1,433.5 39.4,432.5 40.7,431.6 42.0,430.6 43.4,429.6 44.7,428.7 46.1,427.8 47.5,426.8 48.9,425.9 50.3,425.0 51.8,424.1 53.3,423.2 54.8,422.3 56.3,421.4 57.9,420.6 59.6,419.7 61.3,418.9 63.1,418.1 64.9,417.3 66.7,416.5 68.5,415.8 70.2,415.1 71.9,414.4 73.7,413.7 75.3,413.1 76.9,412.6 78.4,412.1 79.7,411.7 81.1,411.3 82.4,410.9 83.8,410.5Z" fill="none" stroke="#444" stroke-width="0.85"/>
<clipPath id="land3"><path d="M404.0,428.1 408.9,425.6 412.6,424.5 419.4,422.9 421.8,423.4 425.7,424.0 428.0,424.3 430.7,425.0 434.1,424.4 437.4,423.9 438.8,424.5 441.9,424.8 444.5,425.7 447.8,425.9 451.8,425.3 456.1,426.1 458.0,425.4 461.6,422.5 461.2,424.1 462.5,425.0 463.4,425.6 466.3,424.5 468.5,424.3 467.1,426.8 464.0,427.8 461.6,429.2 456.8,430.8 452.6,434.0 453.3,434.8 454.6,436.3 456.2,437.5 459.5,438.4 458.5,440.7 459.9,442.1 461.9,439.0 464.7,436.5 465.9,433.5 466.9,431.2 469.8,431.4 471.5,432.3 471.5,434.5 473.2,435.0 475.6,433.2 476.1,435.5 477.0,437.0 478.6,439.0 479.4,441.1 477.8,442.2 475.3,443.5 470.4,443.5 466.7,445.4 470.8,444.5 471.2,445.1 470.1,446.6 470.7,447.5 473.0,448.3 474.0,447.7 472.4,448.9 468.1,450.4 464.6,450.4 463.8,452.3 462.1,453.0 460.1,453.7 458.1,455.8 457.1,457.7 457.0,459.4 454.5,460.9 451.2,463.4 450.8,467.1 450.6,469.8 449.6,470.1 448.8,467.1 448.0,465.0 446.3,464.5 443.5,464.7 442.9,466.1 440.6,465.4 438.3,465.5 435.3,467.6 434.3,470.9 433.8,473.8 434.6,476.6 436.2,477.7 439.0,477.3 440.3,474.8 443.4,474.1 442.7,477.3 441.7,480.0 443.9,480.1 446.3,481.1 445.6,485.4 446.8,487.2 449.5,486.9 451.4,488.0 450.3,488.9 448.7,489.4 447.3,488.5 445.2,487.0 443.5,485.8 442.1,483.3 438.9,482.2 436.3,479.9 433.9,480.4 429.9,478.6 426.2,475.5 426.6,473.8 425.8,472.1 423.8,469.5 421.9,465.7 420.5,463.0 421.2,465.5 421.7,467.7 422.4,471.2 422.9,472.5 421.0,470.7 419.8,468.0 419.0,465.0 418.7,462.2 418.0,460.7 416.3,460.1 416.0,456.9 416.1,454.5 416.0,453.7 417.3,451.0 419.9,447.3 420.6,445.3 422.2,444.8 421.2,443.7 419.6,442.8 420.6,441.6 420.8,439.0 420.9,436.5 419.7,435.2 418.4,433.8 415.7,433.5 414.8,432.5 410.2,434.0 410.7,432.5 408.7,434.3 405.5,435.5 400.8,437.0 396.0,438.5 393.3,439.0 398.1,437.3 403.3,435.0 401.6,434.8 400.2,434.7 400.3,433.0 401.3,431.6 403.6,430.4 407.7,429.2 406.0,429.1 404.0,429.0 404.0,428.1ZM480.2,417.3 482.2,416.5 484.8,415.6 487.6,415.1 490.5,414.4 493.6,414.2 501.4,413.5 508.1,413.4 513.5,414.2 518.0,414.7 514.4,416.5 513.0,418.5 512.0,420.1 509.9,422.3 509.9,423.6 506.8,425.4 501.8,425.7 497.9,428.1 495.3,429.6 493.2,432.5 491.0,433.5 488.7,432.5 487.4,430.1 486.8,427.3 488.9,424.8 488.0,423.2 488.0,421.4 488.0,419.2 482.1,418.7 480.2,417.3ZM507.6,428.2 509.2,427.4 512.0,427.6 514.2,427.3 515.2,428.4 514.0,429.4 511.6,430.2 508.4,429.8 508.9,429.2 507.6,428.2ZM472.6,420.8 475.0,422.0 477.0,423.5 478.7,424.5 480.3,426.8 480.5,427.8 477.6,429.2 477.2,430.6 475.6,431.6 473.1,430.8 471.5,429.6 469.5,429.3 468.1,429.2 472.3,427.0 473.8,425.7 471.1,425.6 471.2,424.5 469.0,424.2 466.1,423.9 465.0,423.2 465.9,421.4 468.6,420.9 472.6,420.8ZM447.3,421.3 454.0,421.2 458.3,421.4 456.5,423.6 454.2,425.0 451.4,425.1 446.1,425.4 443.7,424.8 446.6,423.6 445.6,422.7 447.3,421.3ZM440.8,422.5 444.9,420.3 449.4,420.3 449.2,421.0 444.0,422.9 440.8,422.5ZM475.4,418.5 471.4,418.7 469.4,417.7 467.7,416.5 468.5,415.4 472.2,414.4 479.9,413.7 485.5,413.7 490.1,414.2 486.7,415.4 481.6,416.5 475.4,418.5ZM473.3,420.1 466.7,420.1 465.8,419.2 471.1,418.4 474.5,418.7 473.3,420.1ZM458.0,419.3 449.5,419.7 452.7,418.1 456.1,418.3 458.0,419.3ZM464.2,420.1 459.3,419.9 460.4,418.9 465.2,418.1 464.2,420.1ZM464.4,422.3 461.8,421.9 463.1,420.6 465.7,420.6 464.4,422.3ZM460.0,422.7 457.2,422.5 458.7,421.0 461.8,420.6 460.0,422.7ZM465.7,430.1 462.0,429.6 462.2,428.2 464.7,427.8 465.7,430.1ZM475.1,446.2 476.8,444.2 479.1,442.0 478.9,444.1 480.2,445.2 480.6,446.3 479.6,447.2 477.8,446.3 475.1,446.2ZM379.1,474.9 379.8,475.7 379.1,476.8 378.7,476.3ZM377.1,474.0 377.7,474.3 377.2,474.4ZM390.4,440.1 391.7,439.5 393.2,439.2 391.0,440.3ZM387.1,440.9 388.8,440.4 387.7,441.1ZM382.7,441.6 384.2,441.3 383.4,441.7ZM379.6,441.8 381.0,441.6 380.2,442.0ZM404.4,436.2 406.7,435.5 405.7,436.2 404.2,436.7ZM634.1,506.1 635.1,506.2 634.6,506.7 633.7,506.5ZM635.2,506.2 635.8,506.2 635.5,506.8ZM636.0,506.3 637.9,506.1 637.9,506.7 636.0,506.9ZM638.7,506.4 641.7,506.1 641.7,506.5 638.8,506.8ZM637.8,507.5 639.5,507.9 638.3,507.9ZM642.0,508.2 643.6,506.9 645.7,506.3 643.5,507.7ZM646.8,500.5 649.5,500.5 649.2,501.3 647.0,501.0ZM646.4,495.3 647.4,496.7 646.9,498.1 646.4,496.7ZM642.4,483.8 644.0,484.3 643.9,485.4 642.9,485.1ZM640.4,484.6 641.4,484.9 641.1,486.0 640.5,485.6ZM641.3,485.5 642.0,486.0 641.7,487.5 641.1,486.6ZM642.7,484.9 643.4,485.2 643.7,486.4 643.0,486.3ZM638.6,482.7 639.8,483.2 639.6,484.1 638.9,483.8ZM636.2,488.2 638.1,485.0 638.4,486.0 636.5,488.4ZM673.7,504.5 676.0,505.9 677.3,507.1 674.1,505.3ZM666.2,503.2 668.1,503.0 669.6,501.8 669.0,503.3 666.6,503.9ZM691.6,516.1 692.7,515.9 692.3,516.8 691.5,516.6ZM678.4,519.0 680.6,521.2 680.1,521.5 678.4,519.6ZM682.0,513.4 682.6,513.9 682.2,514.5ZM470.7,417.0 467.8,416.9 468.5,415.4 472.2,414.8 473.6,416.1ZM462.1,418.1 459.8,417.4 461.8,416.9 464.4,417.7ZM464.8,416.9 467.4,416.3 467.7,417.0ZM452.8,418.5 447.8,418.7 451.2,417.4 453.1,417.8ZM465.1,419.9 463.2,419.8 464.7,419.1 466.1,419.2ZM474.6,421.6 471.6,421.3 472.7,420.7 474.5,420.9ZM458.7,425.4 456.1,425.2 457.3,424.3 459.0,424.3ZM464.8,430.9 462.7,431.4 462.7,430.8 464.5,430.3ZM552.7,415.8 556.9,415.1 561.9,415.4 557.6,415.9ZM537.1,417.1 539.8,417.8 538.6,418.1 536.0,417.7ZM445.6,473.7 449.5,472.3 452.6,473.9 455.5,475.5 452.3,475.8 450.2,473.9 448.0,473.5 445.6,473.7ZM455.0,477.5 456.7,475.8 459.8,476.1 460.8,477.3 457.7,478.3 455.0,477.5ZM451.4,477.6 453.3,477.8 452.6,478.1 451.4,477.6ZM461.8,477.3 463.3,477.5 463.1,477.9 461.8,477.9ZM451.3,488.0 453.3,485.7 455.7,484.9 456.7,484.0 457.1,485.4 460.4,485.8 464.2,485.7 466.1,485.7 467.4,488.1 470.2,490.8 473.5,491.0 475.9,492.4 477.3,495.3 477.7,497.2 480.1,498.1 482.5,499.8 486.8,500.3 489.7,502.2 491.3,503.0 491.7,506.9 489.4,510.2 488.0,511.8 488.1,516.1 487.0,519.3 486.2,521.5 483.5,522.2 480.5,525.0 480.0,527.9 478.8,530.6 477.1,533.6 475.5,534.9 472.7,534.4 474.0,536.5 473.9,538.3 470.2,539.2 470.3,540.8 468.2,541.5 469.4,542.9 469.0,545.6 467.7,546.8 469.7,548.5 468.9,550.3 468.2,551.9 469.3,553.4 472.3,555.8 469.4,556.5 466.1,554.4 464.0,552.9 461.6,548.7 461.3,545.6 461.0,542.4 459.4,537.0 459.8,531.7 459.2,527.4 459.4,523.1 459.0,517.2 456.7,515.3 452.9,512.3 450.4,507.5 449.0,504.6 447.6,502.6 448.7,500.5 447.9,498.3 448.7,496.4 449.8,495.3 451.1,492.9 451.4,490.3 451.3,488.0ZM516.9,457.5 516.7,455.3 517.3,452.1 517.0,450.9 518.0,450.3 521.5,450.6 523.6,450.6 523.9,448.1 523.0,446.6 521.0,445.8 523.6,445.0 526.1,443.7 527.0,442.6 528.2,442.1 528.9,440.6 531.3,440.0 531.7,438.0 531.3,436.7 533.1,435.8 533.2,437.5 532.7,438.7 533.7,439.5 536.1,439.5 539.2,438.7 541.6,438.5 541.3,436.5 543.6,436.3 542.9,434.2 546.3,434.0 547.7,433.5 542.4,433.5 541.1,432.5 540.8,430.6 543.0,428.7 540.7,427.9 538.9,430.1 538.1,432.5 539.0,434.0 537.9,437.0 535.2,438.0 534.7,437.0 533.4,434.7 532.6,434.5 531.1,435.5 529.1,434.5 528.7,432.1 530.8,430.3 533.5,428.2 535.4,425.9 537.3,424.3 540.6,423.6 543.8,423.2 546.1,424.1 547.7,424.7 553.8,426.4 553.9,427.8 549.9,428.7 552.7,429.6 556.4,427.8 555.6,425.4 561.9,425.6 563.2,425.4 566.5,425.0 570.3,424.4 570.4,421.4 574.0,422.7 575.7,425.9 574.7,421.9 577.3,421.0 581.1,420.1 584.9,418.9 588.8,417.4 598.9,421.0 604.0,421.4 609.2,421.9 609.5,421.6 617.8,421.9 625.8,422.7 634.5,424.1 641.6,424.3 647.8,424.7 649.8,425.1 655.2,428.7 654.5,429.2 656.4,431.1 655.3,432.5 654.3,433.5 650.7,433.7 651.8,436.0 652.7,437.5 653.7,441.6 653.4,442.6 650.6,440.1 646.5,436.5 647.4,435.5 646.4,432.1 644.9,432.1 643.4,434.0 639.6,434.0 634.5,434.2 636.8,439.0 634.8,439.5 642.3,445.2 641.2,450.5 638.4,451.5 637.9,453.7 640.8,458.5 639.2,460.0 638.6,460.1 636.9,456.9 634.4,454.5 632.1,455.3 630.7,453.4 629.1,455.3 629.0,455.8 630.9,457.5 633.9,457.2 632.7,459.6 635.8,463.4 636.5,465.0 635.8,468.7 633.7,472.0 630.7,473.3 628.2,474.7 627.8,475.4 626.2,474.0 624.6,475.7 624.2,477.3 626.1,479.5 628.2,483.3 628.2,484.9 626.0,487.0 624.4,488.0 624.5,486.5 622.6,486.0 619.9,482.9 619.3,486.5 620.4,489.7 623.5,495.7 621.1,494.6 618.5,488.6 618.3,486.5 616.7,479.5 613.9,480.0 613.1,477.3 610.9,474.7 608.9,473.6 606.1,474.1 605.9,475.7 602.1,479.5 600.8,483.3 600.7,486.2 598.5,488.5 597.0,486.5 594.7,481.1 593.4,476.8 592.7,474.1 590.1,473.0 588.6,472.0 586.5,469.8 581.9,470.1 577.6,469.0 576.9,468.2 572.8,467.3 569.5,464.8 568.9,465.5 571.1,468.7 572.6,469.8 576.0,470.9 576.9,469.0 577.4,470.9 580.6,473.0 579.1,476.8 576.6,479.0 573.9,480.6 570.7,482.2 567.5,483.5 566.1,483.6 565.3,481.1 561.3,474.1 559.2,470.4 557.1,467.1 557.0,465.5 556.4,467.1 554.7,465.1 554.3,463.7 556.3,463.4 557.1,459.6 557.0,457.9 553.5,458.3 549.9,457.8 548.1,455.3 548.1,453.7 550.2,453.0 555.3,452.1 561.1,452.6 560.9,451.0 557.4,448.9 553.6,449.5 550.4,447.9 549.5,450.5 549.3,452.6 547.6,453.4 545.1,453.9 544.9,457.5 543.5,455.8 541.9,452.3 538.7,450.5 536.6,448.3 535.4,449.5 536.9,451.6 538.8,452.6 541.1,454.1 539.5,455.3 538.8,456.4 539.0,454.2 537.1,453.2 535.3,452.1 533.9,450.5 532.2,449.6 530.5,450.9 527.9,450.7 527.7,452.1 524.9,455.3 524.3,456.8 523.1,457.8 519.9,458.5 519.1,457.7 516.9,457.5ZM400.0,425.1 401.6,426.4 403.4,427.6 401.5,428.4 398.7,429.4 396.0,428.7 394.6,428.7ZM519.6,458.7 523.1,459.5 527.6,457.7 533.8,457.2 534.8,459.6 534.1,460.9 538.5,462.5 542.7,464.7 543.1,462.8 545.8,462.3 547.7,463.4 551.4,464.0 554.1,463.7 554.7,465.1 555.8,467.7 557.9,471.6 559.9,477.0 561.6,480.0 564.1,482.7 565.9,484.4 567.1,486.1 573.4,484.6 573.3,486.0 572.0,490.3 569.2,494.6 564.9,498.3 563.0,501.0 562.0,504.2 563.3,509.1 563.1,513.4 557.7,518.8 557.8,521.5 555.3,525.0 554.8,527.9 552.7,530.6 549.3,533.6 544.7,533.8 541.6,534.1 541.3,531.7 538.7,526.3 538.4,521.5 536.0,515.5 537.7,510.2 536.5,503.7 533.5,497.8 534.2,493.5 533.0,492.4 530.6,492.6 527.8,490.4 523.0,492.1 517.8,492.5 514.4,489.9 512.1,487.0 509.0,483.8 508.6,481.4 509.9,477.9 509.5,474.7 511.5,469.3 515.7,465.7 516.1,463.4 518.8,460.7 519.6,458.7ZM571.6,510.2 572.5,513.9 571.4,516.6 568.5,524.1 566.6,524.7 565.5,520.9 566.6,515.0 568.7,513.9 571.6,510.2ZM520.2,443.7 522.4,442.2 520.7,441.8 521.1,440.8 522.5,440.2 522.5,439.0 520.5,438.1 520.2,436.5 521.0,434.9 522.2,434.9 523.3,436.5 523.7,438.0 524.9,440.1 526.3,440.9 526.1,442.6 520.2,443.7ZM520.0,441.4 518.4,442.0 516.5,441.6 516.9,439.3 518.9,438.2 520.3,438.5 520.1,439.5 520.0,441.4ZM531.6,417.0 534.4,415.8 540.8,415.5 541.8,416.7 536.2,418.4 531.6,417.0ZM559.5,422.7 561.5,419.7 567.7,418.2 564.7,419.7 562.4,423.2 559.5,422.7ZM582.7,416.5 583.1,415.1 587.2,415.4 588.0,416.9 582.7,416.5ZM613.4,420.6 614.7,418.9 620.7,419.5 617.9,421.4 613.4,420.6ZM645.4,423.0 645.9,422.7 646.8,423.3ZM630.8,520.9 634.3,519.5 638.3,518.2 640.1,515.5 643.9,512.3 646.6,513.4 647.9,510.7 650.4,509.4 654.6,510.2 653.1,513.9 656.0,516.1 658.0,515.5 658.7,511.2 660.0,508.9 662.2,513.4 661.9,517.2 665.2,521.5 666.8,524.1 666.2,527.4 664.4,530.6 658.2,537.6 654.2,539.2 651.7,539.0 649.1,538.1 648.6,535.5 649.2,533.3 646.3,532.5 644.2,531.1 639.3,531.9 636.3,533.8 630.7,534.9 628.6,533.8 630.4,525.2 630.8,520.9ZM651.5,541.0 654.6,541.2 652.7,543.7 650.6,544.1 651.5,541.0ZM680.4,534.3 681.0,536.0 683.4,537.8 680.8,539.7 677.4,541.9 678.6,539.7 678.2,539.4 680.4,534.3ZM676.2,540.8 676.6,542.1 674.0,544.0 671.4,545.0 667.8,547.3 666.3,546.6 669.2,544.5 674.4,541.9 676.2,540.8ZM643.0,460.7 642.8,460.1 646.3,459.0 646.5,457.5 648.6,456.4 647.6,453.7 648.2,452.7 649.8,454.8 650.5,457.5 650.7,459.6 646.9,461.2 643.0,460.7ZM646.9,452.6 645.9,451.0 645.6,448.4 649.3,449.8 650.4,450.7 647.5,451.6 646.9,452.6ZM642.1,461.4 643.7,461.2 644.2,463.5 643.6,463.8 642.1,461.4ZM645.5,447.9 641.5,442.6 639.0,439.2 644.0,444.2 645.5,447.9ZM636.6,472.5 637.5,470.1 637.8,473.6 637.5,473.6 636.6,472.5ZM626.7,476.6 628.3,475.6 628.9,476.3 627.7,477.7 626.7,476.6ZM637.5,477.3 639.7,477.3 639.8,479.8 642.2,483.3 639.3,482.6 638.7,481.7 637.5,477.3ZM640.9,489.7 644.5,487.0 645.2,489.7 644.3,491.0 640.9,489.8ZM615.6,491.2 617.7,491.7 620.6,495.1 624.0,498.3 625.8,500.7 625.7,503.5 624.3,503.6 621.1,499.9 618.7,495.6 615.6,491.2ZM624.9,504.6 625.7,503.7 630.5,504.2 633.7,505.5 633.6,506.6 630.3,506.1 625.2,504.8 624.9,504.6ZM628.7,495.6 630.6,495.4 633.4,492.4 635.2,489.8 638.4,491.5 637.3,496.2 635.9,499.4 635.3,501.6 633.9,501.0 630.6,500.5 629.7,499.2 628.8,497.8 628.7,495.6ZM638.6,503.2 639.7,500.3 640.0,496.0 644.0,495.5 640.2,496.7 642.6,498.3 640.6,499.4 641.5,502.4 640.1,501.0 639.6,503.2 638.6,503.2ZM649.7,498.3 652.6,498.2 656.4,499.0 659.2,500.0 663.6,502.4 665.2,503.9 667.8,508.5 664.4,507.8 661.1,506.9 659.2,507.1 656.0,506.1 655.8,502.6 653.4,501.9 651.1,501.6 650.6,500.3 649.7,498.3ZM600.8,489.7 601.0,486.7 602.6,489.2 602.0,490.8 600.8,489.7ZM433.6,584.0 420.1,579.4 427.5,580.1 430.9,579.1 432.3,576.8 435.7,575.2 440.9,574.4 446.6,573.8 453.3,573.9 459.4,573.5 465.4,572.9 472.1,573.1 475.1,572.6 477.5,571.3 478.2,569.1 478.6,567.2 480.4,565.0 482.5,564.1 483.0,564.5 481.7,565.6 480.9,567.5 481.2,569.5 483.5,572.2 485.2,573.9 486.7,575.2 494.2,577.1 500.4,577.2 503.1,576.4 509.0,575.2 515.0,573.1 518.1,571.3 524.9,570.4 531.7,570.4 538.6,570.4 545.6,570.0 552.8,569.1 560.5,567.2 567.4,567.7 574.0,568.6 573.1,570.0 581.3,568.1 589.0,567.2 596.5,566.7 603.7,566.7 610.4,567.2 617.8,566.9 624.3,567.5 629.4,569.1 634.5,570.4 639.2,571.8 633.6,573.9 627.6,576.4 626.4,578.4 629.7,579.4 616.2,584.0ZM439.3,424.1 445.3,419.7 451.5,418.5 457.7,418.1 463.7,417.3 469.1,415.4 476.6,414.0 489.7,414.0 482.8,416.5 476.4,418.1 473.2,420.1 468.6,421.0 465.1,422.7 460.8,424.5 454.8,425.9 446.4,425.9 439.3,424.1ZM532.9,439.5 534.8,438.0 537.9,437.0 539.0,434.0 538.1,432.5 540.3,427.9 543.2,427.9 547.7,433.5 542.9,434.2 541.3,436.5 541.6,438.5 536.1,439.0 532.9,439.5ZM565.0,448.9 566.4,447.3 569.6,446.8 570.6,448.9 568.6,449.5 568.7,451.6 570.7,452.6 571.6,454.8 572.9,456.9 568.5,456.9 568.4,454.2 566.2,452.1 565.0,448.9ZM550.6,427.3 553.8,426.4 556.4,427.8 552.7,429.6 549.9,428.7Z"/></clipPath>
<g clip-path="url(#land3)">
<path d="M426.1,437.3 434.0,434.9 443.4,438.9 448.1,443.6 457.6,445.1 463.9,447.5 467.0,445.1 465.4,451.4 459.1,456.1 456.0,460.9 451.3,465.6 446.6,467.1 441.9,464.0 435.6,464.0 435.6,457.7 437.1,451.4 434.0,448.3 427.7,445.1 424.6,442.0Z" fill="url(#ttA)"/>
<path d="M436.0,446.0 446.0,443.0 452.0,450.0 450.0,460.0 442.0,462.0 438.0,455.0Z" fill="#FF0000"/>
<path d="M424.6,473.4 437.1,473.4 440.3,479.7 430.9,479.7 426.1,478.1Z" fill="url(#ttA)"/>
<path d="M415.1,448.3 421.4,446.7 419.9,457.7 415.9,457.7Z" fill="url(#ttB)"/>
<path d="M448.1,473.4 459.1,475.0 459.1,477.4 448.1,475.4Z" fill="url(#ttA)"/>
<path d="M458.0,462.0 461.0,462.0 461.0,468.0 458.0,468.0Z" fill="url(#ttA)"/>
<path d="M459.1,446.7 468.6,444.4 468.6,449.1 462.3,451.4Z" fill="url(#ttA)"/>
<path d="M477.1,499.4 481.7,500.6 484.0,508.6 487.4,509.7 486.3,517.7 481.7,523.4 478.3,528.0 476.0,533.7 472.6,534.9 471.4,528.0 472.6,522.3 470.3,514.3 470.3,509.7 476.0,507.4Z" fill="url(#ttA)"/>
<path d="M476.0,508.0 482.0,506.0 484.0,516.0 478.0,524.0 474.0,520.0Z" fill="#FF0000"/>
<path d="M452.0,485.7 457.7,485.1 461.1,489.1 458.9,492.6 454.3,492.6 452.0,489.1Z" fill="url(#ttA)"/>
<path d="M469.1,534.9 474.9,536.0 472.6,539.4 470.3,539.4Z" fill="url(#ttA)"/>
<path d="M458.9,533.7 461.1,533.7 460.6,540.6 458.9,540.6Z" fill="url(#ttB)"/>
<path d="M447.4,496.0 449.7,496.0 449.7,501.7 447.4,501.7Z" fill="url(#ttB)"/>
<path d="M460.0,507.4 464.0,507.0 466.0,516.0 461.0,514.0Z" fill="url(#ttB)"/>
<path d="M517.0,438.0 529.0,433.5 550.0,435.0 559.0,444.0 557.5,456.0 550.0,462.0 538.0,459.0 529.0,456.0 518.5,453.0Z" fill="url(#ttB)"/>
<path d="M520.0,441.0 535.0,436.5 548.5,439.5 550.0,447.0 541.0,450.0 532.0,453.0 521.5,450.0Z" fill="url(#ttA)"/>
<path d="M551.4,434.0 572.0,434.9 602.9,435.7 606.3,439.1 596.0,444.3 572.0,440.0 554.9,440.9 546.3,444.3 542.9,439.1Z" fill="url(#ttB)"/>
<path d="M550.0,434.5 580.0,433.5 607.0,435.5 608.0,439.5 586.0,440.5 565.0,440.0 550.0,441.0Z" fill="url(#ttM)"/>
<path d="M580.0,459.0 598.0,457.5 610.0,462.0 607.0,474.0 589.0,471.0 580.0,465.0Z" fill="url(#ttB)"/>
<path d="M550.0,459.0 562.0,459.0 565.0,474.0 553.0,474.0Z" fill="url(#ttB)"/>
<path d="M536.0,435.0 544.0,433.0 545.0,439.0 537.0,440.0Z" fill="url(#ttB)"/>
<path d="M541.0,450.0 551.0,451.0 550.0,457.0 542.0,456.0Z" fill="url(#ttB)"/>
<path d="M585.7,461.4 598.6,458.6 608.6,464.3 605.7,470.0 594.3,467.1 584.3,464.3Z" fill="url(#ttB)"/>
<path d="M598.0,458.0 606.0,459.0 606.0,464.0 598.0,463.0Z" fill="url(#ttA)"/>
<path d="M614.3,461.4 622.9,457.1 627.1,454.3 632.9,458.6 637.1,465.7 635.7,471.4 628.6,472.9 620.0,472.9 615.7,470.0Z" fill="url(#ttA)"/>
<path d="M630.0,442.9 638.6,442.1 640.0,448.6 632.9,450.0Z" fill="url(#ttB)"/>
<path d="M637.0,477.0 643.0,477.0 644.0,490.0 638.0,488.0Z" fill="url(#ttA)"/>
<path d="M620.0,476.0 626.0,476.0 627.0,490.0 621.0,489.0Z" fill="url(#ttB)"/>
<path d="M510.0,481.4 518.6,480.0 522.9,482.9 521.4,491.4 515.7,492.9 510.0,487.1Z" fill="url(#ttA)"/>
<path d="M522.9,482.9 538.6,481.4 542.9,488.6 537.1,490.0 528.6,490.0 522.9,487.1Z" fill="url(#ttA)"/>
<path d="M545.7,484.3 557.1,481.4 560.0,492.9 557.1,498.6 552.9,494.3 548.6,488.6Z" fill="url(#ttA)"/>
<path d="M548.6,507.1 561.4,502.9 564.3,514.3 557.1,518.6 550.0,515.7Z" fill="url(#ttA)"/>
<path d="M535.7,500.0 541.4,501.4 541.4,512.9 537.1,514.3Z" fill="url(#ttB)"/>
<path d="M566.0,511.0 572.0,510.0 568.0,524.0 565.0,523.0Z" fill="#FF0000"/>
<path d="M547.0,526.0 554.0,524.0 553.0,532.0 547.0,533.0Z" fill="url(#ttB)"/>
<path d="M629.0,501.0 634.0,500.0 637.0,507.0 632.0,508.0Z" fill="url(#ttB)"/>
<path d="M654.0,528.0 662.0,523.0 663.0,532.0 656.0,536.0Z" fill="url(#ttB)"/>
<path d="M629.0,528.0 633.0,528.0 633.0,532.0 629.0,532.0Z" fill="#FF0000"/>
<path d="M667.0,538.0 682.0,537.0 682.0,543.0 667.0,547.0Z" fill="url(#ttA)"/>
<path d="M615.0,496.0 640.0,506.0 640.0,510.0 615.0,502.0Z" fill="url(#ttB)"/>
<path d="M614.6,491.1 621.4,492.9 628.3,499.7 645.4,504.9 645.4,508.3 626.6,506.6 619.7,499.7 614.6,494.6Z" fill="url(#ttB)"/>
<path d="M635.1,453.4 648.9,451.7 650.6,462.0 638.6,463.7Z" fill="url(#ttB)"/>
<path d="M657.4,508.3 662.6,508.3 663.4,518.6 658.3,518.6Z" fill="url(#ttB)"/>
</g>
<path d="M404.0,428.1 408.9,425.6 412.6,424.5 419.4,422.9 421.8,423.4 425.7,424.0 428.0,424.3 430.7,425.0 434.1,424.4 437.4,423.9 438.8,424.5 441.9,424.8 444.5,425.7 447.8,425.9 451.8,425.3 456.1,426.1 458.0,425.4 461.6,422.5 461.2,424.1 462.5,425.0 463.4,425.6 466.3,424.5 468.5,424.3 467.1,426.8 464.0,427.8 461.6,429.2 456.8,430.8 452.6,434.0 453.3,434.8 454.6,436.3 456.2,437.5 459.5,438.4 458.5,440.7 459.9,442.1 461.9,439.0 464.7,436.5 465.9,433.5 466.9,431.2 469.8,431.4 471.5,432.3 471.5,434.5 473.2,435.0 475.6,433.2 476.1,435.5 477.0,437.0 478.6,439.0 479.4,441.1 477.8,442.2 475.3,443.5 470.4,443.5 466.7,445.4 470.8,444.5 471.2,445.1 470.1,446.6 470.7,447.5 473.0,448.3 474.0,447.7 472.4,448.9 468.1,450.4 464.6,450.4 463.8,452.3 462.1,453.0 460.1,453.7 458.1,455.8 457.1,457.7 457.0,459.4 454.5,460.9 451.2,463.4 450.8,467.1 450.6,469.8 449.6,470.1 448.8,467.1 448.0,465.0 446.3,464.5 443.5,464.7 442.9,466.1 440.6,465.4 438.3,465.5 435.3,467.6 434.3,470.9 433.8,473.8 434.6,476.6 436.2,477.7 439.0,477.3 440.3,474.8 443.4,474.1 442.7,477.3 441.7,480.0 443.9,480.1 446.3,481.1 445.6,485.4 446.8,487.2 449.5,486.9 451.4,488.0 450.3,488.9 448.7,489.4 447.3,488.5 445.2,487.0 443.5,485.8 442.1,483.3 438.9,482.2 436.3,479.9 433.9,480.4 429.9,478.6 426.2,475.5 426.6,473.8 425.8,472.1 423.8,469.5 421.9,465.7 420.5,463.0 421.2,465.5 421.7,467.7 422.4,471.2 422.9,472.5 421.0,470.7 419.8,468.0 419.0,465.0 418.7,462.2 418.0,460.7 416.3,460.1 416.0,456.9 416.1,454.5 416.0,453.7 417.3,451.0 419.9,447.3 420.6,445.3 422.2,444.8 421.2,443.7 419.6,442.8 420.6,441.6 420.8,439.0 420.9,436.5 419.7,435.2 418.4,433.8 415.7,433.5 414.8,432.5 410.2,434.0 410.7,432.5 408.7,434.3 405.5,435.5 400.8,437.0 396.0,438.5 393.3,439.0 398.1,437.3 403.3,435.0 401.6,434.8 400.2,434.7 400.3,433.0 401.3,431.6 403.6,430.4 407.7,429.2 406.0,429.1 404.0,429.0 404.0,428.1ZM480.2,417.3 482.1,418.7 488.0,419.2 488.0,421.4 488.0,423.2 488.9,424.8 486.8,427.3 487.4,430.1 488.7,432.5 491.0,433.5 493.2,432.5 495.3,429.6 497.9,428.1 501.8,425.7 506.8,425.4 509.9,423.6 509.9,422.3 512.0,420.1 513.0,418.5 514.4,416.5 518.0,414.7 513.5,414.2 508.1,413.4 501.4,413.5 493.6,414.2 490.5,414.4 487.6,415.1 484.8,415.6 482.2,416.5 480.2,417.3ZM507.6,428.2 509.2,427.4 512.0,427.6 514.2,427.3 515.2,428.4 514.0,429.4 511.6,430.2 508.4,429.8 508.9,429.2 507.6,428.2ZM472.6,420.8 475.0,422.0 477.0,423.5 478.7,424.5 480.3,426.8 480.5,427.8 477.6,429.2 477.2,430.6 475.6,431.6 473.1,430.8 471.5,429.6 469.5,429.3 468.1,429.2 472.3,427.0 473.8,425.7 471.1,425.6 471.2,424.5 469.0,424.2 466.1,423.9 465.0,423.2 465.9,421.4 468.6,420.9 472.6,420.8ZM447.3,421.3 454.0,421.2 458.3,421.4 456.5,423.6 454.2,425.0 451.4,425.1 446.1,425.4 443.7,424.8 446.6,423.6 445.6,422.7 447.3,421.3ZM440.8,422.5 444.9,420.3 449.4,420.3 449.2,421.0 444.0,422.9 440.8,422.5ZM475.4,418.5 481.6,416.5 486.7,415.4 490.1,414.2 485.5,413.7 479.9,413.7 472.2,414.4 468.5,415.4 467.7,416.5 469.4,417.7 471.4,418.7 475.4,418.5ZM473.3,420.1 466.7,420.1 465.8,419.2 471.1,418.4 474.5,418.7 473.3,420.1ZM458.0,419.3 449.5,419.7 452.7,418.1 456.1,418.3 458.0,419.3ZM464.2,420.1 459.3,419.9 460.4,418.9 465.2,418.1 464.2,420.1ZM464.4,422.3 461.8,421.9 463.1,420.6 465.7,420.6 464.4,422.3ZM460.0,422.7 457.2,422.5 458.7,421.0 461.8,420.6 460.0,422.7ZM465.7,430.1 462.0,429.6 462.2,428.2 464.7,427.8 465.7,430.1ZM475.1,446.2 476.8,444.2 479.1,442.0 478.9,444.1 480.2,445.2 480.6,446.3 479.6,447.2 477.8,446.3 475.1,446.2ZM379.1,474.9 379.8,475.7 379.1,476.8 378.7,476.3ZM377.1,474.0 377.7,474.3 377.2,474.4ZM390.4,440.1 391.7,439.5 393.2,439.2 391.0,440.3ZM387.1,440.9 388.8,440.4 387.7,441.1ZM382.7,441.6 384.2,441.3 383.4,441.7ZM379.6,441.8 381.0,441.6 380.2,442.0ZM404.4,436.2 406.7,435.5 405.7,436.2 404.2,436.7ZM634.1,506.1 635.1,506.2 634.6,506.7 633.7,506.5ZM635.2,506.2 635.8,506.2 635.5,506.8ZM636.0,506.3 637.9,506.1 637.9,506.7 636.0,506.9ZM638.7,506.4 641.7,506.1 641.7,506.5 638.8,506.8ZM637.8,507.5 639.5,507.9 638.3,507.9ZM642.0,508.2 643.6,506.9 645.7,506.3 643.5,507.7ZM646.8,500.5 649.5,500.5 649.2,501.3 647.0,501.0ZM646.4,495.3 647.4,496.7 646.9,498.1 646.4,496.7ZM642.4,483.8 644.0,484.3 643.9,485.4 642.9,485.1ZM640.4,484.6 641.4,484.9 641.1,486.0 640.5,485.6ZM641.3,485.5 642.0,486.0 641.7,487.5 641.1,486.6ZM642.7,484.9 643.4,485.2 643.7,486.4 643.0,486.3ZM638.6,482.7 639.8,483.2 639.6,484.1 638.9,483.8ZM636.2,488.2 638.1,485.0 638.4,486.0 636.5,488.4ZM673.7,504.5 676.0,505.9 677.3,507.1 674.1,505.3ZM666.2,503.2 668.1,503.0 669.6,501.8 669.0,503.3 666.6,503.9ZM691.6,516.1 692.7,515.9 692.3,516.8 691.5,516.6ZM678.4,519.0 680.6,521.2 680.1,521.5 678.4,519.6ZM682.0,513.4 682.6,513.9 682.2,514.5ZM473.6,416.1 472.2,414.8 468.5,415.4 467.8,416.9 470.7,417.0ZM464.4,417.7 461.8,416.9 459.8,417.4 462.1,418.1ZM464.8,416.9 467.4,416.3 467.7,417.0ZM452.8,418.5 447.8,418.7 451.2,417.4 453.1,417.8ZM465.1,419.9 463.2,419.8 464.7,419.1 466.1,419.2ZM474.6,421.6 471.6,421.3 472.7,420.7 474.5,420.9ZM458.7,425.4 456.1,425.2 457.3,424.3 459.0,424.3ZM464.8,430.9 462.7,431.4 462.7,430.8 464.5,430.3ZM552.7,415.8 556.9,415.1 561.9,415.4 557.6,415.9ZM537.1,417.1 539.8,417.8 538.6,418.1 536.0,417.7ZM445.6,473.7 449.5,472.3 452.6,473.9 455.5,475.5 452.3,475.8 450.2,473.9 448.0,473.5 445.6,473.7ZM455.0,477.5 456.7,475.8 459.8,476.1 460.8,477.3 457.7,478.3 455.0,477.5ZM451.4,477.6 453.3,477.8 452.6,478.1 451.4,477.6ZM461.8,477.3 463.3,477.5 463.1,477.9 461.8,477.9ZM451.3,488.0 453.3,485.7 455.7,484.9 456.7,484.0 457.1,485.4 460.4,485.8 464.2,485.7 466.1,485.7 467.4,488.1 470.2,490.8 473.5,491.0 475.9,492.4 477.3,495.3 477.7,497.2 480.1,498.1 482.5,499.8 486.8,500.3 489.7,502.2 491.3,503.0 491.7,506.9 489.4,510.2 488.0,511.8 488.1,516.1 487.0,519.3 486.2,521.5 483.5,522.2 480.5,525.0 480.0,527.9 478.8,530.6 477.1,533.6 475.5,534.9 472.7,534.4 474.0,536.5 473.9,538.3 470.2,539.2 470.3,540.8 468.2,541.5 469.4,542.9 469.0,545.6 467.7,546.8 469.7,548.5 468.9,550.3 468.2,551.9 469.3,553.4 472.3,555.8 469.4,556.5 466.1,554.4 464.0,552.9 461.6,548.7 461.3,545.6 461.0,542.4 459.4,537.0 459.8,531.7 459.2,527.4 459.4,523.1 459.0,517.2 456.7,515.3 452.9,512.3 450.4,507.5 449.0,504.6 447.6,502.6 448.7,500.5 447.9,498.3 448.7,496.4 449.8,495.3 451.1,492.9 451.4,490.3 451.3,488.0ZM516.9,457.5 516.7,455.3 517.3,452.1 517.0,450.9 518.0,450.3 521.5,450.6 523.6,450.6 523.9,448.1 523.0,446.6 521.0,445.8 523.6,445.0 526.1,443.7 527.0,442.6 528.2,442.1 528.9,440.6 531.3,440.0 531.7,438.0 531.3,436.7 533.1,435.8 533.2,437.5 532.7,438.7 533.7,439.5 536.1,439.5 539.2,438.7 541.6,438.5 541.3,436.5 543.6,436.3 542.9,434.2 546.3,434.0 547.7,433.5 542.4,433.5 541.1,432.5 540.8,430.6 543.0,428.7 540.7,427.9 538.9,430.1 538.1,432.5 539.0,434.0 537.9,437.0 535.2,438.0 534.7,437.0 533.4,434.7 532.6,434.5 531.1,435.5 529.1,434.5 528.7,432.1 530.8,430.3 533.5,428.2 535.4,425.9 537.3,424.3 540.6,423.6 543.8,423.2 546.1,424.1 547.7,424.7 553.8,426.4 553.9,427.8 549.9,428.7 552.7,429.6 556.4,427.8 555.6,425.4 561.9,425.6 563.2,425.4 566.5,425.0 570.3,424.4 570.4,421.4 574.0,422.7 575.7,425.9 574.7,421.9 577.3,421.0 581.1,420.1 584.9,418.9 588.8,417.4 598.9,421.0 604.0,421.4 609.2,421.9 609.5,421.6 617.8,421.9 625.8,422.7 634.5,424.1 641.6,424.3 647.8,424.7 649.8,425.1 655.2,428.7 654.5,429.2 656.4,431.1 655.3,432.5 654.3,433.5 650.7,433.7 651.8,436.0 652.7,437.5 653.7,441.6 653.4,442.6 650.6,440.1 646.5,436.5 647.4,435.5 646.4,432.1 644.9,432.1 643.4,434.0 639.6,434.0 634.5,434.2 636.8,439.0 634.8,439.5 642.3,445.2 641.2,450.5 638.4,451.5 637.9,453.7 640.8,458.5 639.2,460.0 638.6,460.1 636.9,456.9 634.4,454.5 632.1,455.3 630.7,453.4 629.1,455.3 629.0,455.8 630.9,457.5 633.9,457.2 632.7,459.6 635.8,463.4 636.5,465.0 635.8,468.7 633.7,472.0 630.7,473.3 628.2,474.7 627.8,475.4 626.2,474.0 624.6,475.7 624.2,477.3 626.1,479.5 628.2,483.3 628.2,484.9 626.0,487.0 624.4,488.0 624.5,486.5 622.6,486.0 619.9,482.9 619.3,486.5 620.4,489.7 623.5,495.7 621.1,494.6 618.5,488.6 618.3,486.5 616.7,479.5 613.9,480.0 613.1,477.3 610.9,474.7 608.9,473.6 606.1,474.1 605.9,475.7 602.1,479.5 600.8,483.3 600.7,486.2 598.5,488.5 597.0,486.5 594.7,481.1 593.4,476.8 592.7,474.1 590.1,473.0 588.6,472.0 586.5,469.8 581.9,470.1 577.6,469.0 576.9,468.2 572.8,467.3 569.5,464.8 568.9,465.5 571.1,468.7 572.6,469.8 576.0,470.9 576.9,469.0 577.4,470.9 580.6,473.0 579.1,476.8 576.6,479.0 573.9,480.6 570.7,482.2 567.5,483.5 566.1,483.6 565.3,481.1 561.3,474.1 559.2,470.4 557.1,467.1 557.0,465.5 556.4,467.1 554.7,465.1 554.3,463.7 556.3,463.4 557.1,459.6 557.0,457.9 553.5,458.3 549.9,457.8 548.1,455.3 548.1,453.7 550.2,453.0 555.3,452.1 561.1,452.6 560.9,451.0 557.4,448.9 553.6,449.5 550.4,447.9 549.5,450.5 549.3,452.6 547.6,453.4 545.1,453.9 544.9,457.5 543.5,455.8 541.9,452.3 538.7,450.5 536.6,448.3 535.4,449.5 536.9,451.6 538.8,452.6 541.1,454.1 539.5,455.3 538.8,456.4 539.0,454.2 537.1,453.2 535.3,452.1 533.9,450.5 532.2,449.6 530.5,450.9 527.9,450.7 527.7,452.1 524.9,455.3 524.3,456.8 523.1,457.8 519.9,458.5 519.1,457.7 516.9,457.5ZM400.0,425.1 401.6,426.4 403.4,427.6 401.5,428.4 398.7,429.4 396.0,428.7 394.6,428.7ZM519.6,458.7 523.1,459.5 527.6,457.7 533.8,457.2 534.8,459.6 534.1,460.9 538.5,462.5 542.7,464.7 543.1,462.8 545.8,462.3 547.7,463.4 551.4,464.0 554.1,463.7 554.7,465.1 555.8,467.7 557.9,471.6 559.9,477.0 561.6,480.0 564.1,482.7 565.9,484.4 567.1,486.1 573.4,484.6 573.3,486.0 572.0,490.3 569.2,494.6 564.9,498.3 563.0,501.0 562.0,504.2 563.3,509.1 563.1,513.4 557.7,518.8 557.8,521.5 555.3,525.0 554.8,527.9 552.7,530.6 549.3,533.6 544.7,533.8 541.6,534.1 541.3,531.7 538.7,526.3 538.4,521.5 536.0,515.5 537.7,510.2 536.5,503.7 533.5,497.8 534.2,493.5 533.0,492.4 530.6,492.6 527.8,490.4 523.0,492.1 517.8,492.5 514.4,489.9 512.1,487.0 509.0,483.8 508.6,481.4 509.9,477.9 509.5,474.7 511.5,469.3 515.7,465.7 516.1,463.4 518.8,460.7 519.6,458.7ZM571.6,510.2 572.5,513.9 571.4,516.6 568.5,524.1 566.6,524.7 565.5,520.9 566.6,515.0 568.7,513.9 571.6,510.2ZM520.2,443.7 526.1,442.6 526.3,440.9 524.9,440.1 523.7,438.0 523.3,436.5 522.2,434.9 521.0,434.9 520.2,436.5 520.5,438.1 522.5,439.0 522.5,440.2 521.1,440.8 520.7,441.8 522.4,442.2 520.2,443.7ZM520.0,441.4 520.1,439.5 520.3,438.5 518.9,438.2 516.9,439.3 516.5,441.6 518.4,442.0 520.0,441.4ZM531.6,417.0 534.4,415.8 540.8,415.5 541.8,416.7 536.2,418.4 531.6,417.0ZM559.5,422.7 561.5,419.7 567.7,418.2 564.7,419.7 562.4,423.2 559.5,422.7ZM582.7,416.5 583.1,415.1 587.2,415.4 588.0,416.9 582.7,416.5ZM613.4,420.6 614.7,418.9 620.7,419.5 617.9,421.4 613.4,420.6ZM645.4,423.0 645.9,422.7 646.8,423.3ZM630.8,520.9 630.4,525.2 628.6,533.8 630.7,534.9 636.3,533.8 639.3,531.9 644.2,531.1 646.3,532.5 649.2,533.3 648.6,535.5 649.1,538.1 651.7,539.0 654.2,539.2 658.2,537.6 664.4,530.6 666.2,527.4 666.8,524.1 665.2,521.5 661.9,517.2 662.2,513.4 660.0,508.9 658.7,511.2 658.0,515.5 656.0,516.1 653.1,513.9 654.6,510.2 650.4,509.4 647.9,510.7 646.6,513.4 643.9,512.3 640.1,515.5 638.3,518.2 634.3,519.5 630.8,520.9ZM651.5,541.0 654.6,541.2 652.7,543.7 650.6,544.1 651.5,541.0ZM680.4,534.3 681.0,536.0 683.4,537.8 680.8,539.7 677.4,541.9 678.6,539.7 678.2,539.4 680.4,534.3ZM676.2,540.8 676.6,542.1 674.0,544.0 671.4,545.0 667.8,547.3 666.3,546.6 669.2,544.5 674.4,541.9 676.2,540.8ZM643.0,460.7 646.9,461.2 650.7,459.6 650.5,457.5 649.8,454.8 648.2,452.7 647.6,453.7 648.6,456.4 646.5,457.5 646.3,459.0 642.8,460.1 643.0,460.7ZM646.9,452.6 647.5,451.6 650.4,450.7 649.3,449.8 645.6,448.4 645.9,451.0 646.9,452.6ZM642.1,461.4 643.7,461.2 644.2,463.5 643.6,463.8 642.1,461.4ZM645.5,447.9 644.0,444.2 639.0,439.2 641.5,442.6 645.5,447.9ZM636.6,472.5 637.5,470.1 637.8,473.6 637.5,473.6 636.6,472.5ZM626.7,476.6 628.3,475.6 628.9,476.3 627.7,477.7 626.7,476.6ZM637.5,477.3 639.7,477.3 639.8,479.8 642.2,483.3 639.3,482.6 638.7,481.7 637.5,477.3ZM640.9,489.7 644.5,487.0 645.2,489.7 644.3,491.0 640.9,489.8ZM615.6,491.2 617.7,491.7 620.6,495.1 624.0,498.3 625.8,500.7 625.7,503.5 624.3,503.6 621.1,499.9 618.7,495.6 615.6,491.2ZM624.9,504.6 625.7,503.7 630.5,504.2 633.7,505.5 633.6,506.6 630.3,506.1 625.2,504.8 624.9,504.6ZM628.7,495.6 630.6,495.4 633.4,492.4 635.2,489.8 638.4,491.5 637.3,496.2 635.9,499.4 635.3,501.6 633.9,501.0 630.6,500.5 629.7,499.2 628.8,497.8 628.7,495.6ZM638.6,503.2 639.7,500.3 640.0,496.0 644.0,495.5 640.2,496.7 642.6,498.3 640.6,499.4 641.5,502.4 640.1,501.0 639.6,503.2 638.6,503.2ZM649.7,498.3 652.6,498.2 656.4,499.0 659.2,500.0 663.6,502.4 665.2,503.9 667.8,508.5 664.4,507.8 661.1,506.9 659.2,507.1 656.0,506.1 655.8,502.6 653.4,501.9 651.1,501.6 650.6,500.3 649.7,498.3ZM600.8,489.7 601.0,486.7 602.6,489.2 602.0,490.8 600.8,489.7ZM420.1,579.4 427.5,580.1 430.9,579.1 432.3,576.8 435.7,575.2 440.9,574.4 446.6,573.8 453.3,573.9 459.4,573.5 465.4,572.9 472.1,573.1 475.1,572.6 477.5,571.3 478.2,569.1 478.6,567.2 480.4,565.0 482.5,564.1 483.0,564.5 481.7,565.6 480.9,567.5 481.2,569.5 483.5,572.2 485.2,573.9 486.7,575.2 494.2,577.1 500.4,577.2 503.1,576.4 509.0,575.2 515.0,573.1 518.1,571.3 524.9,570.4 531.7,570.4 538.6,570.4 545.6,570.0 552.8,569.1 560.5,567.2 567.4,567.7 574.0,568.6 573.1,570.0 581.3,568.1 589.0,567.2 596.5,566.7 603.7,566.7 610.4,567.2 617.8,566.9 624.3,567.5 629.4,569.1 634.5,570.4 639.2,571.8 633.6,573.9 627.6,576.4 626.4,578.4 629.7,579.4M565.0,448.9 566.4,447.3 569.6,446.8 570.6,448.9 568.6,449.5 568.7,451.6 570.7,452.6 571.6,454.8 572.9,456.9 568.5,456.9 568.4,454.2 566.2,452.1 565.0,448.9ZM574.5,448.4 575.3,447.3 577.1,447.9 577.3,450.0 575.7,450.4 574.5,448.4ZM447.1,447.1 451.3,445.4 453.6,445.8 453.4,447.3 450.4,447.3 447.1,447.1ZM448.5,452.4 450.0,450.0 451.8,448.0 452.5,448.4 450.1,451.0 449.6,452.4 448.5,452.4ZM452.5,450.5 453.2,447.9 456.0,448.1 456.4,449.5 454.0,451.0 452.5,450.5ZM452.2,452.4 455.3,451.3 456.5,451.3 453.0,452.7 452.2,452.4ZM456.1,450.7 459.2,450.5 459.2,449.8 456.9,450.2 456.1,450.7ZM609.8,441.8 611.0,441.1 611.3,438.0 612.4,438.5 611.7,441.6 610.0,442.1ZM555.2,498.3 555.9,496.9 557.3,497.0 557.3,498.3 556.3,499.9 555.2,498.3ZM552.7,501.0 553.9,506.4 554.3,506.2 553.3,501.0 552.7,501.0ZM557.2,507.5 557.5,512.3 558.0,512.3 557.7,507.5 557.2,507.5ZM445.3,439.8 446.7,439.5 446.2,441.6 445.1,443.2 444.8,442.6 444.9,441.1ZM436.7,432.5 440.2,431.1 444.2,430.8 442.0,431.6 439.1,432.3ZM434.9,428.2 439.1,426.8 441.2,427.3 438.7,428.7 436.6,428.7ZM439.4,434.8 442.3,434.0 444.0,434.3 441.8,434.7Z" fill="none" stroke="#000" stroke-width="0.7"/>
<path d="M616.2,410.5 617.5,410.9 618.9,411.3 620.2,411.7 621.6,412.1 623.1,412.6 624.6,413.1 626.3,413.7 628.0,414.4 629.7,415.1 631.5,415.8 633.3,416.5 635.1,417.3 636.9,418.1 638.7,418.9 640.4,419.7 642.0,420.6 643.6,421.4 645.2,422.3 646.7,423.2 648.2,424.1 649.6,425.0 651.1,425.9 652.5,426.8 653.9,427.8 655.2,428.7 656.6,429.6 657.9,430.6 659.3,431.6 660.6,432.5 661.9,433.5 663.2,434.5 664.5,435.5 665.7,436.5 666.9,437.5 668.1,438.5 669.3,439.5 670.5,440.6 671.6,441.6 672.7,442.6 673.8,443.7 674.8,444.7 675.8,445.8 676.8,446.8 677.7,447.9 678.6,448.9 679.6,450.0 680.5,451.0 681.3,452.1 682.2,453.2 683.0,454.2 683.8,455.3 684.5,456.4 685.3,457.5 685.9,458.5 686.6,459.6 687.3,460.7 687.9,461.8 688.5,462.8 689.1,463.9 689.6,465.0 690.1,466.1 690.6,467.1 691.0,468.2 691.4,469.3 691.8,470.4 692.2,471.4 692.5,472.5 692.8,473.6 693.1,474.7 693.4,475.7 693.7,476.8 694.0,477.9 694.2,479.0 694.5,480.0 694.7,481.1 695.0,482.2 695.2,483.3 695.3,484.3 695.5,485.4 695.7,486.5 695.8,487.6 695.9,488.6 696.0,489.7 696.1,490.8 696.2,491.9 696.3,492.9 696.3,494.0 696.4,495.1 696.4,496.2 696.5,497.2 696.4,498.3 696.4,499.4 696.3,500.5 696.3,501.6 696.2,502.6 696.1,503.7 696.0,504.8 695.9,505.9 695.8,506.9 695.7,508.0 695.5,509.1 695.3,510.2 695.2,511.2 695.0,512.3 694.7,513.4 694.5,514.5 694.2,515.5 694.0,516.6 693.7,517.7 693.4,518.8 693.1,519.8 692.8,520.9 692.5,522.0 692.2,523.1 691.8,524.1 691.4,525.2 691.0,526.3 690.6,527.4 690.1,528.4 689.6,529.5 689.1,530.6 688.5,531.7 687.9,532.7 687.3,533.8 686.6,534.9 685.9,536.0 685.3,537.0 684.5,538.1 683.8,539.2 683.0,540.3 682.2,541.3 681.3,542.4 680.5,543.5 679.6,544.5 678.6,545.6 677.7,546.6 676.8,547.7 675.8,548.7 674.8,549.8 673.8,550.8 672.7,551.9 671.6,552.9 670.5,553.9 669.3,555.0 668.1,556.0 666.9,557.0 665.7,558.0 664.5,559.0 663.2,560.0 661.9,561.0 660.6,562.0 659.3,562.9 657.9,563.9 656.6,564.9 655.2,565.8 653.9,566.7 652.5,567.7 651.1,568.6 649.6,569.5 648.2,570.4 646.7,571.3 645.2,572.2 643.6,573.1 642.0,573.9 640.4,574.8 638.7,575.6 636.9,576.4 635.1,577.2 633.3,578.0 631.5,578.7 629.7,579.4 628.0,580.1 626.3,580.8 624.6,581.4 623.1,581.9 621.6,582.4 620.2,582.8 618.9,583.2 617.5,583.6 616.2,584.0 433.6,584.0 432.3,583.6 430.9,583.2 429.6,582.8 428.2,582.4 426.7,581.9 425.2,581.4 423.5,580.8 421.8,580.1 420.1,579.4 418.3,578.7 416.5,578.0 414.7,577.2 412.9,576.4 411.1,575.6 409.4,574.8 407.8,573.9 406.2,573.1 404.6,572.2 403.1,571.3 401.6,570.4 400.2,569.5 398.7,568.6 397.3,567.7 395.9,566.7 394.6,565.8 393.2,564.9 391.9,563.9 390.5,562.9 389.2,562.0 387.9,561.0 386.6,560.0 385.3,559.0 384.1,558.0 382.9,557.0 381.7,556.0 380.5,555.0 379.3,553.9 378.2,552.9 377.1,551.9 376.0,550.8 375.0,549.8 374.0,548.7 373.0,547.7 372.1,546.6 371.2,545.6 370.2,544.5 369.3,543.5 368.5,542.4 367.6,541.3 366.8,540.3 366.0,539.2 365.3,538.1 364.5,537.0 363.9,536.0 363.2,534.9 362.5,533.8 361.9,532.7 361.3,531.7 360.7,530.6 360.2,529.5 359.7,528.4 359.2,527.4 358.8,526.3 358.4,525.2 358.0,524.1 357.6,523.1 357.3,522.0 357.0,520.9 356.7,519.8 356.4,518.8 356.1,517.7 355.8,516.6 355.6,515.5 355.3,514.5 355.1,513.4 354.8,512.3 354.6,511.2 354.5,510.2 354.3,509.1 354.1,508.0 354.0,506.9 353.9,505.9 353.8,504.8 353.7,503.7 353.6,502.6 353.5,501.6 353.5,500.5 353.4,499.4 353.4,498.3 353.3,497.2 353.4,496.2 353.4,495.1 353.5,494.0 353.5,492.9 353.6,491.9 353.7,490.8 353.8,489.7 353.9,488.6 354.0,487.6 354.1,486.5 354.3,485.4 354.5,484.3 354.6,483.3 354.8,482.2 355.1,481.1 355.3,480.0 355.6,479.0 355.8,477.9 356.1,476.8 356.4,475.7 356.7,474.7 357.0,473.6 357.3,472.5 357.6,471.4 358.0,470.4 358.4,469.3 358.8,468.2 359.2,467.1 359.7,466.1 360.2,465.0 360.7,463.9 361.3,462.8 361.9,461.8 362.5,460.7 363.2,459.6 363.9,458.5 364.5,457.5 365.3,456.4 366.0,455.3 366.8,454.2 367.6,453.2 368.5,452.1 369.3,451.0 370.2,450.0 371.2,448.9 372.1,447.9 373.0,446.8 374.0,445.8 375.0,444.7 376.0,443.7 377.1,442.6 378.2,441.6 379.3,440.6 380.5,439.5 381.7,438.5 382.9,437.5 384.1,436.5 385.3,435.5 386.6,434.5 387.9,433.5 389.2,432.5 390.5,431.6 391.9,430.6 393.2,429.6 394.6,428.7 395.9,427.8 397.3,426.8 398.7,425.9 400.2,425.0 401.6,424.1 403.1,423.2 404.6,422.3 406.2,421.4 407.8,420.6 409.4,419.7 411.1,418.9 412.9,418.1 414.7,417.3 416.5,416.5 418.3,415.8 420.1,415.1 421.8,414.4 423.5,413.7 425.2,413.1 426.7,412.6 428.2,412.1 429.6,411.7 430.9,411.3 432.3,410.9 433.6,410.5Z" fill="none" stroke="#444" stroke-width="0.85"/>
<rect x="44.70" y="327.10" width="43.43" height="15.50" fill="#4010F0"/>
<rect x="88.13" y="327.10" width="43.43" height="15.50" fill="#2880F0"/>
<rect x="131.57" y="327.10" width="43.43" height="15.50" fill="#78C8F0"/>
<rect x="175.00" y="327.10" width="43.43" height="15.50" fill="#FFE337"/>
<rect x="218.43" y="327.10" width="43.43" height="15.50" fill="#FF6000"/>
<rect x="261.87" y="327.10" width="43.43" height="15.50" fill="#D7292A"/>
<line x1="88.13" y1="327.10" x2="88.13" y2="342.60" stroke="#222" stroke-width="0.75"/>
<line x1="131.57" y1="327.10" x2="131.57" y2="342.60" stroke="#222" stroke-width="0.75"/>
<line x1="175.00" y1="327.10" x2="175.00" y2="342.60" stroke="#222" stroke-width="0.75"/>
<line x1="218.43" y1="327.10" x2="218.43" y2="342.60" stroke="#222" stroke-width="0.75"/>
<line x1="261.87" y1="327.10" x2="261.87" y2="342.60" stroke="#222" stroke-width="0.75"/>
<rect x="44.70" y="327.10" width="260.60" height="15.50" fill="none" stroke="#222" stroke-width="0.75"/>
<text x="44.70" y="356.70" font-size="13" text-anchor="middle">10</text>
<text x="88.13" y="356.70" font-size="13" text-anchor="middle">20</text>
<text x="131.57" y="356.70" font-size="13" text-anchor="middle">40</text>
<text x="175.00" y="356.70" font-size="13" text-anchor="middle">60</text>
<text x="218.43" y="356.70" font-size="13" text-anchor="middle">80</text>
<text x="261.87" y="356.70" font-size="13" text-anchor="middle">100</text>
<text x="305.30" y="356.70" font-size="13" text-anchor="middle">133.7</text>
<rect x="395.00" y="327.10" width="43.43" height="15.50" fill="#4010F0"/>
<rect x="438.43" y="327.10" width="43.43" height="15.50" fill="#2880F0"/>
<rect x="481.87" y="327.10" width="43.43" height="15.50" fill="#78C8F0"/>
<rect x="525.30" y="327.10" width="43.43" height="15.50" fill="#FFE337"/>
<rect x="568.73" y="327.10" width="43.43" height="15.50" fill="#FF6000"/>
<rect x="612.17" y="327.10" width="43.43" height="15.50" fill="#D7292A"/>
<line x1="438.43" y1="327.10" x2="438.43" y2="342.60" stroke="#222" stroke-width="0.75"/>
<line x1="481.87" y1="327.10" x2="481.87" y2="342.60" stroke="#222" stroke-width="0.75"/>
<line x1="525.30" y1="327.10" x2="525.30" y2="342.60" stroke="#222" stroke-width="0.75"/>
<line x1="568.73" y1="327.10" x2="568.73" y2="342.60" stroke="#222" stroke-width="0.75"/>
<line x1="612.17" y1="327.10" x2="612.17" y2="342.60" stroke="#222" stroke-width="0.75"/>
<rect x="395.00" y="327.10" width="260.60" height="15.50" fill="none" stroke="#222" stroke-width="0.75"/>
<text x="395.00" y="356.70" font-size="13" text-anchor="middle">10</text>
<text x="438.43" y="356.70" font-size="13" text-anchor="middle">20</text>
<text x="481.87" y="356.70" font-size="13" text-anchor="middle">40</text>
<text x="525.30" y="356.70" font-size="13" text-anchor="middle">60</text>
<text x="568.73" y="356.70" font-size="13" text-anchor="middle">80</text>
<text x="612.17" y="356.70" font-size="13" text-anchor="middle">100</text>
<text x="655.60" y="356.70" font-size="13" text-anchor="middle">133.7</text>
<rect x="39.60" y="604.20" width="27.61" height="15.40" fill="#4010F0"/>
<rect x="67.21" y="604.20" width="27.61" height="15.40" fill="#3050E0"/>
<rect x="94.82" y="604.20" width="27.61" height="15.40" fill="#2090F0"/>
<rect x="122.43" y="604.20" width="27.61" height="15.40" fill="#10C0F8"/>
<rect x="150.04" y="604.20" width="27.61" height="15.40" fill="#A0D8F0"/>
<rect x="177.65" y="604.20" width="27.61" height="15.40" fill="#FFF080"/>
<rect x="205.26" y="604.20" width="27.61" height="15.40" fill="#FFB810"/>
<rect x="232.87" y="604.20" width="27.61" height="15.40" fill="#FF7300"/>
<rect x="260.48" y="604.20" width="27.61" height="15.40" fill="#FF0000"/>
<rect x="288.09" y="604.20" width="27.61" height="15.40" fill="#D7292A"/>
<line x1="67.21" y1="604.20" x2="67.21" y2="619.60" stroke="#222" stroke-width="0.75"/>
<line x1="94.82" y1="604.20" x2="94.82" y2="619.60" stroke="#222" stroke-width="0.75"/>
<line x1="122.43" y1="604.20" x2="122.43" y2="619.60" stroke="#222" stroke-width="0.75"/>
<line x1="150.04" y1="604.20" x2="150.04" y2="619.60" stroke="#222" stroke-width="0.75"/>
<line x1="177.65" y1="604.20" x2="177.65" y2="619.60" stroke="#222" stroke-width="0.75"/>
<line x1="205.26" y1="604.20" x2="205.26" y2="619.60" stroke="#222" stroke-width="0.75"/>
<line x1="232.87" y1="604.20" x2="232.87" y2="619.60" stroke="#222" stroke-width="0.75"/>
<line x1="260.48" y1="604.20" x2="260.48" y2="619.60" stroke="#222" stroke-width="0.75"/>
<line x1="288.09" y1="604.20" x2="288.09" y2="619.60" stroke="#222" stroke-width="0.75"/>
<rect x="39.60" y="604.20" width="276.10" height="15.40" fill="none" stroke="#222" stroke-width="0.75"/>
<text x="39.60" y="633.80" font-size="13" text-anchor="middle">-11.444</text>
<text x="94.82" y="633.80" font-size="13" text-anchor="middle">-1.2</text>
<text x="122.43" y="633.80" font-size="13" text-anchor="middle">-.8</text>
<text x="150.04" y="633.80" font-size="13" text-anchor="middle">-.4</text>
<text x="177.65" y="633.80" font-size="13" text-anchor="middle">0</text>
<text x="205.26" y="633.80" font-size="13" text-anchor="middle">.4</text>
<text x="232.87" y="633.80" font-size="13" text-anchor="middle">.8</text>
<text x="260.48" y="633.80" font-size="13" text-anchor="middle">1.2</text>
<text x="315.70" y="633.80" font-size="13" text-anchor="middle">6.095</text>
</svg></body></html>
